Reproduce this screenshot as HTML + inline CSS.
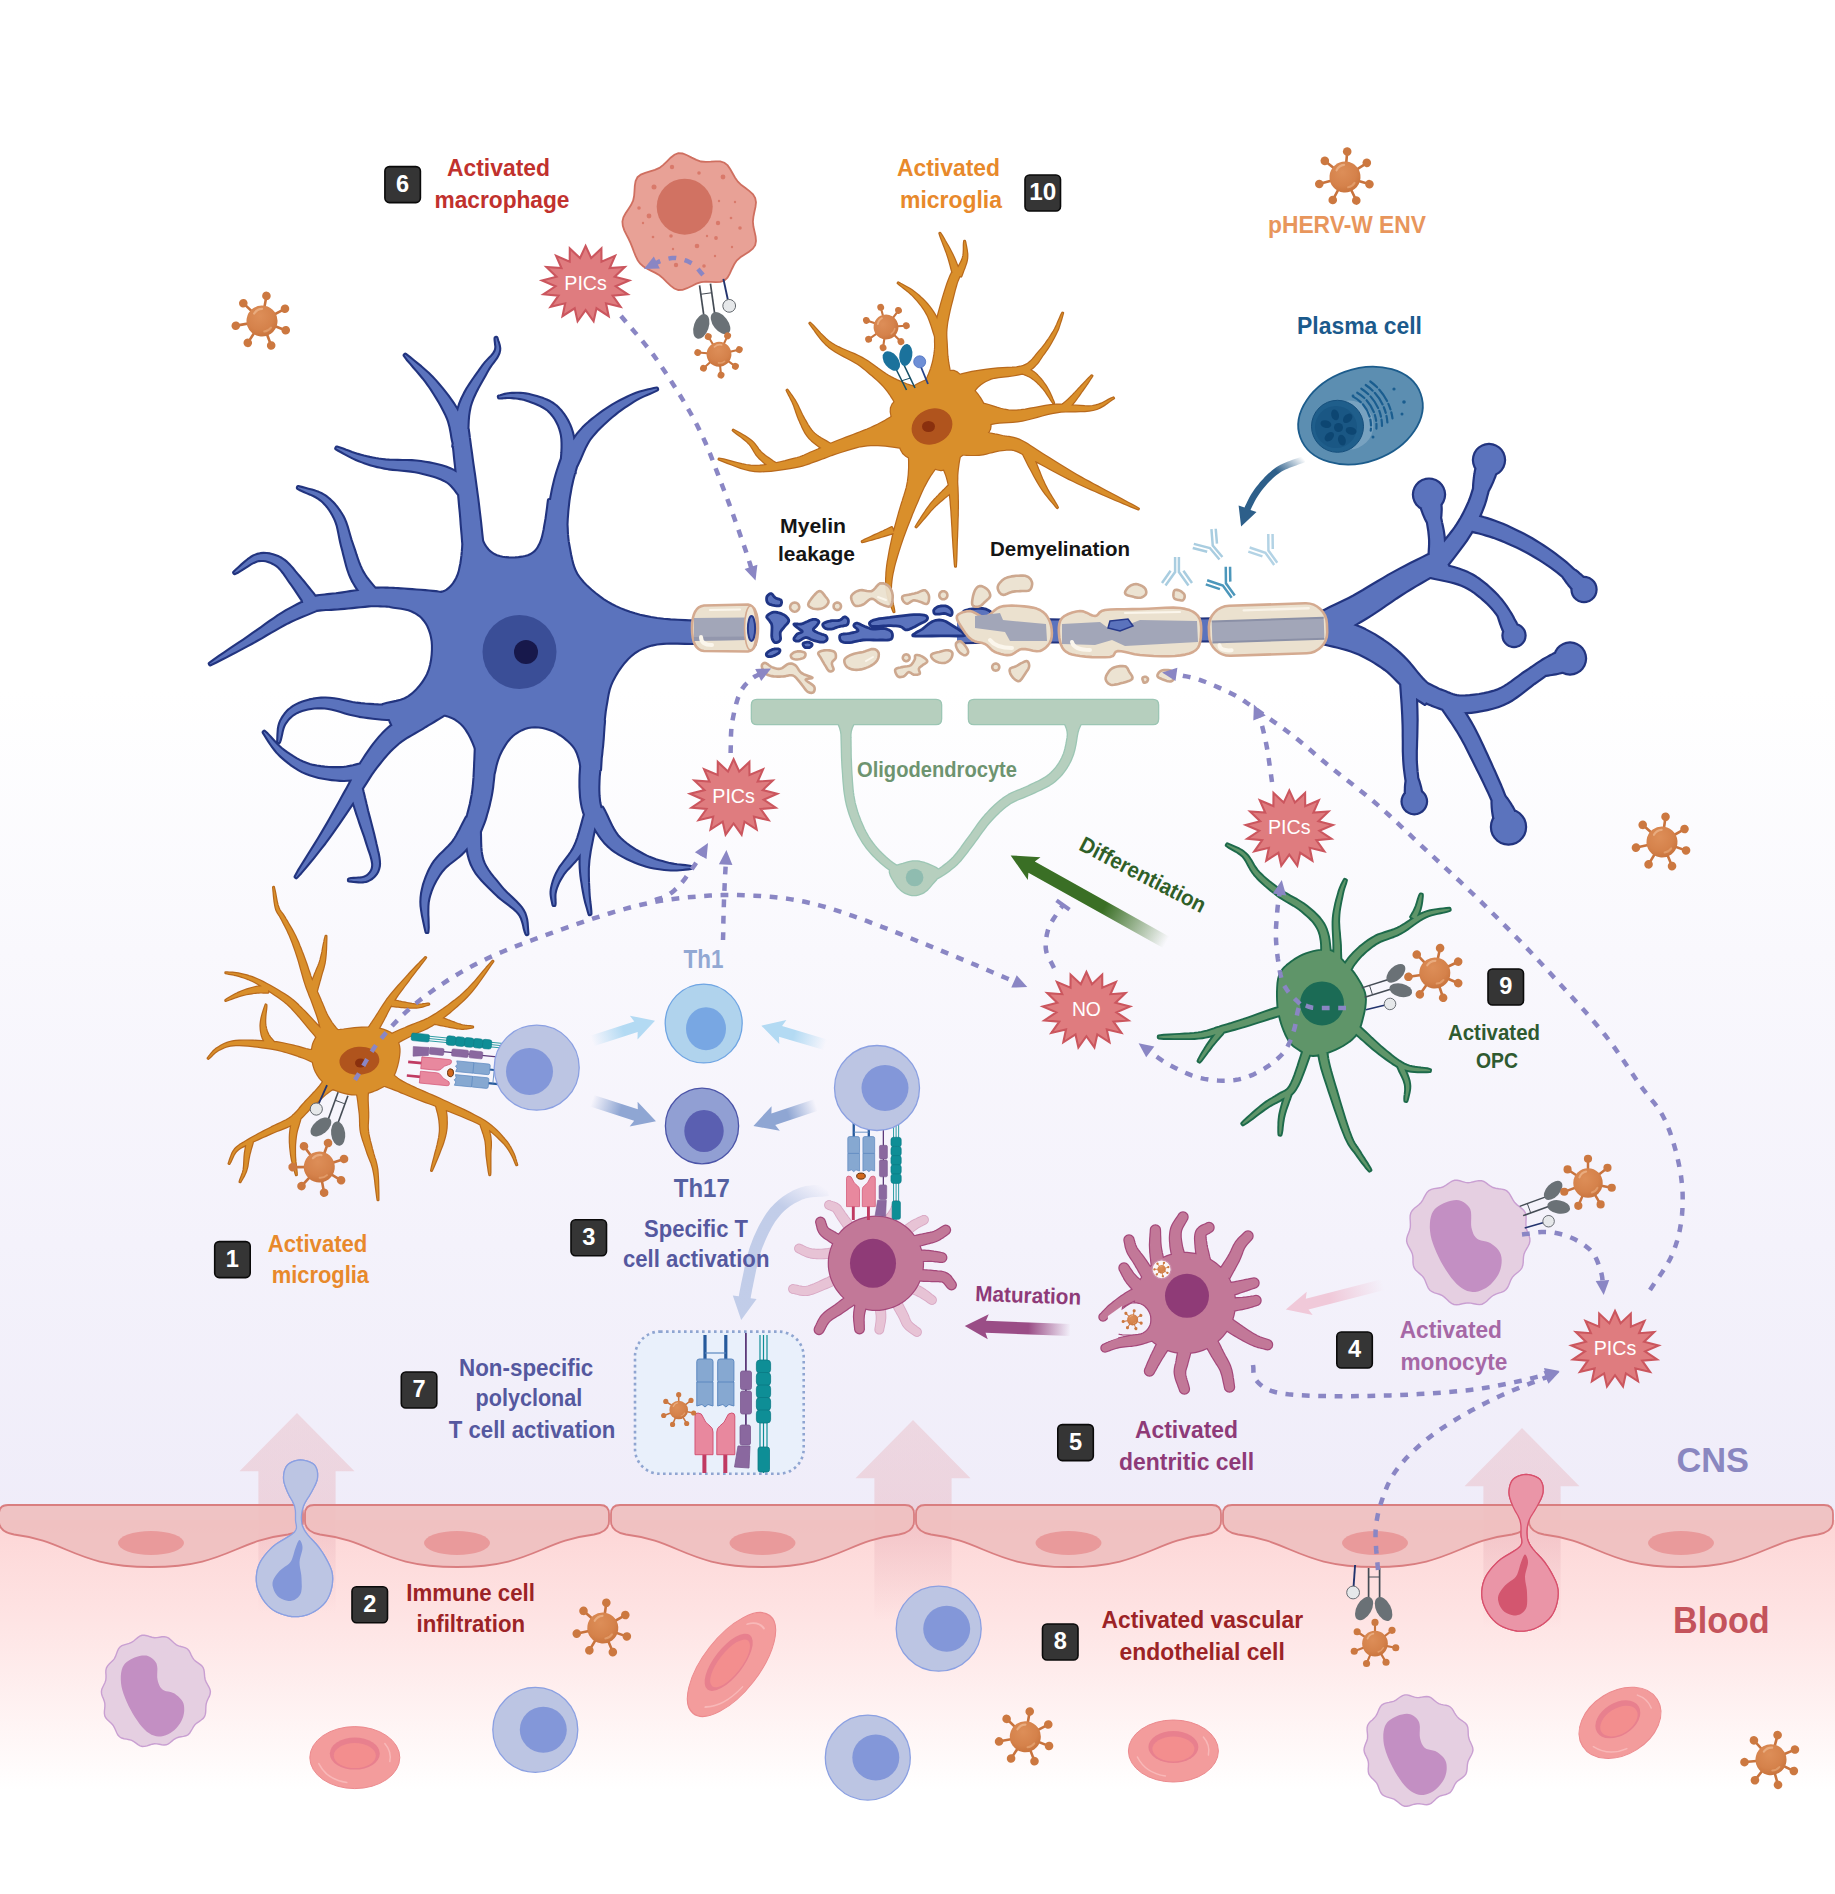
<!DOCTYPE html><html><head><meta charset="utf-8"><title>pHERV-W ENV in MS</title><style>html,body{margin:0;padding:0;background:#fff}svg{display:block}</style></head><body><svg width="1835" height="1894" viewBox="0 0 1835 1894" font-family="'Liberation Sans', sans-serif"><defs>
<linearGradient id="gCNS" x1="0" y1="0" x2="0" y2="1"><stop offset="0" stop-color="#ffffff"/><stop offset="0.45" stop-color="#ffffff"/><stop offset="0.62" stop-color="#f9f8fd"/><stop offset="1" stop-color="#efecf9"/></linearGradient>
<linearGradient id="gBlood" x1="0" y1="0" x2="0" y2="1"><stop offset="0" stop-color="#fdd6d6"/><stop offset="0.35" stop-color="#fee3e3"/><stop offset="1" stop-color="#ffffff"/></linearGradient>
<linearGradient id="gUp" x1="0" y1="0" x2="0" y2="1"><stop offset="0" stop-color="#e8b8c0" stop-opacity="0.42"/><stop offset="0.55" stop-color="#e8b0b8" stop-opacity="0.42"/><stop offset="1" stop-color="#e8b0b8" stop-opacity="0"/></linearGradient>
<radialGradient id="gVir" cx="0.4" cy="0.35" r="0.75"><stop offset="0" stop-color="#dd8e58"/><stop offset="0.6" stop-color="#d5824b"/><stop offset="1" stop-color="#c56f38"/></radialGradient>
<g id="virus">
<g stroke="#c8733d" stroke-width="2.6" stroke-linecap="round">
<line x1="0" y1="0" x2="0" y2="-25"/><line x1="0" y1="0" x2="20" y2="-15.5"/><line x1="0" y1="0" x2="24.5" y2="5"/><line x1="0" y1="0" x2="13" y2="22"/><line x1="0" y1="0" x2="-10" y2="23.5"/><line x1="0" y1="0" x2="-24.5" y2="9"/><line x1="0" y1="0" x2="-21" y2="-14"/>
</g>
<g fill="#cc7840">
<circle cx="0" cy="-25.5" r="4.3"/><circle cx="20.5" cy="-16" r="4.3"/><circle cx="25" cy="5" r="4.3"/><circle cx="13.3" cy="22.5" r="4.3"/><circle cx="-10.2" cy="24" r="4.3"/><circle cx="-25" cy="9.2" r="4.3"/><circle cx="-21.5" cy="-14.3" r="4.3"/>
</g>
<circle cx="0" cy="0" r="15.5" fill="url(#gVir)"/>
<path d="M-9,-6 Q-7,-11 -2,-12" stroke="#ecb48a" stroke-width="2.2" fill="none" stroke-linecap="round" opacity="0.8"/>
<path d="M4,10 Q8,9 10,5" stroke="#e8a878" stroke-width="2" fill="none" stroke-linecap="round" opacity="0.7"/>
</g>
<g id="lymph"><circle r="42.5" fill="#bcc5e3" stroke="#8ba0e2" stroke-width="1.3"/><ellipse cx="8" cy="0" rx="23.5" ry="23" fill="#8397d9"/></g>
<g id="rbc"><ellipse rx="45" ry="31" fill="#f39c9c" stroke="#ec8a8e" stroke-width="1"/><ellipse cx="0" cy="-4" rx="25" ry="16" fill="#e8808e"/><ellipse cx="0" cy="-2" rx="21" ry="12.5" fill="#f38e8e"/><path d="M-36,6 Q-28,22 -8,25" stroke="#f8b8b8" stroke-width="1.5" fill="none" stroke-linecap="round"/><path d="M30,-14 Q37,-6 35,4" stroke="#f8b8b8" stroke-width="1.5" fill="none" stroke-linecap="round"/></g>
<g id="rec">
<line x1="-5.5" y1="0" x2="-5.5" y2="30" stroke="#454c55" stroke-width="1.7"/><line x1="5.5" y1="0" x2="5.5" y2="30" stroke="#454c55" stroke-width="1.7"/><line x1="-5.5" y1="9" x2="5.5" y2="9" stroke="#454c55" stroke-width="1"/>
<ellipse cx="-9.5" cy="41" rx="7.4" ry="12.8" transform="rotate(27 -9.5 41)" fill="#6a7176"/><ellipse cx="10" cy="40.5" rx="7.4" ry="12.8" transform="rotate(-30 10 40.5)" fill="#6a7176"/>
<line x1="19" y1="-3" x2="20.5" y2="18" stroke="#23346e" stroke-width="1.9"/><circle cx="21" cy="24.5" r="6.4" fill="#e6e8ea" stroke="#5a5f66" stroke-width="0.9"/>
</g>
</defs><rect x="0" y="0" width="1835" height="1894" fill="#ffffff"/><rect x="0" y="0" width="1835" height="1535" fill="url(#gCNS)"/><rect x="0" y="1520" width="1835" height="270" fill="url(#gBlood)"/><path d="M297,1413 L354.5,1471.3 L335.6,1471.3 L335.6,1613 L258.4,1613 L258.4,1471.3 L239.5,1471.3Z" fill="url(#gUp)"/><path d="M913,1420 L970.5,1478.3 L951.6,1478.3 L951.6,1620 L874.4,1620 L874.4,1478.3 L855.5,1478.3Z" fill="url(#gUp)"/><path d="M1522,1428 L1579.5,1486.3 L1560.6,1486.3 L1560.6,1628 L1483.4,1628 L1483.4,1486.3 L1464.5,1486.3Z" fill="url(#gUp)"/><path d="M210.4,1691.6L210.1,1694 209.3,1696.4 208.1,1698.8 207,1701.3 206.2,1703.8 205.9,1706.3 205.8,1709 205.7,1711.7 205.4,1714.2 204.6,1716.5 203.2,1718.4 201.2,1720 199,1721.6 196.8,1723.1 194.9,1724.8 193.4,1726.8 192.2,1729 190.9,1731.2 189.6,1733.2 187.9,1734.8 185.9,1735.8 183.5,1736.4 181,1736.8 178.5,1737.3 176.2,1738.1 174.1,1739.3 172.2,1740.9 170.3,1742.5 168.4,1743.9 166.3,1744.8 164,1745 161.7,1744.8 159.3,1744.3 156.9,1743.9 154.5,1743.8 152.1,1744.2 149.6,1745 147.1,1745.9 144.7,1746.4 142.3,1746.5 140.1,1745.8 138,1744.6 136,1743.1 133.9,1741.6 131.7,1740.4 129.2,1739.7 126.6,1739.1 124,1738.7 121.6,1738 119.5,1736.8 117.9,1735 116.7,1732.7 115.6,1730.3 114.5,1727.8 113.2,1725.5 111.5,1723.6 109.6,1721.8 107.7,1720.1 106.1,1718.3 104.9,1716.2 104.4,1713.8 104.4,1711.2 104.7,1708.5 104.9,1705.9 104.8,1703.3 104.2,1700.9 103.3,1698.5 102.3,1696.2 101.6,1693.9 101.4,1691.6 101.8,1689.3 102.8,1687 103.9,1684.8 105,1682.5 105.8,1680.1 106,1677.7 106,1675.1 105.8,1672.5 105.9,1670.1 106.5,1667.8 107.6,1665.8 109.2,1664 111,1662.3 112.8,1660.6 114.4,1658.6 115.5,1656.4 116.5,1653.8 117.4,1651.3 118.5,1648.9 120,1647 121.9,1645.7 124.2,1644.8 126.7,1644.1 129.2,1643.4 131.5,1642.4 133.7,1641 135.7,1639.3 137.7,1637.6 139.8,1636.2 142,1635.3 144.4,1635.2 146.9,1635.7 149.4,1636.5 152,1637.2 154.5,1637.7 157,1637.6 159.5,1637.2 161.9,1636.8 164.3,1636.7 166.6,1637.1 168.7,1638.1 170.6,1639.7 172.5,1641.6 174.4,1643.3 176.4,1644.8 178.6,1645.8 181,1646.5 183.3,1647.1 185.5,1647.9 187.5,1649 189,1650.7 190.2,1652.8 191.2,1655.1 192.4,1657.3 193.7,1659.4 195.5,1661.1 197.6,1662.6 199.7,1664.1 201.6,1665.6 203.1,1667.5 203.9,1669.7 204.3,1672.1 204.5,1674.6 204.7,1677.2 205.2,1679.7 206.2,1682.1 207.5,1684.5 208.8,1686.8 209.9,1689.2Z" fill="#e5cfe1" stroke="#c99fd2" stroke-width="1.4"/><path d="M132.5,1658.6L134.6,1657.6 137,1656.7 139.5,1656 142,1655.6 144.4,1655.4 146.5,1655.6 148.5,1656.2 150.5,1657.2 152.3,1658.4 154,1659.9 155.4,1661.7 156.5,1663.6 157.1,1665.9 157.4,1668.6 157.3,1671.5 157.2,1674.4 157.2,1677.2 157.5,1679.6 158,1681.7 158.6,1683.6 159.3,1685.3 160.2,1686.9 161.2,1688.3 162.5,1689.6 164.1,1690.5 166.1,1691.2 168.2,1691.6 170.5,1692 172.6,1692.7 174.5,1693.6 176.3,1694.9 178.1,1696.3 179.8,1697.9 181.4,1699.7 182.6,1701.6 183.5,1703.6 184,1705.8 184.2,1708.3 184.2,1710.9 183.9,1713.6 183.3,1716.2 182.5,1718.6 181.4,1721 180,1723.4 178.3,1725.7 176.5,1727.9 174.5,1729.9 172.5,1731.6 170.4,1733 168.1,1734.3 165.8,1735.3 163.3,1736.1 160.9,1736.6 158.5,1736.6 156.2,1736.3 153.8,1735.6 151.5,1734.7 149.2,1733.3 146.8,1731.7 144.5,1729.6 142.1,1727.1 139.6,1724 137.2,1720.6 134.8,1717 132.5,1713.3 130.5,1709.6 128.6,1705.9 126.8,1702 125.1,1698 123.6,1694.1 122.4,1690.2 121.5,1686.6 121,1683.1 120.8,1679.6 120.8,1676.2 121.1,1673 121.7,1670.1 122.5,1667.6 123.6,1665.5 125,1663.6 126.7,1662.1 128.5,1660.8 130.5,1659.6Z" fill="#c38fc3"/><path d="M1473,1750L1472.5,1752.4 1471.5,1754.8 1470.2,1757.2 1468.9,1759.6 1467.9,1762 1467.4,1764.5 1467.2,1767 1467,1769.6 1466.6,1772 1465.8,1774.2 1464.3,1776.1 1462.4,1777.6 1460.3,1779.1 1458.2,1780.6 1456.3,1782.3 1454.9,1784.3 1453.8,1786.6 1452.7,1788.8 1451.5,1790.9 1450,1792.6 1448,1793.7 1445.8,1794.5 1443.4,1795.1 1441,1795.7 1438.8,1796.7 1436.8,1798.1 1434.9,1799.9 1433,1801.7 1431.1,1803.3 1429,1804.3 1426.8,1804.7 1424.4,1804.5 1422,1804.1 1419.5,1803.8 1417,1803.7 1414.5,1804.2 1412,1804.9 1409.4,1805.7 1406.9,1806.2 1404.6,1806.2 1402.3,1805.3 1400.2,1803.9 1398.2,1802.3 1396.1,1800.6 1394,1799.2 1391.6,1798.3 1389.1,1797.6 1386.6,1796.9 1384.3,1796 1382.4,1794.7 1380.9,1792.8 1379.8,1790.5 1378.8,1787.9 1377.9,1785.4 1376.7,1783.1 1375.1,1781.2 1373.4,1779.4 1371.5,1777.7 1370,1775.9 1368.8,1773.9 1368.3,1771.6 1368.2,1769.1 1368.4,1766.5 1368.5,1763.9 1368.2,1761.5 1367.5,1759.1 1366.4,1756.8 1365.3,1754.6 1364.4,1752.3 1364,1750 1364.3,1747.7 1365,1745.4 1365.9,1743.1 1366.9,1740.8 1367.5,1738.4 1367.6,1735.8 1367.4,1733.1 1367.1,1730.4 1367.1,1727.9 1367.6,1725.5 1368.8,1723.4 1370.4,1721.6 1372.3,1719.9 1374.2,1718.1 1375.8,1716.2 1377.1,1713.9 1378.1,1711.4 1379.2,1708.9 1380.4,1706.6 1382,1704.8 1384.1,1703.6 1386.5,1702.9 1389.1,1702.4 1391.7,1701.8 1394.1,1701.1 1396.3,1699.8 1398.4,1698.3 1400.5,1696.8 1402.6,1695.6 1404.8,1694.9 1407.1,1694.9 1409.6,1695.5 1412.1,1696.3 1414.6,1697.1 1417,1697.6 1419.4,1697.5 1421.8,1697.1 1424.2,1696.7 1426.6,1696.5 1428.8,1696.8 1430.9,1697.7 1432.8,1699.1 1434.7,1700.7 1436.6,1702.3 1438.7,1703.6 1441,1704.4 1443.4,1704.9 1445.9,1705.3 1448.3,1705.9 1450.3,1707 1452,1708.6 1453.3,1710.6 1454.5,1712.8 1455.8,1714.9 1457.3,1716.9 1459.1,1718.6 1461.3,1720.2 1463.5,1721.7 1465.5,1723.3 1467,1725.2 1467.8,1727.5 1468.1,1730 1468.2,1732.6 1468.3,1735.3 1468.7,1737.8 1469.5,1740.3 1470.7,1742.8 1471.8,1745.2 1472.7,1747.6Z" fill="#e5cfe1" stroke="#c99fd2" stroke-width="1.4"/><path d="M1395,1717L1397.1,1716 1399.5,1715.1 1402,1714.4 1404.5,1714 1406.9,1713.8 1409,1714 1411,1714.6 1413,1715.6 1414.8,1716.8 1416.5,1718.3 1417.9,1720.1 1419,1722 1419.6,1724.3 1419.9,1727 1419.8,1729.9 1419.7,1732.8 1419.7,1735.6 1420,1738 1420.5,1740.1 1421.1,1742 1421.8,1743.8 1422.7,1745.3 1423.7,1746.8 1425,1748 1426.6,1748.9 1428.6,1749.6 1430.8,1750 1433,1750.4 1435.1,1751.1 1437,1752 1438.8,1753.3 1440.6,1754.7 1442.3,1756.3 1443.9,1758.1 1445.1,1760 1446,1762 1446.5,1764.2 1446.7,1766.7 1446.7,1769.3 1446.4,1772 1445.8,1774.6 1445,1777 1443.9,1779.4 1442.5,1781.8 1440.8,1784.1 1439,1786.3 1437,1788.3 1435,1790 1432.9,1791.4 1430.6,1792.7 1428.2,1793.8 1425.8,1794.5 1423.4,1795 1421,1795 1418.7,1794.7 1416.3,1794 1414,1793.1 1411.7,1791.7 1409.3,1790.1 1407,1788 1404.6,1785.5 1402.1,1782.4 1399.7,1779 1397.3,1775.4 1395,1771.7 1393,1768 1391.1,1764.3 1389.3,1760.4 1387.6,1756.4 1386.1,1752.5 1384.9,1748.6 1384,1745 1383.5,1741.5 1383.3,1738 1383.3,1734.6 1383.6,1731.4 1384.2,1728.5 1385,1726 1386.1,1723.9 1387.5,1722 1389.2,1720.5 1391,1719.2 1393,1718Z" fill="#c38fc3"/><use href="#rbc" transform="translate(354.8 1757.6)"/><use href="#rbc" transform="translate(1173.4 1751)"/><use href="#rbc" transform="translate(731.5 1664.5) rotate(-52) scale(1.38 0.9)"/><use href="#rbc" transform="translate(1620 1722.8) rotate(-32) scale(0.98 1.02)"/><use href="#lymph" transform="translate(535.3 1729.8)"/><use href="#lymph" transform="translate(938.7 1628.7)"/><use href="#lymph" transform="translate(867.8 1757.6)"/><path d="M300.5,1460L302.9,1460.2 305.5,1460.6 308.1,1461.4 310.6,1462.4 312.8,1463.6 314.5,1465 315.7,1466.7 316.6,1468.7 317.2,1470.9 317.6,1473.3 317.6,1475.7 317.5,1478 317,1480.3 316.2,1482.6 315.2,1484.9 314,1487.3 312.7,1489.7 311.5,1492 310.2,1494.3 308.8,1496.7 307.2,1499 305.8,1501.3 304.5,1503.7 303.5,1506 302.8,1508.4 302.2,1510.7 301.8,1513.1 301.5,1515.5 301.4,1517.8 301.5,1520 301.7,1522 301.9,1523.9 302.4,1525.7 303.1,1527.6 304.1,1529.6 305.5,1532 307.5,1534.7 310.1,1537.6 313.1,1540.8 316.1,1544 319,1547.5 321.5,1551 323.8,1554.7 326.1,1558.6 328.3,1562.7 330.2,1566.8 331.7,1570.9 332.5,1575 332.7,1579.1 332.4,1583.4 331.7,1587.6 330.6,1591.7 329.2,1595.6 327.5,1599 325.5,1602 323.1,1604.8 320.4,1607.3 317.5,1609.5 314.5,1611.4 311.5,1613 308.4,1614.3 305.2,1615.4 301.8,1616.2 298.4,1616.6 294.9,1616.7 291.5,1616.5 288,1615.9 284.3,1615 280.6,1613.7 276.9,1612.1 273.5,1610.2 270.5,1608 267.7,1605.4 265.1,1602.3 262.6,1598.8 260.5,1595.2 258.8,1591.6 257.5,1588 256.7,1584.4 256.3,1580.7 256.3,1576.9 256.7,1573.2 257.4,1569.5 258.5,1566 260,1562.6 261.9,1559.3 264.2,1556.1 266.8,1552.9 269.6,1549.9 272.5,1547 275.9,1544.2 280,1541.6 284.3,1539.1 288.4,1536.6 292,1534.3 294.5,1532 295.9,1529.8 296.5,1527.9 296.4,1525.9 296.1,1524 295.7,1522.1 295.5,1520 295.5,1517.8 295.5,1515.5 295.5,1513.1 295.4,1510.7 295,1508.4 294.5,1506 293.6,1503.7 292.5,1501.3 291.2,1499 289.8,1496.7 288.6,1494.3 287.5,1492 286.6,1489.7 285.6,1487.3 284.8,1484.9 284.1,1482.6 283.7,1480.3 283.5,1478 283.6,1475.7 283.9,1473.3 284.4,1470.9 285.2,1468.7 286.2,1466.7 287.5,1465 289.1,1463.6 291.1,1462.4 293.4,1461.4 295.8,1460.6 298.2,1460.2Z" fill="#bcc5e3" stroke="#8ba0e2" stroke-width="1.3"/><path d="M299.5,1540L300.1,1540.3 300.8,1541.3 301.4,1542.6 302,1544.3 302.4,1546.1 302.5,1548 302.3,1550 301.8,1552.1 301.1,1554.5 300.4,1557 299.8,1559.5 299.5,1562 299.6,1564.6 299.9,1567.2 300.4,1569.9 300.9,1572.6 301.3,1575.3 301.5,1578 301.6,1580.8 301.7,1583.7 301.8,1586.6 301.6,1589.3 301.2,1591.9 300.5,1594 299.4,1595.8 297.9,1597.4 296.2,1598.8 294.4,1599.9 292.4,1600.6 290.5,1601 288.4,1601 286.1,1600.5 283.7,1599.8 281.4,1598.7 279.2,1597.4 277.5,1596 276.1,1594.3 274.8,1592.2 273.8,1589.9 273,1587.6 272.5,1585.2 272.5,1583 272.9,1580.9 273.8,1578.8 275,1576.8 276.4,1574.7 278,1572.8 279.5,1571 281.2,1569.4 283.1,1568 285.1,1566.6 287.1,1565.3 289,1563.8 290.5,1562 291.7,1559.9 292.6,1557.5 293.4,1554.9 294.1,1552.4 294.8,1550 295.5,1548 296.2,1546.1 296.9,1544.3 297.6,1542.6 298.3,1541.3 298.9,1540.3Z" fill="#8397d9"/><path d="M1526,1474.5L1528.4,1474.7 1531,1475.1 1533.6,1475.9 1536.1,1476.9 1538.3,1478.1 1540,1479.5 1541.2,1481.2 1542.1,1483.2 1542.8,1485.4 1543.1,1487.8 1543.1,1490.2 1543,1492.5 1542.5,1494.8 1541.7,1497.1 1540.7,1499.4 1539.5,1501.8 1538.2,1504.2 1537,1506.5 1535.7,1508.8 1534.3,1511.2 1532.8,1513.5 1531.3,1515.8 1530,1518.2 1529,1520.5 1528.2,1522.9 1527.7,1525.2 1527.2,1527.6 1527,1530 1526.9,1532.3 1527,1534.5 1527.2,1536.5 1527.4,1538.4 1527.9,1540.2 1528.6,1542.1 1529.6,1544.1 1531,1546.5 1533,1549.2 1535.6,1552.1 1538.6,1555.2 1541.6,1558.5 1544.5,1562 1547,1565.5 1549.3,1569.2 1551.6,1573.1 1553.8,1577.2 1555.7,1581.3 1557.2,1585.4 1558,1589.5 1558.2,1593.6 1557.9,1597.9 1557.2,1602.1 1556.1,1606.2 1554.7,1610.1 1553,1613.5 1551,1616.5 1548.6,1619.3 1545.9,1621.8 1543,1624 1540,1625.9 1537,1627.5 1533.9,1628.8 1530.7,1629.9 1527.3,1630.7 1523.9,1631.1 1520.4,1631.2 1517,1631 1513.5,1630.4 1509.8,1629.5 1506.1,1628.2 1502.4,1626.6 1499,1624.7 1496,1622.5 1493.2,1619.9 1490.6,1616.8 1488.1,1613.3 1486,1609.7 1484.3,1606.1 1483,1602.5 1482.2,1598.9 1481.8,1595.2 1481.8,1591.4 1482.2,1587.7 1482.9,1584 1484,1580.5 1485.5,1577.1 1487.4,1573.8 1489.7,1570.6 1492.3,1567.4 1495.1,1564.4 1498,1561.5 1501.4,1558.7 1505.5,1556.1 1509.8,1553.6 1513.9,1551.1 1517.5,1548.8 1520,1546.5 1521.4,1544.3 1522,1542.4 1521.9,1540.4 1521.6,1538.5 1521.2,1536.6 1521,1534.5 1521,1532.3 1521,1530 1521,1527.6 1520.9,1525.2 1520.5,1522.9 1520,1520.5 1519.1,1518.2 1518,1515.8 1516.7,1513.5 1515.3,1511.2 1514.1,1508.8 1513,1506.5 1512.1,1504.2 1511.1,1501.8 1510.3,1499.4 1509.6,1497.1 1509.2,1494.8 1509,1492.5 1509.1,1490.2 1509.4,1487.8 1509.9,1485.4 1510.7,1483.2 1511.7,1481.2 1513,1479.5 1514.6,1478.1 1516.6,1476.9 1518.9,1475.9 1521.3,1475.1 1523.7,1474.7Z" fill="#ea95a7" stroke="#d8506c" stroke-width="1.3"/><path d="M1525,1554.5L1525.6,1554.8 1526.3,1555.8 1526.9,1557.1 1527.5,1558.8 1527.9,1560.6 1528,1562.5 1527.8,1564.5 1527.3,1566.6 1526.6,1569 1525.9,1571.5 1525.3,1574 1525,1576.5 1525.1,1579.1 1525.4,1581.7 1525.9,1584.4 1526.4,1587.1 1526.8,1589.8 1527,1592.5 1527.1,1595.3 1527.2,1598.2 1527.2,1601.1 1527.1,1603.8 1526.7,1606.4 1526,1608.5 1524.9,1610.3 1523.4,1611.9 1521.8,1613.3 1519.9,1614.4 1517.9,1615.1 1516,1615.5 1513.9,1615.5 1511.6,1615 1509.2,1614.2 1506.9,1613.2 1504.7,1611.9 1503,1610.5 1501.6,1608.8 1500.3,1606.7 1499.2,1604.4 1498.5,1602.1 1498,1599.7 1498,1597.5 1498.4,1595.4 1499.3,1593.3 1500.5,1591.2 1501.9,1589.2 1503.5,1587.3 1505,1585.5 1506.7,1583.9 1508.6,1582.5 1510.6,1581.1 1512.6,1579.8 1514.5,1578.3 1516,1576.5 1517.2,1574.4 1518.1,1572 1518.9,1569.4 1519.6,1566.9 1520.3,1564.5 1521,1562.5 1521.7,1560.6 1522.4,1558.8 1523.1,1557.1 1523.8,1555.8 1524.4,1554.8Z" fill="#d3566f"/><path d="M8,1505 L294,1505 Q303,1505 303,1514 L303,1521 Q303,1532 288,1534.5 C234,1541 226,1567 151,1567 C76,1567 68,1541 14,1534.5 Q-1,1532 -1,1521 L-1,1514 Q-1,1505 8,1505Z" fill="#efbfbf" stroke="#d97e80" stroke-width="1.8" fill-opacity="0.93"/><ellipse cx="151" cy="1543" rx="33" ry="12" fill="#e99a9b"/><path d="M314,1505 L600,1505 Q609,1505 609,1514 L609,1521 Q609,1532 594,1534.5 C540,1541 532,1567 457,1567 C382,1567 374,1541 320,1534.5 Q305,1532 305,1521 L305,1514 Q305,1505 314,1505Z" fill="#efbfbf" stroke="#d97e80" stroke-width="1.8" fill-opacity="0.93"/><ellipse cx="457" cy="1543" rx="33" ry="12" fill="#e99a9b"/><path d="M620,1505 L905,1505 Q914,1505 914,1514 L914,1521 Q914,1532 899,1534.5 C845,1541 837.5,1567 762.5,1567 C687.5,1567 680,1541 626,1534.5 Q611,1532 611,1521 L611,1514 Q611,1505 620,1505Z" fill="#efbfbf" stroke="#d97e80" stroke-width="1.8" fill-opacity="0.93"/><ellipse cx="762.5" cy="1543" rx="33" ry="12" fill="#e99a9b"/><path d="M925,1505 L1212,1505 Q1221,1505 1221,1514 L1221,1521 Q1221,1532 1206,1534.5 C1152,1541 1143.5,1567 1068.5,1567 C993.5,1567 985,1541 931,1534.5 Q916,1532 916,1521 L916,1514 Q916,1505 925,1505Z" fill="#efbfbf" stroke="#d97e80" stroke-width="1.8" fill-opacity="0.93"/><ellipse cx="1068.5" cy="1543" rx="33" ry="12" fill="#e99a9b"/><path d="M1232,1505 L1518,1505 Q1527,1505 1527,1514 L1527,1521 Q1527,1532 1512,1534.5 C1458,1541 1450,1567 1375,1567 C1300,1567 1292,1541 1238,1534.5 Q1223,1532 1223,1521 L1223,1514 Q1223,1505 1232,1505Z" fill="#efbfbf" stroke="#d97e80" stroke-width="1.8" fill-opacity="0.93"/><ellipse cx="1375" cy="1543" rx="33" ry="12" fill="#e99a9b"/><path d="M1538,1505 L1824,1505 Q1833,1505 1833,1514 L1833,1521 Q1833,1532 1818,1534.5 C1764,1541 1756,1567 1681,1567 C1606,1567 1598,1541 1544,1534.5 Q1529,1532 1529,1521 L1529,1514 Q1529,1505 1538,1505Z" fill="#efbfbf" stroke="#d97e80" stroke-width="1.8" fill-opacity="0.93"/><ellipse cx="1681" cy="1543" rx="33" ry="12" fill="#e99a9b"/><path d="M300.5,1460L302.9,1460.2 305.5,1460.6 308.1,1461.4 310.6,1462.4 312.8,1463.6 314.5,1465 315.7,1466.7 316.6,1468.7 317.2,1470.9 317.6,1473.3 317.6,1475.7 317.5,1478 317,1480.3 316.2,1482.6 315.2,1484.9 314,1487.3 312.7,1489.7 311.5,1492 310.2,1494.3 308.8,1496.7 307.2,1499 305.8,1501.3 304.5,1503.7 303.5,1506 302.8,1508.4 302.2,1510.7 301.8,1513.1 301.5,1515.5 301.4,1517.8 301.5,1520 301.7,1522 301.9,1523.9 302.4,1525.7 303.1,1527.6 304.1,1529.6 305.5,1532 307.5,1534.7 310.1,1537.6 313.1,1540.8 316.1,1544 319,1547.5 321.5,1551 323.8,1554.7 326.1,1558.6 328.3,1562.7 330.2,1566.8 331.7,1570.9 332.5,1575 332.7,1579.1 332.4,1583.4 331.7,1587.6 330.6,1591.7 329.2,1595.6 327.5,1599 325.5,1602 323.1,1604.8 320.4,1607.3 317.5,1609.5 314.5,1611.4 311.5,1613 308.4,1614.3 305.2,1615.4 301.8,1616.2 298.4,1616.6 294.9,1616.7 291.5,1616.5 288,1615.9 284.3,1615 280.6,1613.7 276.9,1612.1 273.5,1610.2 270.5,1608 267.7,1605.4 265.1,1602.3 262.6,1598.8 260.5,1595.2 258.8,1591.6 257.5,1588 256.7,1584.4 256.3,1580.7 256.3,1576.9 256.7,1573.2 257.4,1569.5 258.5,1566 260,1562.6 261.9,1559.3 264.2,1556.1 266.8,1552.9 269.6,1549.9 272.5,1547 275.9,1544.2 280,1541.6 284.3,1539.1 288.4,1536.6 292,1534.3 294.5,1532 295.9,1529.8 296.5,1527.9 296.4,1525.9 296.1,1524 295.7,1522.1 295.5,1520 295.5,1517.8 295.5,1515.5 295.5,1513.1 295.4,1510.7 295,1508.4 294.5,1506 293.6,1503.7 292.5,1501.3 291.2,1499 289.8,1496.7 288.6,1494.3 287.5,1492 286.6,1489.7 285.6,1487.3 284.8,1484.9 284.1,1482.6 283.7,1480.3 283.5,1478 283.6,1475.7 283.9,1473.3 284.4,1470.9 285.2,1468.7 286.2,1466.7 287.5,1465 289.1,1463.6 291.1,1462.4 293.4,1461.4 295.8,1460.6 298.2,1460.2Z" fill="#bcc5e3" stroke="#8ba0e2" stroke-width="1.3"/><path d="M299.5,1540L300.1,1540.3 300.8,1541.3 301.4,1542.6 302,1544.3 302.4,1546.1 302.5,1548 302.3,1550 301.8,1552.1 301.1,1554.5 300.4,1557 299.8,1559.5 299.5,1562 299.6,1564.6 299.9,1567.2 300.4,1569.9 300.9,1572.6 301.3,1575.3 301.5,1578 301.6,1580.8 301.7,1583.7 301.8,1586.6 301.6,1589.3 301.2,1591.9 300.5,1594 299.4,1595.8 297.9,1597.4 296.2,1598.8 294.4,1599.9 292.4,1600.6 290.5,1601 288.4,1601 286.1,1600.5 283.7,1599.8 281.4,1598.7 279.2,1597.4 277.5,1596 276.1,1594.3 274.8,1592.2 273.8,1589.9 273,1587.6 272.5,1585.2 272.5,1583 272.9,1580.9 273.8,1578.8 275,1576.8 276.4,1574.7 278,1572.8 279.5,1571 281.2,1569.4 283.1,1568 285.1,1566.6 287.1,1565.3 289,1563.8 290.5,1562 291.7,1559.9 292.6,1557.5 293.4,1554.9 294.1,1552.4 294.8,1550 295.5,1548 296.2,1546.1 296.9,1544.3 297.6,1542.6 298.3,1541.3 298.9,1540.3Z" fill="#8397d9"/><path d="M1526,1474.5L1528.4,1474.7 1531,1475.1 1533.6,1475.9 1536.1,1476.9 1538.3,1478.1 1540,1479.5 1541.2,1481.2 1542.1,1483.2 1542.8,1485.4 1543.1,1487.8 1543.1,1490.2 1543,1492.5 1542.5,1494.8 1541.7,1497.1 1540.7,1499.4 1539.5,1501.8 1538.2,1504.2 1537,1506.5 1535.7,1508.8 1534.3,1511.2 1532.8,1513.5 1531.3,1515.8 1530,1518.2 1529,1520.5 1528.2,1522.9 1527.7,1525.2 1527.2,1527.6 1527,1530 1526.9,1532.3 1527,1534.5 1527.2,1536.5 1527.4,1538.4 1527.9,1540.2 1528.6,1542.1 1529.6,1544.1 1531,1546.5 1533,1549.2 1535.6,1552.1 1538.6,1555.2 1541.6,1558.5 1544.5,1562 1547,1565.5 1549.3,1569.2 1551.6,1573.1 1553.8,1577.2 1555.7,1581.3 1557.2,1585.4 1558,1589.5 1558.2,1593.6 1557.9,1597.9 1557.2,1602.1 1556.1,1606.2 1554.7,1610.1 1553,1613.5 1551,1616.5 1548.6,1619.3 1545.9,1621.8 1543,1624 1540,1625.9 1537,1627.5 1533.9,1628.8 1530.7,1629.9 1527.3,1630.7 1523.9,1631.1 1520.4,1631.2 1517,1631 1513.5,1630.4 1509.8,1629.5 1506.1,1628.2 1502.4,1626.6 1499,1624.7 1496,1622.5 1493.2,1619.9 1490.6,1616.8 1488.1,1613.3 1486,1609.7 1484.3,1606.1 1483,1602.5 1482.2,1598.9 1481.8,1595.2 1481.8,1591.4 1482.2,1587.7 1482.9,1584 1484,1580.5 1485.5,1577.1 1487.4,1573.8 1489.7,1570.6 1492.3,1567.4 1495.1,1564.4 1498,1561.5 1501.4,1558.7 1505.5,1556.1 1509.8,1553.6 1513.9,1551.1 1517.5,1548.8 1520,1546.5 1521.4,1544.3 1522,1542.4 1521.9,1540.4 1521.6,1538.5 1521.2,1536.6 1521,1534.5 1521,1532.3 1521,1530 1521,1527.6 1520.9,1525.2 1520.5,1522.9 1520,1520.5 1519.1,1518.2 1518,1515.8 1516.7,1513.5 1515.3,1511.2 1514.1,1508.8 1513,1506.5 1512.1,1504.2 1511.1,1501.8 1510.3,1499.4 1509.6,1497.1 1509.2,1494.8 1509,1492.5 1509.1,1490.2 1509.4,1487.8 1509.9,1485.4 1510.7,1483.2 1511.7,1481.2 1513,1479.5 1514.6,1478.1 1516.6,1476.9 1518.9,1475.9 1521.3,1475.1 1523.7,1474.7Z" fill="#ea95a7" stroke="#d8506c" stroke-width="1.3"/><path d="M1525,1554.5L1525.6,1554.8 1526.3,1555.8 1526.9,1557.1 1527.5,1558.8 1527.9,1560.6 1528,1562.5 1527.8,1564.5 1527.3,1566.6 1526.6,1569 1525.9,1571.5 1525.3,1574 1525,1576.5 1525.1,1579.1 1525.4,1581.7 1525.9,1584.4 1526.4,1587.1 1526.8,1589.8 1527,1592.5 1527.1,1595.3 1527.2,1598.2 1527.2,1601.1 1527.1,1603.8 1526.7,1606.4 1526,1608.5 1524.9,1610.3 1523.4,1611.9 1521.8,1613.3 1519.9,1614.4 1517.9,1615.1 1516,1615.5 1513.9,1615.5 1511.6,1615 1509.2,1614.2 1506.9,1613.2 1504.7,1611.9 1503,1610.5 1501.6,1608.8 1500.3,1606.7 1499.2,1604.4 1498.5,1602.1 1498,1599.7 1498,1597.5 1498.4,1595.4 1499.3,1593.3 1500.5,1591.2 1501.9,1589.2 1503.5,1587.3 1505,1585.5 1506.7,1583.9 1508.6,1582.5 1510.6,1581.1 1512.6,1579.8 1514.5,1578.3 1516,1576.5 1517.2,1574.4 1518.1,1572 1518.9,1569.4 1519.6,1566.9 1520.3,1564.5 1521,1562.5 1521.7,1560.6 1522.4,1558.8 1523.1,1557.1 1523.8,1555.8 1524.4,1554.8Z" fill="#d3566f"/><use href="#rec" transform="translate(1374.1 1568) scale(-1 1)"/><path d="M476,500L476.5,504.2 477,508.6 477.4,512.9 477.9,517.2 478.4,521.2 479,525 479.5,528.5 480,531.7 480.5,534.8 481.1,537.7 481.9,540.4 483,543 484.3,545.4 485.9,547.8 487.6,549.9 489.6,551.9 491.7,553.6 494,555 496.6,556.2 499.4,557.1 502.5,557.7 505.7,558.2 508.9,558.4 512,558.5 515.2,558.4 518.6,558.2 522,557.7 525.3,557.1 528.3,556.2 531,555 533.2,553.6 535.2,552 536.9,550.1 538.4,548 539.7,545.6 541,543 542.1,540 543.1,536.7 543.9,533.1 544.7,529.4 545.3,525.7 546,522 546.6,518.4 547.1,514.7 547.6,511.1 548.1,507.4 548.5,503.7 549,500 566,500 566.1,504.2 566.1,508.5 566.2,512.8 566.2,517 566.3,521.1 566.5,525 566.7,528.6 566.8,531.8 567,535 567.3,538.1 567.7,541.6 568.4,545.4 569.2,549.8 570.1,554.7 571.2,559.8 572.5,564.9 574.2,569.8 576.5,574.4 579.4,578.6 582.8,582.7 586.6,586.6 590.7,590.3 594.9,593.8 599,597 603,599.9 607.1,602.5 611.3,604.9 615.6,607.1 620.1,609.1 624.8,611 629.7,612.7 634.7,614.3 639.8,615.7 645.2,616.9 650.9,618 657,619 663.5,619.8 670.5,620.4 677.8,620.8 685.3,621.2 692.7,621.6 700,622 700,643 692.6,643 685,642.8 677.4,642.6 670.1,642.5 663.2,642.8 657,643.5 651.6,644.6 646.8,646 642.5,647.7 638.5,649.7 634.7,652.1 631,655 627.3,658.5 623.7,662.5 620.3,667 617.1,671.6 614.4,676.2 612,680.7 610.2,684.9 608.8,689.1 607.8,693.2 607,697.4 606.3,701.8 605.5,706.5 604.7,711.5 604.1,716.8 603.5,722.3 602.9,727.8 602.5,733.3 602,738.7 601.6,744 601.2,749.2 600.9,754.4 600.6,759.6 600.3,764.8 600,770 582,775 581.7,772.5 581.5,770 581.3,767.5 581,765 580.6,762.5 580,760 579.3,757.5 578.5,755 577.6,752.5 576.4,750 574.9,747.5 573,745 570.6,742.4 567.7,739.8 564.5,737.1 561,734.6 557.5,732.4 554,730.6 550.4,729.2 546.6,728 542.7,727 538.8,726.4 535,726.2 531.4,726.4 527.9,727 524.5,728.1 521.1,729.5 517.9,731.2 514.8,733.2 512,735.5 509.4,738.1 506.9,741.1 504.7,744.3 502.6,747.8 500.7,751.3 499,754.8 497.6,758.4 496.4,762.1 495.4,765.8 494.6,769.7 493.7,773.5 492.7,777.3 477,777.3 477.1,773 477.3,768.7 477.6,764.5 477.7,760.2 477.4,755.9 476.6,751.6 475.3,747.1 473.5,742.5 471.4,737.8 469,733.3 466.5,729.3 463.8,725.8 461,722.9 457.9,720.4 454.7,718.3 451.3,716.7 447.9,715.4 444.4,714.5 440.9,714.1 437.3,714 433.6,714.4 429.8,715.2 425.9,716.3 421.9,717.7 417.8,719.5 413.5,721.9 409.2,724.6 404.8,727.5 400.4,730.3 396,733 383,705 387.4,703.8 391.9,702.9 396.4,701.9 400.9,700.7 405.1,699.2 409,697 412.7,694.2 416.4,690.8 419.8,687 423,682.9 425.7,678.7 428,674.4 429.8,669.9 431.1,665 432.1,659.9 432.7,654.8 433,649.9 433,645.4 432.7,641.2 432,637.1 431.1,633.2 429.8,629.5 428.4,626.1 426.7,623 424.8,620.3 422.7,617.8 420.4,615.6 417.8,613.7 415,612 412,610.5 408.7,609.3 405.1,608.4 401.3,607.8 397.4,607.2 393.5,606.7 389.7,606 396,590 400.4,590.6 404.8,591.4 409.2,592.1 413.6,592.7 417.9,593.2 422,593.5 426.1,593.7 430.1,593.8 434,593.9 437.8,593.6 441.3,593 444.4,592 447.2,590.5 449.7,588.5 451.9,586.3 453.9,583.7 455.7,580.9 457.3,577.9 458.7,574.7 459.8,571.1 460.6,567.3 461.4,563.4 462,559.3 462.5,555.3 462.9,551.2 463.2,547.1 463.4,542.9 463.5,538.6 463.5,534.1 463.5,529.6 463.4,524.9 463.2,520 462.9,515 462.6,510 462.3,505 462,500ZM466,576L465.7,572.3 465.4,568.8 465.2,565.4 464.9,561.9 464.6,558.3 464.2,554.5 463.9,550.4 463.5,545.9 463.1,541 462.7,535.7 462.2,530.1 461.7,524.3 461.3,518.4 460.8,512.5 460.2,506.7 459.7,501 459.2,495.2 458.5,489.3 457.9,483.3 457.3,477.3 456.6,471.5 456,465.9 455.4,460.7 454.9,456 454.5,451.9 454.1,448.3 453.8,445.1 453.5,442.2 453.2,439.4 452.9,436.7 452.6,433.9 452.3,430.9 467.7,429.1 468.1,432.1 468.5,434.9 468.8,437.6 469.2,440.3 469.6,443.2 470,446.4 470.5,449.9 471.1,454 471.7,458.7 472.4,463.8 473.2,469.4 474.1,475.2 474.9,481.2 475.7,487.2 476.5,493.2 477.3,499 478,504.8 478.7,510.7 479.4,516.6 480.1,522.5 480.7,528.3 481.3,533.9 481.9,539.2 482.5,544.1 483,548.5 483.5,552.6 483.9,556.4 484.3,560 484.7,563.4 485.1,566.9 485.5,570.4 486,574ZM453.8,444L453,440.5 452.3,437 451.8,433.6 451.2,430.4 450.6,427.3 449.8,424.2 448.9,421 447.6,417.6 446,414 444,410.1 441.9,406 439.5,401.8 437,397.6 434.4,393.4 431.8,389.3 429.1,385.4 426.3,381.6 423.4,377.8 420.3,374.1 417.2,370.5 414,366.8 410.8,363 407.6,359.3 404.7,355.3 405.3,354.7 409.2,357.7 413,360.8 416.8,363.9 420.6,367 424.3,370.3 428,373.6 431.5,377 434.9,380.6 438.2,384.4 441.5,388.3 444.7,392.3 447.8,396.3 450.8,400.4 453.6,404.5 456.1,408.5 458.4,412.4 460.4,416.2 462,420 463.3,423.7 464.4,427.2 465.4,430.5 466.3,433.8 467.2,436.8 468.2,440ZM453.3,446.3L454,441.1 454.6,435.9 455.2,430.5 455.8,425.1 456.5,419.6 457.4,414.2 458.6,408.8 460.3,403.5 462.4,398.4 464.9,393.4 467.6,388.6 470.6,384 473.5,379.6 476.4,375.5 479.1,371.8 481.4,368.4 483.7,365.3 485.9,362.6 488,360.3 490,358.2 491.8,356.4 493.3,354.7 494.5,353 495.4,351.4 496,349.8 496.3,348.2 496.4,346.6 496.2,345 496,343.3 495.8,341.6 495.6,339.8 495.6,338.1 496.4,337.9 496.9,339.6 497.4,341.2 498,342.8 498.5,344.5 498.9,346.3 499.2,348.3 499.1,350.4 498.6,352.6 497.7,354.8 496.5,357 495.1,359.1 493.5,361.2 491.8,363.4 490.1,365.8 488.3,368.5 486.6,371.6 484.6,375.2 482.3,379.3 479.9,383.5 477.4,388 475.1,392.6 472.9,397.3 471.1,402 469.7,406.5 468.8,411 468.1,415.8 467.7,420.8 467.5,426 467.3,431.3 467.2,436.8 467,442.3 466.7,447.7ZM461.9,497.8L459.8,495.4 457.8,492.9 456,490.5 454.3,488.3 452.6,486.3 450.9,484.5 449.1,482.9 447,481.4 444.4,480 441.4,478.6 438.1,477.3 434.6,476.1 430.9,474.9 427,473.9 423,472.9 419.1,472 415.2,471.2 411,470.6 406.5,470.1 402,469.7 397.4,469.2 392.9,468.8 388.5,468.3 384.5,467.6 380.8,466.8 377.4,466.1 374.1,465.2 371.1,464.4 368.1,463.4 365.1,462.5 362.2,461.4 359.2,460.3 356.2,459 353.3,457.7 350.4,456.2 347.5,454.7 344.7,453.2 341.9,451.6 339.1,450.1 336.3,448.4 336.7,447.6 339.8,448.5 342.8,449.5 345.8,450.7 348.8,451.8 351.8,452.9 354.8,453.9 357.8,454.9 360.8,455.7 363.7,456.5 366.7,457.2 369.6,457.9 372.5,458.5 375.5,459.1 378.6,459.6 382,460 385.5,460.4 389.3,460.7 393.4,460.8 397.8,460.9 402.4,461 407.1,461 411.8,461.2 416.4,461.5 420.9,462 425.1,462.7 429.3,463.4 433.5,464.2 437.7,465.2 441.7,466.3 445.7,467.5 449.4,468.9 453,470.6 456.4,472.6 459.4,474.9 462,477.3 464.3,479.7 466.4,482 468.3,484.2 470.1,486.2 472.1,488.2ZM543.1,574L543.5,570.3 543.9,566.6 544.4,562.9 544.8,559.3 545.3,555.6 545.7,551.9 546.2,548.1 546.6,544.2 547,540.2 547.3,535.9 547.6,531.4 548,526.9 548.3,522.3 548.7,517.8 549.2,513.3 549.7,509 550.3,505 550.8,501.2 551.4,497.5 552.1,493.8 552.8,490.2 553.6,486.5 554.5,482.8 555.4,479 556.5,475.1 557.7,471.1 559,467.1 560.3,463.2 561.7,459.2 563,455.4 564.3,451.5 565.6,447.7 580.4,452.3 579.2,456.3 578,460.2 576.8,464.2 575.6,468.1 574.5,471.9 573.4,475.7 572.4,479.4 571.6,483 570.8,486.5 570.2,490 569.6,493.3 569,496.7 568.5,500.1 568.1,503.6 567.7,507.2 567.3,511 567,515 566.7,519.1 566.5,523.5 566.3,528 566.1,532.5 565.9,537 565.7,541.5 565.4,545.8 565.1,549.9 564.8,553.8 564.5,557.6 564.2,561.3 563.9,565 563.6,568.6 563.3,572.3 562.9,576ZM563.4,458.5L565.3,455.2 567.1,452 569,448.6 570.9,445.1 572.9,441.6 575.1,438.1 577.5,434.6 580.3,431.3 583.2,428.1 586.3,425.1 589.5,422.2 592.8,419.4 596.2,416.8 599.6,414.2 603,411.8 606.4,409.5 609.8,407.3 613.3,405.1 616.8,403.1 620.3,401.2 623.8,399.4 627.3,397.7 630.6,396.1 633.9,394.7 637,393.5 640,392.5 642.9,391.7 645.7,391 648.5,390.3 651.2,389.7 654,389.1 656.9,388.6 657.1,389.4 654.5,390.7 651.9,391.9 649.3,393 646.8,394 644.2,395.2 641.5,396.4 638.9,397.7 636.1,399.3 633.2,401 630.2,402.9 627.1,404.9 623.9,407.1 620.8,409.3 617.6,411.6 614.6,414 611.6,416.5 608.7,419 605.7,421.7 602.7,424.4 599.8,427.2 597,430.1 594.4,433 591.9,435.9 589.7,438.7 587.8,441.7 586.1,444.7 584.5,447.9 583,451.2 581.5,454.7 580,458.3 578.3,461.9 576.6,465.5ZM561.3,473L561.4,468 561.7,462.8 562,457.6 562.4,452.5 562.6,447.7 562.6,443.1 562.4,438.9 561.9,435.1 561.1,431.6 560.1,428.2 558.9,425 557.4,422 555.9,419.2 554.1,416.5 552.2,414.1 550.3,411.9 548.3,409.9 545.9,408.2 543.3,406.6 540.5,405.1 537.6,403.8 534.7,402.6 531.8,401.5 529.2,400.5 526.8,399.7 524.6,399 522.3,398.5 520.1,398.1 518,397.7 515.9,397.5 513.9,397.3 512,397.1 510.2,396.9 508.5,396.9 506.9,397 505.4,397.1 503.8,397.2 502.3,397.3 500.7,397.4 499.1,397.4 498.9,396.6 500.5,396.2 502,395.7 503.5,395.3 505,394.9 506.6,394.6 508.3,394.3 510.1,394.1 512,393.9 514,393.9 516.1,393.8 518.3,393.8 520.6,393.9 523,394.1 525.5,394.4 528.1,394.8 530.8,395.5 533.6,396.2 536.6,397 539.7,398 543,399.1 546.3,400.4 549.6,402 552.8,403.9 555.7,406.1 558.3,408.6 560.8,411.3 563.1,414.3 565.3,417.5 567.3,420.9 569.1,424.6 570.7,428.6 572.1,432.9 573.1,437.5 573.7,442.4 574.1,447.5 574.3,452.7 574.4,457.9 574.4,463.1 574.5,468.1 574.7,473ZM448.4,613.4L446.2,612.9 444,612.5 442,612.1 439.9,611.7 437.9,611.3 435.7,610.9 433.2,610.5 430.4,610.1 427.1,609.7 423.3,609.2 419.1,608.7 414.8,608.2 410.5,607.8 406.4,607.3 402.6,606.9 399.3,606.6 396.5,606.3 394.2,606.1 392.2,605.9 390.3,605.8 388.6,605.7 386.9,605.6 385,605.5 382.8,605.4 380.4,605.3 378,605.2 375.4,605.2 372.8,605.1 370.1,605.1 367.4,605.1 364.7,605 362,605 362,589 364.6,588.9 367.3,588.9 370,588.8 372.7,588.8 375.4,588.7 378.1,588.7 380.7,588.6 383.2,588.6 385.5,588.7 387.5,588.7 389.4,588.8 391.3,588.8 393.3,588.9 395.5,589.1 397.9,589.2 400.7,589.4 404.1,589.6 407.9,589.9 412.1,590.2 416.5,590.5 420.9,590.8 425.1,591.2 429.1,591.5 432.6,591.9 435.7,592.2 438.4,592.6 440.9,592.9 443.2,593.3 445.3,593.6 447.4,594 449.4,594.3 451.6,594.6ZM373,604.9L368.9,605.3 364.8,605.8 360.5,606.2 356.3,606.6 352.2,607.1 348.2,607.5 344.4,607.8 340.8,608.1 337.4,608.4 334.2,608.6 331.2,608.8 328.4,608.9 325.8,609 323.3,609.2 321,609.3 318.9,609.6 316.9,609.8 315.2,610.1 313.6,610.4 312,610.7 310.4,611 308.8,611.4 307.1,611.7 305.4,612.1 302.6,599.9 304.3,599.5 305.8,599.1 307.4,598.6 309,598.2 310.8,597.7 312.7,597.3 314.8,596.9 317.1,596.4 319.6,596.1 322.1,595.8 324.7,595.5 327.4,595.2 330.1,594.9 333,594.6 336,594.3 339.2,593.9 342.7,593.4 346.4,592.8 350.3,592.2 354.4,591.6 358.6,591 362.8,590.3 366.9,589.7 371,589.1ZM368.2,603.3L366.1,600.3 364.1,597.4 361.9,594.5 359.7,591.5 357.5,588.3 355.4,585 353.3,581.5 351.5,577.8 349.8,573.9 348.4,569.9 347.2,565.9 346.1,561.8 345.1,557.8 344.1,553.9 343.2,550.1 342.2,546.4 341.3,542.7 340.5,539 339.8,535.4 339.1,531.9 338.4,528.6 337.7,525.5 336.7,522.5 335.6,519.7 334.3,516.9 332.8,514.1 331.3,511.5 329.6,508.9 327.8,506.5 325.8,504.2 323.7,502 321.5,500 319.1,498.2 316.5,496.6 313.6,495.1 310.5,493.7 307.3,492.4 304.1,491 300.9,489.6 297.9,487.9 298.1,487.1 301.5,487.9 304.8,488.8 308.2,489.7 311.6,490.6 315,491.6 318.3,492.8 321.5,494.2 324.5,496 327.2,498 329.8,500.2 332.2,502.5 334.5,505 336.7,507.7 338.7,510.4 340.6,513.3 342.4,516.3 344,519.5 345.4,522.9 346.6,526.4 347.6,529.8 348.6,533.3 349.6,536.8 350.6,540.2 351.8,543.6 353,547.2 354.3,551 355.5,554.8 356.8,558.6 358.1,562.3 359.5,565.8 361,569.1 362.5,572.2 364.3,575.1 366.2,577.9 368.2,580.6 370.4,583.3 372.7,586 375.1,588.8 377.5,591.8 379.8,594.7ZM307,606.7L304.9,603.7 302.9,600.6 300.9,597.5 298.9,594.5 296.9,591.5 294.9,588.6 293,585.8 291,583.1 289.1,580.4 287.3,577.7 285.5,575.1 283.8,572.6 282.1,570.4 280.4,568.4 278.7,566.7 276.9,565.3 274.9,564 272.7,562.8 270.5,561.7 268.2,560.9 265.8,560.3 263.5,559.9 261.1,559.9 258.7,560.1 256.2,560.8 253.4,562 250.5,563.5 247.5,565.4 244.3,567.4 241.1,569.5 237.9,571.5 234.6,573.1 234.2,572.5 236.8,570 239.6,567.5 242.4,564.9 245.3,562.4 248.2,560 251.1,557.9 254.2,556.1 257.3,554.9 260.5,554.2 263.6,553.9 266.7,554 269.8,554.4 272.7,555.2 275.6,556.2 278.4,557.3 281.1,558.7 283.7,560.4 286.2,562.4 288.5,564.7 290.7,567.1 292.8,569.5 294.8,572 296.9,574.5 299,576.9 301.2,579.5 303.4,582.2 305.7,585 308,587.9 310.3,590.8 312.6,593.6 314.8,596.5 317,599.3ZM316.8,609.9L313.1,611.4 309.5,612.9 305.9,614.4 302.3,615.8 298.8,617.3 295.1,618.9 291.4,620.6 287.5,622.5 283.5,624.6 279.3,626.9 275,629.4 270.5,632 265.9,634.6 261.3,637.4 256.5,640.1 251.7,642.8 246.8,645.5 241.7,648.2 236.6,650.9 231.4,653.6 226.1,656.4 220.8,659.1 215.5,661.8 210.2,664.3 209.8,663.7 214.5,660.2 219.4,656.8 224.3,653.4 229.3,650.1 234.1,646.8 239,643.6 243.7,640.4 248.3,637.2 252.8,634.1 257.2,631 261.6,627.9 265.9,624.8 270.1,621.8 274.3,618.9 278.4,616.1 282.5,613.5 286.4,611.1 290.2,609 293.9,607 297.4,605.2 300.9,603.4 304.3,601.7 307.7,599.9 311.2,598.1ZM442.8,708L440.6,708.7 438.5,709.4 436.5,710 434.3,710.8 432,711.5 429.6,712.2 426.9,712.9 424.1,713.6 421.3,714.3 418.2,715.1 414.9,715.9 411.4,716.8 407.7,717.5 403.8,718.2 399.7,718.7 395.5,719 391.2,719.1 386.7,718.9 382.2,718.7 377.6,718.2 372.9,717.7 368.3,717.1 363.7,716.5 359.2,715.8 354.5,714.8 349.8,713.7 345.2,712.4 340.8,711 336.4,709.8 332.3,708.7 328.4,707.9 324.8,707.4 321.3,707.3 317.7,707.3 314.3,707.5 311,707.9 307.8,708.5 304.8,709.2 301.9,710 299.3,710.9 297,712 294.8,713.2 292.8,714.5 291,716 289.2,717.6 287.6,719.3 286.2,721.2 284.9,723 283.8,725 282.9,727.1 282.2,729.4 281.6,731.8 281.1,734.4 280.5,737 279.9,739.6 279,742.1 278.2,741.9 278.3,739.3 278.4,736.7 278.5,734.1 278.7,731.4 278.9,728.7 279.4,726.1 280.1,723.5 281.1,721 282.4,718.7 283.8,716.4 285.4,714.2 287.2,712.1 289.2,710.1 291.5,708.3 294,706.6 296.7,705.1 299.6,703.7 302.7,702.5 306,701.4 309.5,700.4 313.2,699.7 317.1,699.1 321.1,698.7 325.2,698.6 329.6,698.8 334.1,699.3 338.7,700.1 343.2,701.1 347.8,702.1 352.3,703 356.6,703.7 360.8,704.2 365.1,704.6 369.6,704.9 374,705.2 378.4,705.4 382.7,705.5 386.9,705.4 390.9,705.3 394.5,705 397.9,704.5 401.2,703.9 404.5,703.1 407.7,702.2 410.8,701.3 413.9,700.3 417,699.3 419.9,698.4 422.4,697.6 424.7,696.8 426.8,696 428.8,695.2 430.8,694.5 432.9,693.6 435,692.8 437.2,692ZM445.7,713.8L443.2,715.3 440.8,716.8 438.4,718.2 436,719.6 433.6,721.1 431,722.7 428.3,724.3 425.3,726.1 422,728.2 418.4,730.2 414.7,732.3 411.1,734.4 407.4,736.6 404,738.8 400.7,741.1 397.7,743.4 394.9,745.9 392.1,748.5 389.3,751.3 386.7,754.2 384,757.3 381.4,760.5 378.7,763.8 376,767.2 373.4,770.7 370.9,774.3 368.5,778.1 366,782 363.4,786 360.7,790.3 358,794.6 355,799.1 352,803.6 348.8,808.3 345.6,813.1 342.2,818.1 338.8,823.1 335.3,828.1 331.8,833.1 328.2,838.1 324.5,843.1 320.6,848 316.7,852.9 312.8,857.9 308.7,862.8 304.7,867.7 300.6,872.5 296.3,877.2 295.7,876.8 298.7,871.2 302,865.8 305.4,860.4 308.7,855 312.1,849.7 315.4,844.4 318.7,839.1 321.8,833.9 324.9,828.7 328,823.4 330.9,818.2 333.9,812.9 336.8,807.7 339.6,802.7 342.3,797.7 345,792.9 347.5,788.4 349.9,783.9 352.2,779.6 354.4,775.3 356.7,771 359,766.9 361.4,762.8 364,758.8 366.5,754.9 369.1,751.2 371.7,747.6 374.3,744 377.1,740.5 380,737.1 383,733.8 386.3,730.6 389.8,727.4 393.6,724.4 397.4,721.6 401.2,718.9 404.9,716.4 408.4,714.1 411.7,711.9 414.7,709.9 417.5,707.9 420.1,706 422.6,704.3 425,702.6 427.3,701 429.6,699.4 431.9,697.8 434.3,696.2ZM369.1,776.9L365.7,777.3 362.4,777.8 358.9,778.3 355.4,778.9 351.7,779.4 347.9,779.7 344,779.9 340,779.8 335.9,779.5 331.7,779.1 327.5,778.5 323.1,777.8 318.8,776.9 314.6,775.8 310.5,774.6 306.5,773.1 302.7,771.4 299.1,769.4 295.6,767.3 292.2,765 289,762.6 285.9,760.1 283,757.6 280.2,755.1 277.6,752.4 275.3,749.6 273.1,746.8 271.1,743.9 269.2,741 267.3,738.1 265.5,735.2 263.7,732.3 264.3,731.7 266.9,734.1 269.3,736.6 271.6,739.2 273.9,741.7 276.2,744.2 278.6,746.6 281.1,748.8 283.8,750.9 286.6,753 289.7,755.1 292.8,757.1 296,759 299.3,760.8 302.7,762.4 306.1,763.8 309.5,764.9 313,765.9 316.7,766.6 320.6,767.2 324.6,767.7 328.6,768 332.6,768.2 336.4,768.2 340,768.2 343.4,768 346.6,767.5 349.8,766.9 353.1,766.2 356.4,765.4 359.8,764.6 363.3,763.8 366.9,763.1ZM361.8,788.4L362.5,791.5 363.3,794.7 364,797.8 364.8,800.9 365.5,804 366.3,807.2 367,810.4 367.8,813.6 368.7,816.9 369.6,820.3 370.5,823.7 371.4,827.2 372.3,830.8 373.2,834.2 374,837.7 374.8,841 375.5,844.2 376.3,847.5 377,850.8 377.8,854.1 378.4,857.3 378.8,860.5 379,863.5 378.8,866.3 378.2,868.8 377.3,871.2 376.2,873.2 374.8,875.1 373.2,876.7 371.5,878.1 369.7,879.2 367.8,880.2 365.7,880.9 363.4,881.3 361,881.4 358.6,881.3 356.1,881.1 353.7,880.9 351.3,880.6 349,880.4 349,879.6 351.3,879.1 353.7,878.9 356.2,878.8 358.5,878.6 360.8,878.4 362.9,878 364.7,877.5 366.2,876.8 367.6,875.9 368.9,874.8 370.1,873.6 371.1,872.2 371.9,870.8 372.6,869.2 373,867.5 373.2,865.7 373.2,863.7 372.8,861.3 372.2,858.6 371.4,855.7 370.4,852.6 369.3,849.5 368.2,846.2 367.2,843 366.2,839.8 365.2,836.6 364,833.3 362.8,829.9 361.6,826.5 360.4,823.1 359.3,819.7 358.2,816.4 357.1,813.2 356.1,810 355.1,806.9 354.1,803.9 353.1,800.8 352.2,797.7 351.2,794.7 350.2,791.6ZM496,740.5L495.8,742.9 495.7,745.2 495.6,747.5 495.4,749.8 495.3,752.2 495.1,754.8 494.9,757.6 494.6,760.6 494.3,763.9 494,767.5 493.7,771.4 493.4,775.4 493,779.4 492.5,783.5 492.1,787.5 491.5,791.3 490.9,794.9 490.2,798.4 489.4,801.8 488.7,805.1 487.8,808.4 487,811.5 486.1,814.5 485.3,817.4 484.4,820.3 483.4,823 482.4,825.5 481.4,828 480.5,830.3 479.5,832.5 478.6,834.7 477.7,836.9 462.3,831.1 463.1,828.7 464,826.3 464.9,824 465.7,821.8 466.5,819.6 467.3,817.4 468,815.1 468.7,812.6 469.4,809.9 470.1,807.1 470.8,804.2 471.4,801.2 472,798.2 472.6,795.1 473.1,791.9 473.5,788.7 473.9,785.3 474.2,781.7 474.5,777.9 474.7,774 474.9,770.1 475.1,766.3 475.2,762.7 475.4,759.4 475.5,756.4 475.6,753.8 475.7,751.3 475.8,748.9 475.8,746.7 475.9,744.3 475.9,742 476,739.5ZM481.3,826.4L479.3,829.3 477.5,832.1 475.6,835.1 473.7,838.1 471.6,841.1 469.5,844.3 467.1,847.4 464.5,850.5 461.5,853.6 458.3,856.4 455.1,858.9 451.9,861.4 448.9,863.7 446.1,866.1 443.7,868.5 441.5,871 439.4,874 437.4,877.2 435.4,880.5 433.6,883.9 432,887.5 430.6,891.1 429.4,894.8 428.4,898.5 427.7,902.2 427.4,906.2 427.3,910.3 427.3,914.5 427.5,918.8 427.6,923.2 427.7,927.6 427.4,932 426.6,932 425.6,927.8 424.7,923.6 423.8,919.3 422.9,915 422.2,910.6 421.6,906.3 421.4,901.9 421.6,897.5 422.1,893.2 423,888.9 424,884.7 425.4,880.6 426.9,876.5 428.6,872.5 430.4,868.7 432.5,865 435,861.3 437.8,857.9 440.7,854.8 443.7,851.9 446.6,849.1 449.2,846.5 451.5,844 453.5,841.5 455.3,838.8 457,836 458.6,833.1 460.2,830.2 461.7,827.1 463.3,824 465,820.8 466.7,817.6ZM479.5,821.2L479.8,826.5 479.9,831.8 480,837.1 480.1,842.3 480.3,847.2 480.7,851.8 481.4,856.1 482.4,860 483.8,863.6 485.6,867.1 487.8,870.6 490.2,874 492.8,877.3 495.6,880.6 498.4,884 501,887.2 503.6,890.3 506.5,893.2 509.5,896.1 512.5,898.9 515.5,901.8 518.3,904.7 520.9,907.6 522.9,910.7 524.5,913.8 525.5,916.9 526.2,919.8 526.6,922.7 526.8,925.6 527,928.3 527.2,931.1 527.4,933.9 526.6,934.1 525.6,931.4 524.8,928.7 524.2,925.9 523.6,923.3 522.8,920.7 521.9,918.1 520.7,915.7 519.1,913.3 517,910.9 514.5,908.6 511.6,906.3 508.4,903.8 505,901.3 501.6,898.7 498.2,895.8 495,892.8 492,889.8 488.9,886.8 485.7,883.6 482.6,880.3 479.5,876.7 476.5,872.9 473.9,868.7 471.6,864 469.8,859.1 468.5,853.9 467.6,848.6 466.9,843.2 466.3,837.9 465.8,832.7 465.3,827.7 464.5,822.8ZM604,720.6L603.8,723.6 603.5,726.6 603.3,729.5 603.1,732.4 602.9,735.5 602.7,738.7 602.4,742.1 602.1,745.7 601.6,749.8 601.2,754.2 600.6,758.8 600.1,763.4 599.5,768 599.1,772.4 598.7,776.5 598.5,780.3 598.4,783.7 598.3,787 598.3,790.1 598.4,793 598.5,795.8 598.8,798.4 599,800.9 599.4,803.3 599.9,805.5 600.4,807.5 601.1,809.6 601.9,811.6 602.8,813.8 603.8,816.1 604.8,818.5 605.7,821 590.3,827 589.4,824.8 588.5,822.7 587.5,820.5 586.4,818.1 585.3,815.6 584.3,812.8 583.4,809.8 582.6,806.7 582,803.6 581.5,800.4 581.1,797.3 580.9,794 580.7,790.6 580.5,787.2 580.5,783.6 580.5,779.7 580.6,775.5 580.9,771 581.2,766.3 581.6,761.6 582,756.9 582.3,752.3 582.7,748.1 582.9,744.3 583.1,740.7 583.3,737.4 583.4,734.3 583.6,731.3 583.7,728.4 583.8,725.5 583.9,722.5 584,719.4ZM602.3,807.7L604.4,811.6 606.4,815.7 608.2,819.7 610,823.5 611.8,827.1 613.7,830.5 615.7,833.6 617.8,836.4 620.3,839 623.1,841.6 626.2,844.1 629.4,846.5 632.8,848.7 636.2,850.9 639.7,852.9 642.9,854.7 646.1,856.3 649.3,857.8 652.5,859 655.7,860.2 659,861.2 662.2,862.1 665.4,863 668.4,863.8 671.4,864.4 674.2,864.9 677,865.3 679.8,865.6 682.5,865.9 685.3,866.2 688.2,866.5 691,867.1 691,867.9 688.1,868.3 685.3,868.6 682.6,868.9 679.7,869.2 676.8,869.4 673.9,869.5 670.8,869.4 667.6,869.2 664.3,868.9 660.9,868.5 657.4,868 653.9,867.4 650.2,866.7 646.5,865.8 642.8,864.6 639.1,863.3 635.3,861.8 631.4,860.1 627.5,858.3 623.5,856.2 619.5,853.9 615.6,851.5 611.8,848.7 608.2,845.6 604.9,842.2 601.9,838.5 599.2,834.7 596.7,830.9 594.4,827.1 592.2,823.3 590,819.8 587.7,816.3ZM597.7,814L595.9,818.4 594.2,823 592.5,827.7 590.7,832.4 588.9,837 587,841.6 585,845.9 582.9,850 580.4,853.8 577.8,857.3 575.1,860.5 572.4,863.4 569.8,866.2 567.4,868.7 565.2,871.2 563.4,873.5 561.9,875.9 560.5,878.2 559.3,880.3 558.2,882.4 557.3,884.4 556.5,886.4 555.8,888.4 555.2,890.3 554.8,892.2 554.5,894 554.4,895.8 554.4,897.6 554.5,899.4 554.5,901.2 554.6,903.1 554.4,905 553.6,905 553.2,903.2 552.8,901.4 552.4,899.6 552.1,897.8 551.8,895.9 551.6,893.9 551.6,891.8 551.8,889.7 552.2,887.5 552.7,885.3 553.3,883 554,880.7 554.9,878.3 555.9,875.8 557.1,873.2 558.6,870.5 560.3,867.6 562.4,864.7 564.6,861.8 566.9,858.8 569.2,855.8 571.4,852.6 573.4,849.4 575.1,846 576.7,842.2 578.2,838.1 579.6,833.7 580.9,829.1 582.2,824.4 583.5,819.6 584.9,814.7 586.3,810ZM595.7,820.8L594.7,825.9 593.7,831.1 592.6,836.2 591.6,841.4 590.6,846.4 589.7,851.2 589,855.9 588.4,860.2 588.1,864.3 587.8,868.3 587.8,872.1 587.8,875.8 587.9,879.4 588,882.9 588.2,886.3 588.3,889.7 588.5,893 588.7,896.1 589,899.1 589.3,902.1 589.7,905 590,907.9 590.3,910.9 590.4,913.9 589.6,914.1 588.7,911.2 587.9,908.3 587.1,905.5 586.3,902.7 585.6,899.7 584.9,896.7 584.3,893.6 583.7,890.3 583.1,886.9 582.6,883.4 582,879.9 581.5,876.2 581.1,872.4 580.8,868.4 580.6,864.2 580.6,859.8 580.7,855.1 581,850.2 581.5,845.1 582,839.9 582.6,834.6 583.2,829.4 583.8,824.2 584.3,819.2ZM650.2,620.5L656.1,620.6 661.6,620.8 666.8,620.9 672.1,621 677.8,621.1 684.2,621.3 691.5,621.4 700.1,621.5 710.2,621.6 721.6,621.8 734,621.9 747,622.1 760.4,622.2 773.9,622.3 787.2,622.4 800.1,622.5 812.5,622.6 825,622.6 837.5,622.7 850,622.7 862.5,622.7 875,622.7 887.4,622.6 899.9,622.5 912.3,622.3 924.8,622.1 937.3,621.8 949.7,621.5 962.3,621.2 974.8,620.9 987.3,620.7 999.9,620.5 1012.5,620.4 1025,620.4 1037.5,620.4 1050,620.4 1062.5,620.5 1075,620.5 1087.5,620.5 1100,620.5 1112.4,620.4 1124.9,620.3 1137.4,620.2 1149.9,620.1 1162.4,620 1174.9,619.8 1187.4,619.7 1199.8,619.5 1212.7,619.3 1226.1,619 1239.7,618.8 1253.2,618.5 1266.3,618.2 1278.6,618 1289.9,617.7 1299.8,617.5 1308,617.3 1314.9,617.2 1320.7,617.1 1325.7,616.9 1330.3,616.8 1334.8,616.7 1339.5,616.6 1344.8,616.5 1345.2,637.5 1340,637.6 1335.3,637.7 1330.8,637.8 1326.2,637.9 1321.1,638 1315.3,638.2 1308.5,638.3 1300.2,638.5 1290.4,638.7 1279.1,639 1266.8,639.2 1253.7,639.5 1240.1,639.8 1226.5,640 1213.1,640.3 1200.2,640.5 1187.6,640.7 1175.1,640.8 1162.6,641 1150.1,641.1 1137.6,641.2 1125.1,641.3 1112.6,641.4 1100,641.5 1087.5,641.5 1075,641.5 1062.5,641.5 1050,641.4 1037.5,641.4 1025,641.4 1012.5,641.4 1000.1,641.5 987.7,641.7 975.2,641.9 962.7,642.2 950.3,642.5 937.7,642.8 925.2,643.1 912.7,643.3 900.1,643.5 887.6,643.6 875,643.7 862.5,643.7 850,643.7 837.5,643.7 825,643.6 812.5,643.6 799.9,643.5 787.1,643.4 773.7,643.3 760.2,643.2 746.8,643.1 733.7,642.9 721.4,642.8 710,642.6 699.9,642.5 691.2,642.4 683.8,642.2 677.4,642.1 671.6,642 666.3,641.9 661.1,641.7 655.7,641.6 649.8,641.5Z" fill="#22347f" stroke="#22347f" stroke-width="4.2" stroke-linejoin="round" /><path d="M476,500L476.5,504.2 477,508.6 477.4,512.9 477.9,517.2 478.4,521.2 479,525 479.5,528.5 480,531.7 480.5,534.8 481.1,537.7 481.9,540.4 483,543 484.3,545.4 485.9,547.8 487.6,549.9 489.6,551.9 491.7,553.6 494,555 496.6,556.2 499.4,557.1 502.5,557.7 505.7,558.2 508.9,558.4 512,558.5 515.2,558.4 518.6,558.2 522,557.7 525.3,557.1 528.3,556.2 531,555 533.2,553.6 535.2,552 536.9,550.1 538.4,548 539.7,545.6 541,543 542.1,540 543.1,536.7 543.9,533.1 544.7,529.4 545.3,525.7 546,522 546.6,518.4 547.1,514.7 547.6,511.1 548.1,507.4 548.5,503.7 549,500 566,500 566.1,504.2 566.1,508.5 566.2,512.8 566.2,517 566.3,521.1 566.5,525 566.7,528.6 566.8,531.8 567,535 567.3,538.1 567.7,541.6 568.4,545.4 569.2,549.8 570.1,554.7 571.2,559.8 572.5,564.9 574.2,569.8 576.5,574.4 579.4,578.6 582.8,582.7 586.6,586.6 590.7,590.3 594.9,593.8 599,597 603,599.9 607.1,602.5 611.3,604.9 615.6,607.1 620.1,609.1 624.8,611 629.7,612.7 634.7,614.3 639.8,615.7 645.2,616.9 650.9,618 657,619 663.5,619.8 670.5,620.4 677.8,620.8 685.3,621.2 692.7,621.6 700,622 700,643 692.6,643 685,642.8 677.4,642.6 670.1,642.5 663.2,642.8 657,643.5 651.6,644.6 646.8,646 642.5,647.7 638.5,649.7 634.7,652.1 631,655 627.3,658.5 623.7,662.5 620.3,667 617.1,671.6 614.4,676.2 612,680.7 610.2,684.9 608.8,689.1 607.8,693.2 607,697.4 606.3,701.8 605.5,706.5 604.7,711.5 604.1,716.8 603.5,722.3 602.9,727.8 602.5,733.3 602,738.7 601.6,744 601.2,749.2 600.9,754.4 600.6,759.6 600.3,764.8 600,770 582,775 581.7,772.5 581.5,770 581.3,767.5 581,765 580.6,762.5 580,760 579.3,757.5 578.5,755 577.6,752.5 576.4,750 574.9,747.5 573,745 570.6,742.4 567.7,739.8 564.5,737.1 561,734.6 557.5,732.4 554,730.6 550.4,729.2 546.6,728 542.7,727 538.8,726.4 535,726.2 531.4,726.4 527.9,727 524.5,728.1 521.1,729.5 517.9,731.2 514.8,733.2 512,735.5 509.4,738.1 506.9,741.1 504.7,744.3 502.6,747.8 500.7,751.3 499,754.8 497.6,758.4 496.4,762.1 495.4,765.8 494.6,769.7 493.7,773.5 492.7,777.3 477,777.3 477.1,773 477.3,768.7 477.6,764.5 477.7,760.2 477.4,755.9 476.6,751.6 475.3,747.1 473.5,742.5 471.4,737.8 469,733.3 466.5,729.3 463.8,725.8 461,722.9 457.9,720.4 454.7,718.3 451.3,716.7 447.9,715.4 444.4,714.5 440.9,714.1 437.3,714 433.6,714.4 429.8,715.2 425.9,716.3 421.9,717.7 417.8,719.5 413.5,721.9 409.2,724.6 404.8,727.5 400.4,730.3 396,733 383,705 387.4,703.8 391.9,702.9 396.4,701.9 400.9,700.7 405.1,699.2 409,697 412.7,694.2 416.4,690.8 419.8,687 423,682.9 425.7,678.7 428,674.4 429.8,669.9 431.1,665 432.1,659.9 432.7,654.8 433,649.9 433,645.4 432.7,641.2 432,637.1 431.1,633.2 429.8,629.5 428.4,626.1 426.7,623 424.8,620.3 422.7,617.8 420.4,615.6 417.8,613.7 415,612 412,610.5 408.7,609.3 405.1,608.4 401.3,607.8 397.4,607.2 393.5,606.7 389.7,606 396,590 400.4,590.6 404.8,591.4 409.2,592.1 413.6,592.7 417.9,593.2 422,593.5 426.1,593.7 430.1,593.8 434,593.9 437.8,593.6 441.3,593 444.4,592 447.2,590.5 449.7,588.5 451.9,586.3 453.9,583.7 455.7,580.9 457.3,577.9 458.7,574.7 459.8,571.1 460.6,567.3 461.4,563.4 462,559.3 462.5,555.3 462.9,551.2 463.2,547.1 463.4,542.9 463.5,538.6 463.5,534.1 463.5,529.6 463.4,524.9 463.2,520 462.9,515 462.6,510 462.3,505 462,500ZM466,576L465.7,572.3 465.4,568.8 465.2,565.4 464.9,561.9 464.6,558.3 464.2,554.5 463.9,550.4 463.5,545.9 463.1,541 462.7,535.7 462.2,530.1 461.7,524.3 461.3,518.4 460.8,512.5 460.2,506.7 459.7,501 459.2,495.2 458.5,489.3 457.9,483.3 457.3,477.3 456.6,471.5 456,465.9 455.4,460.7 454.9,456 454.5,451.9 454.1,448.3 453.8,445.1 453.5,442.2 453.2,439.4 452.9,436.7 452.6,433.9 452.3,430.9 467.7,429.1 468.1,432.1 468.5,434.9 468.8,437.6 469.2,440.3 469.6,443.2 470,446.4 470.5,449.9 471.1,454 471.7,458.7 472.4,463.8 473.2,469.4 474.1,475.2 474.9,481.2 475.7,487.2 476.5,493.2 477.3,499 478,504.8 478.7,510.7 479.4,516.6 480.1,522.5 480.7,528.3 481.3,533.9 481.9,539.2 482.5,544.1 483,548.5 483.5,552.6 483.9,556.4 484.3,560 484.7,563.4 485.1,566.9 485.5,570.4 486,574ZM453.8,444L453,440.5 452.3,437 451.8,433.6 451.2,430.4 450.6,427.3 449.8,424.2 448.9,421 447.6,417.6 446,414 444,410.1 441.9,406 439.5,401.8 437,397.6 434.4,393.4 431.8,389.3 429.1,385.4 426.3,381.6 423.4,377.8 420.3,374.1 417.2,370.5 414,366.8 410.8,363 407.6,359.3 404.7,355.3 405.3,354.7 409.2,357.7 413,360.8 416.8,363.9 420.6,367 424.3,370.3 428,373.6 431.5,377 434.9,380.6 438.2,384.4 441.5,388.3 444.7,392.3 447.8,396.3 450.8,400.4 453.6,404.5 456.1,408.5 458.4,412.4 460.4,416.2 462,420 463.3,423.7 464.4,427.2 465.4,430.5 466.3,433.8 467.2,436.8 468.2,440ZM453.3,446.3L454,441.1 454.6,435.9 455.2,430.5 455.8,425.1 456.5,419.6 457.4,414.2 458.6,408.8 460.3,403.5 462.4,398.4 464.9,393.4 467.6,388.6 470.6,384 473.5,379.6 476.4,375.5 479.1,371.8 481.4,368.4 483.7,365.3 485.9,362.6 488,360.3 490,358.2 491.8,356.4 493.3,354.7 494.5,353 495.4,351.4 496,349.8 496.3,348.2 496.4,346.6 496.2,345 496,343.3 495.8,341.6 495.6,339.8 495.6,338.1 496.4,337.9 496.9,339.6 497.4,341.2 498,342.8 498.5,344.5 498.9,346.3 499.2,348.3 499.1,350.4 498.6,352.6 497.7,354.8 496.5,357 495.1,359.1 493.5,361.2 491.8,363.4 490.1,365.8 488.3,368.5 486.6,371.6 484.6,375.2 482.3,379.3 479.9,383.5 477.4,388 475.1,392.6 472.9,397.3 471.1,402 469.7,406.5 468.8,411 468.1,415.8 467.7,420.8 467.5,426 467.3,431.3 467.2,436.8 467,442.3 466.7,447.7ZM461.9,497.8L459.8,495.4 457.8,492.9 456,490.5 454.3,488.3 452.6,486.3 450.9,484.5 449.1,482.9 447,481.4 444.4,480 441.4,478.6 438.1,477.3 434.6,476.1 430.9,474.9 427,473.9 423,472.9 419.1,472 415.2,471.2 411,470.6 406.5,470.1 402,469.7 397.4,469.2 392.9,468.8 388.5,468.3 384.5,467.6 380.8,466.8 377.4,466.1 374.1,465.2 371.1,464.4 368.1,463.4 365.1,462.5 362.2,461.4 359.2,460.3 356.2,459 353.3,457.7 350.4,456.2 347.5,454.7 344.7,453.2 341.9,451.6 339.1,450.1 336.3,448.4 336.7,447.6 339.8,448.5 342.8,449.5 345.8,450.7 348.8,451.8 351.8,452.9 354.8,453.9 357.8,454.9 360.8,455.7 363.7,456.5 366.7,457.2 369.6,457.9 372.5,458.5 375.5,459.1 378.6,459.6 382,460 385.5,460.4 389.3,460.7 393.4,460.8 397.8,460.9 402.4,461 407.1,461 411.8,461.2 416.4,461.5 420.9,462 425.1,462.7 429.3,463.4 433.5,464.2 437.7,465.2 441.7,466.3 445.7,467.5 449.4,468.9 453,470.6 456.4,472.6 459.4,474.9 462,477.3 464.3,479.7 466.4,482 468.3,484.2 470.1,486.2 472.1,488.2ZM543.1,574L543.5,570.3 543.9,566.6 544.4,562.9 544.8,559.3 545.3,555.6 545.7,551.9 546.2,548.1 546.6,544.2 547,540.2 547.3,535.9 547.6,531.4 548,526.9 548.3,522.3 548.7,517.8 549.2,513.3 549.7,509 550.3,505 550.8,501.2 551.4,497.5 552.1,493.8 552.8,490.2 553.6,486.5 554.5,482.8 555.4,479 556.5,475.1 557.7,471.1 559,467.1 560.3,463.2 561.7,459.2 563,455.4 564.3,451.5 565.6,447.7 580.4,452.3 579.2,456.3 578,460.2 576.8,464.2 575.6,468.1 574.5,471.9 573.4,475.7 572.4,479.4 571.6,483 570.8,486.5 570.2,490 569.6,493.3 569,496.7 568.5,500.1 568.1,503.6 567.7,507.2 567.3,511 567,515 566.7,519.1 566.5,523.5 566.3,528 566.1,532.5 565.9,537 565.7,541.5 565.4,545.8 565.1,549.9 564.8,553.8 564.5,557.6 564.2,561.3 563.9,565 563.6,568.6 563.3,572.3 562.9,576ZM563.4,458.5L565.3,455.2 567.1,452 569,448.6 570.9,445.1 572.9,441.6 575.1,438.1 577.5,434.6 580.3,431.3 583.2,428.1 586.3,425.1 589.5,422.2 592.8,419.4 596.2,416.8 599.6,414.2 603,411.8 606.4,409.5 609.8,407.3 613.3,405.1 616.8,403.1 620.3,401.2 623.8,399.4 627.3,397.7 630.6,396.1 633.9,394.7 637,393.5 640,392.5 642.9,391.7 645.7,391 648.5,390.3 651.2,389.7 654,389.1 656.9,388.6 657.1,389.4 654.5,390.7 651.9,391.9 649.3,393 646.8,394 644.2,395.2 641.5,396.4 638.9,397.7 636.1,399.3 633.2,401 630.2,402.9 627.1,404.9 623.9,407.1 620.8,409.3 617.6,411.6 614.6,414 611.6,416.5 608.7,419 605.7,421.7 602.7,424.4 599.8,427.2 597,430.1 594.4,433 591.9,435.9 589.7,438.7 587.8,441.7 586.1,444.7 584.5,447.9 583,451.2 581.5,454.7 580,458.3 578.3,461.9 576.6,465.5ZM561.3,473L561.4,468 561.7,462.8 562,457.6 562.4,452.5 562.6,447.7 562.6,443.1 562.4,438.9 561.9,435.1 561.1,431.6 560.1,428.2 558.9,425 557.4,422 555.9,419.2 554.1,416.5 552.2,414.1 550.3,411.9 548.3,409.9 545.9,408.2 543.3,406.6 540.5,405.1 537.6,403.8 534.7,402.6 531.8,401.5 529.2,400.5 526.8,399.7 524.6,399 522.3,398.5 520.1,398.1 518,397.7 515.9,397.5 513.9,397.3 512,397.1 510.2,396.9 508.5,396.9 506.9,397 505.4,397.1 503.8,397.2 502.3,397.3 500.7,397.4 499.1,397.4 498.9,396.6 500.5,396.2 502,395.7 503.5,395.3 505,394.9 506.6,394.6 508.3,394.3 510.1,394.1 512,393.9 514,393.9 516.1,393.8 518.3,393.8 520.6,393.9 523,394.1 525.5,394.4 528.1,394.8 530.8,395.5 533.6,396.2 536.6,397 539.7,398 543,399.1 546.3,400.4 549.6,402 552.8,403.9 555.7,406.1 558.3,408.6 560.8,411.3 563.1,414.3 565.3,417.5 567.3,420.9 569.1,424.6 570.7,428.6 572.1,432.9 573.1,437.5 573.7,442.4 574.1,447.5 574.3,452.7 574.4,457.9 574.4,463.1 574.5,468.1 574.7,473ZM448.4,613.4L446.2,612.9 444,612.5 442,612.1 439.9,611.7 437.9,611.3 435.7,610.9 433.2,610.5 430.4,610.1 427.1,609.7 423.3,609.2 419.1,608.7 414.8,608.2 410.5,607.8 406.4,607.3 402.6,606.9 399.3,606.6 396.5,606.3 394.2,606.1 392.2,605.9 390.3,605.8 388.6,605.7 386.9,605.6 385,605.5 382.8,605.4 380.4,605.3 378,605.2 375.4,605.2 372.8,605.1 370.1,605.1 367.4,605.1 364.7,605 362,605 362,589 364.6,588.9 367.3,588.9 370,588.8 372.7,588.8 375.4,588.7 378.1,588.7 380.7,588.6 383.2,588.6 385.5,588.7 387.5,588.7 389.4,588.8 391.3,588.8 393.3,588.9 395.5,589.1 397.9,589.2 400.7,589.4 404.1,589.6 407.9,589.9 412.1,590.2 416.5,590.5 420.9,590.8 425.1,591.2 429.1,591.5 432.6,591.9 435.7,592.2 438.4,592.6 440.9,592.9 443.2,593.3 445.3,593.6 447.4,594 449.4,594.3 451.6,594.6ZM373,604.9L368.9,605.3 364.8,605.8 360.5,606.2 356.3,606.6 352.2,607.1 348.2,607.5 344.4,607.8 340.8,608.1 337.4,608.4 334.2,608.6 331.2,608.8 328.4,608.9 325.8,609 323.3,609.2 321,609.3 318.9,609.6 316.9,609.8 315.2,610.1 313.6,610.4 312,610.7 310.4,611 308.8,611.4 307.1,611.7 305.4,612.1 302.6,599.9 304.3,599.5 305.8,599.1 307.4,598.6 309,598.2 310.8,597.7 312.7,597.3 314.8,596.9 317.1,596.4 319.6,596.1 322.1,595.8 324.7,595.5 327.4,595.2 330.1,594.9 333,594.6 336,594.3 339.2,593.9 342.7,593.4 346.4,592.8 350.3,592.2 354.4,591.6 358.6,591 362.8,590.3 366.9,589.7 371,589.1ZM368.2,603.3L366.1,600.3 364.1,597.4 361.9,594.5 359.7,591.5 357.5,588.3 355.4,585 353.3,581.5 351.5,577.8 349.8,573.9 348.4,569.9 347.2,565.9 346.1,561.8 345.1,557.8 344.1,553.9 343.2,550.1 342.2,546.4 341.3,542.7 340.5,539 339.8,535.4 339.1,531.9 338.4,528.6 337.7,525.5 336.7,522.5 335.6,519.7 334.3,516.9 332.8,514.1 331.3,511.5 329.6,508.9 327.8,506.5 325.8,504.2 323.7,502 321.5,500 319.1,498.2 316.5,496.6 313.6,495.1 310.5,493.7 307.3,492.4 304.1,491 300.9,489.6 297.9,487.9 298.1,487.1 301.5,487.9 304.8,488.8 308.2,489.7 311.6,490.6 315,491.6 318.3,492.8 321.5,494.2 324.5,496 327.2,498 329.8,500.2 332.2,502.5 334.5,505 336.7,507.7 338.7,510.4 340.6,513.3 342.4,516.3 344,519.5 345.4,522.9 346.6,526.4 347.6,529.8 348.6,533.3 349.6,536.8 350.6,540.2 351.8,543.6 353,547.2 354.3,551 355.5,554.8 356.8,558.6 358.1,562.3 359.5,565.8 361,569.1 362.5,572.2 364.3,575.1 366.2,577.9 368.2,580.6 370.4,583.3 372.7,586 375.1,588.8 377.5,591.8 379.8,594.7ZM307,606.7L304.9,603.7 302.9,600.6 300.9,597.5 298.9,594.5 296.9,591.5 294.9,588.6 293,585.8 291,583.1 289.1,580.4 287.3,577.7 285.5,575.1 283.8,572.6 282.1,570.4 280.4,568.4 278.7,566.7 276.9,565.3 274.9,564 272.7,562.8 270.5,561.7 268.2,560.9 265.8,560.3 263.5,559.9 261.1,559.9 258.7,560.1 256.2,560.8 253.4,562 250.5,563.5 247.5,565.4 244.3,567.4 241.1,569.5 237.9,571.5 234.6,573.1 234.2,572.5 236.8,570 239.6,567.5 242.4,564.9 245.3,562.4 248.2,560 251.1,557.9 254.2,556.1 257.3,554.9 260.5,554.2 263.6,553.9 266.7,554 269.8,554.4 272.7,555.2 275.6,556.2 278.4,557.3 281.1,558.7 283.7,560.4 286.2,562.4 288.5,564.7 290.7,567.1 292.8,569.5 294.8,572 296.9,574.5 299,576.9 301.2,579.5 303.4,582.2 305.7,585 308,587.9 310.3,590.8 312.6,593.6 314.8,596.5 317,599.3ZM316.8,609.9L313.1,611.4 309.5,612.9 305.9,614.4 302.3,615.8 298.8,617.3 295.1,618.9 291.4,620.6 287.5,622.5 283.5,624.6 279.3,626.9 275,629.4 270.5,632 265.9,634.6 261.3,637.4 256.5,640.1 251.7,642.8 246.8,645.5 241.7,648.2 236.6,650.9 231.4,653.6 226.1,656.4 220.8,659.1 215.5,661.8 210.2,664.3 209.8,663.7 214.5,660.2 219.4,656.8 224.3,653.4 229.3,650.1 234.1,646.8 239,643.6 243.7,640.4 248.3,637.2 252.8,634.1 257.2,631 261.6,627.9 265.9,624.8 270.1,621.8 274.3,618.9 278.4,616.1 282.5,613.5 286.4,611.1 290.2,609 293.9,607 297.4,605.2 300.9,603.4 304.3,601.7 307.7,599.9 311.2,598.1ZM442.8,708L440.6,708.7 438.5,709.4 436.5,710 434.3,710.8 432,711.5 429.6,712.2 426.9,712.9 424.1,713.6 421.3,714.3 418.2,715.1 414.9,715.9 411.4,716.8 407.7,717.5 403.8,718.2 399.7,718.7 395.5,719 391.2,719.1 386.7,718.9 382.2,718.7 377.6,718.2 372.9,717.7 368.3,717.1 363.7,716.5 359.2,715.8 354.5,714.8 349.8,713.7 345.2,712.4 340.8,711 336.4,709.8 332.3,708.7 328.4,707.9 324.8,707.4 321.3,707.3 317.7,707.3 314.3,707.5 311,707.9 307.8,708.5 304.8,709.2 301.9,710 299.3,710.9 297,712 294.8,713.2 292.8,714.5 291,716 289.2,717.6 287.6,719.3 286.2,721.2 284.9,723 283.8,725 282.9,727.1 282.2,729.4 281.6,731.8 281.1,734.4 280.5,737 279.9,739.6 279,742.1 278.2,741.9 278.3,739.3 278.4,736.7 278.5,734.1 278.7,731.4 278.9,728.7 279.4,726.1 280.1,723.5 281.1,721 282.4,718.7 283.8,716.4 285.4,714.2 287.2,712.1 289.2,710.1 291.5,708.3 294,706.6 296.7,705.1 299.6,703.7 302.7,702.5 306,701.4 309.5,700.4 313.2,699.7 317.1,699.1 321.1,698.7 325.2,698.6 329.6,698.8 334.1,699.3 338.7,700.1 343.2,701.1 347.8,702.1 352.3,703 356.6,703.7 360.8,704.2 365.1,704.6 369.6,704.9 374,705.2 378.4,705.4 382.7,705.5 386.9,705.4 390.9,705.3 394.5,705 397.9,704.5 401.2,703.9 404.5,703.1 407.7,702.2 410.8,701.3 413.9,700.3 417,699.3 419.9,698.4 422.4,697.6 424.7,696.8 426.8,696 428.8,695.2 430.8,694.5 432.9,693.6 435,692.8 437.2,692ZM445.7,713.8L443.2,715.3 440.8,716.8 438.4,718.2 436,719.6 433.6,721.1 431,722.7 428.3,724.3 425.3,726.1 422,728.2 418.4,730.2 414.7,732.3 411.1,734.4 407.4,736.6 404,738.8 400.7,741.1 397.7,743.4 394.9,745.9 392.1,748.5 389.3,751.3 386.7,754.2 384,757.3 381.4,760.5 378.7,763.8 376,767.2 373.4,770.7 370.9,774.3 368.5,778.1 366,782 363.4,786 360.7,790.3 358,794.6 355,799.1 352,803.6 348.8,808.3 345.6,813.1 342.2,818.1 338.8,823.1 335.3,828.1 331.8,833.1 328.2,838.1 324.5,843.1 320.6,848 316.7,852.9 312.8,857.9 308.7,862.8 304.7,867.7 300.6,872.5 296.3,877.2 295.7,876.8 298.7,871.2 302,865.8 305.4,860.4 308.7,855 312.1,849.7 315.4,844.4 318.7,839.1 321.8,833.9 324.9,828.7 328,823.4 330.9,818.2 333.9,812.9 336.8,807.7 339.6,802.7 342.3,797.7 345,792.9 347.5,788.4 349.9,783.9 352.2,779.6 354.4,775.3 356.7,771 359,766.9 361.4,762.8 364,758.8 366.5,754.9 369.1,751.2 371.7,747.6 374.3,744 377.1,740.5 380,737.1 383,733.8 386.3,730.6 389.8,727.4 393.6,724.4 397.4,721.6 401.2,718.9 404.9,716.4 408.4,714.1 411.7,711.9 414.7,709.9 417.5,707.9 420.1,706 422.6,704.3 425,702.6 427.3,701 429.6,699.4 431.9,697.8 434.3,696.2ZM369.1,776.9L365.7,777.3 362.4,777.8 358.9,778.3 355.4,778.9 351.7,779.4 347.9,779.7 344,779.9 340,779.8 335.9,779.5 331.7,779.1 327.5,778.5 323.1,777.8 318.8,776.9 314.6,775.8 310.5,774.6 306.5,773.1 302.7,771.4 299.1,769.4 295.6,767.3 292.2,765 289,762.6 285.9,760.1 283,757.6 280.2,755.1 277.6,752.4 275.3,749.6 273.1,746.8 271.1,743.9 269.2,741 267.3,738.1 265.5,735.2 263.7,732.3 264.3,731.7 266.9,734.1 269.3,736.6 271.6,739.2 273.9,741.7 276.2,744.2 278.6,746.6 281.1,748.8 283.8,750.9 286.6,753 289.7,755.1 292.8,757.1 296,759 299.3,760.8 302.7,762.4 306.1,763.8 309.5,764.9 313,765.9 316.7,766.6 320.6,767.2 324.6,767.7 328.6,768 332.6,768.2 336.4,768.2 340,768.2 343.4,768 346.6,767.5 349.8,766.9 353.1,766.2 356.4,765.4 359.8,764.6 363.3,763.8 366.9,763.1ZM361.8,788.4L362.5,791.5 363.3,794.7 364,797.8 364.8,800.9 365.5,804 366.3,807.2 367,810.4 367.8,813.6 368.7,816.9 369.6,820.3 370.5,823.7 371.4,827.2 372.3,830.8 373.2,834.2 374,837.7 374.8,841 375.5,844.2 376.3,847.5 377,850.8 377.8,854.1 378.4,857.3 378.8,860.5 379,863.5 378.8,866.3 378.2,868.8 377.3,871.2 376.2,873.2 374.8,875.1 373.2,876.7 371.5,878.1 369.7,879.2 367.8,880.2 365.7,880.9 363.4,881.3 361,881.4 358.6,881.3 356.1,881.1 353.7,880.9 351.3,880.6 349,880.4 349,879.6 351.3,879.1 353.7,878.9 356.2,878.8 358.5,878.6 360.8,878.4 362.9,878 364.7,877.5 366.2,876.8 367.6,875.9 368.9,874.8 370.1,873.6 371.1,872.2 371.9,870.8 372.6,869.2 373,867.5 373.2,865.7 373.2,863.7 372.8,861.3 372.2,858.6 371.4,855.7 370.4,852.6 369.3,849.5 368.2,846.2 367.2,843 366.2,839.8 365.2,836.6 364,833.3 362.8,829.9 361.6,826.5 360.4,823.1 359.3,819.7 358.2,816.4 357.1,813.2 356.1,810 355.1,806.9 354.1,803.9 353.1,800.8 352.2,797.7 351.2,794.7 350.2,791.6ZM496,740.5L495.8,742.9 495.7,745.2 495.6,747.5 495.4,749.8 495.3,752.2 495.1,754.8 494.9,757.6 494.6,760.6 494.3,763.9 494,767.5 493.7,771.4 493.4,775.4 493,779.4 492.5,783.5 492.1,787.5 491.5,791.3 490.9,794.9 490.2,798.4 489.4,801.8 488.7,805.1 487.8,808.4 487,811.5 486.1,814.5 485.3,817.4 484.4,820.3 483.4,823 482.4,825.5 481.4,828 480.5,830.3 479.5,832.5 478.6,834.7 477.7,836.9 462.3,831.1 463.1,828.7 464,826.3 464.9,824 465.7,821.8 466.5,819.6 467.3,817.4 468,815.1 468.7,812.6 469.4,809.9 470.1,807.1 470.8,804.2 471.4,801.2 472,798.2 472.6,795.1 473.1,791.9 473.5,788.7 473.9,785.3 474.2,781.7 474.5,777.9 474.7,774 474.9,770.1 475.1,766.3 475.2,762.7 475.4,759.4 475.5,756.4 475.6,753.8 475.7,751.3 475.8,748.9 475.8,746.7 475.9,744.3 475.9,742 476,739.5ZM481.3,826.4L479.3,829.3 477.5,832.1 475.6,835.1 473.7,838.1 471.6,841.1 469.5,844.3 467.1,847.4 464.5,850.5 461.5,853.6 458.3,856.4 455.1,858.9 451.9,861.4 448.9,863.7 446.1,866.1 443.7,868.5 441.5,871 439.4,874 437.4,877.2 435.4,880.5 433.6,883.9 432,887.5 430.6,891.1 429.4,894.8 428.4,898.5 427.7,902.2 427.4,906.2 427.3,910.3 427.3,914.5 427.5,918.8 427.6,923.2 427.7,927.6 427.4,932 426.6,932 425.6,927.8 424.7,923.6 423.8,919.3 422.9,915 422.2,910.6 421.6,906.3 421.4,901.9 421.6,897.5 422.1,893.2 423,888.9 424,884.7 425.4,880.6 426.9,876.5 428.6,872.5 430.4,868.7 432.5,865 435,861.3 437.8,857.9 440.7,854.8 443.7,851.9 446.6,849.1 449.2,846.5 451.5,844 453.5,841.5 455.3,838.8 457,836 458.6,833.1 460.2,830.2 461.7,827.1 463.3,824 465,820.8 466.7,817.6ZM479.5,821.2L479.8,826.5 479.9,831.8 480,837.1 480.1,842.3 480.3,847.2 480.7,851.8 481.4,856.1 482.4,860 483.8,863.6 485.6,867.1 487.8,870.6 490.2,874 492.8,877.3 495.6,880.6 498.4,884 501,887.2 503.6,890.3 506.5,893.2 509.5,896.1 512.5,898.9 515.5,901.8 518.3,904.7 520.9,907.6 522.9,910.7 524.5,913.8 525.5,916.9 526.2,919.8 526.6,922.7 526.8,925.6 527,928.3 527.2,931.1 527.4,933.9 526.6,934.1 525.6,931.4 524.8,928.7 524.2,925.9 523.6,923.3 522.8,920.7 521.9,918.1 520.7,915.7 519.1,913.3 517,910.9 514.5,908.6 511.6,906.3 508.4,903.8 505,901.3 501.6,898.7 498.2,895.8 495,892.8 492,889.8 488.9,886.8 485.7,883.6 482.6,880.3 479.5,876.7 476.5,872.9 473.9,868.7 471.6,864 469.8,859.1 468.5,853.9 467.6,848.6 466.9,843.2 466.3,837.9 465.8,832.7 465.3,827.7 464.5,822.8ZM604,720.6L603.8,723.6 603.5,726.6 603.3,729.5 603.1,732.4 602.9,735.5 602.7,738.7 602.4,742.1 602.1,745.7 601.6,749.8 601.2,754.2 600.6,758.8 600.1,763.4 599.5,768 599.1,772.4 598.7,776.5 598.5,780.3 598.4,783.7 598.3,787 598.3,790.1 598.4,793 598.5,795.8 598.8,798.4 599,800.9 599.4,803.3 599.9,805.5 600.4,807.5 601.1,809.6 601.9,811.6 602.8,813.8 603.8,816.1 604.8,818.5 605.7,821 590.3,827 589.4,824.8 588.5,822.7 587.5,820.5 586.4,818.1 585.3,815.6 584.3,812.8 583.4,809.8 582.6,806.7 582,803.6 581.5,800.4 581.1,797.3 580.9,794 580.7,790.6 580.5,787.2 580.5,783.6 580.5,779.7 580.6,775.5 580.9,771 581.2,766.3 581.6,761.6 582,756.9 582.3,752.3 582.7,748.1 582.9,744.3 583.1,740.7 583.3,737.4 583.4,734.3 583.6,731.3 583.7,728.4 583.8,725.5 583.9,722.5 584,719.4ZM602.3,807.7L604.4,811.6 606.4,815.7 608.2,819.7 610,823.5 611.8,827.1 613.7,830.5 615.7,833.6 617.8,836.4 620.3,839 623.1,841.6 626.2,844.1 629.4,846.5 632.8,848.7 636.2,850.9 639.7,852.9 642.9,854.7 646.1,856.3 649.3,857.8 652.5,859 655.7,860.2 659,861.2 662.2,862.1 665.4,863 668.4,863.8 671.4,864.4 674.2,864.9 677,865.3 679.8,865.6 682.5,865.9 685.3,866.2 688.2,866.5 691,867.1 691,867.9 688.1,868.3 685.3,868.6 682.6,868.9 679.7,869.2 676.8,869.4 673.9,869.5 670.8,869.4 667.6,869.2 664.3,868.9 660.9,868.5 657.4,868 653.9,867.4 650.2,866.7 646.5,865.8 642.8,864.6 639.1,863.3 635.3,861.8 631.4,860.1 627.5,858.3 623.5,856.2 619.5,853.9 615.6,851.5 611.8,848.7 608.2,845.6 604.9,842.2 601.9,838.5 599.2,834.7 596.7,830.9 594.4,827.1 592.2,823.3 590,819.8 587.7,816.3ZM597.7,814L595.9,818.4 594.2,823 592.5,827.7 590.7,832.4 588.9,837 587,841.6 585,845.9 582.9,850 580.4,853.8 577.8,857.3 575.1,860.5 572.4,863.4 569.8,866.2 567.4,868.7 565.2,871.2 563.4,873.5 561.9,875.9 560.5,878.2 559.3,880.3 558.2,882.4 557.3,884.4 556.5,886.4 555.8,888.4 555.2,890.3 554.8,892.2 554.5,894 554.4,895.8 554.4,897.6 554.5,899.4 554.5,901.2 554.6,903.1 554.4,905 553.6,905 553.2,903.2 552.8,901.4 552.4,899.6 552.1,897.8 551.8,895.9 551.6,893.9 551.6,891.8 551.8,889.7 552.2,887.5 552.7,885.3 553.3,883 554,880.7 554.9,878.3 555.9,875.8 557.1,873.2 558.6,870.5 560.3,867.6 562.4,864.7 564.6,861.8 566.9,858.8 569.2,855.8 571.4,852.6 573.4,849.4 575.1,846 576.7,842.2 578.2,838.1 579.6,833.7 580.9,829.1 582.2,824.4 583.5,819.6 584.9,814.7 586.3,810ZM595.7,820.8L594.7,825.9 593.7,831.1 592.6,836.2 591.6,841.4 590.6,846.4 589.7,851.2 589,855.9 588.4,860.2 588.1,864.3 587.8,868.3 587.8,872.1 587.8,875.8 587.9,879.4 588,882.9 588.2,886.3 588.3,889.7 588.5,893 588.7,896.1 589,899.1 589.3,902.1 589.7,905 590,907.9 590.3,910.9 590.4,913.9 589.6,914.1 588.7,911.2 587.9,908.3 587.1,905.5 586.3,902.7 585.6,899.7 584.9,896.7 584.3,893.6 583.7,890.3 583.1,886.9 582.6,883.4 582,879.9 581.5,876.2 581.1,872.4 580.8,868.4 580.6,864.2 580.6,859.8 580.7,855.1 581,850.2 581.5,845.1 582,839.9 582.6,834.6 583.2,829.4 583.8,824.2 584.3,819.2ZM650.2,620.5L656.1,620.6 661.6,620.8 666.8,620.9 672.1,621 677.8,621.1 684.2,621.3 691.5,621.4 700.1,621.5 710.2,621.6 721.6,621.8 734,621.9 747,622.1 760.4,622.2 773.9,622.3 787.2,622.4 800.1,622.5 812.5,622.6 825,622.6 837.5,622.7 850,622.7 862.5,622.7 875,622.7 887.4,622.6 899.9,622.5 912.3,622.3 924.8,622.1 937.3,621.8 949.7,621.5 962.3,621.2 974.8,620.9 987.3,620.7 999.9,620.5 1012.5,620.4 1025,620.4 1037.5,620.4 1050,620.4 1062.5,620.5 1075,620.5 1087.5,620.5 1100,620.5 1112.4,620.4 1124.9,620.3 1137.4,620.2 1149.9,620.1 1162.4,620 1174.9,619.8 1187.4,619.7 1199.8,619.5 1212.7,619.3 1226.1,619 1239.7,618.8 1253.2,618.5 1266.3,618.2 1278.6,618 1289.9,617.7 1299.8,617.5 1308,617.3 1314.9,617.2 1320.7,617.1 1325.7,616.9 1330.3,616.8 1334.8,616.7 1339.5,616.6 1344.8,616.5 1345.2,637.5 1340,637.6 1335.3,637.7 1330.8,637.8 1326.2,637.9 1321.1,638 1315.3,638.2 1308.5,638.3 1300.2,638.5 1290.4,638.7 1279.1,639 1266.8,639.2 1253.7,639.5 1240.1,639.8 1226.5,640 1213.1,640.3 1200.2,640.5 1187.6,640.7 1175.1,640.8 1162.6,641 1150.1,641.1 1137.6,641.2 1125.1,641.3 1112.6,641.4 1100,641.5 1087.5,641.5 1075,641.5 1062.5,641.5 1050,641.4 1037.5,641.4 1025,641.4 1012.5,641.4 1000.1,641.5 987.7,641.7 975.2,641.9 962.7,642.2 950.3,642.5 937.7,642.8 925.2,643.1 912.7,643.3 900.1,643.5 887.6,643.6 875,643.7 862.5,643.7 850,643.7 837.5,643.7 825,643.6 812.5,643.6 799.9,643.5 787.1,643.4 773.7,643.3 760.2,643.2 746.8,643.1 733.7,642.9 721.4,642.8 710,642.6 699.9,642.5 691.2,642.4 683.8,642.2 677.4,642.1 671.6,642 666.3,641.9 661.1,641.7 655.7,641.6 649.8,641.5Z" fill="#5b73bd"/><circle cx="519.5" cy="652" r="37" fill="#3a4e97"/><circle cx="526" cy="652" r="12" fill="#17184b"/><path d="M1315.8,615L1320.6,612.7 1325.5,610.4 1330.2,608.1 1335,605.8 1339.7,603.6 1344.4,601.3 1349.1,598.9 1353.8,596.4 1358.6,593.7 1363.4,591 1368.3,588 1373.3,585 1378.4,581.9 1383.7,578.8 1389,575.6 1394.5,572.6 1400,569.6 1405.6,566.7 1411.2,563.8 1416.9,560.9 1422.6,558.1 1428.3,555.3 1433.9,552.5 1439.5,549.6 1448.5,566.4 1443.1,569.5 1437.6,572.7 1432.1,575.8 1426.6,578.9 1421.2,582.1 1415.8,585.2 1410.6,588.3 1405.5,591.4 1400.6,594.6 1395.7,597.8 1390.8,601.2 1385.9,604.5 1381,607.9 1376.1,611.2 1371.2,614.5 1366.2,617.6 1361.2,620.6 1356.3,623.4 1351.5,626.2 1346.8,628.8 1342.1,631.3 1337.5,633.9 1332.9,636.4 1328.2,639ZM1428.5,567.7L1428.8,564.1 1429.1,560.5 1429.4,556.9 1429.7,553.4 1429.9,550 1430.1,546.7 1430.2,543.5 1430.2,540.4 1430,537.3 1429.7,534.3 1429.4,531.2 1428.9,528.1 1428.4,525 1427.9,522 1427.4,519 1426.9,516.2 1426.5,513.5 1426,511 1425.6,508.7 1425.2,506.4 1424.7,504.1 1424.3,501.9 1423.8,499.6 1423.4,497.2 1434.6,494.8 1435.2,497.1 1435.7,499.3 1436.3,501.6 1436.8,503.8 1437.4,506.2 1438,508.6 1438.5,511.2 1439.1,513.8 1439.7,516.6 1440.4,519.5 1441,522.6 1441.7,525.8 1442.4,529.1 1443,532.5 1443.5,536 1443.8,539.6 1444,543.3 1444.1,546.9 1444.1,550.6 1444,554.2 1443.8,557.8 1443.7,561.4 1443.6,564.9 1443.5,568.3ZM1431.3,557.7L1434.5,553.9 1437.8,549.9 1441.1,546 1444.3,542.2 1447.4,538.4 1450.4,534.7 1453.1,531.2 1455.6,527.7 1457.8,524.4 1459.8,521.2 1461.7,518 1463.4,514.9 1465,511.8 1466.5,508.7 1468,505.5 1469.4,502.4 1470.7,499.2 1471.8,495.9 1472.9,492.5 1474,489 1474.9,485.6 1475.9,482.3 1476.8,479.1 1477.7,476.1 1478.5,473.6 1479.3,471.3 1480,469.3 1480.6,467.4 1481.2,465.6 1481.8,463.8 1482.4,462 1483,460.1 1495,463.9 1494.4,465.8 1493.9,467.7 1493.3,469.4 1492.8,471.2 1492.2,473.1 1491.7,475.1 1491,477.4 1490.3,479.9 1489.6,482.6 1488.8,485.7 1488,489 1487.2,492.6 1486.2,496.3 1485.2,500.1 1484,503.9 1482.6,507.6 1481.2,511.2 1479.8,514.6 1478.3,518.1 1476.6,521.6 1474.8,525.2 1472.9,528.8 1470.8,532.5 1468.4,536.3 1465.9,540.2 1463,544.2 1460,548.3 1457,552.3 1453.8,556.4 1450.7,560.4 1447.6,564.3 1444.7,568.3ZM1472.3,514.6L1475.9,515.8 1479.6,516.9 1483.2,518.1 1487,519.2 1490.8,520.4 1494.7,521.8 1498.6,523.2 1502.6,524.8 1506.7,526.6 1510.7,528.4 1514.8,530.4 1519,532.4 1523.1,534.5 1527.2,536.7 1531.3,539 1535.3,541.4 1539.2,543.8 1543.2,546.4 1547.2,549.1 1551.1,551.8 1554.9,554.6 1558.7,557.4 1562.3,560.2 1565.7,563 1568.9,565.8 1571.9,568.7 1574.8,571.5 1577.5,574.3 1580,577.1 1582.6,579.9 1585.1,582.6 1587.7,585.3 1580.3,592.7 1577.5,590 1574.8,587.3 1572.2,584.7 1569.5,582 1566.9,579.5 1564.2,576.9 1561.3,574.5 1558.3,572 1555,569.5 1551.6,567 1547.9,564.5 1544.2,562 1540.3,559.5 1536.4,557.1 1532.6,554.8 1528.7,552.6 1524.9,550.5 1521,548.5 1517,546.6 1513,544.7 1509,542.9 1505.1,541.2 1501.2,539.6 1497.4,538.2 1493.7,536.8 1490,535.6 1486.4,534.6 1482.8,533.5 1479.1,532.5 1475.3,531.5 1471.5,530.5 1467.7,529.4ZM1429.8,562L1434.4,563.2 1439.1,564.4 1443.9,565.6 1448.8,566.8 1453.7,568.1 1458.5,569.5 1463.2,571.2 1467.6,573.1 1471.8,575.2 1475.6,577.5 1479.2,579.9 1482.5,582.5 1485.7,585 1488.6,587.6 1491.4,590.2 1494,592.7 1496.6,595.3 1499.1,598.1 1501.4,600.8 1503.5,603.6 1505.5,606.3 1507.3,609 1509,611.6 1510.6,614.2 1512.1,616.8 1513.3,619.3 1514.4,621.8 1515.3,624.2 1516.2,626.5 1516.9,628.7 1517.7,630.9 1518.6,633.1 1509.4,636.9 1508.4,634.7 1507.4,632.4 1506.5,630.2 1505.7,628 1504.8,626 1503.8,623.9 1502.7,621.9 1501.4,619.8 1499.9,617.6 1498.2,615.2 1496.5,612.8 1494.6,610.4 1492.6,608.1 1490.5,605.8 1488.3,603.5 1486,601.3 1483.4,599 1480.7,596.7 1477.9,594.5 1475.1,592.3 1472.1,590.2 1469,588.3 1465.7,586.5 1462.4,584.9 1458.7,583.6 1454.7,582.3 1450.3,581.2 1445.7,580.2 1440.9,579.2 1436,578.2 1431,577.1 1426.2,576ZM1325.9,616.1L1330.5,617.7 1335.2,619.2 1340,620.7 1344.9,622.3 1349.9,623.9 1354.9,625.8 1360,627.8 1364.9,630.1 1369.6,632.6 1374.2,635.1 1378.6,637.9 1382.9,640.7 1387,643.6 1391,646.6 1394.9,649.7 1398.7,652.9 1402.4,656.4 1406,660.1 1409.4,663.8 1412.4,667.5 1415.3,671.1 1417.9,674.3 1420.3,677.1 1422.4,679.4 1424.3,681.3 1425.9,682.8 1427.4,684.1 1428.8,685.3 1430.2,686.4 1431.8,687.5 1433.4,688.8 1435.1,690.2 1424.9,703.8 1423.2,702.6 1421.7,701.6 1420.1,700.6 1418.4,699.5 1416.6,698.2 1414.5,696.6 1412.2,694.8 1409.6,692.6 1406.8,689.9 1403.8,686.9 1400.9,683.8 1397.8,680.6 1394.7,677.4 1391.6,674.4 1388.5,671.6 1385.3,669.1 1382,666.7 1378.4,664.3 1374.7,661.9 1370.9,659.7 1367,657.5 1363.1,655.5 1359.1,653.6 1355.1,651.9 1351.1,650.4 1346.9,649.1 1342.5,647.9 1337.9,646.7 1333.1,645.6 1328.1,644.4 1323.1,643.2 1318.1,641.9ZM1423.6,682.3L1426.1,683.5 1428.6,684.7 1431.1,686 1433.5,687.2 1435.8,688.3 1438.1,689.4 1440.4,690.4 1442.8,691.3 1445.5,692.3 1448,693.4 1450.2,694.3 1452.3,695.1 1454.4,695.7 1456.6,696.2 1459,696.5 1461.9,696.6 1465.5,696.5 1469.8,696.2 1474.4,695.7 1479.2,695.1 1484.1,694.2 1488.8,693.2 1493.3,692 1497.2,690.7 1500.9,689.1 1504.5,687.1 1508.1,684.8 1511.8,682.3 1515.4,679.6 1519,676.9 1522.6,674.2 1526.1,671.9 1529.3,669.7 1532.3,667.7 1535.1,665.7 1537.9,663.8 1540.7,662 1543.5,660.2 1546.3,658.6 1549.2,657.1 1552.1,655.9 1554.9,655 1557.6,654.3 1560.1,653.9 1562.4,653.5 1564.5,653.2 1566.5,652.8 1568.6,652.4 1571.4,664.6 1569,665.2 1566.7,665.6 1564.5,666 1562.4,666.4 1560.5,666.8 1558.6,667.3 1556.8,668 1554.8,668.9 1552.7,670 1550.4,671.4 1548.1,673 1545.6,674.7 1542.9,676.7 1540.1,678.8 1537,681 1533.9,683.1 1530.8,685.4 1527.5,688 1524,690.8 1520.2,693.7 1516.2,696.6 1512,699.5 1507.5,702.1 1502.8,704.3 1497.8,706.2 1492.6,707.7 1487.2,709 1481.8,710.1 1476.5,711 1471.3,711.7 1466.6,712.1 1462.1,712.4 1458,712.4 1454.1,712 1450.6,711.3 1447.4,710.4 1444.6,709.4 1442,708.5 1439.6,707.6 1437.2,706.7 1434.4,705.7 1431.6,704.6 1428.9,703.4 1426.3,702.3 1423.8,701.1 1421.3,699.9 1418.9,698.8 1416.4,697.7ZM1415.2,675.7L1415.4,681.2 1415.6,686.7 1415.8,692.3 1416,697.9 1416.1,703.5 1416.3,709 1416.4,714.5 1416.5,719.9 1416.4,725.2 1416.3,730.6 1416.2,735.9 1416,741.1 1415.9,746.1 1415.7,750.9 1415.7,755.5 1415.7,759.7 1415.9,763.8 1416.2,767.7 1416.5,771.4 1416.9,775 1417.2,778.4 1417.6,781.6 1417.9,784.7 1418.2,787.5 1418.4,789.9 1418.5,791.9 1418.6,793.6 1418.7,795.1 1418.8,796.5 1418.8,797.8 1418.9,799.1 1419,800.6 1409,801.4 1408.9,799.8 1408.8,798.4 1408.6,797.1 1408.5,795.8 1408.4,794.4 1408.3,792.7 1408,790.8 1407.8,788.5 1407.5,785.9 1407,783 1406.5,779.8 1406,776.4 1405.5,772.7 1405,768.7 1404.6,764.6 1404.3,760.3 1404.1,755.7 1403.9,750.9 1403.9,746 1403.9,740.9 1403.8,735.7 1403.8,730.5 1403.7,725.3 1403.5,720.1 1403.3,714.9 1403,709.6 1402.7,704.1 1402.3,698.6 1401.9,693 1401.5,687.5 1401.1,681.9 1400.8,676.3ZM1454.7,697.6L1456.9,701.1 1459.1,704.5 1461.3,708 1463.6,711.5 1465.8,715 1468.1,718.7 1470.3,722.4 1472.5,726.3 1474.6,730.3 1476.6,734.3 1478.6,738.3 1480.6,742.4 1482.5,746.5 1484.4,750.7 1486.3,754.8 1488.2,759 1490.2,763.3 1492.2,767.8 1494.3,772.3 1496.3,776.9 1498.3,781.5 1500.3,786 1502.1,790.4 1503.8,794.7 1505.3,798.7 1506.7,802.6 1507.9,806.4 1509.1,810 1510.2,813.6 1511.2,817.1 1512.3,820.6 1513.4,824.2 1502.6,827.8 1501.3,824.2 1500.1,820.7 1498.9,817.2 1497.7,813.7 1496.5,810.3 1495.2,806.7 1493.8,803.1 1492.2,799.3 1490.5,795.4 1488.6,791.2 1486.5,786.9 1484.4,782.4 1482.3,778 1480.1,773.6 1477.9,769.2 1475.8,765 1473.7,760.8 1471.7,756.7 1469.7,752.7 1467.7,748.7 1465.7,744.8 1463.6,741 1461.6,737.3 1459.5,733.7 1457.4,730.2 1455.2,726.8 1453,723.4 1450.7,720 1448.4,716.7 1446,713.3 1443.6,709.8 1441.3,706.4ZM1444,494.6L1443.6,497.9 1442.5,501.1 1440.7,504 1438.4,506.3 1435.5,508.1 1432.3,509.2 1429,509.6 1425.7,509.2 1422.5,508.1 1419.6,506.3 1417.3,504 1415.5,501.1 1414.4,497.9 1414,494.6 1414.4,491.3 1415.5,488.1 1417.3,485.2 1419.6,482.9 1422.5,481.1 1425.7,480 1429,479.6 1432.3,480 1435.5,481.1 1438.4,482.9 1440.7,485.2 1442.5,488.1 1443.6,491.3ZM1428.3,523L1427.5,521.4 1426.6,519.8 1425.8,518.2 1425.1,516.6 1424.4,514.9 1423.7,513.3 1423.1,511.6 1422.5,509.9 1421.9,508.3 1421.4,506.6 1420.9,504.9 1420.5,503.2 1420.1,501.5 1419.7,499.8 1419.4,498.1 1419,496.4 1439,492.8 1439.3,494.5 1439.5,496.2 1439.8,497.9 1440,499.7 1440.2,501.4 1440.3,503.1 1440.4,504.9 1440.5,506.7 1440.6,508.4 1440.6,510.2 1440.5,512 1440.4,513.7 1440.3,515.5 1440.1,517.3 1439.9,519.2 1439.7,521ZM1504,460L1503.6,463.3 1502.5,466.5 1500.7,469.4 1498.4,471.7 1495.5,473.5 1492.3,474.6 1489,475 1485.7,474.6 1482.5,473.5 1479.6,471.7 1477.3,469.4 1475.5,466.5 1474.4,463.3 1474,460 1474.4,456.7 1475.5,453.5 1477.3,450.6 1479.6,448.3 1482.5,446.5 1485.7,445.4 1489,445 1492.3,445.4 1495.5,446.5 1498.4,448.3 1500.7,450.6 1502.5,453.5 1503.6,456.7ZM1474,490.3L1474.1,488.2 1474.2,486 1474.3,483.9 1474.5,481.8 1474.7,479.7 1475,477.6 1475.2,475.6 1475.6,473.5 1475.9,471.4 1476.3,469.4 1476.7,467.3 1477.2,465.3 1477.7,463.3 1478.2,461.3 1478.7,459.3 1479.3,457.3 1498.7,462.7 1498.2,464.7 1497.6,466.7 1497,468.7 1496.3,470.7 1495.6,472.7 1494.9,474.6 1494.2,476.6 1493.4,478.5 1492.6,480.4 1491.8,482.4 1490.9,484.3 1490,486.2 1489.1,488.1 1488.1,490 1487.1,491.8 1486,493.7ZM1595.5,589.5L1595.2,592.1 1594.4,594.5 1593,596.7 1591.2,598.5 1589,599.9 1586.6,600.7 1584,601 1581.4,600.7 1579,599.9 1576.8,598.5 1575,596.7 1573.6,594.5 1572.8,592.1 1572.5,589.5 1572.8,586.9 1573.6,584.5 1575,582.3 1576.8,580.5 1579,579.1 1581.4,578.3 1584,578 1586.6,578.3 1589,579.1 1591.2,580.5 1593,582.3 1594.4,584.5 1595.2,586.9ZM1569.8,567.3L1571.1,568.3 1572.5,569.2 1573.8,570.2 1575.1,571.1 1576.4,572.1 1577.7,573.1 1578.9,574.2 1580.2,575.2 1581.4,576.3 1582.6,577.4 1583.8,578.4 1585,579.5 1586.1,580.7 1587.3,581.8 1588.4,582.9 1589.6,584.1 1578.4,594.9 1577.3,593.8 1576.2,592.6 1575.1,591.4 1574,590.2 1573,589 1571.9,587.8 1570.9,586.5 1569.8,585.3 1568.8,584 1567.8,582.7 1566.9,581.4 1565.9,580.1 1565,578.8 1564,577.4 1563.1,576 1562.2,574.7ZM1524.5,635.5L1524.2,637.8 1523.5,640.1 1522.2,642 1520.5,643.7 1518.6,645 1516.3,645.7 1514,646 1511.7,645.7 1509.4,645 1507.5,643.7 1505.8,642 1504.5,640.1 1503.8,637.8 1503.5,635.5 1503.8,633.2 1504.5,630.9 1505.8,629 1507.5,627.3 1509.4,626 1511.7,625.3 1514,625 1516.3,625.3 1518.6,626 1520.5,627.3 1522.2,629 1523.5,630.9 1524.2,633.2ZM1507.5,610.8L1508.4,612.1 1509.3,613.4 1510.2,614.7 1511.1,616 1512,617.3 1512.8,618.7 1513.7,620 1514.5,621.3 1515.3,622.7 1516,624.1 1516.8,625.4 1517.5,626.8 1518.3,628.2 1519,629.6 1519.7,631 1520.4,632.4 1507.6,638.6 1506.9,637.2 1506.3,635.8 1505.6,634.4 1505,632.9 1504.3,631.5 1503.7,630.1 1503.1,628.6 1502.5,627.2 1502,625.7 1501.4,624.2 1500.9,622.7 1500.4,621.3 1499.9,619.8 1499.4,618.2 1498.9,616.7 1498.5,615.2ZM1585,658.5L1584.6,661.8 1583.5,665 1581.7,667.9 1579.4,670.2 1576.5,672 1573.3,673.1 1570,673.5 1566.7,673.1 1563.5,672 1560.6,670.2 1558.3,667.9 1556.5,665 1555.4,661.8 1555,658.5 1555.4,655.2 1556.5,652 1558.3,649.1 1560.6,646.8 1563.5,645 1566.7,643.9 1570,643.5 1573.3,643.9 1576.5,645 1579.4,646.8 1581.7,649.1 1583.5,652 1584.6,655.2ZM1539.8,663.1L1541.4,662 1543,660.9 1544.6,659.8 1546.2,658.8 1547.8,657.8 1549.4,656.9 1551.1,655.9 1552.7,655.1 1554.4,654.2 1556.1,653.4 1557.8,652.6 1559.5,651.8 1561.2,651.1 1563,650.4 1564.7,649.7 1566.4,649 1573.6,668 1571.8,668.6 1570,669.3 1568.3,669.9 1566.5,670.4 1564.7,671 1562.9,671.5 1561.1,672 1559.3,672.4 1557.4,672.9 1555.6,673.3 1553.7,673.6 1551.8,673.9 1549.9,674.2 1548,674.5 1546.1,674.7 1544.2,674.9ZM1426,801.5L1425.7,804.1 1424.8,806.6 1423.4,808.8 1421.6,810.6 1419.4,812 1416.9,812.9 1414.3,813.2 1411.7,812.9 1409.2,812 1407,810.6 1405.2,808.8 1403.8,806.6 1402.9,804.1 1402.6,801.5 1402.9,798.9 1403.8,796.4 1405.2,794.2 1407,792.4 1409.2,791 1411.7,790.1 1414.3,789.8 1416.9,790.1 1419.4,791 1421.6,792.4 1423.4,794.2 1424.8,796.4 1425.7,798.9ZM1417,777.5L1417.5,778.9 1418,780.4 1418.5,781.8 1418.9,783.3 1419.3,784.7 1419.7,786.1 1420.1,787.6 1420.4,789 1420.7,790.5 1421,792 1421.2,793.4 1421.4,794.9 1421.7,796.3 1421.8,797.8 1422,799.3 1422.2,800.7 1406.4,802.3 1406.3,800.8 1406.2,799.3 1406.1,797.9 1406,796.4 1405.9,794.9 1405.9,793.4 1405.9,791.9 1405.9,790.5 1406,789 1406,787.5 1406.1,786 1406.2,784.5 1406.4,783 1406.6,781.5 1406.8,780 1407,778.5ZM1525,827L1524.6,830.7 1523.4,834.2 1521.4,837.3 1518.8,839.9 1515.7,841.9 1512.2,843.1 1508.5,843.5 1504.8,843.1 1501.3,841.9 1498.2,839.9 1495.6,837.3 1493.6,834.2 1492.4,830.7 1492,827 1492.4,823.3 1493.6,819.8 1495.6,816.7 1498.2,814.1 1501.3,812.1 1504.8,810.9 1508.5,810.5 1512.2,810.9 1515.7,812.1 1518.8,814.1 1521.4,816.7 1523.4,819.8 1524.6,823.3ZM1503.4,795.1L1504.8,796.7 1506,798.4 1507.3,800.1 1508.4,801.8 1509.6,803.5 1510.6,805.2 1511.7,806.9 1512.7,808.7 1513.6,810.5 1514.5,812.3 1515.3,814.1 1516.1,815.9 1516.9,817.7 1517.6,819.6 1518.3,821.4 1519,823.3 1498,830.7 1497.3,828.8 1496.7,826.9 1496.1,825 1495.6,823.1 1495.1,821.2 1494.6,819.2 1494.2,817.3 1493.8,815.3 1493.5,813.3 1493.2,811.3 1493,809.3 1492.8,807.2 1492.7,805.2 1492.6,803.1 1492.6,801 1492.6,798.9Z" fill="#22347f" stroke="#22347f" stroke-width="4.4" stroke-linejoin="round" /><path d="M1315.8,615L1320.6,612.7 1325.5,610.4 1330.2,608.1 1335,605.8 1339.7,603.6 1344.4,601.3 1349.1,598.9 1353.8,596.4 1358.6,593.7 1363.4,591 1368.3,588 1373.3,585 1378.4,581.9 1383.7,578.8 1389,575.6 1394.5,572.6 1400,569.6 1405.6,566.7 1411.2,563.8 1416.9,560.9 1422.6,558.1 1428.3,555.3 1433.9,552.5 1439.5,549.6 1448.5,566.4 1443.1,569.5 1437.6,572.7 1432.1,575.8 1426.6,578.9 1421.2,582.1 1415.8,585.2 1410.6,588.3 1405.5,591.4 1400.6,594.6 1395.7,597.8 1390.8,601.2 1385.9,604.5 1381,607.9 1376.1,611.2 1371.2,614.5 1366.2,617.6 1361.2,620.6 1356.3,623.4 1351.5,626.2 1346.8,628.8 1342.1,631.3 1337.5,633.9 1332.9,636.4 1328.2,639ZM1428.5,567.7L1428.8,564.1 1429.1,560.5 1429.4,556.9 1429.7,553.4 1429.9,550 1430.1,546.7 1430.2,543.5 1430.2,540.4 1430,537.3 1429.7,534.3 1429.4,531.2 1428.9,528.1 1428.4,525 1427.9,522 1427.4,519 1426.9,516.2 1426.5,513.5 1426,511 1425.6,508.7 1425.2,506.4 1424.7,504.1 1424.3,501.9 1423.8,499.6 1423.4,497.2 1434.6,494.8 1435.2,497.1 1435.7,499.3 1436.3,501.6 1436.8,503.8 1437.4,506.2 1438,508.6 1438.5,511.2 1439.1,513.8 1439.7,516.6 1440.4,519.5 1441,522.6 1441.7,525.8 1442.4,529.1 1443,532.5 1443.5,536 1443.8,539.6 1444,543.3 1444.1,546.9 1444.1,550.6 1444,554.2 1443.8,557.8 1443.7,561.4 1443.6,564.9 1443.5,568.3ZM1431.3,557.7L1434.5,553.9 1437.8,549.9 1441.1,546 1444.3,542.2 1447.4,538.4 1450.4,534.7 1453.1,531.2 1455.6,527.7 1457.8,524.4 1459.8,521.2 1461.7,518 1463.4,514.9 1465,511.8 1466.5,508.7 1468,505.5 1469.4,502.4 1470.7,499.2 1471.8,495.9 1472.9,492.5 1474,489 1474.9,485.6 1475.9,482.3 1476.8,479.1 1477.7,476.1 1478.5,473.6 1479.3,471.3 1480,469.3 1480.6,467.4 1481.2,465.6 1481.8,463.8 1482.4,462 1483,460.1 1495,463.9 1494.4,465.8 1493.9,467.7 1493.3,469.4 1492.8,471.2 1492.2,473.1 1491.7,475.1 1491,477.4 1490.3,479.9 1489.6,482.6 1488.8,485.7 1488,489 1487.2,492.6 1486.2,496.3 1485.2,500.1 1484,503.9 1482.6,507.6 1481.2,511.2 1479.8,514.6 1478.3,518.1 1476.6,521.6 1474.8,525.2 1472.9,528.8 1470.8,532.5 1468.4,536.3 1465.9,540.2 1463,544.2 1460,548.3 1457,552.3 1453.8,556.4 1450.7,560.4 1447.6,564.3 1444.7,568.3ZM1472.3,514.6L1475.9,515.8 1479.6,516.9 1483.2,518.1 1487,519.2 1490.8,520.4 1494.7,521.8 1498.6,523.2 1502.6,524.8 1506.7,526.6 1510.7,528.4 1514.8,530.4 1519,532.4 1523.1,534.5 1527.2,536.7 1531.3,539 1535.3,541.4 1539.2,543.8 1543.2,546.4 1547.2,549.1 1551.1,551.8 1554.9,554.6 1558.7,557.4 1562.3,560.2 1565.7,563 1568.9,565.8 1571.9,568.7 1574.8,571.5 1577.5,574.3 1580,577.1 1582.6,579.9 1585.1,582.6 1587.7,585.3 1580.3,592.7 1577.5,590 1574.8,587.3 1572.2,584.7 1569.5,582 1566.9,579.5 1564.2,576.9 1561.3,574.5 1558.3,572 1555,569.5 1551.6,567 1547.9,564.5 1544.2,562 1540.3,559.5 1536.4,557.1 1532.6,554.8 1528.7,552.6 1524.9,550.5 1521,548.5 1517,546.6 1513,544.7 1509,542.9 1505.1,541.2 1501.2,539.6 1497.4,538.2 1493.7,536.8 1490,535.6 1486.4,534.6 1482.8,533.5 1479.1,532.5 1475.3,531.5 1471.5,530.5 1467.7,529.4ZM1429.8,562L1434.4,563.2 1439.1,564.4 1443.9,565.6 1448.8,566.8 1453.7,568.1 1458.5,569.5 1463.2,571.2 1467.6,573.1 1471.8,575.2 1475.6,577.5 1479.2,579.9 1482.5,582.5 1485.7,585 1488.6,587.6 1491.4,590.2 1494,592.7 1496.6,595.3 1499.1,598.1 1501.4,600.8 1503.5,603.6 1505.5,606.3 1507.3,609 1509,611.6 1510.6,614.2 1512.1,616.8 1513.3,619.3 1514.4,621.8 1515.3,624.2 1516.2,626.5 1516.9,628.7 1517.7,630.9 1518.6,633.1 1509.4,636.9 1508.4,634.7 1507.4,632.4 1506.5,630.2 1505.7,628 1504.8,626 1503.8,623.9 1502.7,621.9 1501.4,619.8 1499.9,617.6 1498.2,615.2 1496.5,612.8 1494.6,610.4 1492.6,608.1 1490.5,605.8 1488.3,603.5 1486,601.3 1483.4,599 1480.7,596.7 1477.9,594.5 1475.1,592.3 1472.1,590.2 1469,588.3 1465.7,586.5 1462.4,584.9 1458.7,583.6 1454.7,582.3 1450.3,581.2 1445.7,580.2 1440.9,579.2 1436,578.2 1431,577.1 1426.2,576ZM1325.9,616.1L1330.5,617.7 1335.2,619.2 1340,620.7 1344.9,622.3 1349.9,623.9 1354.9,625.8 1360,627.8 1364.9,630.1 1369.6,632.6 1374.2,635.1 1378.6,637.9 1382.9,640.7 1387,643.6 1391,646.6 1394.9,649.7 1398.7,652.9 1402.4,656.4 1406,660.1 1409.4,663.8 1412.4,667.5 1415.3,671.1 1417.9,674.3 1420.3,677.1 1422.4,679.4 1424.3,681.3 1425.9,682.8 1427.4,684.1 1428.8,685.3 1430.2,686.4 1431.8,687.5 1433.4,688.8 1435.1,690.2 1424.9,703.8 1423.2,702.6 1421.7,701.6 1420.1,700.6 1418.4,699.5 1416.6,698.2 1414.5,696.6 1412.2,694.8 1409.6,692.6 1406.8,689.9 1403.8,686.9 1400.9,683.8 1397.8,680.6 1394.7,677.4 1391.6,674.4 1388.5,671.6 1385.3,669.1 1382,666.7 1378.4,664.3 1374.7,661.9 1370.9,659.7 1367,657.5 1363.1,655.5 1359.1,653.6 1355.1,651.9 1351.1,650.4 1346.9,649.1 1342.5,647.9 1337.9,646.7 1333.1,645.6 1328.1,644.4 1323.1,643.2 1318.1,641.9ZM1423.6,682.3L1426.1,683.5 1428.6,684.7 1431.1,686 1433.5,687.2 1435.8,688.3 1438.1,689.4 1440.4,690.4 1442.8,691.3 1445.5,692.3 1448,693.4 1450.2,694.3 1452.3,695.1 1454.4,695.7 1456.6,696.2 1459,696.5 1461.9,696.6 1465.5,696.5 1469.8,696.2 1474.4,695.7 1479.2,695.1 1484.1,694.2 1488.8,693.2 1493.3,692 1497.2,690.7 1500.9,689.1 1504.5,687.1 1508.1,684.8 1511.8,682.3 1515.4,679.6 1519,676.9 1522.6,674.2 1526.1,671.9 1529.3,669.7 1532.3,667.7 1535.1,665.7 1537.9,663.8 1540.7,662 1543.5,660.2 1546.3,658.6 1549.2,657.1 1552.1,655.9 1554.9,655 1557.6,654.3 1560.1,653.9 1562.4,653.5 1564.5,653.2 1566.5,652.8 1568.6,652.4 1571.4,664.6 1569,665.2 1566.7,665.6 1564.5,666 1562.4,666.4 1560.5,666.8 1558.6,667.3 1556.8,668 1554.8,668.9 1552.7,670 1550.4,671.4 1548.1,673 1545.6,674.7 1542.9,676.7 1540.1,678.8 1537,681 1533.9,683.1 1530.8,685.4 1527.5,688 1524,690.8 1520.2,693.7 1516.2,696.6 1512,699.5 1507.5,702.1 1502.8,704.3 1497.8,706.2 1492.6,707.7 1487.2,709 1481.8,710.1 1476.5,711 1471.3,711.7 1466.6,712.1 1462.1,712.4 1458,712.4 1454.1,712 1450.6,711.3 1447.4,710.4 1444.6,709.4 1442,708.5 1439.6,707.6 1437.2,706.7 1434.4,705.7 1431.6,704.6 1428.9,703.4 1426.3,702.3 1423.8,701.1 1421.3,699.9 1418.9,698.8 1416.4,697.7ZM1415.2,675.7L1415.4,681.2 1415.6,686.7 1415.8,692.3 1416,697.9 1416.1,703.5 1416.3,709 1416.4,714.5 1416.5,719.9 1416.4,725.2 1416.3,730.6 1416.2,735.9 1416,741.1 1415.9,746.1 1415.7,750.9 1415.7,755.5 1415.7,759.7 1415.9,763.8 1416.2,767.7 1416.5,771.4 1416.9,775 1417.2,778.4 1417.6,781.6 1417.9,784.7 1418.2,787.5 1418.4,789.9 1418.5,791.9 1418.6,793.6 1418.7,795.1 1418.8,796.5 1418.8,797.8 1418.9,799.1 1419,800.6 1409,801.4 1408.9,799.8 1408.8,798.4 1408.6,797.1 1408.5,795.8 1408.4,794.4 1408.3,792.7 1408,790.8 1407.8,788.5 1407.5,785.9 1407,783 1406.5,779.8 1406,776.4 1405.5,772.7 1405,768.7 1404.6,764.6 1404.3,760.3 1404.1,755.7 1403.9,750.9 1403.9,746 1403.9,740.9 1403.8,735.7 1403.8,730.5 1403.7,725.3 1403.5,720.1 1403.3,714.9 1403,709.6 1402.7,704.1 1402.3,698.6 1401.9,693 1401.5,687.5 1401.1,681.9 1400.8,676.3ZM1454.7,697.6L1456.9,701.1 1459.1,704.5 1461.3,708 1463.6,711.5 1465.8,715 1468.1,718.7 1470.3,722.4 1472.5,726.3 1474.6,730.3 1476.6,734.3 1478.6,738.3 1480.6,742.4 1482.5,746.5 1484.4,750.7 1486.3,754.8 1488.2,759 1490.2,763.3 1492.2,767.8 1494.3,772.3 1496.3,776.9 1498.3,781.5 1500.3,786 1502.1,790.4 1503.8,794.7 1505.3,798.7 1506.7,802.6 1507.9,806.4 1509.1,810 1510.2,813.6 1511.2,817.1 1512.3,820.6 1513.4,824.2 1502.6,827.8 1501.3,824.2 1500.1,820.7 1498.9,817.2 1497.7,813.7 1496.5,810.3 1495.2,806.7 1493.8,803.1 1492.2,799.3 1490.5,795.4 1488.6,791.2 1486.5,786.9 1484.4,782.4 1482.3,778 1480.1,773.6 1477.9,769.2 1475.8,765 1473.7,760.8 1471.7,756.7 1469.7,752.7 1467.7,748.7 1465.7,744.8 1463.6,741 1461.6,737.3 1459.5,733.7 1457.4,730.2 1455.2,726.8 1453,723.4 1450.7,720 1448.4,716.7 1446,713.3 1443.6,709.8 1441.3,706.4ZM1444,494.6L1443.6,497.9 1442.5,501.1 1440.7,504 1438.4,506.3 1435.5,508.1 1432.3,509.2 1429,509.6 1425.7,509.2 1422.5,508.1 1419.6,506.3 1417.3,504 1415.5,501.1 1414.4,497.9 1414,494.6 1414.4,491.3 1415.5,488.1 1417.3,485.2 1419.6,482.9 1422.5,481.1 1425.7,480 1429,479.6 1432.3,480 1435.5,481.1 1438.4,482.9 1440.7,485.2 1442.5,488.1 1443.6,491.3ZM1428.3,523L1427.5,521.4 1426.6,519.8 1425.8,518.2 1425.1,516.6 1424.4,514.9 1423.7,513.3 1423.1,511.6 1422.5,509.9 1421.9,508.3 1421.4,506.6 1420.9,504.9 1420.5,503.2 1420.1,501.5 1419.7,499.8 1419.4,498.1 1419,496.4 1439,492.8 1439.3,494.5 1439.5,496.2 1439.8,497.9 1440,499.7 1440.2,501.4 1440.3,503.1 1440.4,504.9 1440.5,506.7 1440.6,508.4 1440.6,510.2 1440.5,512 1440.4,513.7 1440.3,515.5 1440.1,517.3 1439.9,519.2 1439.7,521ZM1504,460L1503.6,463.3 1502.5,466.5 1500.7,469.4 1498.4,471.7 1495.5,473.5 1492.3,474.6 1489,475 1485.7,474.6 1482.5,473.5 1479.6,471.7 1477.3,469.4 1475.5,466.5 1474.4,463.3 1474,460 1474.4,456.7 1475.5,453.5 1477.3,450.6 1479.6,448.3 1482.5,446.5 1485.7,445.4 1489,445 1492.3,445.4 1495.5,446.5 1498.4,448.3 1500.7,450.6 1502.5,453.5 1503.6,456.7ZM1474,490.3L1474.1,488.2 1474.2,486 1474.3,483.9 1474.5,481.8 1474.7,479.7 1475,477.6 1475.2,475.6 1475.6,473.5 1475.9,471.4 1476.3,469.4 1476.7,467.3 1477.2,465.3 1477.7,463.3 1478.2,461.3 1478.7,459.3 1479.3,457.3 1498.7,462.7 1498.2,464.7 1497.6,466.7 1497,468.7 1496.3,470.7 1495.6,472.7 1494.9,474.6 1494.2,476.6 1493.4,478.5 1492.6,480.4 1491.8,482.4 1490.9,484.3 1490,486.2 1489.1,488.1 1488.1,490 1487.1,491.8 1486,493.7ZM1595.5,589.5L1595.2,592.1 1594.4,594.5 1593,596.7 1591.2,598.5 1589,599.9 1586.6,600.7 1584,601 1581.4,600.7 1579,599.9 1576.8,598.5 1575,596.7 1573.6,594.5 1572.8,592.1 1572.5,589.5 1572.8,586.9 1573.6,584.5 1575,582.3 1576.8,580.5 1579,579.1 1581.4,578.3 1584,578 1586.6,578.3 1589,579.1 1591.2,580.5 1593,582.3 1594.4,584.5 1595.2,586.9ZM1569.8,567.3L1571.1,568.3 1572.5,569.2 1573.8,570.2 1575.1,571.1 1576.4,572.1 1577.7,573.1 1578.9,574.2 1580.2,575.2 1581.4,576.3 1582.6,577.4 1583.8,578.4 1585,579.5 1586.1,580.7 1587.3,581.8 1588.4,582.9 1589.6,584.1 1578.4,594.9 1577.3,593.8 1576.2,592.6 1575.1,591.4 1574,590.2 1573,589 1571.9,587.8 1570.9,586.5 1569.8,585.3 1568.8,584 1567.8,582.7 1566.9,581.4 1565.9,580.1 1565,578.8 1564,577.4 1563.1,576 1562.2,574.7ZM1524.5,635.5L1524.2,637.8 1523.5,640.1 1522.2,642 1520.5,643.7 1518.6,645 1516.3,645.7 1514,646 1511.7,645.7 1509.4,645 1507.5,643.7 1505.8,642 1504.5,640.1 1503.8,637.8 1503.5,635.5 1503.8,633.2 1504.5,630.9 1505.8,629 1507.5,627.3 1509.4,626 1511.7,625.3 1514,625 1516.3,625.3 1518.6,626 1520.5,627.3 1522.2,629 1523.5,630.9 1524.2,633.2ZM1507.5,610.8L1508.4,612.1 1509.3,613.4 1510.2,614.7 1511.1,616 1512,617.3 1512.8,618.7 1513.7,620 1514.5,621.3 1515.3,622.7 1516,624.1 1516.8,625.4 1517.5,626.8 1518.3,628.2 1519,629.6 1519.7,631 1520.4,632.4 1507.6,638.6 1506.9,637.2 1506.3,635.8 1505.6,634.4 1505,632.9 1504.3,631.5 1503.7,630.1 1503.1,628.6 1502.5,627.2 1502,625.7 1501.4,624.2 1500.9,622.7 1500.4,621.3 1499.9,619.8 1499.4,618.2 1498.9,616.7 1498.5,615.2ZM1585,658.5L1584.6,661.8 1583.5,665 1581.7,667.9 1579.4,670.2 1576.5,672 1573.3,673.1 1570,673.5 1566.7,673.1 1563.5,672 1560.6,670.2 1558.3,667.9 1556.5,665 1555.4,661.8 1555,658.5 1555.4,655.2 1556.5,652 1558.3,649.1 1560.6,646.8 1563.5,645 1566.7,643.9 1570,643.5 1573.3,643.9 1576.5,645 1579.4,646.8 1581.7,649.1 1583.5,652 1584.6,655.2ZM1539.8,663.1L1541.4,662 1543,660.9 1544.6,659.8 1546.2,658.8 1547.8,657.8 1549.4,656.9 1551.1,655.9 1552.7,655.1 1554.4,654.2 1556.1,653.4 1557.8,652.6 1559.5,651.8 1561.2,651.1 1563,650.4 1564.7,649.7 1566.4,649 1573.6,668 1571.8,668.6 1570,669.3 1568.3,669.9 1566.5,670.4 1564.7,671 1562.9,671.5 1561.1,672 1559.3,672.4 1557.4,672.9 1555.6,673.3 1553.7,673.6 1551.8,673.9 1549.9,674.2 1548,674.5 1546.1,674.7 1544.2,674.9ZM1426,801.5L1425.7,804.1 1424.8,806.6 1423.4,808.8 1421.6,810.6 1419.4,812 1416.9,812.9 1414.3,813.2 1411.7,812.9 1409.2,812 1407,810.6 1405.2,808.8 1403.8,806.6 1402.9,804.1 1402.6,801.5 1402.9,798.9 1403.8,796.4 1405.2,794.2 1407,792.4 1409.2,791 1411.7,790.1 1414.3,789.8 1416.9,790.1 1419.4,791 1421.6,792.4 1423.4,794.2 1424.8,796.4 1425.7,798.9ZM1417,777.5L1417.5,778.9 1418,780.4 1418.5,781.8 1418.9,783.3 1419.3,784.7 1419.7,786.1 1420.1,787.6 1420.4,789 1420.7,790.5 1421,792 1421.2,793.4 1421.4,794.9 1421.7,796.3 1421.8,797.8 1422,799.3 1422.2,800.7 1406.4,802.3 1406.3,800.8 1406.2,799.3 1406.1,797.9 1406,796.4 1405.9,794.9 1405.9,793.4 1405.9,791.9 1405.9,790.5 1406,789 1406,787.5 1406.1,786 1406.2,784.5 1406.4,783 1406.6,781.5 1406.8,780 1407,778.5ZM1525,827L1524.6,830.7 1523.4,834.2 1521.4,837.3 1518.8,839.9 1515.7,841.9 1512.2,843.1 1508.5,843.5 1504.8,843.1 1501.3,841.9 1498.2,839.9 1495.6,837.3 1493.6,834.2 1492.4,830.7 1492,827 1492.4,823.3 1493.6,819.8 1495.6,816.7 1498.2,814.1 1501.3,812.1 1504.8,810.9 1508.5,810.5 1512.2,810.9 1515.7,812.1 1518.8,814.1 1521.4,816.7 1523.4,819.8 1524.6,823.3ZM1503.4,795.1L1504.8,796.7 1506,798.4 1507.3,800.1 1508.4,801.8 1509.6,803.5 1510.6,805.2 1511.7,806.9 1512.7,808.7 1513.6,810.5 1514.5,812.3 1515.3,814.1 1516.1,815.9 1516.9,817.7 1517.6,819.6 1518.3,821.4 1519,823.3 1498,830.7 1497.3,828.8 1496.7,826.9 1496.1,825 1495.6,823.1 1495.1,821.2 1494.6,819.2 1494.2,817.3 1493.8,815.3 1493.5,813.3 1493.2,811.3 1493,809.3 1492.8,807.2 1492.7,805.2 1492.6,803.1 1492.6,801 1492.6,798.9Z" fill="#5b73bd"/><rect x="1318" y="617" width="14" height="21" fill="#5b73bd"/><rect x="757" y="615" width="200" height="36" fill="#ffffff"/><path d="M757,700 H936 Q941,700 941,705 V719 Q941,724 936,724 H757 Q752,724 752,719 V705 Q752,700 757,700ZM974,700 H1153 Q1158,700 1158,705 V719 Q1158,724 1153,724 H974 Q969,724 969,719 V705 Q969,700 974,700ZM863.5,712L860.1,715.3 857.3,718.4 855,721.5 853.1,724.7 851.7,727.8 850.7,731.1 850.3,734.4 850.3,737.9 850.4,741.7 850.4,745.5 850.5,749.6 850.5,753.6 850.6,757.7 850.8,761.8 850.9,765.8 851.1,769.8 851.3,773.6 851.6,777.5 851.8,781.3 852.1,785.1 852.4,788.8 852.8,792.4 853.3,795.9 853.9,799.2 854.5,802.5 855.3,805.7 856.2,808.8 857.1,811.9 858.1,814.9 859.2,817.8 860.3,820.7 861.5,823.5 862.7,826.3 863.9,829 865.2,831.6 866.6,834.1 868,836.6 869.5,839.1 871.1,841.4 872.9,843.8 874.7,846.1 876.8,848.5 878.9,850.9 881.2,853.2 883.5,855.4 885.7,857.5 888,859.5 890.1,861.3 892.2,862.9 894.3,864.3 896.5,865.7 898.7,866.9 900.8,868.1 902.9,869.1 904.8,870.1 906.5,871.1 908,871.8 909.2,872.4 910.3,872.9 911.2,873.3 912.2,873.7 913.1,874.1 914.2,874.5 915.3,875 912.7,881 911.7,880.5 910.7,880.2 909.8,879.8 908.8,879.4 907.6,879 906.4,878.4 905,877.7 903.5,876.9 901.7,876 899.8,875.1 897.7,874 895.4,872.8 893.1,871.5 890.7,870.1 888.2,868.5 885.9,866.7 883.5,864.8 881.1,862.7 878.7,860.5 876.2,858.2 873.8,855.8 871.5,853.3 869.2,850.7 867.1,848.2 865.2,845.6 863.4,843.1 861.8,840.4 860.2,837.7 858.7,835 857.2,832.2 855.9,829.4 854.5,826.5 853.3,823.5 852.1,820.5 850.9,817.4 849.8,814.3 848.8,811 847.8,807.7 846.9,804.3 846.1,800.8 845.5,797.1 844.9,793.4 844.4,789.6 844.1,785.8 843.7,781.9 843.4,778 843.2,774.1 842.9,770.2 842.6,766.3 842.4,762.2 842.2,758 842.1,753.9 842,749.7 841.9,745.7 841.8,741.8 841.7,738.1 841.6,734.5 841.1,731.1 840.2,727.8 838.8,724.6 837,721.4 834.7,718.3 831.9,715.2 828.5,712ZM1090.5,712.5L1087.1,715.6 1084.3,718.7 1081.9,722 1080,725.4 1078.5,728.7 1077.5,732.1 1076.8,735.4 1076.3,738.6 1075.8,741.7 1075.3,744.7 1074.7,747.6 1074,750.6 1073.2,753.5 1072.2,756.3 1071.1,759.1 1069.8,761.9 1068.4,764.5 1066.8,767.2 1065.1,769.7 1063.3,772.2 1061.4,774.6 1059.3,776.9 1057,779.1 1054.6,781.2 1052,783.2 1049.2,785 1046.3,786.6 1043.3,788.1 1040.4,789.6 1037.4,790.9 1034.5,792.3 1031.7,793.6 1028.8,794.9 1025.9,796.1 1023.1,797.2 1020.3,798.3 1017.6,799.4 1015.1,800.5 1012.6,801.8 1010.1,803.2 1007.7,804.9 1005.2,806.8 1002.8,808.8 1000.3,810.9 997.9,813.2 995.5,815.5 993.1,818 990.8,820.5 988.5,823.1 986.2,825.9 984,828.9 981.7,832 979.5,835.1 977.3,838.2 975,841.3 972.9,844.2 970.8,846.9 968.8,849.5 966.9,852.2 964.9,854.7 962.9,857.3 960.9,859.8 958.7,862.2 956.4,864.5 953.9,866.7 951.3,868.8 948.7,870.9 945.9,872.8 943.2,874.7 940.5,876.3 937.9,877.8 935.4,879 932.9,880 930.5,880.7 928.3,881.2 926.1,881.5 924.1,881.6 922.2,881.8 920.4,881.9 918.5,882.2 917.5,875.8 919.6,875.5 921.6,875.3 923.6,875.1 925.4,874.9 927.2,874.7 928.9,874.3 930.7,873.8 932.6,873 934.8,871.9 937.1,870.5 939.6,869 942.1,867.3 944.6,865.4 947,863.5 949.4,861.5 951.6,859.5 953.7,857.4 955.6,855.2 957.5,852.9 959.3,850.5 961.2,848 963.1,845.3 965.1,842.6 967.1,839.8 969.2,837 971.4,834 973.5,830.9 975.8,827.7 978,824.6 980.4,821.4 982.8,818.4 985.2,815.5 987.7,812.8 990.1,810.2 992.6,807.7 995.2,805.3 997.8,803 1000.4,800.8 1003.1,798.7 1005.9,796.8 1008.7,795 1011.7,793.5 1014.6,792.1 1017.4,791 1020.2,789.9 1023,788.8 1025.6,787.6 1028.3,786.4 1031.1,785 1034,783.6 1036.9,782.3 1039.7,780.9 1042.4,779.4 1044.9,778 1047.3,776.4 1049.4,774.8 1051.4,773 1053.2,771.1 1055,769.2 1056.7,767.1 1058.2,764.9 1059.7,762.7 1061,760.4 1062.2,758.1 1063.2,755.8 1064.2,753.4 1064.9,751 1065.6,748.4 1066.2,745.8 1066.8,743.1 1067.2,740.3 1067.7,737.4 1068,734.5 1067.7,731.5 1067,728.4 1065.6,725.1 1063.8,721.9 1061.5,718.5 1058.7,715 1055.5,711.5ZM890,870L891.4,868.2 893.9,866.9 897,865.8 900.2,864.8 903,864 905.5,863.2 907.9,862.5 910.2,862 912.6,861.6 915,861.5 917.4,861.6 919.8,861.9 922.1,862.4 924.5,863.1 927,864 929.9,865.2 933.1,866.6 936.3,868.2 938.7,870.1 940,872 939.7,874.2 938.3,876.7 936.2,879.3 933.9,881.8 932,884 930.4,885.9 928.9,887.7 927.3,889.4 925.7,890.8 924,892 922.1,893 920.1,893.8 918.1,894.5 916,894.9 914,895 912,894.9 909.9,894.5 907.9,893.8 905.9,893 904,892 902.2,890.8 900.6,889.4 899,887.9 897.4,886.1 896,884 894.4,881.5 892.5,878.4 890.9,875.3 890,872.4Z" fill="#9cc6b4" stroke="#9cc6b4" stroke-width="2.6" stroke-linejoin="round" /><path d="M757,700 H936 Q941,700 941,705 V719 Q941,724 936,724 H757 Q752,724 752,719 V705 Q752,700 757,700ZM974,700 H1153 Q1158,700 1158,705 V719 Q1158,724 1153,724 H974 Q969,724 969,719 V705 Q969,700 974,700ZM863.5,712L860.1,715.3 857.3,718.4 855,721.5 853.1,724.7 851.7,727.8 850.7,731.1 850.3,734.4 850.3,737.9 850.4,741.7 850.4,745.5 850.5,749.6 850.5,753.6 850.6,757.7 850.8,761.8 850.9,765.8 851.1,769.8 851.3,773.6 851.6,777.5 851.8,781.3 852.1,785.1 852.4,788.8 852.8,792.4 853.3,795.9 853.9,799.2 854.5,802.5 855.3,805.7 856.2,808.8 857.1,811.9 858.1,814.9 859.2,817.8 860.3,820.7 861.5,823.5 862.7,826.3 863.9,829 865.2,831.6 866.6,834.1 868,836.6 869.5,839.1 871.1,841.4 872.9,843.8 874.7,846.1 876.8,848.5 878.9,850.9 881.2,853.2 883.5,855.4 885.7,857.5 888,859.5 890.1,861.3 892.2,862.9 894.3,864.3 896.5,865.7 898.7,866.9 900.8,868.1 902.9,869.1 904.8,870.1 906.5,871.1 908,871.8 909.2,872.4 910.3,872.9 911.2,873.3 912.2,873.7 913.1,874.1 914.2,874.5 915.3,875 912.7,881 911.7,880.5 910.7,880.2 909.8,879.8 908.8,879.4 907.6,879 906.4,878.4 905,877.7 903.5,876.9 901.7,876 899.8,875.1 897.7,874 895.4,872.8 893.1,871.5 890.7,870.1 888.2,868.5 885.9,866.7 883.5,864.8 881.1,862.7 878.7,860.5 876.2,858.2 873.8,855.8 871.5,853.3 869.2,850.7 867.1,848.2 865.2,845.6 863.4,843.1 861.8,840.4 860.2,837.7 858.7,835 857.2,832.2 855.9,829.4 854.5,826.5 853.3,823.5 852.1,820.5 850.9,817.4 849.8,814.3 848.8,811 847.8,807.7 846.9,804.3 846.1,800.8 845.5,797.1 844.9,793.4 844.4,789.6 844.1,785.8 843.7,781.9 843.4,778 843.2,774.1 842.9,770.2 842.6,766.3 842.4,762.2 842.2,758 842.1,753.9 842,749.7 841.9,745.7 841.8,741.8 841.7,738.1 841.6,734.5 841.1,731.1 840.2,727.8 838.8,724.6 837,721.4 834.7,718.3 831.9,715.2 828.5,712ZM1090.5,712.5L1087.1,715.6 1084.3,718.7 1081.9,722 1080,725.4 1078.5,728.7 1077.5,732.1 1076.8,735.4 1076.3,738.6 1075.8,741.7 1075.3,744.7 1074.7,747.6 1074,750.6 1073.2,753.5 1072.2,756.3 1071.1,759.1 1069.8,761.9 1068.4,764.5 1066.8,767.2 1065.1,769.7 1063.3,772.2 1061.4,774.6 1059.3,776.9 1057,779.1 1054.6,781.2 1052,783.2 1049.2,785 1046.3,786.6 1043.3,788.1 1040.4,789.6 1037.4,790.9 1034.5,792.3 1031.7,793.6 1028.8,794.9 1025.9,796.1 1023.1,797.2 1020.3,798.3 1017.6,799.4 1015.1,800.5 1012.6,801.8 1010.1,803.2 1007.7,804.9 1005.2,806.8 1002.8,808.8 1000.3,810.9 997.9,813.2 995.5,815.5 993.1,818 990.8,820.5 988.5,823.1 986.2,825.9 984,828.9 981.7,832 979.5,835.1 977.3,838.2 975,841.3 972.9,844.2 970.8,846.9 968.8,849.5 966.9,852.2 964.9,854.7 962.9,857.3 960.9,859.8 958.7,862.2 956.4,864.5 953.9,866.7 951.3,868.8 948.7,870.9 945.9,872.8 943.2,874.7 940.5,876.3 937.9,877.8 935.4,879 932.9,880 930.5,880.7 928.3,881.2 926.1,881.5 924.1,881.6 922.2,881.8 920.4,881.9 918.5,882.2 917.5,875.8 919.6,875.5 921.6,875.3 923.6,875.1 925.4,874.9 927.2,874.7 928.9,874.3 930.7,873.8 932.6,873 934.8,871.9 937.1,870.5 939.6,869 942.1,867.3 944.6,865.4 947,863.5 949.4,861.5 951.6,859.5 953.7,857.4 955.6,855.2 957.5,852.9 959.3,850.5 961.2,848 963.1,845.3 965.1,842.6 967.1,839.8 969.2,837 971.4,834 973.5,830.9 975.8,827.7 978,824.6 980.4,821.4 982.8,818.4 985.2,815.5 987.7,812.8 990.1,810.2 992.6,807.7 995.2,805.3 997.8,803 1000.4,800.8 1003.1,798.7 1005.9,796.8 1008.7,795 1011.7,793.5 1014.6,792.1 1017.4,791 1020.2,789.9 1023,788.8 1025.6,787.6 1028.3,786.4 1031.1,785 1034,783.6 1036.9,782.3 1039.7,780.9 1042.4,779.4 1044.9,778 1047.3,776.4 1049.4,774.8 1051.4,773 1053.2,771.1 1055,769.2 1056.7,767.1 1058.2,764.9 1059.7,762.7 1061,760.4 1062.2,758.1 1063.2,755.8 1064.2,753.4 1064.9,751 1065.6,748.4 1066.2,745.8 1066.8,743.1 1067.2,740.3 1067.7,737.4 1068,734.5 1067.7,731.5 1067,728.4 1065.6,725.1 1063.8,721.9 1061.5,718.5 1058.7,715 1055.5,711.5ZM890,870L891.4,868.2 893.9,866.9 897,865.8 900.2,864.8 903,864 905.5,863.2 907.9,862.5 910.2,862 912.6,861.6 915,861.5 917.4,861.6 919.8,861.9 922.1,862.4 924.5,863.1 927,864 929.9,865.2 933.1,866.6 936.3,868.2 938.7,870.1 940,872 939.7,874.2 938.3,876.7 936.2,879.3 933.9,881.8 932,884 930.4,885.9 928.9,887.7 927.3,889.4 925.7,890.8 924,892 922.1,893 920.1,893.8 918.1,894.5 916,894.9 914,895 912,894.9 909.9,894.5 907.9,893.8 905.9,893 904,892 902.2,890.8 900.6,889.4 899,887.9 897.4,886.1 896,884 894.4,881.5 892.5,878.4 890.9,875.3 890,872.4Z" fill="#b6cfbe"/><circle cx="914.6" cy="877.5" r="8.8" fill="#8fbcb0"/><path d="M954,371L957,372.4 959.9,374.8 962.7,377.8 965.4,381 968,384 970.6,386.7 973.2,389.5 975.7,392.3 978,395.1 980,398 981.8,400.9 983.4,403.9 984.7,406.9 985.9,409.9 987,413 988.1,416.2 989.3,419.4 990.1,422.7 990.5,425.9 990,429 988.5,432 986,434.8 983.1,437.6 980,440.4 977,443 974,445.6 970.9,448.1 967.7,450.6 964.7,452.9 962,455 959.7,456.9 957.7,458.5 955.8,460.1 954,461.5 952,463 950,464.7 948.1,466.6 946.1,468.3 943.8,469.6 941,470 937.5,469.4 933.6,467.9 929.3,466 925,463.9 921,462 917.1,460.5 913.1,459.1 909.3,457.7 905.9,455.7 903,453 900.9,449.3 899.3,444.8 898.1,439.8 897.1,434.8 896,430 894.6,425.4 893,420.7 891.6,416.2 890.8,411.9 891,408 892.4,404.6 894.8,401.7 897.7,399 900.9,396.5 904,394 907,391.5 910.1,389.1 913.4,386.9 916.7,384.8 920,383 923.3,381.5 926.7,380.2 930.2,379.2 933.6,378.1 937,377 940.4,375.5 943.9,373.7 947.4,372 950.8,371ZM915.1,398.1L917.2,395.1 919.2,392.1 921.2,389.1 923,386.1 924.7,383.2 926.2,380.2 927.7,377.3 929,374.3 930.2,371.3 931.2,368.3 932.1,365.3 933,362.2 933.6,359.2 934.2,356.1 934.7,353 935,349.9 935.2,347 935.2,344.2 935.1,341.4 935.1,338.4 935.1,335.2 935.2,331.7 935.6,327.9 936.2,323.8 937.2,319.1 938.4,314 939.9,308.6 941.4,303 943,297.6 944.6,292.4 946.1,287.7 947.4,283.7 948.6,280.4 949.7,277.6 950.7,275.2 951.7,273.2 952.7,271.5 953.6,269.9 954.4,268.2 955.4,266.3 962.6,269.7 961.7,271.7 960.9,273.6 960,275.3 959.2,276.9 958.4,278.7 957.6,280.7 956.7,283.2 955.8,286.3 954.7,290.2 953.5,294.9 952.2,300.1 950.8,305.5 949.5,311 948.4,316.3 947.4,321.2 946.8,325.4 946.4,329 946.2,332.2 946.2,335.2 946.3,338.1 946.5,340.9 946.7,343.8 946.8,346.9 947,350.1 947.1,353.3 947.4,356.5 947.8,359.6 948.2,362.8 948.8,366 949.4,369.2 950.2,372.4 951,375.7 951.9,379 952.9,382.3 954,385.6 955.2,388.9 956.4,392.1 957.8,395.4 959.3,398.6 960.9,401.9ZM953.5,276.2L952.7,273.7 952.1,271.1 951.4,268.6 950.8,266.1 950.1,263.6 949.4,261.1 948.6,258.5 947.8,255.9 946.9,253.2 945.9,250.5 944.8,247.6 943.7,244.8 942.6,241.9 941.5,239 940.4,236.1 939.5,233.1 940.1,232.9 941.8,235.4 943.4,238.1 944.9,240.8 946.5,243.5 948,246.1 949.5,248.8 950.9,251.5 952.2,254.1 953.5,256.7 954.6,259.2 955.6,261.7 956.6,264.1 957.6,266.6 958.6,269 959.5,271.4 960.5,273.8ZM954.8,273.6L955.9,271.5 957.1,269.4 958.3,267.3 959.4,265.3 960.5,263.3 961.5,261.4 962.3,259.5 962.9,257.6 963.4,255.7 963.7,253.7 963.8,251.7 963.9,249.6 963.9,247.5 963.9,245.3 964,243.2 964.3,241 964.9,241 965.4,243.1 965.8,245.2 966.2,247.3 966.6,249.4 966.9,251.6 967.2,253.8 967.2,256.1 967.1,258.4 966.7,260.8 966.1,263.1 965.3,265.4 964.5,267.7 963.6,269.9 962.8,272.1 962,274.2 961.2,276.4ZM935.8,338.7L934.7,335.5 933.7,332.3 932.7,329.1 931.7,326 930.7,323 929.6,320 928.5,317.3 927.2,314.6 925.8,312.1 924.3,309.7 922.7,307.3 921,304.9 919.2,302.7 917.4,300.5 915.5,298.4 913.7,296.4 911.8,294.5 909.9,292.8 908,291.2 905.9,289.6 903.9,288 901.8,286.4 899.8,284.8 897.8,283.1 898.2,282.5 900.5,283.8 902.8,285 905,286.2 907.3,287.5 909.6,288.8 911.9,290.3 914.1,291.9 916.3,293.6 918.5,295.4 920.6,297.4 922.8,299.4 924.9,301.6 927,303.9 929,306.2 930.9,308.7 932.8,311.4 934.5,314.2 936.1,317.1 937.5,320.2 938.9,323.2 940.2,326.3 941.5,329.4 942.8,332.4 944.2,335.3ZM903,424.8L902,421.3 901,417.9 899.9,414.7 898.8,411.5 897.6,408.4 896.3,405.5 895,402.6 893.5,399.7 891.8,397 890,394.2 888.1,391.6 886.1,389 884,386.5 881.8,384.1 879.5,381.8 877.1,379.7 874.7,377.6 872.5,375.6 870.2,373.7 868,371.8 865.8,369.9 863.4,368 860.9,366.1 858.1,364.1 855,362.2 851.5,360.2 847.7,358.2 843.7,356.1 839.7,353.9 835.8,351.7 832.1,349.3 828.7,346.7 825.7,344 823,341.2 820.5,338.2 818.2,335.3 816,332.3 813.9,329.2 811.7,326.2 809.5,323.2 810.1,322.8 812.8,325.3 815.3,328 817.8,330.8 820.3,333.5 822.9,336.1 825.5,338.7 828.3,341.1 831.3,343.3 834.6,345.3 838.3,347.2 842.2,349 846.3,350.8 850.4,352.5 854.4,354.2 858.3,356 861.9,357.9 865.1,359.7 868,361.6 870.7,363.4 873.2,365.2 875.6,367 878,368.8 880.4,370.5 882.9,372.3 885.5,374.1 888.3,375.8 891.2,377.4 894.1,378.9 897.2,380.4 900.2,381.7 903.4,383 906.5,384.3 909.7,385.4 913,386.5 916.2,387.6 919.5,388.5 922.8,389.3 926.1,390.1 929.5,390.7 933,391.2ZM920,453L916.5,451.9 913.1,450.9 909.7,450 906.4,449.1 903,448.3 899.7,447.6 896.3,447 892.8,446.5 889.1,446 885.4,445.6 881.7,445.3 878,445.1 874.4,445 870.8,445.1 867.3,445.3 863.8,445.7 860.4,446.2 856.9,447 853.4,448 849.9,449 846.5,450.1 843.2,451.2 839.9,452.2 836.9,453.2 834.1,454.1 831.5,455 829,456 826.6,456.9 824.2,457.8 821.7,458.7 819.3,459.6 816.7,460.5 814.4,461.3 812.2,462.1 810,463 807.6,463.8 805.1,464.7 802.3,465.5 799.1,466.3 795.5,467 791.4,467.7 786.7,468.5 781.7,469.3 776.3,470.1 770.9,470.7 765.4,471.1 760,471.3 754.9,471 750,470.3 745.3,469.2 740.7,467.8 736.2,466.2 731.8,464.5 727.4,462.8 723.1,461.1 718.7,459.3 718.9,458.7 723.5,459.5 728.1,460.7 732.7,461.9 737.2,463.1 741.7,464.2 746.2,465.1 750.6,465.8 755.1,466 759.8,465.8 764.9,465.3 770,464.5 775.2,463.5 780.3,462.3 785.2,461.2 789.7,460 793.7,459 797.1,458.1 799.8,457.3 802.2,456.4 804.4,455.5 806.5,454.5 808.6,453.6 810.8,452.5 813.3,451.5 815.7,450.5 818,449.5 820.3,448.4 822.6,447.4 825,446.3 827.5,445.1 830.2,444 833.1,442.8 836.1,441.6 839.3,440.3 842.6,439 846.1,437.7 849.6,436.4 853.1,435.1 856.7,433.7 860.2,432.3 863.7,430.9 867.2,429.5 870.7,428 874.2,426.4 877.7,424.8 881,423.1 884.2,421.4 887.2,419.5 890.3,417.7 893.2,415.7 896.1,413.8 899,411.8 901.8,409.7 904.5,407.5 907.3,405.3 910,403ZM829.5,453.7L827,451.9 824.5,450.1 821.9,448.3 819.2,446.4 816.6,444.5 814.1,442.6 811.7,440.5 809.6,438.4 807.8,436.2 806.2,434 804.8,431.8 803.7,429.6 802.6,427.5 801.7,425.3 800.7,423.2 799.8,421.1 798.8,418.9 797.9,416.6 797.1,414.3 796.3,412.1 795.6,409.8 794.8,407.7 794.1,405.6 793.3,403.7 792.5,401.8 791.6,400.1 790.8,398.4 790,396.8 789.1,395.1 788.3,393.5 787.5,391.9 786.7,390.2 787.3,389.8 788.4,391.3 789.5,392.8 790.6,394.3 791.7,395.7 792.7,397.3 793.8,398.9 794.9,400.5 795.9,402.3 797,404.3 798,406.3 799,408.4 800,410.6 801,412.7 802,414.8 803.1,416.9 804.2,418.9 805.4,420.9 806.5,422.9 807.6,424.8 808.8,426.7 810,428.6 811.3,430.3 812.8,432 814.4,433.6 816.3,435.1 818.5,436.7 820.9,438.3 823.5,439.8 826.3,441.4 829,443 831.8,444.6 834.5,446.3ZM772.8,469.8L771,468.2 769.2,466.6 767.3,465.1 765.3,463.5 763.4,461.9 761.6,460.2 759.8,458.6 758.1,456.8 756.6,455 755.4,453.2 754.3,451.4 753.3,449.7 752.3,448 751.3,446.4 750.1,444.8 748.8,443.3 747.2,441.7 745.3,440.1 743.4,438.5 741.3,436.9 739.1,435.3 737,433.7 734.8,432 732.8,430.3 733.2,429.7 735.5,431 737.9,432.3 740.2,433.6 742.6,435 744.9,436.3 747.1,437.7 749.2,439.2 751.2,440.7 753,442.3 754.5,444 755.8,445.7 757,447.3 758.1,448.9 759.3,450.4 760.5,451.8 761.9,453.2 763.5,454.5 765.2,455.9 767.1,457.3 769,458.6 771.1,460 773.1,461.4 775.2,462.8 777.2,464.2ZM936.6,382.3L939.6,381.8 942.4,381.3 945.4,380.4 948.5,379.3 951.8,378 955.2,376.6 958.7,375.3 962.3,374.2 965.6,373.4 968.8,372.7 972,372 975.2,371.4 978.4,370.9 981.7,370.4 985.2,369.9 989,369.4 993.2,368.9 997.8,368.5 1002.6,368.2 1007.4,368 1012.1,367.8 1016.5,367.4 1020.3,366.8 1023.5,365.9 1026.2,364.7 1028.5,363.2 1030.6,361.5 1032.5,359.5 1034.4,357.4 1036.2,355.1 1038.1,352.8 1040,350.5 1042,348.2 1043.8,345.9 1045.7,343.5 1047.4,341 1049.1,338.6 1050.7,336.1 1052.2,333.7 1053.7,331.3 1055,329 1056.1,326.7 1057.2,324.4 1058.2,322 1059.2,319.7 1060.2,317.4 1061.2,315.1 1062.4,312.8 1063,313 1062.3,315.5 1061.6,317.9 1060.9,320.3 1060.1,322.7 1059.3,325.2 1058.5,327.7 1057.5,330.2 1056.3,332.7 1055.1,335.3 1053.7,337.9 1052.3,340.5 1050.8,343.2 1049.2,345.9 1047.5,348.5 1045.7,351.1 1044,353.5 1042.2,355.9 1040.6,358.4 1038.9,360.9 1037,363.4 1034.8,365.8 1032.4,368.1 1029.5,370.3 1026.1,372.1 1022.1,373.6 1017.6,374.6 1012.9,375.4 1008,376 1003.2,376.5 998.6,377 994.5,377.7 991,378.6 988,379.9 985.2,381.2 982.7,382.7 980.5,384.3 978.5,386 976.7,387.8 975.1,389.8 973.7,391.8 972.7,393.9 972,396 971.4,398.4 970.8,401 970.1,403.8 969.3,406.9 968.3,410.3 967.4,413.7ZM1023.6,366.4L1025,367.2 1026.4,368 1027.9,368.8 1029.4,369.6 1031,370.5 1032.6,371.5 1034.2,372.6 1035.7,373.8 1037.2,375.2 1038.6,376.7 1040,378.3 1041.4,379.9 1042.7,381.6 1044,383.4 1045.3,385.2 1046.4,387 1047.5,388.8 1048.6,390.8 1049.6,392.8 1050.5,394.8 1051.4,396.8 1052.2,398.8 1053.1,400.8 1053.9,402.8 1053.3,403.2 1052,401.4 1050.8,399.6 1049.6,397.7 1048.4,395.9 1047.2,394.1 1046.1,392.3 1044.8,390.6 1043.6,389 1042.2,387.5 1040.9,385.9 1039.5,384.4 1038,383 1036.6,381.6 1035.1,380.4 1033.7,379.2 1032.3,378.2 1030.9,377.3 1029.6,376.5 1028.2,375.9 1026.7,375.2 1025.2,374.6 1023.6,374 1022,373.3 1020.4,372.6ZM956.6,397.1L959.6,398.4 962.3,399.5 965.4,400.3 968.8,401 972.3,401.7 976.1,402.3 980.1,403.1 984.3,404 988.6,405.1 992.7,406.4 996.7,407.7 1000.6,408.8 1004.5,409.8 1008.5,410.4 1012.5,410.7 1016.5,410.7 1020.8,410.3 1025.3,409.7 1030.2,408.8 1035.2,407.9 1040.3,406.9 1045.4,406 1050.6,405.3 1055.6,404.8 1060.7,404.7 1065.7,404.9 1070.8,405.2 1075.6,405.6 1080.3,406 1084.7,406.3 1088.8,406.4 1092.5,406.1 1095.7,405.5 1098.6,404.7 1101.2,403.7 1103.6,402.5 1106,401.2 1108.4,399.9 1110.9,398.7 1113.5,397.6 1113.9,398.2 1111.5,399.8 1109.3,401.4 1107.1,403 1104.9,404.6 1102.4,406.1 1099.7,407.6 1096.7,408.9 1093.1,409.9 1089.1,410.6 1084.8,411 1080.2,411.1 1075.4,411.2 1070.6,411.2 1065.7,411.4 1061,411.6 1056.4,412.2 1051.8,413 1047.1,414.1 1042.2,415.4 1037.2,416.8 1032.3,418.2 1027.3,419.4 1022.3,420.5 1017.5,421.3 1012.7,421.8 1008.1,422 1003.7,422.2 999.4,422.5 995.4,423 991.7,423.7 988.5,424.7 985.7,426 983.3,427.6 981.1,429.3 979.1,431.2 977.1,433.2 975.1,435.4 972.7,437.7 970.1,440.3 967.4,442.9ZM1061.5,405.5L1062.6,404.6 1063.6,403.7 1064.7,402.8 1065.7,402 1066.7,401.1 1067.7,400.2 1068.8,399.2 1069.9,398.1 1071.1,396.9 1072.4,395.6 1073.7,394.2 1075.1,392.8 1076.5,391.3 1077.9,389.8 1079.2,388.3 1080.6,386.9 1082,385.4 1083.3,384 1084.7,382.5 1086.1,381.1 1087.5,379.6 1088.9,378.2 1090.3,376.8 1091.7,375.4 1092.3,375.8 1091.2,377.5 1090.1,379.2 1089,380.9 1087.9,382.6 1086.8,384.2 1085.7,385.9 1084.5,387.5 1083.4,389.1 1082.2,390.8 1081,392.4 1079.9,394.1 1078.7,395.8 1077.5,397.4 1076.3,399 1075.2,400.5 1074.1,401.9 1073,403.2 1072,404.4 1071,405.5 1070.1,406.5 1069.2,407.5 1068.3,408.5 1067.4,409.5 1066.5,410.5ZM965.4,409.2L967.8,412.3 970.2,415.4 972.5,418.3 974.5,421 976.4,423.4 978.1,425.6 979.7,427.5 981.1,429.1 982.7,430.4 984.6,431.5 986.8,432.5 989.3,433.3 992,433.9 994.8,434.5 997.7,435 1000.4,435.6 1002.6,436.1 1004.6,436.5 1006.6,436.8 1008.8,437 1011.1,437.4 1013.6,438 1016.2,438.7 1019,439.7 1021.8,441 1024.6,442.5 1027.3,444.1 1030.1,445.9 1032.9,447.7 1035.9,449.7 1039,451.7 1042.4,453.9 1046.1,456.2 1050.2,458.7 1054.5,461.4 1058.9,464.2 1063.4,467 1067.9,469.8 1072.4,472.5 1076.6,475 1080.8,477.4 1085,479.7 1089.1,481.9 1093.3,484.2 1097.4,486.4 1101.4,488.5 1105.5,490.7 1109.4,492.8 1113.2,494.8 1117,496.8 1120.7,498.8 1124.3,500.8 1127.9,502.7 1131.5,504.6 1135.1,506.6 1138.8,508.7 1138.4,509.3 1134.6,507.8 1130.8,506.3 1127,504.7 1123.2,503.1 1119.4,501.5 1115.5,499.9 1111.6,498.2 1107.6,496.4 1103.5,494.7 1099.4,492.8 1095.1,491 1090.8,489.1 1086.5,487.2 1082.2,485.2 1077.8,483.2 1073.4,481 1068.9,478.8 1064.2,476.4 1059.5,473.9 1054.8,471.4 1050.1,468.9 1045.7,466.5 1041.5,464.2 1037.6,462.1 1034,460.2 1030.6,458.3 1027.5,456.5 1024.7,454.9 1022,453.4 1019.5,452.1 1017.2,451.1 1015,450.3 1013.1,449.7 1011.3,449.5 1009.7,449.4 1008.1,449.5 1006.4,449.6 1004.4,449.9 1002.1,450.1 999.6,450.4 997.3,450.8 995,451.3 992.3,452 989.4,452.7 986.3,453.5 982.8,454.2 979,454.7 974.9,454.9 970.7,454.9 966.6,454.7 962.5,454.4 958.6,454.1 954.9,454 951.3,454.1 948,454.3 944.6,454.8ZM1030.1,448.2L1031,450.5 1031.9,452.8 1032.7,455 1033.5,457.3 1034.4,459.5 1035.3,461.8 1036.2,464.1 1037.1,466.5 1038.1,469 1039.2,471.5 1040.2,474.1 1041.2,476.6 1042.3,479.2 1043.5,481.8 1044.6,484.4 1045.9,486.9 1047.2,489.4 1048.6,491.9 1050.1,494.5 1051.7,497.1 1053.3,499.6 1054.8,502.2 1056.4,504.8 1057.8,507.5 1057.2,507.9 1055.2,505.6 1053.3,503.3 1051.3,501 1049.4,498.7 1047.5,496.3 1045.6,494 1043.8,491.6 1042.1,489.1 1040.5,486.7 1039,484.2 1037.5,481.6 1036.1,479.1 1034.7,476.7 1033.4,474.2 1032.1,471.8 1030.9,469.5 1029.6,467.2 1028.4,464.9 1027.3,462.7 1026.2,460.5 1025.1,458.3 1024.1,456.2 1023,454 1021.9,451.8ZM954.8,447.9L951.9,450.5 949.2,453 946.5,455.6 944,458.3 941.6,460.9 939.2,463.6 937,466.3 934.8,469.1 932.8,471.9 930.8,474.7 929,477.6 927.2,480.6 925.6,483.6 924,486.6 922.6,489.5 921.2,492.5 920,495.3 918.8,498.1 917.7,500.7 916.6,503.3 915.5,505.8 914.4,508.4 913.2,511.2 912,514.1 910.8,517.2 909.5,520.5 908.2,523.8 906.8,527.3 905.5,530.8 904.2,534.3 902.9,537.8 901.7,541.3 900.5,544.9 899.3,548.7 898.1,552.5 896.9,556.3 895.8,560.1 894.8,563.7 893.9,567.2 893.2,570.5 892.5,573.5 892,576.4 891.6,579.1 891.3,581.7 891,584.3 890.9,586.8 890.8,589.3 890.9,591.8 891,594.3 891.3,596.8 891.8,599.3 892.3,601.8 892.8,604.3 893.4,606.8 893.9,609.3 894.3,611.9 893.7,612.1 892.7,609.7 891.8,607.3 890.9,604.9 890,602.5 889.1,600 888.3,597.5 887.6,594.9 887.1,592.2 886.7,589.5 886.5,586.9 886.3,584.2 886.2,581.5 886.2,578.7 886.4,575.8 886.5,572.7 886.8,569.5 887.2,566 887.7,562.3 888.4,558.4 889.1,554.4 889.8,550.4 890.6,546.4 891.5,542.5 892.3,538.7 893.2,534.9 894.1,531.2 895.1,527.4 896.1,523.7 897.1,520.1 898.1,516.6 899,513.2 900,509.9 900.9,506.8 901.8,503.9 902.7,501.1 903.5,498.4 904.4,495.7 905.2,493.1 906,490.4 906.8,487.5 907.4,484.5 908,481.4 908.4,478.1 908.8,474.8 909,471.4 909.2,467.9 909.2,464.4 909.2,460.9 909,457.4 908.8,453.9 908.4,450.3 908,446.7 907.5,443.1 906.8,439.5 906.1,435.8 905.2,432.1ZM894.1,532.8L892.5,533.3 890.9,533.8 889.3,534.3 887.7,534.8 886.1,535.3 884.4,535.8 882.6,536.4 880.7,536.9 878.7,537.5 876.5,538.2 874.2,538.8 871.8,539.5 869.4,540.2 866.9,540.9 864.5,541.5 862.1,542 861.9,541.4 864,540.2 866.3,539.1 868.6,538 870.8,537 873.1,535.9 875.2,534.9 877.3,534 879.3,533.1 881.1,532.2 882.8,531.5 884.4,530.7 885.9,530 887.4,529.3 888.9,528.6 890.4,527.9 891.9,527.2ZM966.2,436.3L964.9,439.3 963.8,442.3 962.8,445.3 961.9,448.3 961,451.4 960.3,454.5 959.6,457.5 959,460.6 958.5,463.6 958.1,466.6 957.7,469.7 957.4,472.7 957.2,475.7 957.2,478.7 957.1,481.7 957.2,484.6 957.4,487.4 957.5,490.1 957.6,492.8 957.7,495.5 957.7,498.3 957.8,501.2 957.8,504.3 957.8,507.6 957.7,511.2 957.7,515.2 957.5,519.3 957.4,523.6 957.3,527.9 957.1,532.1 957,536.1 956.8,540 956.7,543.6 956.6,547 956.5,550.4 956.4,553.6 956.3,556.9 956.2,560.1 956,563.3 955.8,566.6 955.2,566.6 954.8,563.3 954.6,560.1 954.3,556.9 954.1,553.7 953.9,550.4 953.6,547.1 953.4,543.6 953.2,540 952.9,536.2 952.7,532.1 952.5,527.9 952.2,523.6 952,519.4 951.7,515.3 951.5,511.4 951.2,507.8 950.9,504.6 950.7,501.5 950.4,498.7 950.1,496 949.8,493.4 949.5,490.8 949.2,488.2 948.8,485.4 948.3,482.6 947.6,479.8 946.8,477 945.9,474.2 944.8,471.5 943.7,468.7 942.4,466 941,463.4 939.5,460.9 937.9,458.4 936.1,456 934.3,453.5 932.3,451.1 930.3,448.7 928.1,446.2 925.8,443.7ZM953.3,490.6L951.9,491.8 950.4,493 949,494.2 947.5,495.4 946,496.5 944.6,497.7 943.3,498.8 941.9,500 940.6,501.1 939.4,502.1 938.3,503.1 937.2,504 936.1,505 935,506.1 933.6,507.4 932.2,509 930.5,510.8 928.7,512.9 926.8,515.2 924.7,517.6 922.6,520 920.5,522.5 918.4,524.9 916.3,527.2 915.7,526.8 917.3,524.1 919,521.4 920.8,518.7 922.5,515.9 924.3,513.3 925.9,510.8 927.5,508.5 929,506.4 930.4,504.6 931.6,503.1 932.7,501.7 933.8,500.5 934.8,499.4 935.9,498.3 936.9,497.2 938.1,496 939.3,494.7 940.6,493.4 942,492 943.3,490.7 944.7,489.4 946,488 947.3,486.7 948.7,485.4Z" fill="#b8691c" stroke="#b8691c" stroke-width="2.4" stroke-linejoin="round" /><path d="M954,371L957,372.4 959.9,374.8 962.7,377.8 965.4,381 968,384 970.6,386.7 973.2,389.5 975.7,392.3 978,395.1 980,398 981.8,400.9 983.4,403.9 984.7,406.9 985.9,409.9 987,413 988.1,416.2 989.3,419.4 990.1,422.7 990.5,425.9 990,429 988.5,432 986,434.8 983.1,437.6 980,440.4 977,443 974,445.6 970.9,448.1 967.7,450.6 964.7,452.9 962,455 959.7,456.9 957.7,458.5 955.8,460.1 954,461.5 952,463 950,464.7 948.1,466.6 946.1,468.3 943.8,469.6 941,470 937.5,469.4 933.6,467.9 929.3,466 925,463.9 921,462 917.1,460.5 913.1,459.1 909.3,457.7 905.9,455.7 903,453 900.9,449.3 899.3,444.8 898.1,439.8 897.1,434.8 896,430 894.6,425.4 893,420.7 891.6,416.2 890.8,411.9 891,408 892.4,404.6 894.8,401.7 897.7,399 900.9,396.5 904,394 907,391.5 910.1,389.1 913.4,386.9 916.7,384.8 920,383 923.3,381.5 926.7,380.2 930.2,379.2 933.6,378.1 937,377 940.4,375.5 943.9,373.7 947.4,372 950.8,371ZM915.1,398.1L917.2,395.1 919.2,392.1 921.2,389.1 923,386.1 924.7,383.2 926.2,380.2 927.7,377.3 929,374.3 930.2,371.3 931.2,368.3 932.1,365.3 933,362.2 933.6,359.2 934.2,356.1 934.7,353 935,349.9 935.2,347 935.2,344.2 935.1,341.4 935.1,338.4 935.1,335.2 935.2,331.7 935.6,327.9 936.2,323.8 937.2,319.1 938.4,314 939.9,308.6 941.4,303 943,297.6 944.6,292.4 946.1,287.7 947.4,283.7 948.6,280.4 949.7,277.6 950.7,275.2 951.7,273.2 952.7,271.5 953.6,269.9 954.4,268.2 955.4,266.3 962.6,269.7 961.7,271.7 960.9,273.6 960,275.3 959.2,276.9 958.4,278.7 957.6,280.7 956.7,283.2 955.8,286.3 954.7,290.2 953.5,294.9 952.2,300.1 950.8,305.5 949.5,311 948.4,316.3 947.4,321.2 946.8,325.4 946.4,329 946.2,332.2 946.2,335.2 946.3,338.1 946.5,340.9 946.7,343.8 946.8,346.9 947,350.1 947.1,353.3 947.4,356.5 947.8,359.6 948.2,362.8 948.8,366 949.4,369.2 950.2,372.4 951,375.7 951.9,379 952.9,382.3 954,385.6 955.2,388.9 956.4,392.1 957.8,395.4 959.3,398.6 960.9,401.9ZM953.5,276.2L952.7,273.7 952.1,271.1 951.4,268.6 950.8,266.1 950.1,263.6 949.4,261.1 948.6,258.5 947.8,255.9 946.9,253.2 945.9,250.5 944.8,247.6 943.7,244.8 942.6,241.9 941.5,239 940.4,236.1 939.5,233.1 940.1,232.9 941.8,235.4 943.4,238.1 944.9,240.8 946.5,243.5 948,246.1 949.5,248.8 950.9,251.5 952.2,254.1 953.5,256.7 954.6,259.2 955.6,261.7 956.6,264.1 957.6,266.6 958.6,269 959.5,271.4 960.5,273.8ZM954.8,273.6L955.9,271.5 957.1,269.4 958.3,267.3 959.4,265.3 960.5,263.3 961.5,261.4 962.3,259.5 962.9,257.6 963.4,255.7 963.7,253.7 963.8,251.7 963.9,249.6 963.9,247.5 963.9,245.3 964,243.2 964.3,241 964.9,241 965.4,243.1 965.8,245.2 966.2,247.3 966.6,249.4 966.9,251.6 967.2,253.8 967.2,256.1 967.1,258.4 966.7,260.8 966.1,263.1 965.3,265.4 964.5,267.7 963.6,269.9 962.8,272.1 962,274.2 961.2,276.4ZM935.8,338.7L934.7,335.5 933.7,332.3 932.7,329.1 931.7,326 930.7,323 929.6,320 928.5,317.3 927.2,314.6 925.8,312.1 924.3,309.7 922.7,307.3 921,304.9 919.2,302.7 917.4,300.5 915.5,298.4 913.7,296.4 911.8,294.5 909.9,292.8 908,291.2 905.9,289.6 903.9,288 901.8,286.4 899.8,284.8 897.8,283.1 898.2,282.5 900.5,283.8 902.8,285 905,286.2 907.3,287.5 909.6,288.8 911.9,290.3 914.1,291.9 916.3,293.6 918.5,295.4 920.6,297.4 922.8,299.4 924.9,301.6 927,303.9 929,306.2 930.9,308.7 932.8,311.4 934.5,314.2 936.1,317.1 937.5,320.2 938.9,323.2 940.2,326.3 941.5,329.4 942.8,332.4 944.2,335.3ZM903,424.8L902,421.3 901,417.9 899.9,414.7 898.8,411.5 897.6,408.4 896.3,405.5 895,402.6 893.5,399.7 891.8,397 890,394.2 888.1,391.6 886.1,389 884,386.5 881.8,384.1 879.5,381.8 877.1,379.7 874.7,377.6 872.5,375.6 870.2,373.7 868,371.8 865.8,369.9 863.4,368 860.9,366.1 858.1,364.1 855,362.2 851.5,360.2 847.7,358.2 843.7,356.1 839.7,353.9 835.8,351.7 832.1,349.3 828.7,346.7 825.7,344 823,341.2 820.5,338.2 818.2,335.3 816,332.3 813.9,329.2 811.7,326.2 809.5,323.2 810.1,322.8 812.8,325.3 815.3,328 817.8,330.8 820.3,333.5 822.9,336.1 825.5,338.7 828.3,341.1 831.3,343.3 834.6,345.3 838.3,347.2 842.2,349 846.3,350.8 850.4,352.5 854.4,354.2 858.3,356 861.9,357.9 865.1,359.7 868,361.6 870.7,363.4 873.2,365.2 875.6,367 878,368.8 880.4,370.5 882.9,372.3 885.5,374.1 888.3,375.8 891.2,377.4 894.1,378.9 897.2,380.4 900.2,381.7 903.4,383 906.5,384.3 909.7,385.4 913,386.5 916.2,387.6 919.5,388.5 922.8,389.3 926.1,390.1 929.5,390.7 933,391.2ZM920,453L916.5,451.9 913.1,450.9 909.7,450 906.4,449.1 903,448.3 899.7,447.6 896.3,447 892.8,446.5 889.1,446 885.4,445.6 881.7,445.3 878,445.1 874.4,445 870.8,445.1 867.3,445.3 863.8,445.7 860.4,446.2 856.9,447 853.4,448 849.9,449 846.5,450.1 843.2,451.2 839.9,452.2 836.9,453.2 834.1,454.1 831.5,455 829,456 826.6,456.9 824.2,457.8 821.7,458.7 819.3,459.6 816.7,460.5 814.4,461.3 812.2,462.1 810,463 807.6,463.8 805.1,464.7 802.3,465.5 799.1,466.3 795.5,467 791.4,467.7 786.7,468.5 781.7,469.3 776.3,470.1 770.9,470.7 765.4,471.1 760,471.3 754.9,471 750,470.3 745.3,469.2 740.7,467.8 736.2,466.2 731.8,464.5 727.4,462.8 723.1,461.1 718.7,459.3 718.9,458.7 723.5,459.5 728.1,460.7 732.7,461.9 737.2,463.1 741.7,464.2 746.2,465.1 750.6,465.8 755.1,466 759.8,465.8 764.9,465.3 770,464.5 775.2,463.5 780.3,462.3 785.2,461.2 789.7,460 793.7,459 797.1,458.1 799.8,457.3 802.2,456.4 804.4,455.5 806.5,454.5 808.6,453.6 810.8,452.5 813.3,451.5 815.7,450.5 818,449.5 820.3,448.4 822.6,447.4 825,446.3 827.5,445.1 830.2,444 833.1,442.8 836.1,441.6 839.3,440.3 842.6,439 846.1,437.7 849.6,436.4 853.1,435.1 856.7,433.7 860.2,432.3 863.7,430.9 867.2,429.5 870.7,428 874.2,426.4 877.7,424.8 881,423.1 884.2,421.4 887.2,419.5 890.3,417.7 893.2,415.7 896.1,413.8 899,411.8 901.8,409.7 904.5,407.5 907.3,405.3 910,403ZM829.5,453.7L827,451.9 824.5,450.1 821.9,448.3 819.2,446.4 816.6,444.5 814.1,442.6 811.7,440.5 809.6,438.4 807.8,436.2 806.2,434 804.8,431.8 803.7,429.6 802.6,427.5 801.7,425.3 800.7,423.2 799.8,421.1 798.8,418.9 797.9,416.6 797.1,414.3 796.3,412.1 795.6,409.8 794.8,407.7 794.1,405.6 793.3,403.7 792.5,401.8 791.6,400.1 790.8,398.4 790,396.8 789.1,395.1 788.3,393.5 787.5,391.9 786.7,390.2 787.3,389.8 788.4,391.3 789.5,392.8 790.6,394.3 791.7,395.7 792.7,397.3 793.8,398.9 794.9,400.5 795.9,402.3 797,404.3 798,406.3 799,408.4 800,410.6 801,412.7 802,414.8 803.1,416.9 804.2,418.9 805.4,420.9 806.5,422.9 807.6,424.8 808.8,426.7 810,428.6 811.3,430.3 812.8,432 814.4,433.6 816.3,435.1 818.5,436.7 820.9,438.3 823.5,439.8 826.3,441.4 829,443 831.8,444.6 834.5,446.3ZM772.8,469.8L771,468.2 769.2,466.6 767.3,465.1 765.3,463.5 763.4,461.9 761.6,460.2 759.8,458.6 758.1,456.8 756.6,455 755.4,453.2 754.3,451.4 753.3,449.7 752.3,448 751.3,446.4 750.1,444.8 748.8,443.3 747.2,441.7 745.3,440.1 743.4,438.5 741.3,436.9 739.1,435.3 737,433.7 734.8,432 732.8,430.3 733.2,429.7 735.5,431 737.9,432.3 740.2,433.6 742.6,435 744.9,436.3 747.1,437.7 749.2,439.2 751.2,440.7 753,442.3 754.5,444 755.8,445.7 757,447.3 758.1,448.9 759.3,450.4 760.5,451.8 761.9,453.2 763.5,454.5 765.2,455.9 767.1,457.3 769,458.6 771.1,460 773.1,461.4 775.2,462.8 777.2,464.2ZM936.6,382.3L939.6,381.8 942.4,381.3 945.4,380.4 948.5,379.3 951.8,378 955.2,376.6 958.7,375.3 962.3,374.2 965.6,373.4 968.8,372.7 972,372 975.2,371.4 978.4,370.9 981.7,370.4 985.2,369.9 989,369.4 993.2,368.9 997.8,368.5 1002.6,368.2 1007.4,368 1012.1,367.8 1016.5,367.4 1020.3,366.8 1023.5,365.9 1026.2,364.7 1028.5,363.2 1030.6,361.5 1032.5,359.5 1034.4,357.4 1036.2,355.1 1038.1,352.8 1040,350.5 1042,348.2 1043.8,345.9 1045.7,343.5 1047.4,341 1049.1,338.6 1050.7,336.1 1052.2,333.7 1053.7,331.3 1055,329 1056.1,326.7 1057.2,324.4 1058.2,322 1059.2,319.7 1060.2,317.4 1061.2,315.1 1062.4,312.8 1063,313 1062.3,315.5 1061.6,317.9 1060.9,320.3 1060.1,322.7 1059.3,325.2 1058.5,327.7 1057.5,330.2 1056.3,332.7 1055.1,335.3 1053.7,337.9 1052.3,340.5 1050.8,343.2 1049.2,345.9 1047.5,348.5 1045.7,351.1 1044,353.5 1042.2,355.9 1040.6,358.4 1038.9,360.9 1037,363.4 1034.8,365.8 1032.4,368.1 1029.5,370.3 1026.1,372.1 1022.1,373.6 1017.6,374.6 1012.9,375.4 1008,376 1003.2,376.5 998.6,377 994.5,377.7 991,378.6 988,379.9 985.2,381.2 982.7,382.7 980.5,384.3 978.5,386 976.7,387.8 975.1,389.8 973.7,391.8 972.7,393.9 972,396 971.4,398.4 970.8,401 970.1,403.8 969.3,406.9 968.3,410.3 967.4,413.7ZM1023.6,366.4L1025,367.2 1026.4,368 1027.9,368.8 1029.4,369.6 1031,370.5 1032.6,371.5 1034.2,372.6 1035.7,373.8 1037.2,375.2 1038.6,376.7 1040,378.3 1041.4,379.9 1042.7,381.6 1044,383.4 1045.3,385.2 1046.4,387 1047.5,388.8 1048.6,390.8 1049.6,392.8 1050.5,394.8 1051.4,396.8 1052.2,398.8 1053.1,400.8 1053.9,402.8 1053.3,403.2 1052,401.4 1050.8,399.6 1049.6,397.7 1048.4,395.9 1047.2,394.1 1046.1,392.3 1044.8,390.6 1043.6,389 1042.2,387.5 1040.9,385.9 1039.5,384.4 1038,383 1036.6,381.6 1035.1,380.4 1033.7,379.2 1032.3,378.2 1030.9,377.3 1029.6,376.5 1028.2,375.9 1026.7,375.2 1025.2,374.6 1023.6,374 1022,373.3 1020.4,372.6ZM956.6,397.1L959.6,398.4 962.3,399.5 965.4,400.3 968.8,401 972.3,401.7 976.1,402.3 980.1,403.1 984.3,404 988.6,405.1 992.7,406.4 996.7,407.7 1000.6,408.8 1004.5,409.8 1008.5,410.4 1012.5,410.7 1016.5,410.7 1020.8,410.3 1025.3,409.7 1030.2,408.8 1035.2,407.9 1040.3,406.9 1045.4,406 1050.6,405.3 1055.6,404.8 1060.7,404.7 1065.7,404.9 1070.8,405.2 1075.6,405.6 1080.3,406 1084.7,406.3 1088.8,406.4 1092.5,406.1 1095.7,405.5 1098.6,404.7 1101.2,403.7 1103.6,402.5 1106,401.2 1108.4,399.9 1110.9,398.7 1113.5,397.6 1113.9,398.2 1111.5,399.8 1109.3,401.4 1107.1,403 1104.9,404.6 1102.4,406.1 1099.7,407.6 1096.7,408.9 1093.1,409.9 1089.1,410.6 1084.8,411 1080.2,411.1 1075.4,411.2 1070.6,411.2 1065.7,411.4 1061,411.6 1056.4,412.2 1051.8,413 1047.1,414.1 1042.2,415.4 1037.2,416.8 1032.3,418.2 1027.3,419.4 1022.3,420.5 1017.5,421.3 1012.7,421.8 1008.1,422 1003.7,422.2 999.4,422.5 995.4,423 991.7,423.7 988.5,424.7 985.7,426 983.3,427.6 981.1,429.3 979.1,431.2 977.1,433.2 975.1,435.4 972.7,437.7 970.1,440.3 967.4,442.9ZM1061.5,405.5L1062.6,404.6 1063.6,403.7 1064.7,402.8 1065.7,402 1066.7,401.1 1067.7,400.2 1068.8,399.2 1069.9,398.1 1071.1,396.9 1072.4,395.6 1073.7,394.2 1075.1,392.8 1076.5,391.3 1077.9,389.8 1079.2,388.3 1080.6,386.9 1082,385.4 1083.3,384 1084.7,382.5 1086.1,381.1 1087.5,379.6 1088.9,378.2 1090.3,376.8 1091.7,375.4 1092.3,375.8 1091.2,377.5 1090.1,379.2 1089,380.9 1087.9,382.6 1086.8,384.2 1085.7,385.9 1084.5,387.5 1083.4,389.1 1082.2,390.8 1081,392.4 1079.9,394.1 1078.7,395.8 1077.5,397.4 1076.3,399 1075.2,400.5 1074.1,401.9 1073,403.2 1072,404.4 1071,405.5 1070.1,406.5 1069.2,407.5 1068.3,408.5 1067.4,409.5 1066.5,410.5ZM965.4,409.2L967.8,412.3 970.2,415.4 972.5,418.3 974.5,421 976.4,423.4 978.1,425.6 979.7,427.5 981.1,429.1 982.7,430.4 984.6,431.5 986.8,432.5 989.3,433.3 992,433.9 994.8,434.5 997.7,435 1000.4,435.6 1002.6,436.1 1004.6,436.5 1006.6,436.8 1008.8,437 1011.1,437.4 1013.6,438 1016.2,438.7 1019,439.7 1021.8,441 1024.6,442.5 1027.3,444.1 1030.1,445.9 1032.9,447.7 1035.9,449.7 1039,451.7 1042.4,453.9 1046.1,456.2 1050.2,458.7 1054.5,461.4 1058.9,464.2 1063.4,467 1067.9,469.8 1072.4,472.5 1076.6,475 1080.8,477.4 1085,479.7 1089.1,481.9 1093.3,484.2 1097.4,486.4 1101.4,488.5 1105.5,490.7 1109.4,492.8 1113.2,494.8 1117,496.8 1120.7,498.8 1124.3,500.8 1127.9,502.7 1131.5,504.6 1135.1,506.6 1138.8,508.7 1138.4,509.3 1134.6,507.8 1130.8,506.3 1127,504.7 1123.2,503.1 1119.4,501.5 1115.5,499.9 1111.6,498.2 1107.6,496.4 1103.5,494.7 1099.4,492.8 1095.1,491 1090.8,489.1 1086.5,487.2 1082.2,485.2 1077.8,483.2 1073.4,481 1068.9,478.8 1064.2,476.4 1059.5,473.9 1054.8,471.4 1050.1,468.9 1045.7,466.5 1041.5,464.2 1037.6,462.1 1034,460.2 1030.6,458.3 1027.5,456.5 1024.7,454.9 1022,453.4 1019.5,452.1 1017.2,451.1 1015,450.3 1013.1,449.7 1011.3,449.5 1009.7,449.4 1008.1,449.5 1006.4,449.6 1004.4,449.9 1002.1,450.1 999.6,450.4 997.3,450.8 995,451.3 992.3,452 989.4,452.7 986.3,453.5 982.8,454.2 979,454.7 974.9,454.9 970.7,454.9 966.6,454.7 962.5,454.4 958.6,454.1 954.9,454 951.3,454.1 948,454.3 944.6,454.8ZM1030.1,448.2L1031,450.5 1031.9,452.8 1032.7,455 1033.5,457.3 1034.4,459.5 1035.3,461.8 1036.2,464.1 1037.1,466.5 1038.1,469 1039.2,471.5 1040.2,474.1 1041.2,476.6 1042.3,479.2 1043.5,481.8 1044.6,484.4 1045.9,486.9 1047.2,489.4 1048.6,491.9 1050.1,494.5 1051.7,497.1 1053.3,499.6 1054.8,502.2 1056.4,504.8 1057.8,507.5 1057.2,507.9 1055.2,505.6 1053.3,503.3 1051.3,501 1049.4,498.7 1047.5,496.3 1045.6,494 1043.8,491.6 1042.1,489.1 1040.5,486.7 1039,484.2 1037.5,481.6 1036.1,479.1 1034.7,476.7 1033.4,474.2 1032.1,471.8 1030.9,469.5 1029.6,467.2 1028.4,464.9 1027.3,462.7 1026.2,460.5 1025.1,458.3 1024.1,456.2 1023,454 1021.9,451.8ZM954.8,447.9L951.9,450.5 949.2,453 946.5,455.6 944,458.3 941.6,460.9 939.2,463.6 937,466.3 934.8,469.1 932.8,471.9 930.8,474.7 929,477.6 927.2,480.6 925.6,483.6 924,486.6 922.6,489.5 921.2,492.5 920,495.3 918.8,498.1 917.7,500.7 916.6,503.3 915.5,505.8 914.4,508.4 913.2,511.2 912,514.1 910.8,517.2 909.5,520.5 908.2,523.8 906.8,527.3 905.5,530.8 904.2,534.3 902.9,537.8 901.7,541.3 900.5,544.9 899.3,548.7 898.1,552.5 896.9,556.3 895.8,560.1 894.8,563.7 893.9,567.2 893.2,570.5 892.5,573.5 892,576.4 891.6,579.1 891.3,581.7 891,584.3 890.9,586.8 890.8,589.3 890.9,591.8 891,594.3 891.3,596.8 891.8,599.3 892.3,601.8 892.8,604.3 893.4,606.8 893.9,609.3 894.3,611.9 893.7,612.1 892.7,609.7 891.8,607.3 890.9,604.9 890,602.5 889.1,600 888.3,597.5 887.6,594.9 887.1,592.2 886.7,589.5 886.5,586.9 886.3,584.2 886.2,581.5 886.2,578.7 886.4,575.8 886.5,572.7 886.8,569.5 887.2,566 887.7,562.3 888.4,558.4 889.1,554.4 889.8,550.4 890.6,546.4 891.5,542.5 892.3,538.7 893.2,534.9 894.1,531.2 895.1,527.4 896.1,523.7 897.1,520.1 898.1,516.6 899,513.2 900,509.9 900.9,506.8 901.8,503.9 902.7,501.1 903.5,498.4 904.4,495.7 905.2,493.1 906,490.4 906.8,487.5 907.4,484.5 908,481.4 908.4,478.1 908.8,474.8 909,471.4 909.2,467.9 909.2,464.4 909.2,460.9 909,457.4 908.8,453.9 908.4,450.3 908,446.7 907.5,443.1 906.8,439.5 906.1,435.8 905.2,432.1ZM894.1,532.8L892.5,533.3 890.9,533.8 889.3,534.3 887.7,534.8 886.1,535.3 884.4,535.8 882.6,536.4 880.7,536.9 878.7,537.5 876.5,538.2 874.2,538.8 871.8,539.5 869.4,540.2 866.9,540.9 864.5,541.5 862.1,542 861.9,541.4 864,540.2 866.3,539.1 868.6,538 870.8,537 873.1,535.9 875.2,534.9 877.3,534 879.3,533.1 881.1,532.2 882.8,531.5 884.4,530.7 885.9,530 887.4,529.3 888.9,528.6 890.4,527.9 891.9,527.2ZM966.2,436.3L964.9,439.3 963.8,442.3 962.8,445.3 961.9,448.3 961,451.4 960.3,454.5 959.6,457.5 959,460.6 958.5,463.6 958.1,466.6 957.7,469.7 957.4,472.7 957.2,475.7 957.2,478.7 957.1,481.7 957.2,484.6 957.4,487.4 957.5,490.1 957.6,492.8 957.7,495.5 957.7,498.3 957.8,501.2 957.8,504.3 957.8,507.6 957.7,511.2 957.7,515.2 957.5,519.3 957.4,523.6 957.3,527.9 957.1,532.1 957,536.1 956.8,540 956.7,543.6 956.6,547 956.5,550.4 956.4,553.6 956.3,556.9 956.2,560.1 956,563.3 955.8,566.6 955.2,566.6 954.8,563.3 954.6,560.1 954.3,556.9 954.1,553.7 953.9,550.4 953.6,547.1 953.4,543.6 953.2,540 952.9,536.2 952.7,532.1 952.5,527.9 952.2,523.6 952,519.4 951.7,515.3 951.5,511.4 951.2,507.8 950.9,504.6 950.7,501.5 950.4,498.7 950.1,496 949.8,493.4 949.5,490.8 949.2,488.2 948.8,485.4 948.3,482.6 947.6,479.8 946.8,477 945.9,474.2 944.8,471.5 943.7,468.7 942.4,466 941,463.4 939.5,460.9 937.9,458.4 936.1,456 934.3,453.5 932.3,451.1 930.3,448.7 928.1,446.2 925.8,443.7ZM953.3,490.6L951.9,491.8 950.4,493 949,494.2 947.5,495.4 946,496.5 944.6,497.7 943.3,498.8 941.9,500 940.6,501.1 939.4,502.1 938.3,503.1 937.2,504 936.1,505 935,506.1 933.6,507.4 932.2,509 930.5,510.8 928.7,512.9 926.8,515.2 924.7,517.6 922.6,520 920.5,522.5 918.4,524.9 916.3,527.2 915.7,526.8 917.3,524.1 919,521.4 920.8,518.7 922.5,515.9 924.3,513.3 925.9,510.8 927.5,508.5 929,506.4 930.4,504.6 931.6,503.1 932.7,501.7 933.8,500.5 934.8,499.4 935.9,498.3 936.9,497.2 938.1,496 939.3,494.7 940.6,493.4 942,492 943.3,490.7 944.7,489.4 946,488 947.3,486.7 948.7,485.4Z" fill="#d98f2b"/><ellipse cx="932" cy="426.5" rx="21" ry="17.5" transform="rotate(-25 932 426.5)" fill="#b0541d"/><ellipse cx="928.5" cy="426.5" rx="6.5" ry="5.5" fill="#8a300e"/><g><line x1="895.5" y1="368" x2="906.5" y2="390" stroke="#164f66" stroke-width="1.6"/><line x1="904" y1="365" x2="915" y2="388" stroke="#164f66" stroke-width="1.6"/><line x1="901" y1="381" x2="910.5" y2="378" stroke="#164f66" stroke-width="1"/><ellipse cx="891.4" cy="361" rx="7" ry="11" transform="rotate(-38 891.4 361)" fill="#1b729c"/><ellipse cx="905.8" cy="355" rx="6.5" ry="11" transform="rotate(8 905.8 355)" fill="#1b729c"/><line x1="921" y1="367" x2="928" y2="384" stroke="#23408a" stroke-width="1.8"/><circle cx="919.7" cy="361.8" r="6" fill="#6e8fd6" stroke="#4a6fc0" stroke-width="0.8"/></g><path d="M766.8,597L767.3,596 768.2,595.1 769.1,594.3 770.1,593.7 771.1,593.6 771.9,594 772.7,594.8 773.5,595.9 774.3,596.9 775.3,597.8 776.5,598.4 777.8,598.8 779.2,599.2 780.4,599.7 781.2,600.3 781.5,601.3 781.6,602.4 781.4,603.6 781,604.7 780.3,605.4 779.4,605.8 778,605.9 776.5,605.8 775,605.7 773.6,605.4 772.3,605.1 770.9,604.7 769.6,604.3 768.5,603.6 767.7,602.9 767.1,601.9 766.7,600.6 766.6,599.3 766.6,598ZM766.8,616.4L767.5,615.4 768.7,614.4 770.2,613.4 771.9,612.6 773.6,612.2 775.5,612.2 777.6,612.5 779.9,613.1 782,613.9 783.7,614.7 785.2,615.7 786.6,616.8 787.7,618.1 788.5,619.4 788.8,620.6 788.5,621.8 787.8,623 786.7,624.2 785.6,625.3 784.6,626.5 783.7,627.7 782.7,628.8 781.7,630 780.9,631.2 780.3,632.4 780.2,633.9 780.3,635.6 780.5,637.3 780.6,638.8 780.3,640 779.6,641 778.6,641.8 777.4,642.4 776.3,642.6 775.3,642.6 774.4,642.2 773.6,641.4 772.9,640.4 772.3,639.1 771.9,637.5 771.7,635.5 771.8,632.9 771.9,630.3 772,627.7 771.9,625.7 771.6,624.2 771.1,623.1 770.5,622.3 769.9,621.5 769.4,620.6 768.7,619.7 767.9,618.9 767.2,618 766.7,617.2ZM766.8,653.1L767.6,652.3 768.7,651.4 770,650.6 771.4,649.9 772.7,649.3 774.2,649 775.7,648.9 777.3,648.9 778.6,649 779.5,649.3 779.9,649.8 780,650.6 779.8,651.4 779.3,652.3 778.7,653.1 777.6,653.8 776.3,654.6 774.7,655.4 773.2,656 771.9,656.4 770.7,656.6 769.6,656.7 768.6,656.6 767.8,656.4 767.2,656.1 766.7,655.7 766.4,655.1 766.3,654.4 766.4,653.7ZM793.9,624L794.6,623.8 796.1,623.8 798,624 799.9,624.1 801.5,624 802.7,623.6 803.9,623.1 805,622.6 806.2,622 807.4,621.5 808.7,620.9 810.1,620.3 811.5,619.8 812.9,619.4 814.1,619.3 815.3,619.4 816.5,619.7 817.6,620.2 818.4,620.8 818.9,621.5 818.9,622.2 818.5,623 818,623.9 817.3,624.8 816.7,625.7 815.9,626.5 815,627.4 814,628.3 813.4,629.1 813.3,629.9 813.9,630.7 814.9,631.4 816.3,632 817.8,632.7 819.2,633.3 820.6,633.8 822.1,634.3 823.6,634.7 825,635.2 826,635.8 826.6,636.6 827,637.5 827.2,638.4 827.1,639.3 826.8,640 826.2,640.7 825.4,641.3 824.3,641.8 823.1,642.1 821.7,642.2 820.1,642.1 818.2,641.7 816.2,641.2 814.2,640.6 812.4,640 810.9,639.5 809.6,638.8 808.3,638.1 807,637.6 805.7,637.5 804.2,637.9 802.5,638.8 800.9,639.9 799.4,640.8 798.1,641.2 796.9,641.2 795.8,641 794.8,640.5 794.2,639.9 793.9,639.2 794,638.3 794.6,637.3 795.4,636.1 796.3,635 797.2,634.1 798.3,633.5 799.6,633 800.9,632.6 801.9,632.1 802.3,631.6 802.1,631 801.3,630.3 800.2,629.7 799.1,629 798.1,628.2 797,627.4 795.8,626.4 794.7,625.4 793.9,624.6ZM803.2,643.4L803.8,643 804.7,642.6 806,642.4 807.2,642.2 808.2,642.2 809.2,642.4 810.1,642.8 811,643.2 811.7,643.7 812.1,644.3 812.1,644.9 811.8,645.6 811.3,646.3 810.6,646.9 809.9,647.3 809,647.6 807.9,647.7 806.8,647.7 805.7,647.6 804.8,647.3 804.2,646.7 803.6,645.9 803.2,645 803,644.1ZM822.9,624L823.7,623.3 825,622.6 826.7,621.9 828.4,621.4 830.2,621 832,620.7 834,620.6 836,620.6 837.9,620.5 839.5,620.3 840.8,619.7 841.9,618.8 842.8,617.9 843.7,617.2 844.5,616.9 845.5,617 846.4,617.5 847.2,618.2 847.9,619 848.3,619.8 848.4,620.7 848.4,621.8 848.2,622.9 847.8,624 847.1,624.8 846,625.4 844.5,625.7 842.9,626 841.2,626.2 839.5,626.5 837.8,627 836,627.6 834.3,628.3 832.6,628.8 831,629.1 829.6,629.2 828.3,629.1 827.1,629 826,628.7 825.1,628.2 824.3,627.6 823.5,626.7 822.9,625.8 822.7,624.8ZM840.3,635L841.5,634.4 843.3,634 845.5,633.8 847.6,633.6 849.6,633.3 851.6,632.9 853.7,632.5 855.6,632 857.2,631.4 858.1,630.8 857.9,629.9 856.9,628.8 855.6,627.7 854.4,626.6 853.8,625.7 854,624.9 854.4,624.2 855.2,623.6 856.1,623.2 857.2,623.2 858.4,623.5 859.9,624.1 861.5,625 863.2,625.8 864.8,626.5 866.4,627.1 868,627.7 869.6,628.3 871.3,628.8 873.3,629.1 875.5,629.1 878,628.9 880.6,628.7 883,628.6 885.1,628.7 886.9,629.2 888.5,629.8 889.9,630.5 891.1,631.4 891.8,632.4 892.3,633.7 892.5,635.2 892.4,636.8 891.9,638.2 891,639.2 889.5,639.8 887.6,640 885.3,640.1 882.8,640 880,640 877,640.1 873.5,640 869.9,639.9 866.4,639.9 863.1,640 860.1,640.5 857.2,641.1 854.5,641.7 851.9,642.3 849.6,642.6 847.5,642.6 845.5,642.6 843.8,642.3 842.3,641.9 841.2,641.2 840.3,640.2 839.8,638.9 839.6,637.4 839.7,636ZM869.9,622.3L870.6,621.7 871.6,621 872.8,620.4 874.5,619.8 876.6,619.3 879.3,618.7 882.5,618.3 886,617.8 889.8,617.4 893.5,616.9 897.5,616.4 901.8,615.9 906.1,615.4 910.2,614.9 913.8,614.7 916.9,614.6 919.7,614.7 922.1,614.8 924.1,615.1 925.6,615.5 926.7,616.2 927.3,617 927.6,617.9 927.4,618.9 927,619.8 926.2,620.6 925,621.4 923.4,622.2 921.7,623 919.7,624 917.4,625.2 914.8,626.7 912,628.1 909.3,629.3 907.1,629.9 905.4,629.8 904.2,629.1 903.1,628.1 901.9,627.2 900.3,626.5 898.3,626.2 895.9,625.9 893.4,625.8 890.9,625.7 888.5,625.7 886,625.8 883.5,626 880.9,626.2 878.6,626.4 876.6,626.5 875,626.5 873.6,626.4 872.4,626.3 871.5,626 870.7,625.7 870.1,625.2 869.7,624.5 869.4,623.8 869.5,623ZM913.8,634.1L915.8,632.8 918.9,631.1 922.3,629.1 925.5,626.5 929,623.6 932.4,621.5 935.8,620.3 939.2,619.9 942.5,620.3 945.9,621.5 949.2,623.5 952.7,625.7 956.7,628.2 960.8,631 963.7,633.3 965,634.6 965.1,635.4 962.8,635.8 957.2,636 949.2,635.9 940.8,635.8 931.8,636 922.3,636.2 915.5,636.2 912.8,635.8 912.7,635.1ZM934.1,609.6L934.7,608.9 935.6,608.1 936.7,607.3 937.9,606.7 939.2,606.3 940.6,606 942.1,605.8 943.8,605.8 945.4,605.9 946.8,606.3 948,606.8 949.2,607.6 950.3,608.5 951.2,609.5 951.8,610.5 952.1,611.6 952.2,612.8 952,614 951.6,615 951,615.5 950.1,615.6 949,615.1 947.7,614.5 946.4,613.9 945.1,613.5 943.7,613.5 942.3,613.7 940.8,613.9 939.5,614.1 938.3,614.2 937.3,614.2 936.4,614.2 935.6,614.1 934.9,613.9 934.4,613.5 934,612.9 933.8,612.2 933.7,611.3 933.7,610.4ZM963.7,611.3L964.8,610.6 966.5,610 968.6,609.5 970.8,609.1 972.9,608.8 975.2,608.6 977.7,608.4 980.3,608.4 982.7,608.5 984.8,608.8 986.6,609.4 988.3,610.2 989.8,611.1 990.9,612.1 991.5,613 991.7,613.9 991.4,614.9 990.7,615.9 989.6,616.7 988.1,617.2 986,617.5 983.3,617.4 980.3,617.3 977.3,617.1 974.6,616.9 972.2,616.9 969.9,616.9 967.7,616.9 965.9,616.8 964.5,616.4 963.6,615.6 963,614.6 962.8,613.4 963,612.2Z" fill="#5b73bd" stroke="#1f3585" stroke-width="2.8" stroke-linejoin="round"/><path d="M704,605.5 L748,604.5 Q758,606 758,628 Q758,650 748,651.5 L704,651 Q692,650 692,628 Q692,607 704,605.5Z" fill="#ebe1cf" stroke="#d4aa90" stroke-width="2.6"/><path d="M694,618 L746,617.5 L746,640 L694,641Z" fill="#a2a6b8"/><path d="M694,637 L746,636.5 L746,640 L694,641Z" fill="#8d92a8" opacity="0.7"/><ellipse cx="750.5" cy="628" rx="6" ry="22" fill="#efe6d6" stroke="#d4aa90" stroke-width="1.6"/><ellipse cx="751.5" cy="628.5" rx="3.6" ry="12.5" fill="#5b73bd" stroke="#27398a" stroke-width="2"/><path d="M710,610 L740,609.5" stroke="#fbf6ec" stroke-width="2.2" stroke-linecap="round"/><path d="M701,637 Q701,645 712,645" stroke="#fbf6ec" stroke-width="4" fill="none" stroke-linecap="round"/><path d="M957,616L958.4,614.4 960.8,613 963.8,611.9 967,611.2 970,611 972.9,611.8 975.9,613.4 978.9,615.2 982,616.6 985,617 987.9,615.9 990.8,613.7 993.6,611.1 996.7,608.7 1000,607 1003.7,606.1 1007.6,605.7 1011.8,605.6 1015.9,605.7 1020,606 1024.2,606.4 1028.5,606.9 1032.7,607.6 1036.6,608.6 1040,610 1042.8,611.8 1045.2,613.9 1047.1,616.4 1048.7,619.1 1050,622 1051,625.3 1051.6,629.1 1051.9,633 1051.7,636.8 1051,640 1049.7,642.9 1047.8,645.5 1045.5,647.9 1042.8,649.7 1040,651 1036.8,651.3 1033,650.8 1029.1,649.8 1025.3,649.1 1022,649 1019.3,649.8 1016.9,651.3 1014.7,652.9 1012.5,654.2 1010,655 1007.1,655.1 1004,654.7 1000.8,654 997.7,653.1 995,652 992.7,650.7 990.8,649 989,647.2 987.1,645.4 985,644 982.5,643.1 979.9,642.5 977.1,642 974.5,641.2 972,640 969.7,638.1 967.5,635.8 965.5,633.2 963.6,630.5 962,628 960.4,625.5 958.8,622.9 957.5,620.3 956.8,618Z" fill="#ebe1cf" stroke="#d4aa90" stroke-width="2.6" stroke-linejoin="round"/><path d="M975,616 L1000,613 L1003,620 L1046,624 L1047,641 L1010,641 L1005,632 L975,628Z" fill="#a2a6b8"/><path d="M990,640 Q996,648 1012,648" stroke="#fbf6ec" stroke-width="4" fill="none" stroke-linecap="round"/><path d="M1062,618L1064.7,615.8 1068.3,614 1072.3,612.5 1076.4,611.5 1080,611 1083.3,611.4 1086.5,612.7 1089.5,614.2 1092.4,615.5 1095,616 1096.9,615.4 1098.2,614.2 1099.4,612.6 1101.5,611.1 1105,610 1110.3,609.5 1117,609.2 1124.4,609.2 1132.3,609.1 1140,609 1148,608.7 1156.7,608.2 1165.3,607.8 1173.3,607.6 1180,608 1185.2,608.9 1189.5,610.1 1192.9,611.6 1195.7,613.6 1198,616 1199.7,619 1200.7,622.6 1201.1,626.5 1201.2,630.4 1201,634 1200.8,637.5 1200.3,641 1199.5,644.4 1198.2,647.5 1196,650 1193,652 1189.4,653.5 1185.2,654.6 1180.4,655.4 1175,656 1168.7,656.3 1161.4,656.2 1153.7,656 1146.4,655.5 1140,655 1134.5,654.2 1129.6,653.1 1125.2,652 1121.3,651.2 1118,651 1115.9,651.7 1114.8,653 1114.1,654.6 1112.8,656.1 1110,657 1105.2,657.3 1098.9,657.3 1092,657.1 1085.5,656.6 1080,656 1075.7,655.3 1072.1,654.4 1068.9,653.4 1066.3,651.9 1064,650 1062.2,647.4 1060.8,644.3 1059.9,640.9 1059.3,637.4 1059,634 1058.8,630.7 1058.9,627.2 1059.3,623.8 1060.3,620.6Z" fill="#ebe1cf" stroke="#d4aa90" stroke-width="2.6" stroke-linejoin="round"/><path d="M1062,624 L1100,622 L1108,628 L1125,626 L1140,620 L1197,621 L1198,642 L1125,646 L1112,640 L1095,645 L1062,644Z" fill="#a2a6b8"/><path d="M1110,621 L1128,619 L1133,626 L1120,631 L1108,628Z" fill="#5b73bd" stroke="#27398a" stroke-width="1.5"/><path d="M1072,642 Q1074,650 1090,650" stroke="#fbf6ec" stroke-width="4" fill="none" stroke-linecap="round"/><path d="M1125,613 L1180,612" stroke="#fbf6ec" stroke-width="2.2" stroke-linecap="round"/><g transform="translate(1209 631.5) rotate(-1.9)"><rect x="0" y="-25" width="118.1" height="50" rx="21" fill="#ebe1cf" stroke="#d4aa90" stroke-width="2.6"/><rect x="3" y="-10" width="112.1" height="21" rx="2" fill="#a2a6b8"/><path d="M3,-10 H115.1 M3,11 H115.1" stroke="#8b90a6" stroke-width="2" fill="none"/><path d="M35.4,-20 L100.4,-20" stroke="#fbf6ec" stroke-width="2.4" stroke-linecap="round" opacity="0.9"/><path d="M10,14 Q10,20 22,19.5" stroke="#fbf6ec" stroke-width="4" fill="none" stroke-linecap="round"/></g><path d="M799.3,607.1L799.1,608.1 798.8,609.1 798.3,609.9 797.5,610.7 796.7,611.2 795.7,611.5 794.7,611.7 793.7,611.5 792.7,611.2 791.9,610.7 791.1,609.9 790.6,609.1 790.3,608.1 790.1,607.1 790.3,606.1 790.6,605.1 791.1,604.3 791.9,603.5 792.7,603 793.7,602.7 794.7,602.5 795.7,602.7 796.7,603 797.5,603.5 798.3,604.3 798.8,605.1 799.1,606.1ZM841,606.3L840.9,607.1 840.6,607.9 840.2,608.6 839.6,609.2 838.9,609.6 838.1,609.9 837.3,610 836.5,609.9 835.7,609.6 835,609.2 834.4,608.6 833.9,607.9 833.7,607.1 833.6,606.3 833.7,605.4 833.9,604.6 834.4,603.9 835,603.3 835.7,602.9 836.5,602.6 837.3,602.5 838.1,602.6 838.9,602.9 839.6,603.3 840.2,603.9 840.6,604.6 840.9,605.4ZM947.4,595.3L947.3,596.2 947,597 946.5,597.8 945.9,598.4 945.1,598.9 944.3,599.2 943.4,599.3 942.5,599.2 941.6,598.9 940.8,598.4 940.2,597.8 939.7,597 939.4,596.2 939.3,595.3 939.4,594.4 939.7,593.5 940.2,592.7 940.8,592.1 941.6,591.6 942.5,591.3 943.4,591.2 944.3,591.3 945.1,591.6 945.9,592.1 946.5,592.7 947,593.5 947.3,594.4ZM999.3,667.1L999.2,667.9 998.9,668.6 998.5,669.3 998,669.9 997.3,670.3 996.5,670.5 995.8,670.6 995,670.5 994.2,670.3 993.5,669.9 993,669.3 992.6,668.6 992.3,667.9 992.2,667.1 992.3,666.3 992.6,665.5 993,664.9 993.5,664.3 994.2,663.9 995,663.6 995.8,663.5 996.5,663.6 997.3,663.9 998,664.3 998.5,664.9 998.9,665.5 999.2,666.3ZM909.6,657.8L909.5,658.5 909.3,659.3 908.8,659.9 908.3,660.4 907.7,660.8 907,661.1 906.2,661.2 905.5,661.1 904.7,660.8 904.1,660.4 903.6,659.9 903.2,659.3 902.9,658.5 902.8,657.8 902.9,657 903.2,656.3 903.6,655.7 904.1,655.1 904.7,654.7 905.5,654.5 906.2,654.4 907,654.5 907.7,654.7 908.3,655.1 908.8,655.7 909.3,656.3 909.5,657ZM808.2,604.6L808.6,603 809.7,601 811.2,598.9 812.8,596.9 814.1,595.3 815.3,594 816.5,592.8 817.7,591.8 818.9,591.2 820,591.1 821.1,591.5 822.2,592.4 823.2,593.6 824.2,594.9 825.1,596.1 826,597.2 827,598.4 827.8,599.6 828.4,600.8 828.5,602 828.1,603.3 827.3,604.6 826.2,605.9 824.8,607.1 823.4,607.9 821.8,608.5 819.8,608.9 817.8,609.1 815.8,609 814.1,608.8 812.5,608.4 811,607.7 809.6,606.9 808.6,605.8ZM851.3,596.1L852.2,594.6 853.7,593.2 855.6,591.9 857.7,590.9 859.7,590.2 862,590.1 864.4,590.5 866.9,591 869.4,591.3 871.6,591.1 873.5,589.9 875.2,588.1 876.8,586.2 878.4,584.5 880,583.4 881.8,583.2 883.6,583.4 885.4,584 887,584.9 888.5,586 889.7,587.4 890.8,589.1 891.7,591.1 892.3,593.2 892.7,595.3 892.7,597.6 892.5,600.2 892,602.8 891.3,604.9 890.2,606.3 888.6,606.7 886.6,606.3 884.3,605.6 882.1,604.6 880,603.7 878.2,602.7 876.5,601.3 874.9,600 873.2,599 871.6,598.7 869.9,599.2 868.2,600.5 866.5,602 864.8,603.5 863.1,604.6 861.4,605.2 859.5,605.8 857.7,606 856,606 854.7,605.4 853.5,604.1 852.4,602.3 851.6,600.1 851.1,597.9ZM902.8,596.1L903.9,595.6 905.4,595.3 907.1,595 908.8,594.7 910.4,594.4 911.8,594.1 913.2,593.8 914.5,593.5 915.8,593.1 917.2,592.7 918.7,592.2 920.3,591.4 922,590.7 923.5,590.2 924.8,590.2 925.9,590.8 927,591.9 927.9,593.2 928.6,594.7 929,596.1 929.1,597.7 929,599.5 928.7,601.3 928.1,602.8 927.3,603.7 926.3,604 925,603.7 923.5,603.2 922,602.5 920.6,602 919.2,601.6 917.9,601.1 916.5,600.7 915.2,600.4 913.8,600.3 912.4,600.8 911,601.7 909.6,602.6 908.2,603.4 907.1,603.7 906,603.5 905,602.9 904.1,602.1 903.4,601.2 902.8,600.3 902.4,599.5 902.2,598.6 902.1,597.7 902.3,596.8ZM972.1,602L972.3,600.2 972.7,597.8 973.2,595.3 973.9,593 974.6,591.1 975.4,589.5 976.4,588.2 977.4,587.1 978.5,586.4 979.7,586 981.1,586.1 982.8,586.6 984.5,587.4 986,588.3 987.3,589.4 988.3,590.5 989.2,591.9 989.8,593.3 990.2,594.8 990.2,596.1 989.6,597.4 988.6,598.6 987.3,599.8 986,601 984.8,602 983.7,603.1 982.8,604 981.8,605 980.8,605.7 979.7,606.3 978.5,606.6 977.2,606.8 975.9,606.8 974.7,606.6 973.8,606.3 973.1,605.8 972.6,605.2 972.3,604.4 972.1,603.4ZM998.3,585.1L999.1,583.8 1000.3,582.3 1001.7,580.8 1003.3,579.5 1005,578.4 1007,577.6 1009.1,576.9 1011.4,576.4 1013.8,576.1 1016,575.8 1018.3,575.7 1020.7,575.6 1023,575.6 1025.2,575.8 1027,576.4 1028.5,577.2 1029.8,578.4 1030.9,579.7 1031.6,581.2 1032.1,582.6 1032.2,584.1 1031.9,585.9 1031.4,587.6 1030.6,589.1 1029.5,590.2 1028.1,590.8 1026.3,591 1024.2,591 1022.2,591 1020.2,591.1 1018.5,591.2 1016.8,591.3 1015.1,591.4 1013.5,591.6 1011.8,591.9 1010.1,592.5 1008.2,593.3 1006.5,594.1 1004.8,594.7 1003.4,594.9 1002.1,594.6 1001,594 1000,593.1 999.2,592.1 998.6,591.1 998.2,590 997.8,588.9 997.7,587.7 997.8,586.4ZM791.3,654.4L792.1,653.7 793.1,652.9 794.4,652.2 795.8,651.7 797.2,651.4 798.8,651.3 800.5,651.4 802.3,651.7 803.8,652.2 804.8,652.7 805.4,653.5 805.5,654.5 805.4,655.6 805,656.6 804.3,657.4 803.3,658.1 801.9,658.6 800.3,659 798.7,659.3 797.2,659.5 796,659.5 794.7,659.3 793.6,659 792.6,658.6 791.8,658.1 791.3,657.5 791,656.8 790.8,656 790.9,655.1ZM818.4,652.7L819.2,651.9 820.6,651.3 822.4,650.7 824.2,650.4 826,650.2 827.7,650.2 829.6,650.4 831.5,650.7 833.2,651.2 834.4,651.9 835.2,652.8 835.7,654 835.9,655.3 835.9,656.6 835.8,657.8 835.2,658.8 834.3,659.8 833.3,660.7 832.4,661.7 831.9,662.9 831.9,664.2 832.4,665.7 833,667.2 833.5,668.6 833.6,669.6 833.1,670.4 832.3,671 831.3,671.4 830.3,671.5 829.3,671.3 828.5,670.6 827.6,669.5 826.8,668.2 825.9,666.7 825.1,665.4 824.3,664.1 823.5,662.7 822.7,661.3 821.9,659.9 821.2,658.6 820.4,657.3 819.5,656 818.7,654.8 818.2,653.7ZM844.5,659.5L845.4,658.3 846.7,657.1 848.4,656.1 850.2,655.2 852.1,654.4 854.1,653.7 856.3,653.2 858.6,652.8 860.9,652.4 863.1,651.9 865.3,651.2 867.5,650.4 869.6,649.7 871.6,649.1 873.3,649 874.8,649.3 876.1,649.9 877.3,650.8 878.1,651.9 878.7,653.1 878.8,654.5 878.7,656.1 878.3,657.9 877.6,659.6 876.6,661.2 875.4,662.5 873.9,663.8 872.1,665 870.2,666.1 868.2,667.1 866,667.9 863.6,668.7 861.1,669.4 858.6,669.8 856.4,669.9 854.2,669.8 852.1,669.4 850.2,668.8 848.5,668 847.1,667.1 846,665.8 845.1,664.3 844.5,662.6 844.3,660.9ZM895.2,669.6L896,668.8 897.2,668.3 898.7,667.8 900.4,667.5 902,667.1 903.6,666.8 905.4,666.5 907.3,666.3 909,666 910.4,665.4 911.6,664.4 912.6,663.2 913.4,661.9 914.1,660.6 914.7,659.5 915,658.4 915,657.4 915,656.5 915.1,655.7 915.5,655.3 916.4,655 917.5,655 918.8,655.2 920.1,655.6 921.4,656.1 922.8,656.9 924.3,657.9 925.8,659 926.8,660.1 927.3,661.2 927,662.1 926,663 924.7,663.8 923.3,664.6 922.3,665.4 921.4,666.1 920.6,666.7 919.8,667.3 919.3,668 918.9,668.8 918.9,669.7 919.2,670.9 919.7,672 919.9,673.1 919.7,673.8 919,674.3 917.8,674.6 916.4,674.8 915,674.8 913.8,674.7 912.7,674.3 911.7,673.6 910.7,672.8 909.7,672.3 908.7,672.1 907.7,672.6 906.8,673.6 905.8,674.7 904.7,675.7 903.7,676.4 902.5,676.7 901.2,677 899.9,677.1 898.7,676.9 897.8,676.4 896.9,675.4 896.1,673.9 895.4,672.3 895.1,670.8ZM931.6,654.4L932.5,653.8 933.9,653.2 935.6,652.7 937.4,652.3 939.2,651.9 940.8,651.4 942.6,650.9 944.4,650.5 946.1,650.2 947.6,650.2 948.9,650.4 950.1,650.7 951.1,651.3 951.8,651.9 952.3,652.7 952.5,653.7 952.4,654.9 952.1,656.2 951.6,657.5 951,658.6 950.1,659.7 949,660.7 947.8,661.6 946.4,662.4 945.1,662.9 943.6,663 942,663 940.4,662.8 938.8,662.4 937.5,662 936.2,661.5 935.1,660.9 934,660.2 933.1,659.4 932.4,658.6 931.8,657.8 931.3,656.9 931.1,656 931.1,655.2ZM956,643.4L956.6,642.7 957.3,642 958.3,641.5 959.3,641.2 960.3,641.2 961.3,641.7 962.3,642.6 963.4,643.6 964.5,644.8 965.3,646 966.1,647.1 966.9,648.4 967.6,649.6 968,650.8 968.2,651.9 968,652.8 967.6,653.7 966.9,654.4 966.1,655 965.3,655.3 964.4,655.2 963.4,654.9 962.3,654.4 961.2,653.7 960.3,653.1 959.4,652.3 958.7,651.4 958,650.5 957.4,649.5 956.9,648.5 956.5,647.5 956.1,646.4 955.9,645.3 955.9,644.3ZM1010.1,668.8L1010.9,668.1 1012,667.6 1013.4,667.2 1014.7,666.8 1016,666.2 1017.2,665.6 1018.4,664.9 1019.6,664.1 1020.8,663.4 1021.9,662.9 1023.1,662.3 1024.3,661.7 1025.5,661.2 1026.5,661 1027.3,661.2 1028,661.8 1028.6,662.9 1029,664.2 1029.2,665.7 1029,667.1 1028.5,668.5 1027.7,670.1 1026.6,671.6 1025.5,673.2 1024.5,674.7 1023.5,676.2 1022.5,677.7 1021.5,679.2 1020.4,680.4 1019.4,681.1 1018.4,681.3 1017.3,681 1016.3,680.4 1015.3,679.7 1014.3,678.9 1013.4,678.1 1012.5,677.1 1011.7,676 1011,674.9 1010.4,673.8 1010.1,672.8 1009.8,671.7 1009.6,670.6 1009.7,669.6ZM761.8,666.2L761.9,665.2 762.4,664.2 763.2,663.5 764.1,663 765.1,662.9 766.2,663.3 767.5,664.1 768.9,665.2 770.4,666.3 771.9,667.1 773.5,667.7 775.2,668.3 776.9,668.7 778.6,668.9 780.3,668.8 782.1,668.1 783.8,666.9 785.5,665.6 787.2,664.4 788.8,663.7 790.3,663.5 791.7,663.6 793,664 794.3,664.6 795.5,665.4 796.7,666.6 797.7,668.1 798.8,669.9 800,671.6 801.5,673 803.6,674.2 806.3,675.2 809.1,676.2 811.3,677 812.4,677.7 812,678.2 810.3,678.5 808.1,678.7 806.3,679.1 805.7,679.7 806.5,680.8 808.4,682.2 810.7,683.6 812.8,685.1 814.1,686.5 814.6,687.9 814.7,689.3 814.4,690.6 813.9,691.7 813.3,692.4 812.4,692.8 811.3,692.9 810,692.8 808.7,692.3 807.4,691.6 806.1,690.4 804.8,688.7 803.4,686.8 802,684.9 800.6,683.1 799.2,681.4 797.7,679.6 796.2,677.9 794.7,676.5 793,675.5 791.3,675.2 789.5,675.3 787.6,675.7 785.7,676.1 783.7,676.4 781.7,676.5 779.6,676.6 777.5,676.6 775.5,676.5 773.6,676.4 771.8,676.1 770.2,675.8 768.7,675.3 767.2,674.7 766,673.8 764.8,672.6 763.7,671 762.7,669.2 762.1,667.6ZM1146.1,593.6L1145.6,594.6 1144.8,595.5 1143.7,596.3 1142.6,597 1141.4,597.4 1140.1,597.7 1138.8,597.7 1137.4,597.6 1135.9,597.4 1134.3,597.1 1132.4,596.6 1130.3,596.1 1128.1,595.5 1126.3,594.7 1125.3,593.8 1125,592.6 1125.4,591.2 1126.2,589.8 1127.2,588.4 1128.3,587.2 1129.5,586.3 1130.9,585.4 1132.6,584.7 1134.2,584.2 1135.9,584.1 1137.6,584.3 1139.5,584.9 1141.4,585.7 1143,586.6 1144.3,587.6 1145.2,588.6 1145.8,589.9 1146.2,591.2 1146.3,592.5ZM1183,600.2L1182.2,600.5 1181.3,600.5 1180.2,600.3 1179.2,600.1 1178.3,599.9 1177.4,599.7 1176.5,599.5 1175.7,599.3 1175,598.9 1174.4,598.5 1174,597.9 1173.7,597.1 1173.5,596.2 1173.4,595.4 1173.4,594.5 1173.5,593.6 1173.6,592.5 1173.9,591.5 1174.3,590.7 1174.9,590.1 1175.7,589.9 1176.8,589.9 1178,590.1 1179.3,590.5 1180.3,590.9 1181.4,591.6 1182.4,592.4 1183.4,593.3 1184.2,594.3 1184.6,595.3 1184.7,596.3 1184.6,597.4 1184.2,598.6 1183.6,599.5ZM1129.2,671.7L1130.1,673.1 1131.2,674.7 1132.1,676.2 1132.5,677.7 1132.2,679 1130.8,680.1 1128.6,681.1 1125.9,681.9 1123.1,682.7 1120.7,683.3 1118.5,683.9 1116.2,684.4 1114.1,684.8 1112.1,685 1110.4,684.7 1108.9,683.9 1107.5,682.7 1106.4,681.3 1105.7,679.6 1105.6,678 1106.1,676.1 1107.2,673.9 1108.7,671.7 1110.4,669.7 1112.3,668.2 1114.6,667.2 1117.3,666.5 1120.1,666.1 1122.7,666 1124.8,666.2 1126.2,666.8 1127.2,667.8 1127.9,669 1128.5,670.4ZM1148,679L1148,679.5 1147.9,680 1147.7,680.6 1147.4,681.1 1147,681.6 1146.6,682 1145.9,682.3 1145.3,682.6 1144.7,682.8 1144.1,682.8 1143.7,682.5 1143.4,682 1143.1,681.3 1142.9,680.7 1142.7,680.1 1142.5,679.6 1142.4,679.1 1142.4,678.6 1142.5,678.2 1142.6,677.8 1142.8,677.5 1143.2,677.3 1143.6,677 1144.1,676.9 1144.5,676.8 1144.9,676.7 1145.3,676.7 1145.8,676.8 1146.2,676.9 1146.5,677.1 1146.9,677.3 1147.3,677.7 1147.6,678.1 1147.9,678.5ZM1174.5,676.5L1174.3,677.6 1173.8,678.8 1173.1,679.9 1172.2,680.9 1171.2,681.4 1169.9,681.5 1168.3,681.3 1166.6,680.9 1165,680.3 1163.5,679.7 1162,679.2 1160.6,678.5 1159.2,677.8 1158.1,677.1 1157.5,676.3 1157.4,675.4 1157.7,674.4 1158.3,673.3 1159,672.4 1159.8,671.6 1160.7,671 1161.7,670.6 1162.8,670.3 1164.1,670.1 1165.3,670 1166.6,670 1168.2,670.1 1169.7,670.3 1171.1,670.7 1172.2,671.3 1173,672.1 1173.7,673.1 1174.2,674.2 1174.5,675.4Z" fill="#ebe1cf" fill-opacity="0.93" stroke="#cda88f" stroke-width="2.6" stroke-linejoin="round"/><path d="M878,597 l8,3 M866,661 l7,-4" stroke="#fbf6ec" stroke-width="2" stroke-linecap="round"/><path d="M752.9,221.6L753.4,226.5 754.5,231.4 755.6,236.4 756,241 755.2,245.2 752.8,248.7 749,251.7 744.7,254.4 740.4,257.3 736.7,260.5 734.1,264.5 731.9,269 729.8,273.6 727.5,277.6 724.4,280.5 720.4,281.9 715.8,282.2 710.9,281.9 705.9,281.7 701.1,282.2 696.4,283.7 691.8,286 687.1,288.2 682.6,289.8 678.3,290 674.3,288.5 670.5,285.6 666.8,282.1 663.1,278.4 659.4,275.3 655.4,272.9 651.3,270.9 647.2,268.8 643.4,266.5 640.2,263.7 637.7,260.2 635.7,256.2 634,252 632.4,247.6 630.7,243.3 628.7,239 626.4,234.7 624.3,230.3 622.8,225.9 622.4,221.6 623.4,217.4 625.6,213.3 628.3,209.2 631,205.1 633.1,200.7 634.1,196 634.5,190.9 634.8,185.8 635.6,181.1 637.5,177.2 640.8,174.6 645.2,172.8 650,171.4 654.9,169.9 659.4,167.9 663.3,164.9 667,161.3 670.6,157.7 674.4,154.7 678.3,153.2 682.6,153.5 687.1,155.2 691.7,157.6 696.4,159.9 701,161.5 705.8,161.9 710.8,161.7 715.7,161.3 720.3,161.4 724.4,162.7 727.7,165.4 730.3,169.2 732.7,173.5 735.1,177.8 737.9,181.7 741.4,185.1 745.5,188.1 749.5,191.1 753,194.3 755.2,198 756,202.3 755.5,206.9 754.4,211.8 753.4,216.8Z" fill="#e8a196" stroke="#cf6f60" stroke-width="1.8"/><circle cx="684.7" cy="206.7" r="28" fill="#d17262"/><circle cx="672" cy="167" r="2.2" fill="#d9796a"/><circle cx="699" cy="173" r="1.8" fill="#d9796a"/><circle cx="723" cy="177" r="2.4" fill="#d9796a"/><circle cx="654" cy="187" r="2.5" fill="#d9796a"/><circle cx="639" cy="208" r="1.8" fill="#d9796a"/><circle cx="649" cy="216" r="2.4" fill="#d9796a"/><circle cx="643" cy="223" r="1.2" fill="#d9796a"/><circle cx="653" cy="237" r="1.3" fill="#d9796a"/><circle cx="671" cy="236" r="1.8" fill="#d9796a"/><circle cx="719" cy="201" r="1.2" fill="#d9796a"/><circle cx="735" cy="202" r="1.2" fill="#d9796a"/><circle cx="731" cy="218" r="1.3" fill="#d9796a"/><circle cx="718" cy="223" r="2.2" fill="#d9796a"/><circle cx="740" cy="228" r="1.8" fill="#d9796a"/><circle cx="707" cy="236" r="1.2" fill="#d9796a"/><circle cx="716" cy="238" r="1.9" fill="#d9796a"/><circle cx="697" cy="246" r="2.3" fill="#d9796a"/><circle cx="673" cy="249" r="1.2" fill="#d9796a"/><circle cx="715" cy="256" r="1.2" fill="#d9796a"/><circle cx="732" cy="247" r="1.2" fill="#d9796a"/><circle cx="676" cy="265" r="2.2" fill="#d9796a"/><circle cx="704" cy="266" r="1.8" fill="#d9796a"/><use href="#rec" transform="translate(705 284.5) rotate(-8)"/><g transform="translate(1360.5 415.6) rotate(-20)"><ellipse rx="64" ry="46.5" fill="#5c8eb1" stroke="#1c5c8c" stroke-width="1.8"/></g><circle cx="1349" cy="425" r="24.5" fill="#8fb3cc" opacity="0.55"/><circle cx="1337.5" cy="426.3" r="26" fill="#1f5e8b" stroke="#164f7c" stroke-width="1"/><circle cx="1336" cy="427" r="21" fill="#1a5784"/><ellipse cx="1351.1" cy="430.9" rx="5.5" ry="3.8" transform="rotate(15 1351.1 430.9)" fill="#0d4672"/><ellipse cx="1341.9" cy="440.1" rx="5.5" ry="3.8" transform="rotate(75 1341.9 440.1)" fill="#0d4672"/><ellipse cx="1329.3" cy="436.7" rx="5.5" ry="3.8" transform="rotate(135 1329.3 436.7)" fill="#0d4672"/><ellipse cx="1325.9" cy="424.1" rx="5.5" ry="3.8" transform="rotate(195 1325.9 424.1)" fill="#0d4672"/><ellipse cx="1335.1" cy="414.9" rx="5.5" ry="3.8" transform="rotate(255 1335.1 414.9)" fill="#0d4672"/><ellipse cx="1347.7" cy="418.3" rx="5.5" ry="3.8" transform="rotate(315 1347.7 418.3)" fill="#0d4672"/><circle cx="1338.5" cy="427.5" r="4.5" fill="#0d4672"/><g fill="none" stroke="#1a5d8f" stroke-width="2.2" stroke-linecap="round" stroke-dasharray="9 3 14 3 6 3"><path d="M1353.5,396.9 A33,33 0 0,1 1370.7,430.6"/><path d="M1357.2,392.7 A38.5,38.5 0 0,1 1376.4,428.7"/><path d="M1361.3,388.7 A44,44 0 0,1 1382,426"/><path d="M1365.7,385 A49.5,49.5 0 0,1 1387.4,422.5"/><path d="M1370.3,381.5 A55,55 0 0,1 1392.5,418.3"/></g><circle cx="1394" cy="389" r="1.6" fill="#1a5d8f"/><circle cx="1404" cy="402" r="1.8" fill="#1a5d8f"/><circle cx="1402" cy="414" r="1.5" fill="#1a5d8f"/><circle cx="1353" cy="396" r="1.4" fill="#1a5d8f"/><circle cx="1373" cy="437" r="1.5" fill="#1a5d8f"/><g transform="translate(1211.3 546.8) rotate(-40)" stroke="#a9cde0" stroke-width="2.5" fill="none" stroke-linecap="butt"><path d="M-1.9,15 L-1.9,0 L-11.5,-13.5 M1.9,15 L1.9,0 L11.5,-13.5 M-6.4,1.2 L-15,-11 M6.4,1.2 L15,-11"/></g><g transform="translate(1266.9 551.7) rotate(-36)" stroke="#b3d3e5" stroke-width="2.5" fill="none" stroke-linecap="butt"><path d="M-1.9,15 L-1.9,0 L-11.5,-13.5 M1.9,15 L1.9,0 L11.5,-13.5 M-6.4,1.2 L-15,-11 M6.4,1.2 L15,-11"/></g><g transform="translate(1177 572) rotate(180)" stroke="#a9cde0" stroke-width="2.5" fill="none" stroke-linecap="butt"><path d="M-1.9,15 L-1.9,0 L-11.5,-13.5 M1.9,15 L1.9,0 L11.5,-13.5 M-6.4,1.2 L-15,-11 M6.4,1.2 L15,-11"/></g><g transform="translate(1224.4 584.4) rotate(-36)" stroke="#4c97bb" stroke-width="2.5" fill="none" stroke-linecap="butt"><path d="M-1.9,15 L-1.9,0 L-11.5,-13.5 M1.9,15 L1.9,0 L11.5,-13.5 M-6.4,1.2 L-15,-11 M6.4,1.2 L15,-11"/></g><path d="M322,1032L325,1031.1 328.5,1030.6 332.3,1030.4 336.2,1030.3 340,1030 343.6,1029.6 347.2,1029.1 350.8,1028.7 354.4,1028.3 358,1028 361.6,1027.8 365.3,1027.6 368.9,1027.5 372.5,1027.6 376,1028 379.5,1028.7 383,1029.7 386.3,1030.9 389.4,1032.3 392,1034 394.1,1036 395.8,1038.2 397.2,1040.6 398.3,1043.2 399,1046 399.4,1048.9 399.4,1052.1 399.1,1055.4 398.6,1058.7 398,1062 397.2,1065.3 396.2,1068.7 395.1,1072 393.7,1075.2 392,1078 390.1,1080.4 387.9,1082.6 385.5,1084.6 382.9,1086.4 380,1088 376.8,1089.6 373.2,1091 369.4,1092.3 365.6,1093.3 362,1094 358.5,1094.3 355.1,1094.4 351.8,1094.2 348.4,1093.7 345,1093 341.5,1092.1 338,1091 334.4,1089.6 331.1,1087.9 328,1086 325.2,1083.7 322.5,1081 320,1078.2 317.8,1075.1 316,1072 314.6,1068.7 313.5,1065.2 312.8,1061.7 312.3,1058.2 312,1055 311.9,1052.1 312.1,1049.4 312.5,1046.8 313.1,1044.3 314,1042 315.1,1039.7 316.3,1037.4 317.8,1035.3 319.7,1033.4ZM324.1,1056.8L324,1052.9 323.9,1049.2 323.6,1045.5 323.2,1041.8 322.6,1038.1 322,1034.5 321.3,1030.9 320.5,1027.4 319.6,1023.9 318.7,1020.4 317.6,1017 316.5,1013.6 315.3,1010.4 314.2,1007.3 313.1,1004.3 312.1,1001.6 311.2,999.1 310.3,997 309.5,995 308.8,993.1 308,991.1 307.2,989.1 306.4,986.8 305.5,984.2 304.6,981.4 303.7,978.3 302.8,975.1 301.8,971.7 300.9,968.4 300,965.1 299.1,962 298.2,959 297.3,956.1 296.4,953.4 295.5,950.7 294.6,948.1 293.7,945.5 292.8,943 291.8,940.5 290.8,938 289.8,935.5 288.6,932.9 287.4,930.3 286.1,927.8 284.9,925.3 283.6,923 282.5,920.8 281.5,918.8 280.6,917.2 279.9,915.9 279.1,914.8 278.4,913.7 277.7,912.6 277,911.3 276.3,909.7 275.8,907.9 275.3,905.7 274.9,903.3 274.5,900.7 274.2,898 273.9,895.2 273.7,892.5 273.4,889.7 273.2,887.1 273.8,886.9 274.4,889.6 275,892.3 275.5,895 276,897.7 276.5,900.4 277,902.9 277.6,905.1 278.2,907.1 278.9,908.7 279.5,910 280.1,911 280.8,912 281.6,913 282.5,914.1 283.4,915.5 284.5,917.2 285.6,919.1 286.9,921.2 288.2,923.5 289.6,925.9 291.1,928.4 292.5,930.9 293.9,933.5 295.2,936 296.3,938.5 297.5,941.1 298.6,943.6 299.6,946.2 300.7,948.8 301.7,951.5 302.8,954.2 303.8,957 304.9,960 306.1,963.2 307.2,966.5 308.3,969.8 309.4,973 310.4,976.1 311.5,979.1 312.5,981.8 313.4,984.1 314.3,986.2 315.2,988.1 316,989.9 316.9,991.8 317.8,993.8 318.8,996 319.9,998.4 321,1001.2 322.3,1004.1 323.6,1007.2 324.9,1010.4 326.3,1013.6 327.9,1016.7 329.7,1019.7 331.5,1022.6 333.5,1025.3 335.7,1028 338.1,1030.7 340.6,1033.2 343.2,1035.8 346,1038.3 348.9,1040.8 351.9,1043.2ZM309.2,988.7L309.9,986.9 310.7,985 311.4,983.2 312.1,981.4 312.8,979.5 313.6,977.7 314.3,975.9 315,974 315.8,972.2 316.5,970.4 317.2,968.8 317.9,967.1 318.6,965.5 319.3,963.7 320,961.7 320.6,959.6 321.2,957.1 321.9,954.4 322.5,951.4 323,948.4 323.6,945.3 324.3,942.1 324.9,939 325.7,936 326.3,936 326.3,939.1 326.2,942.3 326.1,945.5 326,948.7 325.8,951.9 325.6,954.9 325.3,957.8 325,960.4 324.6,962.9 324.1,965.1 323.6,967.1 323.1,969 322.5,970.8 322,972.5 321.5,974.2 321,976 320.5,977.9 320,979.8 319.4,981.7 318.9,983.6 318.4,985.5 317.8,987.5 317.3,989.4 316.8,991.3ZM329.7,1064.9L328.4,1060.5 327,1056.4 325.3,1052.3 323.4,1048.4 321.4,1044.7 319.3,1041.3 317.1,1038 314.8,1035 312.4,1032.2 310,1029.4 307.7,1026.7 305.5,1024 303.4,1021.4 301.3,1019 299.3,1016.6 297.4,1014.5 295.6,1012.5 294,1010.7 292.6,1009.1 291.3,1007.7 289.9,1006.3 288.3,1004.8 286.5,1003.2 284.2,1001.4 281.5,999.4 278.4,997.1 274.9,994.7 271.3,992.2 267.7,989.8 264.1,987.5 260.8,985.5 257.8,983.7 255.1,982.2 252.7,981 250.3,979.9 248.1,979 245.9,978.2 243.8,977.4 241.7,976.8 239.7,976.1 237.8,975.5 235.9,975 234.1,974.7 232.4,974.3 230.7,974 229,973.8 227.2,973.4 225.5,973 225.5,972.4 227.3,972.5 229.1,972.6 230.8,972.7 232.6,972.8 234.4,972.9 236.3,973.2 238.2,973.5 240.3,973.9 242.4,974.4 244.6,974.9 246.8,975.5 249,976.2 251.5,976.9 254,977.9 256.7,979 259.6,980.3 262.8,981.9 266.3,983.8 270.1,985.8 274,988 277.8,990.3 281.4,992.5 284.8,994.6 287.8,996.6 290.2,998.3 292.4,999.9 294.2,1001.5 295.9,1003 297.5,1004.4 299,1006 300.7,1007.7 302.6,1009.5 304.7,1011.6 306.9,1013.9 309.2,1016.3 311.5,1018.8 313.8,1021.3 316.2,1023.9 318.7,1026.4 321.2,1029 324.1,1031.4 327.1,1033.8 330.5,1036.1 334.1,1038.2 337.9,1040.2 341.8,1042 346,1043.7 350.3,1045.1ZM268.2,992.5L266.6,992.5 264.9,992.5 263.3,992.5 261.8,992.4 260.2,992.4 258.7,992.5 257.1,992.5 255.5,992.7 253.7,992.9 251.9,993.2 250.1,993.5 248.2,993.8 246.3,994.2 244.4,994.7 242.5,995.1 240.6,995.6 238.8,996.2 236.9,996.8 235.1,997.4 233.2,998.1 231.3,998.8 229.5,999.5 227.6,1000.2 225.6,1000.8 225.4,1000.2 227.1,999.1 228.8,998.1 230.5,997.1 232.2,996.1 234,995.1 235.8,994.1 237.6,993.2 239.4,992.4 241.3,991.6 243.2,990.8 245.1,990.1 247,989.5 248.9,988.9 250.8,988.3 252.7,987.8 254.5,987.3 256.3,986.9 258.1,986.6 259.8,986.4 261.5,986.2 263.1,986 264.7,985.9 266.2,985.7 267.8,985.5ZM330.8,1076.9L328.2,1074.1 325.5,1071.4 322.7,1068.9 319.9,1066.7 317,1064.6 314.2,1062.8 311.3,1061.2 308.6,1059.9 305.9,1058.7 303.3,1057.7 300.8,1056.8 298.4,1056 296,1055.1 293.7,1054.3 291.4,1053.6 289,1052.9 286.6,1052.2 284.4,1051.5 282.2,1050.9 280.1,1050.4 277.9,1049.8 275.4,1049.3 272.7,1048.8 269.6,1048.3 266,1047.8 261.8,1047.2 257.3,1046.6 252.6,1046 247.9,1045.6 243.5,1045.2 239.4,1045 235.9,1045 233,1045.2 230.4,1045.6 228.1,1046.1 226,1046.7 224,1047.5 222.1,1048.3 220.4,1049.2 218.6,1050 217,1050.9 215.6,1051.9 214.3,1053 213.1,1054.1 212,1055.3 210.8,1056.5 209.6,1057.6 208.2,1058.7 207.8,1058.3 208.8,1056.9 209.9,1055.6 210.9,1054.3 211.9,1053 213,1051.7 214.3,1050.4 215.8,1049.1 217.4,1048 219.1,1046.9 220.9,1045.8 222.8,1044.8 224.8,1043.8 227.1,1042.9 229.6,1042.1 232.5,1041.5 235.7,1041 239.4,1040.7 243.6,1040.6 248.2,1040.6 253,1040.7 257.7,1040.9 262.4,1041.2 266.6,1041.4 270.4,1041.7 273.6,1042 276.6,1042.3 279.2,1042.7 281.7,1043.1 284,1043.6 286.3,1044.1 288.6,1044.6 291,1045.1 293.5,1045.7 296.1,1046.3 298.5,1047 301,1047.7 303.5,1048.4 306,1049.1 308.6,1049.7 311.4,1050.1 314.4,1050.4 317.6,1050.6 321,1050.5 324.5,1050.2 328.1,1049.7 331.7,1049 335.5,1048.1 339.2,1047.1ZM268.7,1048.2L267.9,1046.8 267.1,1045.5 266.2,1044.1 265.3,1042.7 264.4,1041.2 263.5,1039.6 262.7,1037.9 262.1,1036.1 261.6,1034.4 261.3,1032.7 261,1031 260.8,1029.3 260.7,1027.5 260.6,1025.7 260.7,1023.9 260.9,1021.9 261.2,1019.9 261.6,1017.7 262.2,1015.5 262.8,1013.3 263.5,1011.1 264.2,1008.9 264.9,1006.8 265.7,1004.6 266.3,1004.8 266.3,1007 266.1,1009.3 265.8,1011.6 265.5,1013.9 265.3,1016.1 265.2,1018.2 265.1,1020.2 265.1,1022.1 265.2,1023.8 265.4,1025.5 265.7,1027 266,1028.5 266.4,1029.9 266.8,1031.2 267.3,1032.6 267.9,1033.9 268.5,1035.1 269.3,1036.2 270.1,1037.4 271.1,1038.6 272.1,1039.8 273.2,1041.1 274.3,1042.4 275.3,1043.8ZM356,1079L352.1,1080.1 348.3,1081.4 344.6,1082.9 341.1,1084.4 337.7,1086.1 334.5,1087.9 331.5,1089.8 328.7,1091.7 326.1,1093.7 323.7,1095.8 321.5,1097.8 319.3,1099.9 317.1,1101.9 315,1103.9 312.9,1105.9 310.9,1107.8 309,1109.7 307.2,1111.6 305.4,1113.5 303.6,1115.4 301.7,1117.3 299.7,1119.2 297.4,1121.1 294.9,1122.8 292.2,1124.4 289.2,1125.9 286.1,1127.3 283,1128.6 279.9,1129.8 276.8,1131 273.9,1132.2 271.1,1133.3 268.4,1134.6 265.7,1135.8 263,1136.9 260.4,1138.1 257.9,1139.3 255.4,1140.4 253.1,1141.5 250.9,1142.6 248.7,1143.7 246.6,1144.7 244.7,1145.6 242.8,1146.6 241.1,1147.5 239.5,1148.5 238,1149.6 236.7,1150.8 235.5,1152.1 234.5,1153.6 233.5,1155.2 232.7,1156.9 231.9,1158.7 231.1,1160.5 230.3,1162.2 229.3,1163.9 228.7,1163.7 229.3,1161.8 229.9,1160 230.5,1158.2 231.2,1156.3 231.9,1154.4 232.7,1152.6 233.7,1150.9 234.9,1149.2 236.4,1147.7 237.9,1146.4 239.6,1145.1 241.3,1144 243.2,1142.9 245.1,1141.7 247.1,1140.6 249.1,1139.4 251.3,1138.1 253.6,1136.8 256,1135.5 258.5,1134.1 261,1132.8 263.6,1131.4 266.2,1130.1 268.9,1128.7 271.7,1127.2 274.6,1125.8 277.6,1124.4 280.6,1123 283.5,1121.6 286.3,1120.2 288.8,1118.7 291.1,1117.2 293.1,1115.6 294.8,1113.9 296.5,1112.2 298.1,1110.4 299.7,1108.4 301.4,1106.4 303.2,1104.3 305.1,1102.2 307.1,1100.1 309.1,1098 311.1,1095.9 313.1,1093.7 315.2,1091.5 317.2,1089.3 319.3,1086.9 321.3,1084.3 323.2,1081.5 325.1,1078.5 326.9,1075.3 328.6,1071.9 330.1,1068.4 331.6,1064.7 332.9,1060.9 334,1057ZM252.9,1141.6L252.5,1143.4 252,1145.1 251.5,1146.8 251,1148.5 250.5,1150.2 250.1,1151.9 249.6,1153.6 249.2,1155.4 248.9,1157.1 248.5,1159 248.2,1160.9 247.9,1162.8 247.6,1164.7 247.3,1166.7 246.8,1168.5 246.3,1170.3 245.7,1172 245,1173.6 244.3,1175.1 243.5,1176.6 242.7,1178 241.9,1179.4 241.1,1180.7 240.3,1182.1 239.7,1181.9 240.1,1180.3 240.7,1178.8 241.3,1177.3 241.8,1175.8 242.4,1174.3 242.9,1172.8 243.3,1171.3 243.7,1169.7 243.9,1168 244.1,1166.2 244.2,1164.4 244.3,1162.4 244.4,1160.5 244.5,1158.5 244.6,1156.6 244.8,1154.6 245,1152.8 245.3,1150.9 245.6,1149.1 245.9,1147.4 246.2,1145.6 246.5,1143.9 246.8,1142.1 247.1,1140.4ZM300.9,1116.9L300.3,1119.2 299.6,1121.6 298.9,1124 298.2,1126.3 297.5,1128.6 296.9,1130.8 296.4,1133.1 296,1135.3 295.7,1137.6 295.4,1140 295.2,1142.3 295,1144.7 294.9,1147.1 294.9,1149.5 294.9,1152 294.9,1154.4 295,1156.9 295.2,1159.4 295.4,1161.9 295.7,1164.5 296,1167.1 296.3,1169.7 296.6,1172.3 296.7,1174.9 296.1,1175.1 295.3,1172.6 294.6,1170 293.9,1167.5 293.3,1165 292.6,1162.4 292,1159.9 291.5,1157.3 291.1,1154.8 290.8,1152.2 290.5,1149.7 290.2,1147.2 290.1,1144.7 289.9,1142.2 289.9,1139.7 289.9,1137.2 290,1134.7 290.2,1132.1 290.5,1129.6 290.9,1127.1 291.3,1124.7 291.8,1122.2 292.3,1119.8 292.7,1117.5 293.1,1115.1ZM375.7,1069.1L374.1,1072.4 372.6,1075.7 371.3,1079 370.2,1082.3 369.3,1085.6 368.6,1088.7 368.1,1091.7 367.7,1094.6 367.6,1097.4 367.6,1100.1 367.7,1102.6 367.8,1105.1 367.9,1107.6 368,1110 368.1,1112.4 368.1,1114.8 368.1,1117.2 368,1119.4 367.9,1121.5 367.8,1123.4 367.7,1125.3 367.7,1127.2 367.8,1129.2 368,1131.2 368.3,1133.5 368.7,1135.9 369.3,1138.4 369.9,1141 370.6,1143.6 371.3,1146.2 371.9,1148.8 372.6,1151.2 373.2,1153.5 373.8,1155.5 374.4,1157.6 375.1,1159.6 375.7,1161.8 376.3,1164.2 376.8,1166.8 377.3,1169.7 377.6,1173 377.8,1176.5 378,1180.3 378.1,1184.2 378.2,1188.2 378.3,1192.2 378.3,1196.1 378.3,1200 377.7,1200 377.1,1196.2 376.6,1192.3 376.1,1188.3 375.6,1184.3 375.2,1180.5 374.7,1176.8 374.1,1173.4 373.5,1170.3 372.9,1167.6 372.2,1165.3 371.5,1163.1 370.7,1161.2 369.9,1159.2 369.1,1157.2 368.2,1155.1 367.4,1152.8 366.6,1150.4 365.8,1147.9 364.9,1145.3 364,1142.7 363.1,1140.1 362.3,1137.5 361.6,1134.9 361,1132.4 360.6,1129.9 360.4,1127.6 360.2,1125.4 360.2,1123.3 360.1,1121.3 360.1,1119.3 360,1117.3 359.9,1115.2 359.7,1113 359.4,1110.7 359.1,1108.3 358.8,1105.9 358.5,1103.4 358.2,1100.8 357.8,1098.1 357.3,1095.4 356.5,1092.5 355.7,1089.5 354.6,1086.4 353.3,1083.3 351.8,1080.2 350.1,1077 348.3,1073.9 346.3,1070.9ZM377.5,1051.9L379.5,1055.6 381.6,1059.3 383.6,1062.7 385.8,1066 388,1069 390.3,1071.8 392.7,1074.4 395.1,1076.6 397.6,1078.6 400.1,1080.4 402.7,1081.9 405.4,1083.3 408.1,1084.7 410.9,1086 413.8,1087.4 416.8,1088.8 419.8,1090.1 422.8,1091.4 425.7,1092.7 428.8,1094 432.1,1095.4 435.5,1096.9 439.3,1098.6 443.3,1100.5 447.9,1102.6 453,1105 458.5,1107.5 464.1,1110.2 469.7,1112.9 475.1,1115.7 480,1118.3 484.3,1120.8 487.9,1123.3 491.1,1125.7 493.9,1128.1 496.4,1130.4 498.6,1132.6 500.6,1134.8 502.4,1136.9 504.2,1138.9 505.8,1140.8 507.3,1142.6 508.5,1144.4 509.5,1146.1 510.5,1147.7 511.3,1149.3 512.1,1150.9 512.9,1152.5 513.7,1154.1 514.3,1155.7 514.9,1157.3 515.3,1158.8 515.8,1160.3 516.2,1161.8 516.7,1163.3 517.1,1164.9 516.5,1165.1 515.8,1163.7 515.2,1162.2 514.6,1160.8 514,1159.3 513.4,1157.9 512.7,1156.4 511.9,1155 511.1,1153.5 510.2,1152 509.3,1150.5 508.4,1149 507.4,1147.5 506.2,1146 505,1144.5 503.5,1142.8 501.8,1141.1 499.9,1139.3 498,1137.3 495.9,1135.4 493.6,1133.4 491.2,1131.3 488.4,1129.3 485.3,1127.2 481.7,1125.2 477.5,1123 472.6,1120.7 467.2,1118.4 461.5,1116 455.8,1113.7 450.2,1111.5 444.9,1109.4 440.3,1107.5 436.2,1105.9 432.5,1104.5 429,1103.2 425.7,1102 422.5,1100.8 419.4,1099.7 416.3,1098.5 413.2,1097.2 410.1,1096 407.1,1094.7 404.1,1093.5 401.2,1092.3 398.3,1091 395.3,1089.8 392.2,1088.6 388.9,1087.4 385.4,1086.1 381.8,1084.9 378.1,1083.7 374.3,1082.6 370.4,1081.7 366.5,1081 362.5,1080.4 358.5,1080.1ZM444.4,1102.2L444.7,1104.3 445,1106.3 445.4,1108.4 445.8,1110.6 446.1,1112.8 446.4,1115.1 446.6,1117.4 446.6,1119.8 446.7,1121.9 446.7,1124 446.6,1126 446.5,1128.1 446.2,1130.4 445.8,1132.9 445.2,1135.6 444.4,1138.6 443.4,1142 442.1,1145.8 440.5,1149.8 438.9,1154 437.2,1158.3 435.4,1162.5 433.6,1166.8 431.8,1170.8 431.2,1170.6 432.1,1166.3 433.2,1161.8 434.4,1157.3 435.5,1152.9 436.7,1148.6 437.7,1144.5 438.5,1140.7 439.2,1137.4 439.6,1134.5 439.9,1132 440,1129.9 440,1127.9 439.9,1126.1 439.8,1124.2 439.6,1122.3 439.4,1120.2 439.1,1118.2 438.7,1116.3 438.3,1114.3 437.8,1112.3 437.2,1110.2 436.7,1108.1 436.1,1106 435.6,1103.8ZM487.4,1123.1L487.8,1125.1 488.3,1127.1 488.7,1129.1 489.2,1131.2 489.6,1133.3 490.1,1135.4 490.4,1137.5 490.6,1139.6 490.8,1141.8 490.8,1143.8 490.8,1145.8 490.7,1147.8 490.5,1149.8 490.4,1151.8 490.3,1153.8 490.3,1155.9 490.3,1158.1 490.3,1160.4 490.3,1162.8 490.3,1165.2 490.3,1167.7 490.3,1170.1 490.3,1172.6 490.1,1175 489.5,1175 489,1172.6 488.6,1170.2 488.3,1167.8 487.9,1165.4 487.6,1163 487.3,1160.6 487,1158.3 486.7,1156.1 486.5,1153.9 486.4,1151.8 486.3,1149.8 486.2,1147.8 486.1,1145.9 485.9,1144 485.7,1142.2 485.4,1140.4 484.9,1138.5 484.4,1136.6 483.9,1134.7 483.2,1132.8 482.6,1130.9 481.9,1128.9 481.2,1126.9 480.6,1124.9ZM360.5,1043.1L364.4,1042.7 368.2,1042.1 371.9,1041.3 375.6,1040.3 379.2,1039.1 382.6,1037.9 385.9,1036.5 389,1035.2 392,1033.9 394.8,1032.6 397.5,1031.3 400.2,1030.1 402.7,1029 405.2,1028 407.7,1026.9 410.1,1025.9 412.6,1024.9 414.9,1024 417.2,1023.1 419.4,1022.3 421.6,1021.5 423.7,1020.7 425.8,1019.7 428.1,1018.6 430.4,1017.3 432.8,1015.9 435.3,1014.4 437.8,1012.7 440.4,1011 443,1009.3 445.5,1007.5 448.1,1005.6 450.6,1003.7 453.1,1001.8 455.6,999.9 458.1,997.9 460.6,995.9 463.1,993.6 465.7,991.2 468.4,988.6 471.2,985.6 474.2,982.4 477.1,978.9 480.2,975.3 483.3,971.6 486.4,967.9 489.6,964.3 492.7,960.8 493.3,961.2 490.6,965.1 487.9,969.1 485.2,973.1 482.4,977 479.7,980.9 476.9,984.7 474.2,988.2 471.6,991.4 469,994.4 466.5,997.1 464,999.6 461.6,1001.9 459.1,1004.1 456.7,1006.3 454.3,1008.3 451.9,1010.4 449.5,1012.5 446.9,1014.6 444.4,1016.6 441.9,1018.5 439.4,1020.4 436.9,1022.1 434.4,1023.8 431.9,1025.4 429.5,1026.8 427.1,1028.1 424.8,1029.2 422.6,1030.2 420.4,1031.1 418.2,1032 416.1,1033 413.9,1034.1 411.5,1035.3 409.1,1036.5 406.7,1037.7 404.3,1038.9 401.9,1040.1 399.6,1041.5 397.2,1043 395,1044.8 392.8,1046.9 390.7,1049.3 388.6,1052 386.6,1055 384.7,1058.2 382.9,1061.6 381.1,1065.2 379.5,1068.9ZM437.1,1016.2L438.8,1016.8 440.6,1017.5 442.3,1018.1 444.1,1018.8 445.8,1019.4 447.5,1020.1 449.1,1020.7 450.7,1021.3 452.3,1021.9 453.9,1022.4 455.3,1023 456.8,1023.6 458.2,1024.1 459.5,1024.5 460.9,1025 462.2,1025.3 463.5,1025.6 464.9,1025.8 466.2,1025.9 467.5,1026.1 468.9,1026.2 470.2,1026.3 471.6,1026.4 473,1026.7 473,1027.3 471.6,1027.6 470.3,1027.9 469,1028.1 467.6,1028.3 466.2,1028.5 464.8,1028.6 463.3,1028.7 461.8,1028.7 460.2,1028.6 458.7,1028.4 457.1,1028.2 455.6,1027.9 454,1027.6 452.5,1027.3 450.9,1027 449.3,1026.7 447.6,1026.4 445.8,1026.1 444,1025.7 442.2,1025.3 440.3,1025 438.5,1024.6 436.7,1024.2 434.9,1023.8ZM351.4,1047.1L353.8,1045.1 356.1,1043.1 358.3,1040.9 360.4,1038.7 362.3,1036.4 364.1,1034.1 365.7,1031.9 367.2,1029.8 368.6,1027.8 369.9,1026 371,1024.3 372.1,1022.7 373.1,1021.1 374.2,1019.5 375.3,1017.8 376.5,1016 377.8,1014 379.1,1011.8 380.5,1009.6 381.9,1007.3 383.5,1004.9 385.2,1002.4 386.9,999.8 388.9,997.2 391,994.5 393.3,991.7 395.8,988.9 398.4,985.9 401,983 403.5,980.2 406,977.5 408.4,974.9 410.6,972.4 412.8,970.1 414.9,967.9 417,965.7 419.1,963.6 421.2,961.4 423.3,959.3 425.4,957.2 426,957.6 424.2,960.1 422.3,962.5 420.5,964.8 418.7,967.2 416.8,969.5 414.9,972 413,974.5 411,977.1 409,979.9 406.7,982.9 404.5,985.9 402.2,989 399.9,992.1 397.7,995.1 395.7,998 393.9,1000.8 392.3,1003.4 390.8,1005.9 389.4,1008.4 388.2,1010.8 386.9,1013.2 385.8,1015.6 384.6,1017.8 383.5,1020 382.3,1022.1 381.3,1023.9 380.4,1025.6 379.5,1027.2 378.7,1028.7 378,1030.4 377.3,1032.2 376.8,1034.2 376.3,1036.5 375.9,1039 375.7,1041.7 375.6,1044.6 375.7,1047.6 375.9,1050.6 376.2,1053.8 376.6,1056.9ZM392.5,1000L394.1,1000.4 395.7,1000.7 397.3,1001.1 398.9,1001.5 400.5,1001.8 402.1,1002.2 403.7,1002.5 405.3,1002.8 406.9,1003.1 408.5,1003.4 410.2,1003.7 411.8,1004 413.4,1004.2 415,1004.4 416.5,1004.6 417.9,1004.6 419.3,1004.6 420.7,1004.6 422.1,1004.5 423.4,1004.3 424.8,1004.1 426.1,1003.9 427.5,1003.7 428.9,1003.7 429.1,1004.3 427.8,1004.8 426.4,1005.2 425.1,1005.7 423.8,1006.1 422.5,1006.5 421.1,1006.8 419.6,1007.1 418.1,1007.4 416.5,1007.5 414.8,1007.6 413.2,1007.6 411.5,1007.5 409.8,1007.5 408.1,1007.4 406.4,1007.3 404.7,1007.2 403.1,1007.1 401.4,1007 399.7,1006.8 398.1,1006.6 396.4,1006.5 394.8,1006.3 393.2,1006.1 391.5,1006Z" fill="#b8691c" stroke="#b8691c" stroke-width="2.4" stroke-linejoin="round" /><path d="M322,1032L325,1031.1 328.5,1030.6 332.3,1030.4 336.2,1030.3 340,1030 343.6,1029.6 347.2,1029.1 350.8,1028.7 354.4,1028.3 358,1028 361.6,1027.8 365.3,1027.6 368.9,1027.5 372.5,1027.6 376,1028 379.5,1028.7 383,1029.7 386.3,1030.9 389.4,1032.3 392,1034 394.1,1036 395.8,1038.2 397.2,1040.6 398.3,1043.2 399,1046 399.4,1048.9 399.4,1052.1 399.1,1055.4 398.6,1058.7 398,1062 397.2,1065.3 396.2,1068.7 395.1,1072 393.7,1075.2 392,1078 390.1,1080.4 387.9,1082.6 385.5,1084.6 382.9,1086.4 380,1088 376.8,1089.6 373.2,1091 369.4,1092.3 365.6,1093.3 362,1094 358.5,1094.3 355.1,1094.4 351.8,1094.2 348.4,1093.7 345,1093 341.5,1092.1 338,1091 334.4,1089.6 331.1,1087.9 328,1086 325.2,1083.7 322.5,1081 320,1078.2 317.8,1075.1 316,1072 314.6,1068.7 313.5,1065.2 312.8,1061.7 312.3,1058.2 312,1055 311.9,1052.1 312.1,1049.4 312.5,1046.8 313.1,1044.3 314,1042 315.1,1039.7 316.3,1037.4 317.8,1035.3 319.7,1033.4ZM324.1,1056.8L324,1052.9 323.9,1049.2 323.6,1045.5 323.2,1041.8 322.6,1038.1 322,1034.5 321.3,1030.9 320.5,1027.4 319.6,1023.9 318.7,1020.4 317.6,1017 316.5,1013.6 315.3,1010.4 314.2,1007.3 313.1,1004.3 312.1,1001.6 311.2,999.1 310.3,997 309.5,995 308.8,993.1 308,991.1 307.2,989.1 306.4,986.8 305.5,984.2 304.6,981.4 303.7,978.3 302.8,975.1 301.8,971.7 300.9,968.4 300,965.1 299.1,962 298.2,959 297.3,956.1 296.4,953.4 295.5,950.7 294.6,948.1 293.7,945.5 292.8,943 291.8,940.5 290.8,938 289.8,935.5 288.6,932.9 287.4,930.3 286.1,927.8 284.9,925.3 283.6,923 282.5,920.8 281.5,918.8 280.6,917.2 279.9,915.9 279.1,914.8 278.4,913.7 277.7,912.6 277,911.3 276.3,909.7 275.8,907.9 275.3,905.7 274.9,903.3 274.5,900.7 274.2,898 273.9,895.2 273.7,892.5 273.4,889.7 273.2,887.1 273.8,886.9 274.4,889.6 275,892.3 275.5,895 276,897.7 276.5,900.4 277,902.9 277.6,905.1 278.2,907.1 278.9,908.7 279.5,910 280.1,911 280.8,912 281.6,913 282.5,914.1 283.4,915.5 284.5,917.2 285.6,919.1 286.9,921.2 288.2,923.5 289.6,925.9 291.1,928.4 292.5,930.9 293.9,933.5 295.2,936 296.3,938.5 297.5,941.1 298.6,943.6 299.6,946.2 300.7,948.8 301.7,951.5 302.8,954.2 303.8,957 304.9,960 306.1,963.2 307.2,966.5 308.3,969.8 309.4,973 310.4,976.1 311.5,979.1 312.5,981.8 313.4,984.1 314.3,986.2 315.2,988.1 316,989.9 316.9,991.8 317.8,993.8 318.8,996 319.9,998.4 321,1001.2 322.3,1004.1 323.6,1007.2 324.9,1010.4 326.3,1013.6 327.9,1016.7 329.7,1019.7 331.5,1022.6 333.5,1025.3 335.7,1028 338.1,1030.7 340.6,1033.2 343.2,1035.8 346,1038.3 348.9,1040.8 351.9,1043.2ZM309.2,988.7L309.9,986.9 310.7,985 311.4,983.2 312.1,981.4 312.8,979.5 313.6,977.7 314.3,975.9 315,974 315.8,972.2 316.5,970.4 317.2,968.8 317.9,967.1 318.6,965.5 319.3,963.7 320,961.7 320.6,959.6 321.2,957.1 321.9,954.4 322.5,951.4 323,948.4 323.6,945.3 324.3,942.1 324.9,939 325.7,936 326.3,936 326.3,939.1 326.2,942.3 326.1,945.5 326,948.7 325.8,951.9 325.6,954.9 325.3,957.8 325,960.4 324.6,962.9 324.1,965.1 323.6,967.1 323.1,969 322.5,970.8 322,972.5 321.5,974.2 321,976 320.5,977.9 320,979.8 319.4,981.7 318.9,983.6 318.4,985.5 317.8,987.5 317.3,989.4 316.8,991.3ZM329.7,1064.9L328.4,1060.5 327,1056.4 325.3,1052.3 323.4,1048.4 321.4,1044.7 319.3,1041.3 317.1,1038 314.8,1035 312.4,1032.2 310,1029.4 307.7,1026.7 305.5,1024 303.4,1021.4 301.3,1019 299.3,1016.6 297.4,1014.5 295.6,1012.5 294,1010.7 292.6,1009.1 291.3,1007.7 289.9,1006.3 288.3,1004.8 286.5,1003.2 284.2,1001.4 281.5,999.4 278.4,997.1 274.9,994.7 271.3,992.2 267.7,989.8 264.1,987.5 260.8,985.5 257.8,983.7 255.1,982.2 252.7,981 250.3,979.9 248.1,979 245.9,978.2 243.8,977.4 241.7,976.8 239.7,976.1 237.8,975.5 235.9,975 234.1,974.7 232.4,974.3 230.7,974 229,973.8 227.2,973.4 225.5,973 225.5,972.4 227.3,972.5 229.1,972.6 230.8,972.7 232.6,972.8 234.4,972.9 236.3,973.2 238.2,973.5 240.3,973.9 242.4,974.4 244.6,974.9 246.8,975.5 249,976.2 251.5,976.9 254,977.9 256.7,979 259.6,980.3 262.8,981.9 266.3,983.8 270.1,985.8 274,988 277.8,990.3 281.4,992.5 284.8,994.6 287.8,996.6 290.2,998.3 292.4,999.9 294.2,1001.5 295.9,1003 297.5,1004.4 299,1006 300.7,1007.7 302.6,1009.5 304.7,1011.6 306.9,1013.9 309.2,1016.3 311.5,1018.8 313.8,1021.3 316.2,1023.9 318.7,1026.4 321.2,1029 324.1,1031.4 327.1,1033.8 330.5,1036.1 334.1,1038.2 337.9,1040.2 341.8,1042 346,1043.7 350.3,1045.1ZM268.2,992.5L266.6,992.5 264.9,992.5 263.3,992.5 261.8,992.4 260.2,992.4 258.7,992.5 257.1,992.5 255.5,992.7 253.7,992.9 251.9,993.2 250.1,993.5 248.2,993.8 246.3,994.2 244.4,994.7 242.5,995.1 240.6,995.6 238.8,996.2 236.9,996.8 235.1,997.4 233.2,998.1 231.3,998.8 229.5,999.5 227.6,1000.2 225.6,1000.8 225.4,1000.2 227.1,999.1 228.8,998.1 230.5,997.1 232.2,996.1 234,995.1 235.8,994.1 237.6,993.2 239.4,992.4 241.3,991.6 243.2,990.8 245.1,990.1 247,989.5 248.9,988.9 250.8,988.3 252.7,987.8 254.5,987.3 256.3,986.9 258.1,986.6 259.8,986.4 261.5,986.2 263.1,986 264.7,985.9 266.2,985.7 267.8,985.5ZM330.8,1076.9L328.2,1074.1 325.5,1071.4 322.7,1068.9 319.9,1066.7 317,1064.6 314.2,1062.8 311.3,1061.2 308.6,1059.9 305.9,1058.7 303.3,1057.7 300.8,1056.8 298.4,1056 296,1055.1 293.7,1054.3 291.4,1053.6 289,1052.9 286.6,1052.2 284.4,1051.5 282.2,1050.9 280.1,1050.4 277.9,1049.8 275.4,1049.3 272.7,1048.8 269.6,1048.3 266,1047.8 261.8,1047.2 257.3,1046.6 252.6,1046 247.9,1045.6 243.5,1045.2 239.4,1045 235.9,1045 233,1045.2 230.4,1045.6 228.1,1046.1 226,1046.7 224,1047.5 222.1,1048.3 220.4,1049.2 218.6,1050 217,1050.9 215.6,1051.9 214.3,1053 213.1,1054.1 212,1055.3 210.8,1056.5 209.6,1057.6 208.2,1058.7 207.8,1058.3 208.8,1056.9 209.9,1055.6 210.9,1054.3 211.9,1053 213,1051.7 214.3,1050.4 215.8,1049.1 217.4,1048 219.1,1046.9 220.9,1045.8 222.8,1044.8 224.8,1043.8 227.1,1042.9 229.6,1042.1 232.5,1041.5 235.7,1041 239.4,1040.7 243.6,1040.6 248.2,1040.6 253,1040.7 257.7,1040.9 262.4,1041.2 266.6,1041.4 270.4,1041.7 273.6,1042 276.6,1042.3 279.2,1042.7 281.7,1043.1 284,1043.6 286.3,1044.1 288.6,1044.6 291,1045.1 293.5,1045.7 296.1,1046.3 298.5,1047 301,1047.7 303.5,1048.4 306,1049.1 308.6,1049.7 311.4,1050.1 314.4,1050.4 317.6,1050.6 321,1050.5 324.5,1050.2 328.1,1049.7 331.7,1049 335.5,1048.1 339.2,1047.1ZM268.7,1048.2L267.9,1046.8 267.1,1045.5 266.2,1044.1 265.3,1042.7 264.4,1041.2 263.5,1039.6 262.7,1037.9 262.1,1036.1 261.6,1034.4 261.3,1032.7 261,1031 260.8,1029.3 260.7,1027.5 260.6,1025.7 260.7,1023.9 260.9,1021.9 261.2,1019.9 261.6,1017.7 262.2,1015.5 262.8,1013.3 263.5,1011.1 264.2,1008.9 264.9,1006.8 265.7,1004.6 266.3,1004.8 266.3,1007 266.1,1009.3 265.8,1011.6 265.5,1013.9 265.3,1016.1 265.2,1018.2 265.1,1020.2 265.1,1022.1 265.2,1023.8 265.4,1025.5 265.7,1027 266,1028.5 266.4,1029.9 266.8,1031.2 267.3,1032.6 267.9,1033.9 268.5,1035.1 269.3,1036.2 270.1,1037.4 271.1,1038.6 272.1,1039.8 273.2,1041.1 274.3,1042.4 275.3,1043.8ZM356,1079L352.1,1080.1 348.3,1081.4 344.6,1082.9 341.1,1084.4 337.7,1086.1 334.5,1087.9 331.5,1089.8 328.7,1091.7 326.1,1093.7 323.7,1095.8 321.5,1097.8 319.3,1099.9 317.1,1101.9 315,1103.9 312.9,1105.9 310.9,1107.8 309,1109.7 307.2,1111.6 305.4,1113.5 303.6,1115.4 301.7,1117.3 299.7,1119.2 297.4,1121.1 294.9,1122.8 292.2,1124.4 289.2,1125.9 286.1,1127.3 283,1128.6 279.9,1129.8 276.8,1131 273.9,1132.2 271.1,1133.3 268.4,1134.6 265.7,1135.8 263,1136.9 260.4,1138.1 257.9,1139.3 255.4,1140.4 253.1,1141.5 250.9,1142.6 248.7,1143.7 246.6,1144.7 244.7,1145.6 242.8,1146.6 241.1,1147.5 239.5,1148.5 238,1149.6 236.7,1150.8 235.5,1152.1 234.5,1153.6 233.5,1155.2 232.7,1156.9 231.9,1158.7 231.1,1160.5 230.3,1162.2 229.3,1163.9 228.7,1163.7 229.3,1161.8 229.9,1160 230.5,1158.2 231.2,1156.3 231.9,1154.4 232.7,1152.6 233.7,1150.9 234.9,1149.2 236.4,1147.7 237.9,1146.4 239.6,1145.1 241.3,1144 243.2,1142.9 245.1,1141.7 247.1,1140.6 249.1,1139.4 251.3,1138.1 253.6,1136.8 256,1135.5 258.5,1134.1 261,1132.8 263.6,1131.4 266.2,1130.1 268.9,1128.7 271.7,1127.2 274.6,1125.8 277.6,1124.4 280.6,1123 283.5,1121.6 286.3,1120.2 288.8,1118.7 291.1,1117.2 293.1,1115.6 294.8,1113.9 296.5,1112.2 298.1,1110.4 299.7,1108.4 301.4,1106.4 303.2,1104.3 305.1,1102.2 307.1,1100.1 309.1,1098 311.1,1095.9 313.1,1093.7 315.2,1091.5 317.2,1089.3 319.3,1086.9 321.3,1084.3 323.2,1081.5 325.1,1078.5 326.9,1075.3 328.6,1071.9 330.1,1068.4 331.6,1064.7 332.9,1060.9 334,1057ZM252.9,1141.6L252.5,1143.4 252,1145.1 251.5,1146.8 251,1148.5 250.5,1150.2 250.1,1151.9 249.6,1153.6 249.2,1155.4 248.9,1157.1 248.5,1159 248.2,1160.9 247.9,1162.8 247.6,1164.7 247.3,1166.7 246.8,1168.5 246.3,1170.3 245.7,1172 245,1173.6 244.3,1175.1 243.5,1176.6 242.7,1178 241.9,1179.4 241.1,1180.7 240.3,1182.1 239.7,1181.9 240.1,1180.3 240.7,1178.8 241.3,1177.3 241.8,1175.8 242.4,1174.3 242.9,1172.8 243.3,1171.3 243.7,1169.7 243.9,1168 244.1,1166.2 244.2,1164.4 244.3,1162.4 244.4,1160.5 244.5,1158.5 244.6,1156.6 244.8,1154.6 245,1152.8 245.3,1150.9 245.6,1149.1 245.9,1147.4 246.2,1145.6 246.5,1143.9 246.8,1142.1 247.1,1140.4ZM300.9,1116.9L300.3,1119.2 299.6,1121.6 298.9,1124 298.2,1126.3 297.5,1128.6 296.9,1130.8 296.4,1133.1 296,1135.3 295.7,1137.6 295.4,1140 295.2,1142.3 295,1144.7 294.9,1147.1 294.9,1149.5 294.9,1152 294.9,1154.4 295,1156.9 295.2,1159.4 295.4,1161.9 295.7,1164.5 296,1167.1 296.3,1169.7 296.6,1172.3 296.7,1174.9 296.1,1175.1 295.3,1172.6 294.6,1170 293.9,1167.5 293.3,1165 292.6,1162.4 292,1159.9 291.5,1157.3 291.1,1154.8 290.8,1152.2 290.5,1149.7 290.2,1147.2 290.1,1144.7 289.9,1142.2 289.9,1139.7 289.9,1137.2 290,1134.7 290.2,1132.1 290.5,1129.6 290.9,1127.1 291.3,1124.7 291.8,1122.2 292.3,1119.8 292.7,1117.5 293.1,1115.1ZM375.7,1069.1L374.1,1072.4 372.6,1075.7 371.3,1079 370.2,1082.3 369.3,1085.6 368.6,1088.7 368.1,1091.7 367.7,1094.6 367.6,1097.4 367.6,1100.1 367.7,1102.6 367.8,1105.1 367.9,1107.6 368,1110 368.1,1112.4 368.1,1114.8 368.1,1117.2 368,1119.4 367.9,1121.5 367.8,1123.4 367.7,1125.3 367.7,1127.2 367.8,1129.2 368,1131.2 368.3,1133.5 368.7,1135.9 369.3,1138.4 369.9,1141 370.6,1143.6 371.3,1146.2 371.9,1148.8 372.6,1151.2 373.2,1153.5 373.8,1155.5 374.4,1157.6 375.1,1159.6 375.7,1161.8 376.3,1164.2 376.8,1166.8 377.3,1169.7 377.6,1173 377.8,1176.5 378,1180.3 378.1,1184.2 378.2,1188.2 378.3,1192.2 378.3,1196.1 378.3,1200 377.7,1200 377.1,1196.2 376.6,1192.3 376.1,1188.3 375.6,1184.3 375.2,1180.5 374.7,1176.8 374.1,1173.4 373.5,1170.3 372.9,1167.6 372.2,1165.3 371.5,1163.1 370.7,1161.2 369.9,1159.2 369.1,1157.2 368.2,1155.1 367.4,1152.8 366.6,1150.4 365.8,1147.9 364.9,1145.3 364,1142.7 363.1,1140.1 362.3,1137.5 361.6,1134.9 361,1132.4 360.6,1129.9 360.4,1127.6 360.2,1125.4 360.2,1123.3 360.1,1121.3 360.1,1119.3 360,1117.3 359.9,1115.2 359.7,1113 359.4,1110.7 359.1,1108.3 358.8,1105.9 358.5,1103.4 358.2,1100.8 357.8,1098.1 357.3,1095.4 356.5,1092.5 355.7,1089.5 354.6,1086.4 353.3,1083.3 351.8,1080.2 350.1,1077 348.3,1073.9 346.3,1070.9ZM377.5,1051.9L379.5,1055.6 381.6,1059.3 383.6,1062.7 385.8,1066 388,1069 390.3,1071.8 392.7,1074.4 395.1,1076.6 397.6,1078.6 400.1,1080.4 402.7,1081.9 405.4,1083.3 408.1,1084.7 410.9,1086 413.8,1087.4 416.8,1088.8 419.8,1090.1 422.8,1091.4 425.7,1092.7 428.8,1094 432.1,1095.4 435.5,1096.9 439.3,1098.6 443.3,1100.5 447.9,1102.6 453,1105 458.5,1107.5 464.1,1110.2 469.7,1112.9 475.1,1115.7 480,1118.3 484.3,1120.8 487.9,1123.3 491.1,1125.7 493.9,1128.1 496.4,1130.4 498.6,1132.6 500.6,1134.8 502.4,1136.9 504.2,1138.9 505.8,1140.8 507.3,1142.6 508.5,1144.4 509.5,1146.1 510.5,1147.7 511.3,1149.3 512.1,1150.9 512.9,1152.5 513.7,1154.1 514.3,1155.7 514.9,1157.3 515.3,1158.8 515.8,1160.3 516.2,1161.8 516.7,1163.3 517.1,1164.9 516.5,1165.1 515.8,1163.7 515.2,1162.2 514.6,1160.8 514,1159.3 513.4,1157.9 512.7,1156.4 511.9,1155 511.1,1153.5 510.2,1152 509.3,1150.5 508.4,1149 507.4,1147.5 506.2,1146 505,1144.5 503.5,1142.8 501.8,1141.1 499.9,1139.3 498,1137.3 495.9,1135.4 493.6,1133.4 491.2,1131.3 488.4,1129.3 485.3,1127.2 481.7,1125.2 477.5,1123 472.6,1120.7 467.2,1118.4 461.5,1116 455.8,1113.7 450.2,1111.5 444.9,1109.4 440.3,1107.5 436.2,1105.9 432.5,1104.5 429,1103.2 425.7,1102 422.5,1100.8 419.4,1099.7 416.3,1098.5 413.2,1097.2 410.1,1096 407.1,1094.7 404.1,1093.5 401.2,1092.3 398.3,1091 395.3,1089.8 392.2,1088.6 388.9,1087.4 385.4,1086.1 381.8,1084.9 378.1,1083.7 374.3,1082.6 370.4,1081.7 366.5,1081 362.5,1080.4 358.5,1080.1ZM444.4,1102.2L444.7,1104.3 445,1106.3 445.4,1108.4 445.8,1110.6 446.1,1112.8 446.4,1115.1 446.6,1117.4 446.6,1119.8 446.7,1121.9 446.7,1124 446.6,1126 446.5,1128.1 446.2,1130.4 445.8,1132.9 445.2,1135.6 444.4,1138.6 443.4,1142 442.1,1145.8 440.5,1149.8 438.9,1154 437.2,1158.3 435.4,1162.5 433.6,1166.8 431.8,1170.8 431.2,1170.6 432.1,1166.3 433.2,1161.8 434.4,1157.3 435.5,1152.9 436.7,1148.6 437.7,1144.5 438.5,1140.7 439.2,1137.4 439.6,1134.5 439.9,1132 440,1129.9 440,1127.9 439.9,1126.1 439.8,1124.2 439.6,1122.3 439.4,1120.2 439.1,1118.2 438.7,1116.3 438.3,1114.3 437.8,1112.3 437.2,1110.2 436.7,1108.1 436.1,1106 435.6,1103.8ZM487.4,1123.1L487.8,1125.1 488.3,1127.1 488.7,1129.1 489.2,1131.2 489.6,1133.3 490.1,1135.4 490.4,1137.5 490.6,1139.6 490.8,1141.8 490.8,1143.8 490.8,1145.8 490.7,1147.8 490.5,1149.8 490.4,1151.8 490.3,1153.8 490.3,1155.9 490.3,1158.1 490.3,1160.4 490.3,1162.8 490.3,1165.2 490.3,1167.7 490.3,1170.1 490.3,1172.6 490.1,1175 489.5,1175 489,1172.6 488.6,1170.2 488.3,1167.8 487.9,1165.4 487.6,1163 487.3,1160.6 487,1158.3 486.7,1156.1 486.5,1153.9 486.4,1151.8 486.3,1149.8 486.2,1147.8 486.1,1145.9 485.9,1144 485.7,1142.2 485.4,1140.4 484.9,1138.5 484.4,1136.6 483.9,1134.7 483.2,1132.8 482.6,1130.9 481.9,1128.9 481.2,1126.9 480.6,1124.9ZM360.5,1043.1L364.4,1042.7 368.2,1042.1 371.9,1041.3 375.6,1040.3 379.2,1039.1 382.6,1037.9 385.9,1036.5 389,1035.2 392,1033.9 394.8,1032.6 397.5,1031.3 400.2,1030.1 402.7,1029 405.2,1028 407.7,1026.9 410.1,1025.9 412.6,1024.9 414.9,1024 417.2,1023.1 419.4,1022.3 421.6,1021.5 423.7,1020.7 425.8,1019.7 428.1,1018.6 430.4,1017.3 432.8,1015.9 435.3,1014.4 437.8,1012.7 440.4,1011 443,1009.3 445.5,1007.5 448.1,1005.6 450.6,1003.7 453.1,1001.8 455.6,999.9 458.1,997.9 460.6,995.9 463.1,993.6 465.7,991.2 468.4,988.6 471.2,985.6 474.2,982.4 477.1,978.9 480.2,975.3 483.3,971.6 486.4,967.9 489.6,964.3 492.7,960.8 493.3,961.2 490.6,965.1 487.9,969.1 485.2,973.1 482.4,977 479.7,980.9 476.9,984.7 474.2,988.2 471.6,991.4 469,994.4 466.5,997.1 464,999.6 461.6,1001.9 459.1,1004.1 456.7,1006.3 454.3,1008.3 451.9,1010.4 449.5,1012.5 446.9,1014.6 444.4,1016.6 441.9,1018.5 439.4,1020.4 436.9,1022.1 434.4,1023.8 431.9,1025.4 429.5,1026.8 427.1,1028.1 424.8,1029.2 422.6,1030.2 420.4,1031.1 418.2,1032 416.1,1033 413.9,1034.1 411.5,1035.3 409.1,1036.5 406.7,1037.7 404.3,1038.9 401.9,1040.1 399.6,1041.5 397.2,1043 395,1044.8 392.8,1046.9 390.7,1049.3 388.6,1052 386.6,1055 384.7,1058.2 382.9,1061.6 381.1,1065.2 379.5,1068.9ZM437.1,1016.2L438.8,1016.8 440.6,1017.5 442.3,1018.1 444.1,1018.8 445.8,1019.4 447.5,1020.1 449.1,1020.7 450.7,1021.3 452.3,1021.9 453.9,1022.4 455.3,1023 456.8,1023.6 458.2,1024.1 459.5,1024.5 460.9,1025 462.2,1025.3 463.5,1025.6 464.9,1025.8 466.2,1025.9 467.5,1026.1 468.9,1026.2 470.2,1026.3 471.6,1026.4 473,1026.7 473,1027.3 471.6,1027.6 470.3,1027.9 469,1028.1 467.6,1028.3 466.2,1028.5 464.8,1028.6 463.3,1028.7 461.8,1028.7 460.2,1028.6 458.7,1028.4 457.1,1028.2 455.6,1027.9 454,1027.6 452.5,1027.3 450.9,1027 449.3,1026.7 447.6,1026.4 445.8,1026.1 444,1025.7 442.2,1025.3 440.3,1025 438.5,1024.6 436.7,1024.2 434.9,1023.8ZM351.4,1047.1L353.8,1045.1 356.1,1043.1 358.3,1040.9 360.4,1038.7 362.3,1036.4 364.1,1034.1 365.7,1031.9 367.2,1029.8 368.6,1027.8 369.9,1026 371,1024.3 372.1,1022.7 373.1,1021.1 374.2,1019.5 375.3,1017.8 376.5,1016 377.8,1014 379.1,1011.8 380.5,1009.6 381.9,1007.3 383.5,1004.9 385.2,1002.4 386.9,999.8 388.9,997.2 391,994.5 393.3,991.7 395.8,988.9 398.4,985.9 401,983 403.5,980.2 406,977.5 408.4,974.9 410.6,972.4 412.8,970.1 414.9,967.9 417,965.7 419.1,963.6 421.2,961.4 423.3,959.3 425.4,957.2 426,957.6 424.2,960.1 422.3,962.5 420.5,964.8 418.7,967.2 416.8,969.5 414.9,972 413,974.5 411,977.1 409,979.9 406.7,982.9 404.5,985.9 402.2,989 399.9,992.1 397.7,995.1 395.7,998 393.9,1000.8 392.3,1003.4 390.8,1005.9 389.4,1008.4 388.2,1010.8 386.9,1013.2 385.8,1015.6 384.6,1017.8 383.5,1020 382.3,1022.1 381.3,1023.9 380.4,1025.6 379.5,1027.2 378.7,1028.7 378,1030.4 377.3,1032.2 376.8,1034.2 376.3,1036.5 375.9,1039 375.7,1041.7 375.6,1044.6 375.7,1047.6 375.9,1050.6 376.2,1053.8 376.6,1056.9ZM392.5,1000L394.1,1000.4 395.7,1000.7 397.3,1001.1 398.9,1001.5 400.5,1001.8 402.1,1002.2 403.7,1002.5 405.3,1002.8 406.9,1003.1 408.5,1003.4 410.2,1003.7 411.8,1004 413.4,1004.2 415,1004.4 416.5,1004.6 417.9,1004.6 419.3,1004.6 420.7,1004.6 422.1,1004.5 423.4,1004.3 424.8,1004.1 426.1,1003.9 427.5,1003.7 428.9,1003.7 429.1,1004.3 427.8,1004.8 426.4,1005.2 425.1,1005.7 423.8,1006.1 422.5,1006.5 421.1,1006.8 419.6,1007.1 418.1,1007.4 416.5,1007.5 414.8,1007.6 413.2,1007.6 411.5,1007.5 409.8,1007.5 408.1,1007.4 406.4,1007.3 404.7,1007.2 403.1,1007.1 401.4,1007 399.7,1006.8 398.1,1006.6 396.4,1006.5 394.8,1006.3 393.2,1006.1 391.5,1006Z" fill="#d98f2b"/><ellipse cx="359.4" cy="1060.8" rx="20" ry="14" transform="rotate(-5 359.4 1060.8)" fill="#b0541d"/><ellipse cx="360.5" cy="1063" rx="5.5" ry="4.5" fill="#8a300e"/><use href="#rec" transform="translate(343 1094) rotate(20) scale(-0.95 0.95)"/><g transform="translate(510 1041.5) rotate(95.6) scale(0.660 0.720) translate(-695 -1335)"><g transform="translate(1466 0) scale(-1 1)"><g stroke="#265a9c" stroke-width="3.2"><line x1="705" y1="1335" x2="705" y2="1360"/><line x1="725.8" y1="1335" x2="725.8" y2="1360"/></g><line x1="705" y1="1353" x2="725.8" y2="1353" stroke="#5a86c0" stroke-width="1.2"/><rect x="696.8" y="1359" width="16.2" height="24" rx="2.5" fill="#86a8d1" stroke="#5c88c0" stroke-width="1"/><path d="M696.8,1382 h16.2 v24 l-5,-1.5 l-3,2.5 l-3,-2.5 l-5.2,1.5Z" fill="#86a8d1" stroke="#5c88c0" stroke-width="1" stroke-linejoin="round"/><rect x="717.7" y="1359" width="16.2" height="24" rx="2.5" fill="#86a8d1" stroke="#5c88c0" stroke-width="1"/><path d="M717.7,1382 h16.2 v24 l-5,-1.5 l-3,2.5 l-3,-2.5 l-5.2,1.5Z" fill="#86a8d1" stroke="#5c88c0" stroke-width="1" stroke-linejoin="round"/><g stroke="#c03a62" stroke-width="4"><line x1="704.4" y1="1454" x2="704.4" y2="1473"/><line x1="725.3" y1="1454" x2="725.3" y2="1473"/></g><path d="M695,1416 Q695,1413 698,1413 Q702,1413 703,1417 Q705,1423 710,1426 Q713,1428 713,1432 V1454.7 H695Z" fill="#e8889e" stroke="#d25474" stroke-width="1"/><path d="M734.8,1416 Q734.8,1413 731.8,1413 Q727.8,1413 726.8,1417 Q724.8,1423 719.8,1426 Q716.8,1428 716.8,1432 V1454.7 H734.8Z" fill="#e8889e" stroke="#d25474" stroke-width="1"/><line x1="745.9" y1="1333" x2="745.9" y2="1430" stroke="#5c3a7a" stroke-width="1.8"/><rect x="740.5" y="1371" width="11" height="18.5" rx="2" fill="#8a689f" stroke="#7a588f" stroke-width="0.8"/><rect x="740.5" y="1391" width="11" height="23" rx="2" fill="#8a689f" stroke="#7a588f" stroke-width="0.8"/><rect x="740" y="1425" width="10.5" height="20" rx="2" fill="#8a689f" stroke="#7a588f" stroke-width="0.8"/><path d="M738,1446 h12 l-1,22 l-14.5,-1Z" fill="#8a689f" stroke="#7a588f" stroke-width="0.8" stroke-linejoin="round"/><g stroke="#0e8e96" stroke-width="1.2"><line x1="760" y1="1335" x2="760" y2="1470"/><line x1="763.5" y1="1335" x2="763.5" y2="1473"/><line x1="767" y1="1335" x2="767" y2="1470"/></g><rect x="756.4" y="1360" width="14.2" height="13" rx="3.5" fill="#0e8e96" stroke="#0a7a84" stroke-width="0.8"/><rect x="756.4" y="1372.5" width="14.2" height="13" rx="3.5" fill="#0e8e96" stroke="#0a7a84" stroke-width="0.8"/><rect x="756.4" y="1385" width="14.2" height="13" rx="3.5" fill="#0e8e96" stroke="#0a7a84" stroke-width="0.8"/><rect x="756.4" y="1397.5" width="14.2" height="13" rx="3.5" fill="#0e8e96" stroke="#0a7a84" stroke-width="0.8"/><rect x="756.4" y="1410" width="14.2" height="13" rx="3.5" fill="#0e8e96" stroke="#0a7a84" stroke-width="0.8"/><rect x="758" y="1447" width="11.5" height="25" rx="2.5" fill="#0e8e96" stroke="#0a7a84" stroke-width="0.8"/><ellipse cx="715" cy="1413" rx="7.5" ry="5.5" fill="#fff"/><ellipse cx="715" cy="1413" rx="6" ry="4.2" fill="#d2691e" stroke="#5a2a0a" stroke-width="1.3"/></g></g><path d="M1330.4,951L1332.9,952 1335.2,953.5 1337.2,955.3 1339.1,957.4 1341,959.6 1343,961.8 1345.2,964 1347.5,966.4 1349.7,968.9 1352,971.5 1354.1,974.2 1356,977 1357.8,979.9 1359.6,982.9 1361.3,986.1 1362.8,989.3 1364,992.6 1364.7,996 1365,999.5 1364.8,1003.3 1364.4,1007.1 1363.7,1010.9 1362.9,1014.5 1362,1018 1361.2,1021.3 1360.3,1024.5 1359.2,1027.6 1358,1030.5 1356.4,1033.3 1354.4,1036 1351.9,1038.5 1348.9,1041 1345.6,1043.2 1342.1,1045.4 1338.5,1047.3 1335,1049 1331.4,1050.5 1327.6,1052 1323.7,1053.2 1319.8,1054.1 1316.2,1054.8 1313,1055 1310.2,1054.7 1307.6,1054 1305.2,1053 1303.1,1051.7 1301,1050.3 1299,1049 1297.1,1047.7 1295.3,1046.5 1293.6,1045.2 1292,1043.6 1290.5,1041.8 1289,1039.6 1287.5,1036.9 1286,1033.8 1284.6,1030.5 1283.2,1026.9 1282,1023.4 1281,1020 1280.2,1016.7 1279.4,1013.5 1278.9,1010.3 1278.4,1007 1278.2,1003.6 1278,1000 1277.9,996 1277.9,991.8 1278.1,987.3 1278.4,983 1279,979 1280,975.5 1281.4,972.6 1283,970 1285,967.8 1287.2,965.8 1289.5,963.9 1292,962 1294.6,960.2 1297.5,958.4 1300.5,956.8 1303.6,955.3 1306.8,954 1310,953 1313.4,952.1 1316.9,951.3 1320.5,950.8 1324.1,950.5 1327.4,950.5ZM1308.2,983L1310.5,979.3 1312.8,975.6 1315,972.1 1316.9,968.6 1318.6,965.1 1319.9,961.7 1321,958.3 1321.6,955 1322,951.5 1322.1,948.1 1322,944.6 1321.7,941.3 1321.2,938.1 1320.6,935 1319.7,932.1 1318.6,929.4 1317.3,926.9 1315.8,924.5 1314,922.1 1312,919.8 1309.8,917.6 1307.4,915.4 1304.9,913.2 1302.4,911 1299.8,908.9 1296.9,907 1293.8,905 1290.5,903.1 1287.2,901.2 1283.9,899.2 1280.6,897.1 1277.5,894.9 1274.5,892.6 1271.5,890.3 1268.6,887.8 1265.7,885.4 1262.9,882.8 1260.2,880.3 1257.7,877.8 1255.4,875.3 1253.4,872.7 1251.6,870 1250.1,867.4 1248.7,864.8 1247.4,862.4 1246.1,860.1 1244.7,858 1243.2,856.1 1241.4,854.5 1239.5,853.1 1237.5,851.7 1235.4,850.5 1233.2,849.3 1231,848.1 1228.8,846.8 1226.7,845.3 1227.3,844.3 1229.6,845.2 1231.9,846.2 1234.2,847.2 1236.5,848.2 1238.8,849.3 1241.1,850.6 1243.3,852.1 1245.4,853.9 1247.4,855.9 1249,858.2 1250.6,860.5 1252,863 1253.4,865.5 1255,867.9 1256.6,870.2 1258.6,872.5 1260.8,874.7 1263.3,877.1 1266,879.4 1268.7,881.7 1271.6,884 1274.6,886.3 1277.6,888.5 1280.5,890.7 1283.5,892.7 1286.7,894.5 1290,896.4 1293.3,898.2 1296.7,900 1300,902 1303.2,904 1306.2,906.2 1308.9,908.4 1311.6,910.7 1314.2,913 1316.6,915.4 1319,917.9 1321.1,920.6 1323.1,923.5 1324.8,926.6 1326.1,929.8 1327.2,933.3 1328.1,936.8 1328.7,940.4 1329.1,944 1329.5,947.7 1329.9,951.3 1330.4,955 1330.8,958.9 1331.2,962.9 1331.7,967 1332.2,971.1 1332.8,975.2 1333.6,979.2 1334.6,983.1 1335.8,987ZM1324.5,984.6L1326.8,980.2 1328.8,975.8 1330.6,971.3 1332,966.9 1333.1,962.5 1333.8,958.2 1334.2,953.9 1334.3,949.7 1334.3,945.6 1334.2,941.5 1334,937.4 1333.8,933.4 1333.6,929.4 1333.5,925.5 1333.5,921.6 1333.7,917.9 1334.1,914.2 1334.7,910.6 1335.4,907.2 1336.1,903.8 1336.9,900.6 1337.7,897.7 1338.5,894.9 1339.2,892.4 1339.9,890.2 1340.6,888.3 1341.3,886.6 1341.9,885.2 1342.6,883.8 1343.3,882.5 1344,881.2 1344.8,879.8 1346,880.2 1345.6,881.8 1345.2,883.3 1344.7,884.7 1344.2,886.1 1343.7,887.5 1343.2,889.2 1342.7,891 1342.2,893.2 1341.7,895.7 1341.1,898.5 1340.5,901.5 1339.9,904.6 1339.3,907.9 1338.8,911.3 1338.5,914.7 1338.3,918.1 1338.2,921.6 1338.4,925.3 1338.6,929.1 1339,933 1339.3,937.1 1339.7,941.2 1340,945.4 1340.1,949.7 1340.2,954 1340.4,958.4 1340.8,962.8 1341.5,967.3 1342.5,971.9 1343.9,976.4 1345.5,980.9 1347.5,985.4ZM1323.6,983.5L1327.8,981.2 1331.7,978.6 1335.2,975.7 1338.4,972.5 1341.3,969.1 1344,965.7 1346.4,962.2 1348.9,958.8 1351.5,955.7 1354.2,952.8 1357.1,950 1360,947.3 1363,944.9 1366.1,942.5 1369.1,940.4 1372.3,938.4 1375.5,936.6 1378.8,935.1 1382.1,934 1385.3,932.9 1388.5,931.9 1391.7,930.9 1394.8,929.8 1397.8,928.5 1400.9,926.8 1404,925 1407.2,922.9 1410.4,920.7 1413.7,918.6 1417,916.6 1420.4,914.8 1423.7,913.2 1427.1,912.1 1430.4,911.2 1433.6,910.6 1436.9,910.1 1440,909.7 1443.2,909.3 1446.4,908.9 1449.6,908.7 1449.8,909.9 1446.7,910.9 1443.6,911.7 1440.5,912.3 1437.4,913 1434.3,913.7 1431.3,914.5 1428.2,915.5 1425.3,916.8 1422.3,918.3 1419.2,920.2 1416.2,922.3 1413,924.5 1409.9,926.8 1406.7,929.1 1403.5,931.2 1400.2,933.1 1396.9,934.7 1393.6,936.1 1390.3,937.3 1387.1,938.4 1384.1,939.5 1381.1,940.6 1378.3,942 1375.5,943.6 1372.7,945.6 1369.9,947.7 1367.1,949.9 1364.4,952.3 1361.8,954.8 1359.2,957.5 1356.8,960.3 1354.5,963.2 1352.4,966.2 1350.7,969.6 1349.3,973.3 1348.4,977.4 1348,981.8 1347.9,986.5 1348,991.4 1348.4,996.5ZM1411.1,916.9L1411.8,915.7 1412.5,914.5 1413.1,913.4 1413.8,912.2 1414.4,911.1 1415,909.9 1415.6,908.7 1416.1,907.4 1416.7,905.9 1417.2,904.4 1417.7,902.8 1418.2,901.1 1418.7,899.4 1419.3,897.6 1419.9,895.9 1420.7,894.3 1421.9,894.5 1421.9,896.4 1421.7,898.2 1421.5,900 1421.3,901.8 1421,903.6 1420.7,905.3 1420.3,907 1419.9,908.6 1419.4,910.2 1418.9,911.6 1418.4,912.9 1417.8,914.2 1417.3,915.5 1416.7,916.7 1416.2,917.8 1415.7,919.1ZM1345.6,999.8L1346.3,1005 1347.5,1009.8 1349.1,1014.1 1351.1,1017.9 1353.5,1021.3 1356.4,1024.2 1359.3,1027.1 1362.3,1029.9 1365.3,1032.7 1368.4,1035.6 1371.4,1038.5 1374.5,1041.3 1377.5,1044.1 1380.5,1046.8 1383.4,1049.3 1386.2,1051.6 1388.9,1053.8 1391.6,1056 1394.1,1057.9 1396.6,1059.8 1399,1061.5 1401.5,1063 1404,1064.4 1406.6,1065.6 1409.3,1066.5 1412.1,1067.2 1414.9,1067.7 1417.9,1068.1 1420.9,1068.5 1424,1068.8 1427.1,1069.2 1430.1,1070 1429.9,1071.2 1426.9,1071.3 1423.8,1071.3 1420.8,1071.3 1417.7,1071.3 1414.5,1071.1 1411.4,1070.8 1408.3,1070.3 1405.2,1069.4 1402.2,1068.3 1399.4,1067 1396.6,1065.5 1393.9,1063.8 1391.2,1062 1388.5,1060.1 1385.7,1058.1 1382.8,1056 1379.8,1053.7 1376.7,1051.2 1373.5,1048.7 1370.4,1046 1367.2,1043.2 1364,1040.4 1360.8,1037.7 1357.7,1034.9 1354.6,1032.2 1351.5,1029.5 1348.4,1026.8 1344.9,1024.6 1340.9,1022.8 1336.5,1021.5 1331.7,1020.6 1326.4,1020.2ZM1402.3,1064L1403.2,1066.4 1404.2,1068.8 1405.2,1071.3 1406.3,1073.7 1407.2,1076.2 1408.1,1078.7 1408.8,1081.2 1409.2,1083.7 1409.4,1086.1 1409.3,1088.4 1409,1090.7 1408.6,1092.8 1408.1,1094.9 1407.6,1097 1407.1,1099 1406.5,1101.1 1405.3,1100.9 1405.2,1098.8 1405.3,1096.6 1405.6,1094.5 1405.8,1092.4 1406,1090.4 1406,1088.3 1405.9,1086.3 1405.6,1084.3 1405,1082.2 1404.3,1080 1403.3,1077.8 1402.3,1075.5 1401.1,1073.2 1399.9,1070.8 1398.8,1068.3 1397.7,1066ZM1336.2,1019.8L1333.5,1024.3 1331.1,1028.8 1329.1,1033.2 1327.6,1037.5 1326.6,1041.8 1326.1,1046 1326.3,1050.2 1326.7,1054.4 1327.4,1058.6 1328.2,1062.8 1329.2,1066.9 1330.3,1071.1 1331.5,1075.3 1332.8,1079.8 1334.2,1084.5 1335.7,1089.4 1337.3,1094.9 1339,1100.8 1340.9,1107.1 1342.9,1113.5 1344.8,1119.7 1346.7,1125.5 1348.5,1130.8 1350.1,1135.1 1351.4,1138.6 1352.7,1141.3 1353.8,1143.4 1354.8,1145.1 1355.9,1146.7 1357,1148.2 1358.2,1150 1359.5,1152 1360.8,1154.2 1362.2,1156.4 1363.6,1158.6 1365,1160.9 1366.5,1163.1 1367.9,1165.4 1369.3,1167.7 1370.5,1170.1 1369.5,1170.7 1367.7,1168.8 1366,1166.7 1364.4,1164.6 1362.7,1162.5 1361.1,1160.4 1359.5,1158.2 1358,1156.1 1356.5,1154 1355.2,1152.1 1353.9,1150.5 1352.7,1149 1351.5,1147.4 1350.2,1145.5 1348.8,1143.2 1347.4,1140.4 1345.7,1136.9 1343.9,1132.4 1341.9,1127.2 1339.8,1121.4 1337.6,1115.2 1335.4,1108.9 1333.3,1102.7 1331.3,1096.7 1329.5,1091.4 1327.9,1086.5 1326.4,1081.8 1324.9,1077.4 1323.5,1073 1322.2,1068.7 1321.1,1064.4 1320.1,1060 1319.3,1055.6 1318.6,1051 1318.2,1046.4 1317.4,1041.9 1316.4,1037.5 1314.9,1033 1313,1028.7 1310.7,1024.4 1307.8,1020.2ZM1329.4,1023.9L1325.3,1027.2 1321.6,1030.7 1318.5,1034.4 1315.9,1038.3 1313.8,1042.3 1312.2,1046.4 1310.8,1050.7 1309.3,1054.9 1307.7,1059.3 1306.1,1063.8 1304.4,1068.5 1302.6,1073.2 1300.9,1077.7 1299.1,1081.9 1297.3,1085.6 1295.4,1088.9 1293.6,1091.5 1291.7,1093.5 1289.7,1095 1287.8,1096.1 1286.1,1096.9 1284.4,1097.6 1282.9,1098.3 1281.3,1099.1 1279.6,1100.2 1277.9,1101.1 1276.2,1102 1274.5,1102.8 1272.7,1103.7 1270.9,1104.8 1268.9,1105.9 1266.7,1107.4 1264.2,1109.1 1261.5,1111.1 1258.6,1113.2 1255.6,1115.5 1252.5,1117.9 1249.3,1120.2 1246.2,1122.5 1243,1124.5 1242.2,1123.5 1244.8,1120.8 1247.7,1118.2 1250.6,1115.6 1253.5,1113 1256.4,1110.5 1259.2,1108.1 1261.8,1105.9 1264.3,1104 1266.5,1102.4 1268.6,1101 1270.5,1099.8 1272.3,1098.8 1273.9,1097.8 1275.5,1096.9 1277,1096 1278.7,1094.9 1280.5,1093.8 1282.3,1092.9 1283.9,1092.1 1285.3,1091.4 1286.6,1090.6 1287.9,1089.5 1289.2,1088 1290.6,1085.9 1292,1083.1 1293.6,1079.5 1295.2,1075.4 1296.7,1071 1298.3,1066.4 1299.8,1061.7 1301.3,1057.1 1302.7,1052.7 1304,1048.5 1305.3,1044.3 1306.1,1040 1306.4,1035.6 1306.2,1031 1305.5,1026.2 1304.3,1021.2 1302.6,1016.1ZM1291.4,1092.8L1290.4,1095.6 1289.4,1098.5 1288.3,1101.4 1287.3,1104.3 1286.3,1107.1 1285.3,1109.9 1284.5,1112.6 1283.8,1115.2 1283.2,1117.7 1282.8,1120.2 1282.4,1122.6 1282.1,1125 1281.8,1127.4 1281.6,1129.9 1281.2,1132.3 1280.6,1134.8 1279.4,1134.6 1279.2,1132.2 1279.2,1129.7 1279.2,1127.3 1279.3,1124.8 1279.3,1122.3 1279.5,1119.8 1279.8,1117.1 1280.2,1114.4 1280.8,1111.6 1281.5,1108.7 1282.3,1105.8 1283.1,1102.9 1284,1100 1284.9,1097 1285.8,1094.1 1286.6,1091.2ZM1313.4,1018.6L1309,1016.3 1304.8,1014.5 1300.8,1013.2 1297,1012.4 1293.2,1012.2 1289.5,1012.6 1285.7,1013.4 1281.7,1014.5 1277.4,1015.7 1272.8,1017.1 1268,1018.6 1263.1,1020.2 1258.2,1021.8 1253.5,1023.3 1249,1024.7 1244.9,1025.9 1241.3,1027 1237.9,1028 1234.8,1028.8 1231.8,1029.6 1229,1030.4 1226.3,1031.1 1223.5,1031.8 1220.7,1032.5 1218.1,1033.3 1215.6,1034 1213.3,1034.7 1210.9,1035.4 1208.3,1036.1 1205.5,1036.7 1202.3,1037.3 1198.6,1037.7 1194.5,1038 1189.8,1038.2 1184.9,1038.2 1179.7,1038.2 1174.4,1038.2 1169.1,1038.1 1163.8,1038 1158.7,1037.6 1158.7,1036.4 1163.8,1035.7 1169,1035.4 1174.4,1035.1 1179.6,1034.8 1184.8,1034.5 1189.6,1034.2 1194.1,1033.8 1198.2,1033.3 1201.6,1032.8 1204.5,1032.1 1207.1,1031.5 1209.5,1030.7 1211.7,1030 1214.1,1029.2 1216.5,1028.3 1219.3,1027.5 1222.1,1026.6 1224.8,1025.8 1227.5,1025 1230.3,1024.2 1233.1,1023.3 1236.2,1022.3 1239.5,1021.2 1243.1,1020.1 1247.1,1018.7 1251.4,1017.2 1256.1,1015.5 1260.9,1013.8 1265.8,1012.1 1270.7,1010.4 1275.3,1008.9 1279.7,1007.5 1283.8,1006.3 1287.6,1005.2 1291.2,1003.8 1294.6,1001.9 1297.8,999.6 1300.9,996.8 1303.8,993.4 1306.6,989.4ZM1223.9,1031.6L1222.4,1033.4 1220.8,1035.2 1219.2,1037 1217.7,1038.8 1216.1,1040.6 1214.6,1042.4 1213,1044.3 1211.5,1046.1 1210.1,1048 1208.6,1050 1207.1,1051.9 1205.7,1053.9 1204.2,1055.9 1202.7,1057.9 1201.2,1059.9 1199.5,1061.7 1198.5,1061.1 1199.5,1058.8 1200.7,1056.6 1201.9,1054.4 1203.2,1052.3 1204.5,1050.2 1205.8,1048 1207.1,1045.9 1208.5,1043.9 1209.9,1041.9 1211.3,1039.9 1212.7,1037.9 1214.2,1036 1215.7,1034.1 1217.1,1032.2 1218.6,1030.3 1220.1,1028.4Z" fill="#1d6a4b" stroke="#1d6a4b" stroke-width="3.8" stroke-linejoin="round"/><path d="M1330.4,951L1332.9,952 1335.2,953.5 1337.2,955.3 1339.1,957.4 1341,959.6 1343,961.8 1345.2,964 1347.5,966.4 1349.7,968.9 1352,971.5 1354.1,974.2 1356,977 1357.8,979.9 1359.6,982.9 1361.3,986.1 1362.8,989.3 1364,992.6 1364.7,996 1365,999.5 1364.8,1003.3 1364.4,1007.1 1363.7,1010.9 1362.9,1014.5 1362,1018 1361.2,1021.3 1360.3,1024.5 1359.2,1027.6 1358,1030.5 1356.4,1033.3 1354.4,1036 1351.9,1038.5 1348.9,1041 1345.6,1043.2 1342.1,1045.4 1338.5,1047.3 1335,1049 1331.4,1050.5 1327.6,1052 1323.7,1053.2 1319.8,1054.1 1316.2,1054.8 1313,1055 1310.2,1054.7 1307.6,1054 1305.2,1053 1303.1,1051.7 1301,1050.3 1299,1049 1297.1,1047.7 1295.3,1046.5 1293.6,1045.2 1292,1043.6 1290.5,1041.8 1289,1039.6 1287.5,1036.9 1286,1033.8 1284.6,1030.5 1283.2,1026.9 1282,1023.4 1281,1020 1280.2,1016.7 1279.4,1013.5 1278.9,1010.3 1278.4,1007 1278.2,1003.6 1278,1000 1277.9,996 1277.9,991.8 1278.1,987.3 1278.4,983 1279,979 1280,975.5 1281.4,972.6 1283,970 1285,967.8 1287.2,965.8 1289.5,963.9 1292,962 1294.6,960.2 1297.5,958.4 1300.5,956.8 1303.6,955.3 1306.8,954 1310,953 1313.4,952.1 1316.9,951.3 1320.5,950.8 1324.1,950.5 1327.4,950.5ZM1308.2,983L1310.5,979.3 1312.8,975.6 1315,972.1 1316.9,968.6 1318.6,965.1 1319.9,961.7 1321,958.3 1321.6,955 1322,951.5 1322.1,948.1 1322,944.6 1321.7,941.3 1321.2,938.1 1320.6,935 1319.7,932.1 1318.6,929.4 1317.3,926.9 1315.8,924.5 1314,922.1 1312,919.8 1309.8,917.6 1307.4,915.4 1304.9,913.2 1302.4,911 1299.8,908.9 1296.9,907 1293.8,905 1290.5,903.1 1287.2,901.2 1283.9,899.2 1280.6,897.1 1277.5,894.9 1274.5,892.6 1271.5,890.3 1268.6,887.8 1265.7,885.4 1262.9,882.8 1260.2,880.3 1257.7,877.8 1255.4,875.3 1253.4,872.7 1251.6,870 1250.1,867.4 1248.7,864.8 1247.4,862.4 1246.1,860.1 1244.7,858 1243.2,856.1 1241.4,854.5 1239.5,853.1 1237.5,851.7 1235.4,850.5 1233.2,849.3 1231,848.1 1228.8,846.8 1226.7,845.3 1227.3,844.3 1229.6,845.2 1231.9,846.2 1234.2,847.2 1236.5,848.2 1238.8,849.3 1241.1,850.6 1243.3,852.1 1245.4,853.9 1247.4,855.9 1249,858.2 1250.6,860.5 1252,863 1253.4,865.5 1255,867.9 1256.6,870.2 1258.6,872.5 1260.8,874.7 1263.3,877.1 1266,879.4 1268.7,881.7 1271.6,884 1274.6,886.3 1277.6,888.5 1280.5,890.7 1283.5,892.7 1286.7,894.5 1290,896.4 1293.3,898.2 1296.7,900 1300,902 1303.2,904 1306.2,906.2 1308.9,908.4 1311.6,910.7 1314.2,913 1316.6,915.4 1319,917.9 1321.1,920.6 1323.1,923.5 1324.8,926.6 1326.1,929.8 1327.2,933.3 1328.1,936.8 1328.7,940.4 1329.1,944 1329.5,947.7 1329.9,951.3 1330.4,955 1330.8,958.9 1331.2,962.9 1331.7,967 1332.2,971.1 1332.8,975.2 1333.6,979.2 1334.6,983.1 1335.8,987ZM1324.5,984.6L1326.8,980.2 1328.8,975.8 1330.6,971.3 1332,966.9 1333.1,962.5 1333.8,958.2 1334.2,953.9 1334.3,949.7 1334.3,945.6 1334.2,941.5 1334,937.4 1333.8,933.4 1333.6,929.4 1333.5,925.5 1333.5,921.6 1333.7,917.9 1334.1,914.2 1334.7,910.6 1335.4,907.2 1336.1,903.8 1336.9,900.6 1337.7,897.7 1338.5,894.9 1339.2,892.4 1339.9,890.2 1340.6,888.3 1341.3,886.6 1341.9,885.2 1342.6,883.8 1343.3,882.5 1344,881.2 1344.8,879.8 1346,880.2 1345.6,881.8 1345.2,883.3 1344.7,884.7 1344.2,886.1 1343.7,887.5 1343.2,889.2 1342.7,891 1342.2,893.2 1341.7,895.7 1341.1,898.5 1340.5,901.5 1339.9,904.6 1339.3,907.9 1338.8,911.3 1338.5,914.7 1338.3,918.1 1338.2,921.6 1338.4,925.3 1338.6,929.1 1339,933 1339.3,937.1 1339.7,941.2 1340,945.4 1340.1,949.7 1340.2,954 1340.4,958.4 1340.8,962.8 1341.5,967.3 1342.5,971.9 1343.9,976.4 1345.5,980.9 1347.5,985.4ZM1323.6,983.5L1327.8,981.2 1331.7,978.6 1335.2,975.7 1338.4,972.5 1341.3,969.1 1344,965.7 1346.4,962.2 1348.9,958.8 1351.5,955.7 1354.2,952.8 1357.1,950 1360,947.3 1363,944.9 1366.1,942.5 1369.1,940.4 1372.3,938.4 1375.5,936.6 1378.8,935.1 1382.1,934 1385.3,932.9 1388.5,931.9 1391.7,930.9 1394.8,929.8 1397.8,928.5 1400.9,926.8 1404,925 1407.2,922.9 1410.4,920.7 1413.7,918.6 1417,916.6 1420.4,914.8 1423.7,913.2 1427.1,912.1 1430.4,911.2 1433.6,910.6 1436.9,910.1 1440,909.7 1443.2,909.3 1446.4,908.9 1449.6,908.7 1449.8,909.9 1446.7,910.9 1443.6,911.7 1440.5,912.3 1437.4,913 1434.3,913.7 1431.3,914.5 1428.2,915.5 1425.3,916.8 1422.3,918.3 1419.2,920.2 1416.2,922.3 1413,924.5 1409.9,926.8 1406.7,929.1 1403.5,931.2 1400.2,933.1 1396.9,934.7 1393.6,936.1 1390.3,937.3 1387.1,938.4 1384.1,939.5 1381.1,940.6 1378.3,942 1375.5,943.6 1372.7,945.6 1369.9,947.7 1367.1,949.9 1364.4,952.3 1361.8,954.8 1359.2,957.5 1356.8,960.3 1354.5,963.2 1352.4,966.2 1350.7,969.6 1349.3,973.3 1348.4,977.4 1348,981.8 1347.9,986.5 1348,991.4 1348.4,996.5ZM1411.1,916.9L1411.8,915.7 1412.5,914.5 1413.1,913.4 1413.8,912.2 1414.4,911.1 1415,909.9 1415.6,908.7 1416.1,907.4 1416.7,905.9 1417.2,904.4 1417.7,902.8 1418.2,901.1 1418.7,899.4 1419.3,897.6 1419.9,895.9 1420.7,894.3 1421.9,894.5 1421.9,896.4 1421.7,898.2 1421.5,900 1421.3,901.8 1421,903.6 1420.7,905.3 1420.3,907 1419.9,908.6 1419.4,910.2 1418.9,911.6 1418.4,912.9 1417.8,914.2 1417.3,915.5 1416.7,916.7 1416.2,917.8 1415.7,919.1ZM1345.6,999.8L1346.3,1005 1347.5,1009.8 1349.1,1014.1 1351.1,1017.9 1353.5,1021.3 1356.4,1024.2 1359.3,1027.1 1362.3,1029.9 1365.3,1032.7 1368.4,1035.6 1371.4,1038.5 1374.5,1041.3 1377.5,1044.1 1380.5,1046.8 1383.4,1049.3 1386.2,1051.6 1388.9,1053.8 1391.6,1056 1394.1,1057.9 1396.6,1059.8 1399,1061.5 1401.5,1063 1404,1064.4 1406.6,1065.6 1409.3,1066.5 1412.1,1067.2 1414.9,1067.7 1417.9,1068.1 1420.9,1068.5 1424,1068.8 1427.1,1069.2 1430.1,1070 1429.9,1071.2 1426.9,1071.3 1423.8,1071.3 1420.8,1071.3 1417.7,1071.3 1414.5,1071.1 1411.4,1070.8 1408.3,1070.3 1405.2,1069.4 1402.2,1068.3 1399.4,1067 1396.6,1065.5 1393.9,1063.8 1391.2,1062 1388.5,1060.1 1385.7,1058.1 1382.8,1056 1379.8,1053.7 1376.7,1051.2 1373.5,1048.7 1370.4,1046 1367.2,1043.2 1364,1040.4 1360.8,1037.7 1357.7,1034.9 1354.6,1032.2 1351.5,1029.5 1348.4,1026.8 1344.9,1024.6 1340.9,1022.8 1336.5,1021.5 1331.7,1020.6 1326.4,1020.2ZM1402.3,1064L1403.2,1066.4 1404.2,1068.8 1405.2,1071.3 1406.3,1073.7 1407.2,1076.2 1408.1,1078.7 1408.8,1081.2 1409.2,1083.7 1409.4,1086.1 1409.3,1088.4 1409,1090.7 1408.6,1092.8 1408.1,1094.9 1407.6,1097 1407.1,1099 1406.5,1101.1 1405.3,1100.9 1405.2,1098.8 1405.3,1096.6 1405.6,1094.5 1405.8,1092.4 1406,1090.4 1406,1088.3 1405.9,1086.3 1405.6,1084.3 1405,1082.2 1404.3,1080 1403.3,1077.8 1402.3,1075.5 1401.1,1073.2 1399.9,1070.8 1398.8,1068.3 1397.7,1066ZM1336.2,1019.8L1333.5,1024.3 1331.1,1028.8 1329.1,1033.2 1327.6,1037.5 1326.6,1041.8 1326.1,1046 1326.3,1050.2 1326.7,1054.4 1327.4,1058.6 1328.2,1062.8 1329.2,1066.9 1330.3,1071.1 1331.5,1075.3 1332.8,1079.8 1334.2,1084.5 1335.7,1089.4 1337.3,1094.9 1339,1100.8 1340.9,1107.1 1342.9,1113.5 1344.8,1119.7 1346.7,1125.5 1348.5,1130.8 1350.1,1135.1 1351.4,1138.6 1352.7,1141.3 1353.8,1143.4 1354.8,1145.1 1355.9,1146.7 1357,1148.2 1358.2,1150 1359.5,1152 1360.8,1154.2 1362.2,1156.4 1363.6,1158.6 1365,1160.9 1366.5,1163.1 1367.9,1165.4 1369.3,1167.7 1370.5,1170.1 1369.5,1170.7 1367.7,1168.8 1366,1166.7 1364.4,1164.6 1362.7,1162.5 1361.1,1160.4 1359.5,1158.2 1358,1156.1 1356.5,1154 1355.2,1152.1 1353.9,1150.5 1352.7,1149 1351.5,1147.4 1350.2,1145.5 1348.8,1143.2 1347.4,1140.4 1345.7,1136.9 1343.9,1132.4 1341.9,1127.2 1339.8,1121.4 1337.6,1115.2 1335.4,1108.9 1333.3,1102.7 1331.3,1096.7 1329.5,1091.4 1327.9,1086.5 1326.4,1081.8 1324.9,1077.4 1323.5,1073 1322.2,1068.7 1321.1,1064.4 1320.1,1060 1319.3,1055.6 1318.6,1051 1318.2,1046.4 1317.4,1041.9 1316.4,1037.5 1314.9,1033 1313,1028.7 1310.7,1024.4 1307.8,1020.2ZM1329.4,1023.9L1325.3,1027.2 1321.6,1030.7 1318.5,1034.4 1315.9,1038.3 1313.8,1042.3 1312.2,1046.4 1310.8,1050.7 1309.3,1054.9 1307.7,1059.3 1306.1,1063.8 1304.4,1068.5 1302.6,1073.2 1300.9,1077.7 1299.1,1081.9 1297.3,1085.6 1295.4,1088.9 1293.6,1091.5 1291.7,1093.5 1289.7,1095 1287.8,1096.1 1286.1,1096.9 1284.4,1097.6 1282.9,1098.3 1281.3,1099.1 1279.6,1100.2 1277.9,1101.1 1276.2,1102 1274.5,1102.8 1272.7,1103.7 1270.9,1104.8 1268.9,1105.9 1266.7,1107.4 1264.2,1109.1 1261.5,1111.1 1258.6,1113.2 1255.6,1115.5 1252.5,1117.9 1249.3,1120.2 1246.2,1122.5 1243,1124.5 1242.2,1123.5 1244.8,1120.8 1247.7,1118.2 1250.6,1115.6 1253.5,1113 1256.4,1110.5 1259.2,1108.1 1261.8,1105.9 1264.3,1104 1266.5,1102.4 1268.6,1101 1270.5,1099.8 1272.3,1098.8 1273.9,1097.8 1275.5,1096.9 1277,1096 1278.7,1094.9 1280.5,1093.8 1282.3,1092.9 1283.9,1092.1 1285.3,1091.4 1286.6,1090.6 1287.9,1089.5 1289.2,1088 1290.6,1085.9 1292,1083.1 1293.6,1079.5 1295.2,1075.4 1296.7,1071 1298.3,1066.4 1299.8,1061.7 1301.3,1057.1 1302.7,1052.7 1304,1048.5 1305.3,1044.3 1306.1,1040 1306.4,1035.6 1306.2,1031 1305.5,1026.2 1304.3,1021.2 1302.6,1016.1ZM1291.4,1092.8L1290.4,1095.6 1289.4,1098.5 1288.3,1101.4 1287.3,1104.3 1286.3,1107.1 1285.3,1109.9 1284.5,1112.6 1283.8,1115.2 1283.2,1117.7 1282.8,1120.2 1282.4,1122.6 1282.1,1125 1281.8,1127.4 1281.6,1129.9 1281.2,1132.3 1280.6,1134.8 1279.4,1134.6 1279.2,1132.2 1279.2,1129.7 1279.2,1127.3 1279.3,1124.8 1279.3,1122.3 1279.5,1119.8 1279.8,1117.1 1280.2,1114.4 1280.8,1111.6 1281.5,1108.7 1282.3,1105.8 1283.1,1102.9 1284,1100 1284.9,1097 1285.8,1094.1 1286.6,1091.2ZM1313.4,1018.6L1309,1016.3 1304.8,1014.5 1300.8,1013.2 1297,1012.4 1293.2,1012.2 1289.5,1012.6 1285.7,1013.4 1281.7,1014.5 1277.4,1015.7 1272.8,1017.1 1268,1018.6 1263.1,1020.2 1258.2,1021.8 1253.5,1023.3 1249,1024.7 1244.9,1025.9 1241.3,1027 1237.9,1028 1234.8,1028.8 1231.8,1029.6 1229,1030.4 1226.3,1031.1 1223.5,1031.8 1220.7,1032.5 1218.1,1033.3 1215.6,1034 1213.3,1034.7 1210.9,1035.4 1208.3,1036.1 1205.5,1036.7 1202.3,1037.3 1198.6,1037.7 1194.5,1038 1189.8,1038.2 1184.9,1038.2 1179.7,1038.2 1174.4,1038.2 1169.1,1038.1 1163.8,1038 1158.7,1037.6 1158.7,1036.4 1163.8,1035.7 1169,1035.4 1174.4,1035.1 1179.6,1034.8 1184.8,1034.5 1189.6,1034.2 1194.1,1033.8 1198.2,1033.3 1201.6,1032.8 1204.5,1032.1 1207.1,1031.5 1209.5,1030.7 1211.7,1030 1214.1,1029.2 1216.5,1028.3 1219.3,1027.5 1222.1,1026.6 1224.8,1025.8 1227.5,1025 1230.3,1024.2 1233.1,1023.3 1236.2,1022.3 1239.5,1021.2 1243.1,1020.1 1247.1,1018.7 1251.4,1017.2 1256.1,1015.5 1260.9,1013.8 1265.8,1012.1 1270.7,1010.4 1275.3,1008.9 1279.7,1007.5 1283.8,1006.3 1287.6,1005.2 1291.2,1003.8 1294.6,1001.9 1297.8,999.6 1300.9,996.8 1303.8,993.4 1306.6,989.4ZM1223.9,1031.6L1222.4,1033.4 1220.8,1035.2 1219.2,1037 1217.7,1038.8 1216.1,1040.6 1214.6,1042.4 1213,1044.3 1211.5,1046.1 1210.1,1048 1208.6,1050 1207.1,1051.9 1205.7,1053.9 1204.2,1055.9 1202.7,1057.9 1201.2,1059.9 1199.5,1061.7 1198.5,1061.1 1199.5,1058.8 1200.7,1056.6 1201.9,1054.4 1203.2,1052.3 1204.5,1050.2 1205.8,1048 1207.1,1045.9 1208.5,1043.9 1209.9,1041.9 1211.3,1039.9 1212.7,1037.9 1214.2,1036 1215.7,1034.1 1217.1,1032.2 1218.6,1030.3 1220.1,1028.4Z" fill="#5f9569"/><circle cx="1322" cy="1003.4" r="22" fill="#1b6b55"/><use href="#rec" transform="translate(1363.3 992.6) rotate(-107.6) scale(-0.9 0.9)"/><path d="M844.1,1227.7L843.3,1226.4 842.4,1225.1 841.5,1223.8 840.6,1222.4 839.8,1221.1 838.9,1219.9 838.1,1218.7 837.4,1217.5 836.6,1216.4 835.9,1215.2 835.4,1214.2 834.9,1213.4 834.4,1212.6 834,1212.1 833.7,1211.6 833.3,1211.2 833,1210.9 832.5,1210.7 832,1210.4 831.3,1210.1 830.5,1209.8 829.5,1209.5 828.5,1209.1 827.5,1208.7 830.5,1201.3 831.3,1201.6 832.1,1201.8 833,1202.1 834,1202.4 835.1,1202.8 836.3,1203.3 837.5,1203.9 838.7,1204.8 839.8,1205.7 840.7,1206.7 841.4,1207.8 842.1,1208.7 842.8,1209.7 843.4,1210.6 844,1211.5 844.6,1212.5 845.4,1213.5 846.3,1214.7 847.2,1215.9 848.1,1217.2 849.1,1218.5 850,1219.8 851,1221 851.9,1222.3ZM833,1205L832.9,1205.9 832.6,1206.7 832.1,1207.5 831.5,1208.1 830.7,1208.6 829.9,1208.9 829,1209 828.1,1208.9 827.3,1208.6 826.5,1208.1 825.9,1207.5 825.4,1206.7 825.1,1205.9 825,1205 825.1,1204.1 825.4,1203.3 825.9,1202.5 826.5,1201.9 827.3,1201.4 828.1,1201.1 829,1201 829.9,1201.1 830.7,1201.4 831.5,1201.9 832.1,1202.5 832.6,1203.3 832.9,1204.1ZM840.6,1256.7L838.3,1256.9 836,1257.2 833.6,1257.5 831.2,1257.7 828.9,1258 826.5,1258.2 824.3,1258.3 822.2,1258.4 820.2,1258.4 818.4,1258.4 816.6,1258.3 814.9,1258.2 813.3,1258 811.7,1257.8 810.1,1257.5 808.5,1257.1 806.8,1256.6 805.2,1256 803.7,1255.3 802.4,1254.7 801,1254 799.8,1253.3 798.6,1252.7 797.4,1252.1 800.6,1244.9 802,1245.4 803.4,1246.1 804.7,1246.7 805.9,1247.3 807.1,1247.8 808.2,1248.2 809.4,1248.6 810.5,1248.9 811.8,1249.2 813,1249.4 814.3,1249.5 815.6,1249.6 817,1249.7 818.5,1249.7 820.1,1249.6 821.8,1249.6 823.7,1249.4 825.7,1249.2 827.8,1249 830.1,1248.6 832.4,1248.3 834.8,1247.9 837.1,1247.6 839.4,1247.3ZM803,1248.5L802.9,1249.4 802.6,1250.2 802.1,1251 801.5,1251.6 800.7,1252.1 799.9,1252.4 799,1252.5 798.1,1252.4 797.3,1252.1 796.5,1251.6 795.9,1251 795.4,1250.2 795.1,1249.4 795,1248.5 795.1,1247.6 795.4,1246.8 795.9,1246 796.5,1245.4 797.3,1244.9 798.1,1244.6 799,1244.5 799.9,1244.6 800.7,1244.9 801.5,1245.4 802.1,1246 802.6,1246.8 802.9,1247.6ZM844,1280.3L841.9,1281.3 839.8,1282.2 837.7,1283.2 835.6,1284.2 833.4,1285.2 831.2,1286.2 829,1287.2 826.8,1288.1 824.6,1289 822.3,1290 819.9,1291 817.5,1292 815,1293 812.6,1293.8 810.1,1294.5 807.6,1295 805.2,1295.2 803,1295.1 800.8,1294.8 798.9,1294.5 797.1,1294 795.5,1293.6 794,1293.2 792.3,1292.9 793.7,1285.1 795.5,1285.3 797.3,1285.7 799,1286.1 800.6,1286.4 802.1,1286.7 803.5,1286.8 804.9,1286.8 806.4,1286.6 808,1286.3 809.9,1285.7 812,1284.9 814.2,1284 816.4,1283 818.7,1282 821,1280.9 823.2,1279.9 825.3,1278.9 827.4,1278 829.5,1276.9 831.6,1275.9 833.6,1274.9 835.7,1273.8 837.8,1272.8 840,1271.7ZM797,1289L796.9,1289.9 796.6,1290.7 796.1,1291.5 795.5,1292.1 794.7,1292.6 793.9,1292.9 793,1293 792.1,1292.9 791.3,1292.6 790.5,1292.1 789.9,1291.5 789.4,1290.7 789.1,1289.9 789,1289 789.1,1288.1 789.4,1287.3 789.9,1286.5 790.5,1285.9 791.3,1285.4 792.1,1285.1 793,1285 793.9,1285.1 794.7,1285.4 795.5,1285.9 796.1,1286.5 796.6,1287.3 796.9,1288.1ZM902,1228.3L903.2,1227.4 904.3,1226.6 905.4,1225.7 906.6,1224.8 907.8,1223.9 909,1223 910.3,1222.2 911.6,1221.3 913,1220.5 914.4,1219.8 915.7,1219.2 917.1,1218.5 918.4,1217.9 919.7,1217.4 920.9,1216.8 922.2,1216.2 925.8,1223.4 924.5,1224.1 923.3,1224.7 922,1225.4 920.8,1226 919.6,1226.7 918.5,1227.3 917.4,1228 916.4,1228.7 915.4,1229.4 914.4,1230.2 913.3,1231 912.3,1231.9 911.3,1232.9 910.2,1233.8 909.1,1234.8 908,1235.7ZM928,1219.8L927.9,1220.7 927.6,1221.5 927.1,1222.3 926.5,1222.9 925.7,1223.4 924.9,1223.7 924,1223.8 923.1,1223.7 922.3,1223.4 921.5,1222.9 920.9,1222.3 920.4,1221.5 920.1,1220.7 920,1219.8 920.1,1218.9 920.4,1218.1 920.9,1217.3 921.5,1216.7 922.3,1216.2 923.1,1215.9 924,1215.8 924.9,1215.9 925.7,1216.2 926.5,1216.7 927.1,1217.3 927.6,1218.1 927.9,1218.9ZM899.2,1297.8L900.2,1299.7 901.2,1301.7 902.2,1303.7 903.2,1305.6 904.2,1307.6 905.2,1309.5 906.1,1311.3 906.9,1313 907.7,1314.6 908.4,1316.2 908.9,1317.6 909.4,1318.8 909.8,1319.9 910.3,1320.8 910.7,1321.6 911.2,1322.3 911.9,1323 912.7,1323.8 913.6,1324.5 914.6,1325.3 915.7,1326.1 916.9,1327 918.2,1327.9 919.4,1328.8 914.6,1335.2 913.5,1334.4 912.4,1333.7 911.2,1332.9 909.9,1332.1 908.6,1331.1 907.3,1330.1 906,1329 904.8,1327.7 903.7,1326.3 902.8,1324.9 902.1,1323.5 901.5,1322.2 900.9,1320.9 900.4,1319.6 899.8,1318.4 899.1,1317 898.2,1315.4 897.2,1313.7 896.2,1311.9 895.1,1310 894.1,1308 893,1306.1 891.9,1304.1 890.8,1302.2ZM921,1332L920.9,1332.9 920.6,1333.7 920.1,1334.5 919.5,1335.1 918.7,1335.6 917.9,1335.9 917,1336 916.1,1335.9 915.3,1335.6 914.5,1335.1 913.9,1334.5 913.4,1333.7 913.1,1332.9 913,1332 913.1,1331.1 913.4,1330.3 913.9,1329.5 914.5,1328.9 915.3,1328.4 916.1,1328.1 917,1328 917.9,1328.1 918.7,1328.4 919.5,1328.9 920.1,1329.5 920.6,1330.3 920.9,1331.1ZM914.1,1283.7L915.3,1284.4 916.5,1285 917.7,1285.6 919,1286.2 920.3,1286.9 921.6,1287.6 922.9,1288.4 924.3,1289.2 925.6,1290.1 926.9,1291.1 928.2,1292 929.5,1293 930.7,1293.9 931.9,1294.9 933.1,1295.8 934.3,1296.7 929.7,1303.3 928.4,1302.4 927.1,1301.5 925.8,1300.6 924.5,1299.8 923.3,1298.9 922.1,1298.2 920.9,1297.4 919.7,1296.8 918.6,1296.2 917.4,1295.6 916.2,1295 915,1294.5 913.8,1294 912.5,1293.4 911.2,1292.9 909.9,1292.3ZM936,1300L935.9,1300.9 935.6,1301.7 935.1,1302.5 934.5,1303.1 933.7,1303.6 932.9,1303.9 932,1304 931.1,1303.9 930.3,1303.6 929.5,1303.1 928.9,1302.5 928.4,1301.7 928.1,1300.9 928,1300 928.1,1299.1 928.4,1298.3 928.9,1297.5 929.5,1296.9 930.3,1296.4 931.1,1296.1 932,1296 932.9,1296.1 933.7,1296.4 934.5,1296.9 935.1,1297.5 935.6,1298.3 935.9,1299.1ZM884.7,1304.6L884.8,1306.2 884.9,1307.8 885.1,1309.4 885.2,1311.1 885.3,1312.8 885.4,1314.6 885.4,1316.4 885.4,1318.1 885.2,1319.9 885,1321.5 884.7,1323.1 884.4,1324.6 884.1,1326.1 883.8,1327.5 883.5,1328.9 883.3,1330.3 875.3,1329.1 875.5,1327.6 875.8,1326.1 876,1324.6 876.2,1323.2 876.4,1321.8 876.5,1320.5 876.6,1319.2 876.6,1317.9 876.6,1316.5 876.5,1315.1 876.3,1313.6 876.1,1312 875.9,1310.4 875.7,1308.8 875.5,1307.1 875.3,1305.4ZM883.3,1329.7L883.2,1330.6 882.9,1331.4 882.4,1332.2 881.8,1332.8 881,1333.3 880.2,1333.6 879.3,1333.7 878.4,1333.6 877.6,1333.3 876.8,1332.8 876.2,1332.2 875.7,1331.4 875.4,1330.6 875.3,1329.7 875.4,1328.8 875.7,1328 876.2,1327.2 876.8,1326.6 877.6,1326.1 878.4,1325.8 879.3,1325.7 880.2,1325.8 881,1326.1 881.8,1326.6 882.4,1327.2 882.9,1328 883.2,1328.8ZM883.2,1220L884.1,1218.7 885.1,1217.4 886.1,1216.1 887,1214.9 888,1213.7 888.8,1212.5 889.6,1211.4 890.2,1210.4 890.7,1209.5 891.1,1208.7 891.5,1207.8 891.8,1206.9 892.1,1206 892.4,1205 892.8,1204 893.2,1203 898.8,1205 898.5,1205.9 898.3,1206.9 898,1207.8 897.7,1208.8 897.4,1209.9 896.9,1211.1 896.4,1212.3 895.8,1213.6 895.1,1214.9 894.2,1216.2 893.4,1217.5 892.5,1218.8 891.5,1220.2 890.6,1221.5 889.7,1222.8 888.8,1224ZM899,1204L898.9,1204.7 898.7,1205.3 898.3,1205.9 897.9,1206.3 897.3,1206.7 896.7,1206.9 896,1207 895.3,1206.9 894.7,1206.7 894.1,1206.3 893.7,1205.9 893.3,1205.3 893.1,1204.7 893,1204 893.1,1203.3 893.3,1202.7 893.7,1202.1 894.1,1201.7 894.7,1201.3 895.3,1201.1 896,1201 896.7,1201.1 897.3,1201.3 897.9,1201.7 898.3,1202.1 898.7,1202.7 898.9,1203.3Z" fill="#d9a8c4" stroke="#d9a8c4" stroke-width="1.8" stroke-linejoin="round" /><path d="M844.1,1227.7L843.3,1226.4 842.4,1225.1 841.5,1223.8 840.6,1222.4 839.8,1221.1 838.9,1219.9 838.1,1218.7 837.4,1217.5 836.6,1216.4 835.9,1215.2 835.4,1214.2 834.9,1213.4 834.4,1212.6 834,1212.1 833.7,1211.6 833.3,1211.2 833,1210.9 832.5,1210.7 832,1210.4 831.3,1210.1 830.5,1209.8 829.5,1209.5 828.5,1209.1 827.5,1208.7 830.5,1201.3 831.3,1201.6 832.1,1201.8 833,1202.1 834,1202.4 835.1,1202.8 836.3,1203.3 837.5,1203.9 838.7,1204.8 839.8,1205.7 840.7,1206.7 841.4,1207.8 842.1,1208.7 842.8,1209.7 843.4,1210.6 844,1211.5 844.6,1212.5 845.4,1213.5 846.3,1214.7 847.2,1215.9 848.1,1217.2 849.1,1218.5 850,1219.8 851,1221 851.9,1222.3ZM833,1205L832.9,1205.9 832.6,1206.7 832.1,1207.5 831.5,1208.1 830.7,1208.6 829.9,1208.9 829,1209 828.1,1208.9 827.3,1208.6 826.5,1208.1 825.9,1207.5 825.4,1206.7 825.1,1205.9 825,1205 825.1,1204.1 825.4,1203.3 825.9,1202.5 826.5,1201.9 827.3,1201.4 828.1,1201.1 829,1201 829.9,1201.1 830.7,1201.4 831.5,1201.9 832.1,1202.5 832.6,1203.3 832.9,1204.1ZM840.6,1256.7L838.3,1256.9 836,1257.2 833.6,1257.5 831.2,1257.7 828.9,1258 826.5,1258.2 824.3,1258.3 822.2,1258.4 820.2,1258.4 818.4,1258.4 816.6,1258.3 814.9,1258.2 813.3,1258 811.7,1257.8 810.1,1257.5 808.5,1257.1 806.8,1256.6 805.2,1256 803.7,1255.3 802.4,1254.7 801,1254 799.8,1253.3 798.6,1252.7 797.4,1252.1 800.6,1244.9 802,1245.4 803.4,1246.1 804.7,1246.7 805.9,1247.3 807.1,1247.8 808.2,1248.2 809.4,1248.6 810.5,1248.9 811.8,1249.2 813,1249.4 814.3,1249.5 815.6,1249.6 817,1249.7 818.5,1249.7 820.1,1249.6 821.8,1249.6 823.7,1249.4 825.7,1249.2 827.8,1249 830.1,1248.6 832.4,1248.3 834.8,1247.9 837.1,1247.6 839.4,1247.3ZM803,1248.5L802.9,1249.4 802.6,1250.2 802.1,1251 801.5,1251.6 800.7,1252.1 799.9,1252.4 799,1252.5 798.1,1252.4 797.3,1252.1 796.5,1251.6 795.9,1251 795.4,1250.2 795.1,1249.4 795,1248.5 795.1,1247.6 795.4,1246.8 795.9,1246 796.5,1245.4 797.3,1244.9 798.1,1244.6 799,1244.5 799.9,1244.6 800.7,1244.9 801.5,1245.4 802.1,1246 802.6,1246.8 802.9,1247.6ZM844,1280.3L841.9,1281.3 839.8,1282.2 837.7,1283.2 835.6,1284.2 833.4,1285.2 831.2,1286.2 829,1287.2 826.8,1288.1 824.6,1289 822.3,1290 819.9,1291 817.5,1292 815,1293 812.6,1293.8 810.1,1294.5 807.6,1295 805.2,1295.2 803,1295.1 800.8,1294.8 798.9,1294.5 797.1,1294 795.5,1293.6 794,1293.2 792.3,1292.9 793.7,1285.1 795.5,1285.3 797.3,1285.7 799,1286.1 800.6,1286.4 802.1,1286.7 803.5,1286.8 804.9,1286.8 806.4,1286.6 808,1286.3 809.9,1285.7 812,1284.9 814.2,1284 816.4,1283 818.7,1282 821,1280.9 823.2,1279.9 825.3,1278.9 827.4,1278 829.5,1276.9 831.6,1275.9 833.6,1274.9 835.7,1273.8 837.8,1272.8 840,1271.7ZM797,1289L796.9,1289.9 796.6,1290.7 796.1,1291.5 795.5,1292.1 794.7,1292.6 793.9,1292.9 793,1293 792.1,1292.9 791.3,1292.6 790.5,1292.1 789.9,1291.5 789.4,1290.7 789.1,1289.9 789,1289 789.1,1288.1 789.4,1287.3 789.9,1286.5 790.5,1285.9 791.3,1285.4 792.1,1285.1 793,1285 793.9,1285.1 794.7,1285.4 795.5,1285.9 796.1,1286.5 796.6,1287.3 796.9,1288.1ZM902,1228.3L903.2,1227.4 904.3,1226.6 905.4,1225.7 906.6,1224.8 907.8,1223.9 909,1223 910.3,1222.2 911.6,1221.3 913,1220.5 914.4,1219.8 915.7,1219.2 917.1,1218.5 918.4,1217.9 919.7,1217.4 920.9,1216.8 922.2,1216.2 925.8,1223.4 924.5,1224.1 923.3,1224.7 922,1225.4 920.8,1226 919.6,1226.7 918.5,1227.3 917.4,1228 916.4,1228.7 915.4,1229.4 914.4,1230.2 913.3,1231 912.3,1231.9 911.3,1232.9 910.2,1233.8 909.1,1234.8 908,1235.7ZM928,1219.8L927.9,1220.7 927.6,1221.5 927.1,1222.3 926.5,1222.9 925.7,1223.4 924.9,1223.7 924,1223.8 923.1,1223.7 922.3,1223.4 921.5,1222.9 920.9,1222.3 920.4,1221.5 920.1,1220.7 920,1219.8 920.1,1218.9 920.4,1218.1 920.9,1217.3 921.5,1216.7 922.3,1216.2 923.1,1215.9 924,1215.8 924.9,1215.9 925.7,1216.2 926.5,1216.7 927.1,1217.3 927.6,1218.1 927.9,1218.9ZM899.2,1297.8L900.2,1299.7 901.2,1301.7 902.2,1303.7 903.2,1305.6 904.2,1307.6 905.2,1309.5 906.1,1311.3 906.9,1313 907.7,1314.6 908.4,1316.2 908.9,1317.6 909.4,1318.8 909.8,1319.9 910.3,1320.8 910.7,1321.6 911.2,1322.3 911.9,1323 912.7,1323.8 913.6,1324.5 914.6,1325.3 915.7,1326.1 916.9,1327 918.2,1327.9 919.4,1328.8 914.6,1335.2 913.5,1334.4 912.4,1333.7 911.2,1332.9 909.9,1332.1 908.6,1331.1 907.3,1330.1 906,1329 904.8,1327.7 903.7,1326.3 902.8,1324.9 902.1,1323.5 901.5,1322.2 900.9,1320.9 900.4,1319.6 899.8,1318.4 899.1,1317 898.2,1315.4 897.2,1313.7 896.2,1311.9 895.1,1310 894.1,1308 893,1306.1 891.9,1304.1 890.8,1302.2ZM921,1332L920.9,1332.9 920.6,1333.7 920.1,1334.5 919.5,1335.1 918.7,1335.6 917.9,1335.9 917,1336 916.1,1335.9 915.3,1335.6 914.5,1335.1 913.9,1334.5 913.4,1333.7 913.1,1332.9 913,1332 913.1,1331.1 913.4,1330.3 913.9,1329.5 914.5,1328.9 915.3,1328.4 916.1,1328.1 917,1328 917.9,1328.1 918.7,1328.4 919.5,1328.9 920.1,1329.5 920.6,1330.3 920.9,1331.1ZM914.1,1283.7L915.3,1284.4 916.5,1285 917.7,1285.6 919,1286.2 920.3,1286.9 921.6,1287.6 922.9,1288.4 924.3,1289.2 925.6,1290.1 926.9,1291.1 928.2,1292 929.5,1293 930.7,1293.9 931.9,1294.9 933.1,1295.8 934.3,1296.7 929.7,1303.3 928.4,1302.4 927.1,1301.5 925.8,1300.6 924.5,1299.8 923.3,1298.9 922.1,1298.2 920.9,1297.4 919.7,1296.8 918.6,1296.2 917.4,1295.6 916.2,1295 915,1294.5 913.8,1294 912.5,1293.4 911.2,1292.9 909.9,1292.3ZM936,1300L935.9,1300.9 935.6,1301.7 935.1,1302.5 934.5,1303.1 933.7,1303.6 932.9,1303.9 932,1304 931.1,1303.9 930.3,1303.6 929.5,1303.1 928.9,1302.5 928.4,1301.7 928.1,1300.9 928,1300 928.1,1299.1 928.4,1298.3 928.9,1297.5 929.5,1296.9 930.3,1296.4 931.1,1296.1 932,1296 932.9,1296.1 933.7,1296.4 934.5,1296.9 935.1,1297.5 935.6,1298.3 935.9,1299.1ZM884.7,1304.6L884.8,1306.2 884.9,1307.8 885.1,1309.4 885.2,1311.1 885.3,1312.8 885.4,1314.6 885.4,1316.4 885.4,1318.1 885.2,1319.9 885,1321.5 884.7,1323.1 884.4,1324.6 884.1,1326.1 883.8,1327.5 883.5,1328.9 883.3,1330.3 875.3,1329.1 875.5,1327.6 875.8,1326.1 876,1324.6 876.2,1323.2 876.4,1321.8 876.5,1320.5 876.6,1319.2 876.6,1317.9 876.6,1316.5 876.5,1315.1 876.3,1313.6 876.1,1312 875.9,1310.4 875.7,1308.8 875.5,1307.1 875.3,1305.4ZM883.3,1329.7L883.2,1330.6 882.9,1331.4 882.4,1332.2 881.8,1332.8 881,1333.3 880.2,1333.6 879.3,1333.7 878.4,1333.6 877.6,1333.3 876.8,1332.8 876.2,1332.2 875.7,1331.4 875.4,1330.6 875.3,1329.7 875.4,1328.8 875.7,1328 876.2,1327.2 876.8,1326.6 877.6,1326.1 878.4,1325.8 879.3,1325.7 880.2,1325.8 881,1326.1 881.8,1326.6 882.4,1327.2 882.9,1328 883.2,1328.8ZM883.2,1220L884.1,1218.7 885.1,1217.4 886.1,1216.1 887,1214.9 888,1213.7 888.8,1212.5 889.6,1211.4 890.2,1210.4 890.7,1209.5 891.1,1208.7 891.5,1207.8 891.8,1206.9 892.1,1206 892.4,1205 892.8,1204 893.2,1203 898.8,1205 898.5,1205.9 898.3,1206.9 898,1207.8 897.7,1208.8 897.4,1209.9 896.9,1211.1 896.4,1212.3 895.8,1213.6 895.1,1214.9 894.2,1216.2 893.4,1217.5 892.5,1218.8 891.5,1220.2 890.6,1221.5 889.7,1222.8 888.8,1224ZM899,1204L898.9,1204.7 898.7,1205.3 898.3,1205.9 897.9,1206.3 897.3,1206.7 896.7,1206.9 896,1207 895.3,1206.9 894.7,1206.7 894.1,1206.3 893.7,1205.9 893.3,1205.3 893.1,1204.7 893,1204 893.1,1203.3 893.3,1202.7 893.7,1202.1 894.1,1201.7 894.7,1201.3 895.3,1201.1 896,1201 896.7,1201.1 897.3,1201.3 897.9,1201.7 898.3,1202.1 898.7,1202.7 898.9,1203.3Z" fill="#e7c3d5"/><path d="M922.9,1263.3L922.8,1266.8 922.4,1270.2 921.7,1273.6 920.8,1277 919.6,1280.3 918.2,1283.5 916.6,1286.5 914.7,1289.5 912.6,1292.3 910.4,1294.9 907.9,1297.4 905.2,1299.7 902.4,1301.7 899.4,1303.6 896.3,1305.2 893.1,1306.6 889.7,1307.7 886.4,1308.6 882.9,1309.3 879.4,1309.7 875.9,1309.8 872.4,1309.7 868.9,1309.3 865.4,1308.6 862.1,1307.7 858.7,1306.6 855.5,1305.2 852.4,1303.6 849.4,1301.7 846.6,1299.7 843.9,1297.4 841.4,1294.9 839.2,1292.3 837.1,1289.5 835.2,1286.5 833.6,1283.5 832.2,1280.3 831,1277 830.1,1273.6 829.4,1270.2 829,1266.8 828.9,1263.3 829,1259.8 829.4,1256.4 830.1,1253 831,1249.6 832.2,1246.3 833.6,1243.1 835.2,1240.1 837.1,1237.1 839.2,1234.3 841.4,1231.7 843.9,1229.2 846.6,1226.9 849.4,1224.9 852.4,1223 855.5,1221.4 858.7,1220 862.1,1218.9 865.4,1218 868.9,1217.3 872.4,1216.9 875.9,1216.8 879.4,1216.9 882.9,1217.3 886.4,1218 889.7,1218.9 893.1,1220 896.3,1221.4 899.4,1223 902.4,1224.9 905.2,1226.9 907.9,1229.2 910.4,1231.7 912.6,1234.3 914.7,1237.1 916.6,1240.1 918.2,1243.1 919.6,1246.3 920.8,1249.6 921.7,1253 922.4,1256.4 922.8,1259.8ZM842.1,1249.6L840.7,1248.7 839.4,1247.8 838,1246.9 836.6,1246 835.3,1245 833.9,1244.1 832.5,1243.1 831.3,1242.2 830,1241.4 828.7,1240.5 827.4,1239.6 826,1238.7 824.5,1237.7 823.1,1236.6 821.8,1235.4 820.5,1234 819.4,1232.4 818.6,1230.8 818,1229.3 817.6,1227.9 817.3,1226.6 817,1225.4 816.8,1224.4 816.5,1223.4 824.5,1220.6 825,1221.9 825.4,1223.2 825.8,1224.3 826.1,1225.4 826.4,1226.2 826.7,1227 827.1,1227.5 827.5,1228 828.1,1228.6 828.9,1229.2 829.9,1229.9 831.1,1230.6 832.4,1231.3 833.8,1232.1 835.3,1232.9 836.7,1233.8 838.1,1234.6 839.5,1235.4 840.8,1236.2 842.2,1237 843.7,1237.9 845.1,1238.7 846.5,1239.5 847.9,1240.4ZM824.8,1222L824.6,1222.9 824.3,1223.8 823.8,1224.6 823.1,1225.3 822.3,1225.8 821.4,1226.1 820.5,1226.2 819.6,1226.1 818.7,1225.8 817.9,1225.3 817.2,1224.6 816.7,1223.8 816.4,1222.9 816.2,1222 816.4,1221.1 816.7,1220.2 817.2,1219.4 817.9,1218.7 818.7,1218.2 819.6,1217.9 820.5,1217.8 821.4,1217.9 822.3,1218.2 823.1,1218.7 823.8,1219.4 824.3,1220.2 824.6,1221.1ZM906.7,1237.6L908.9,1237.2 911.2,1236.8 913.4,1236.3 915.7,1235.9 917.9,1235.4 920,1235 922,1234.6 923.8,1234.2 925.6,1233.8 927.1,1233.5 928.6,1233.2 929.8,1233 931,1232.7 932.1,1232.5 933.1,1232.2 934.1,1231.8 935.2,1231.3 936.3,1230.8 937.3,1230.2 938.5,1229.5 939.7,1228.8 940.9,1228 942.1,1227.2 943.4,1226.4 948,1233.6 946.9,1234.4 945.7,1235.2 944.6,1236 943.4,1236.9 942.1,1237.8 940.8,1238.6 939.4,1239.5 937.9,1240.2 936.3,1240.9 934.9,1241.4 933.5,1241.9 932.1,1242.3 930.7,1242.6 929.3,1243 927.8,1243.4 926.2,1243.8 924.3,1244.3 922.3,1244.9 920.2,1245.4 918.1,1246 915.8,1246.6 913.6,1247.2 911.4,1247.8 909.3,1248.4ZM950,1230L949.8,1230.9 949.5,1231.8 949,1232.6 948.3,1233.3 947.5,1233.8 946.6,1234.1 945.7,1234.2 944.8,1234.1 943.9,1233.8 943.1,1233.3 942.4,1232.6 941.9,1231.8 941.6,1230.9 941.5,1230 941.6,1229.1 941.9,1228.2 942.4,1227.4 943.1,1226.7 943.9,1226.2 944.8,1225.9 945.7,1225.8 946.6,1225.9 947.5,1226.2 948.3,1226.7 949,1227.4 949.5,1228.2 949.8,1229.1ZM915,1250.5L916.8,1250.6 918.7,1250.6 920.7,1250.7 922.6,1250.8 924.6,1250.8 926.5,1250.9 928.4,1251 930.3,1251.2 932.1,1251.4 933.8,1251.7 935.3,1251.9 936.9,1252.2 938.3,1252.5 939.8,1252.8 941.2,1253.1 942.6,1253.4 941.4,1261.8 939.9,1261.7 938.4,1261.5 936.9,1261.3 935.5,1261.2 934.1,1261 932.7,1260.9 931.2,1260.8 929.7,1260.8 928.1,1260.8 926.4,1260.9 924.6,1260.9 922.8,1261 920.8,1261.2 918.9,1261.3 916.9,1261.4 915,1261.5ZM946.2,1257.6L946.1,1258.5 945.8,1259.4 945.3,1260.2 944.6,1260.9 943.8,1261.4 942.9,1261.7 942,1261.8 941.1,1261.7 940.2,1261.4 939.4,1260.9 938.7,1260.2 938.2,1259.4 937.9,1258.5 937.8,1257.6 937.9,1256.7 938.2,1255.8 938.7,1255 939.4,1254.3 940.2,1253.8 941.1,1253.5 942,1253.3 942.9,1253.5 943.8,1253.8 944.6,1254.3 945.3,1255 945.8,1255.8 946.1,1256.7ZM915.3,1269.5L917.5,1269.7 919.6,1269.9 921.8,1270.1 924.1,1270.3 926.3,1270.4 928.4,1270.6 930.5,1270.8 932.4,1271 934.1,1271.2 935.8,1271.3 937.5,1271.5 939.2,1271.6 941,1271.8 942.8,1272.1 944.6,1272.6 946.4,1273.4 948.2,1274.4 949.7,1275.6 950.9,1276.9 951.8,1278.2 952.7,1279.4 953.4,1280.4 954,1281.3 954.7,1282.2 948.3,1287.8 947.3,1286.7 946.4,1285.6 945.6,1284.5 944.9,1283.6 944.2,1282.8 943.6,1282.3 943.1,1281.9 942.6,1281.6 941.9,1281.4 941,1281.3 939.9,1281.2 938.6,1281.1 937,1281.1 935.4,1281.1 933.5,1281 931.6,1281 929.7,1280.9 927.7,1280.8 925.7,1280.7 923.5,1280.7 921.3,1280.6 919.1,1280.6 916.9,1280.5 914.7,1280.5ZM955.8,1285L955.6,1285.9 955.3,1286.8 954.8,1287.6 954.1,1288.3 953.3,1288.8 952.4,1289.1 951.5,1289.2 950.6,1289.1 949.7,1288.8 948.9,1288.3 948.2,1287.6 947.7,1286.8 947.4,1285.9 947.2,1285 947.4,1284.1 947.7,1283.2 948.2,1282.4 948.9,1281.7 949.7,1281.2 950.6,1280.9 951.5,1280.8 952.4,1280.9 953.3,1281.2 954.1,1281.7 954.8,1282.4 955.3,1283.2 955.6,1284.1ZM858.3,1301.4L856.3,1302.8 854.4,1304.1 852.5,1305.5 850.6,1306.8 848.6,1308.1 846.7,1309.5 844.8,1310.8 842.9,1312.1 840.9,1313.4 838.9,1314.7 837,1315.8 835.1,1317 833.4,1318.1 831.8,1319.1 830.5,1320.2 829.3,1321.2 828.3,1322.2 827.5,1323.3 826.7,1324.5 826,1325.8 825.2,1327.2 824.5,1328.7 823.6,1330.3 822.7,1331.8 815.3,1327.6 816,1326.2 816.7,1324.8 817.4,1323.3 818.1,1321.7 819,1320 820,1318.3 821.2,1316.5 822.7,1314.8 824.4,1313.2 826.1,1311.7 828,1310.3 829.9,1308.9 831.7,1307.7 833.6,1306.4 835.4,1305.2 837.1,1303.9 838.8,1302.6 840.6,1301.2 842.5,1299.8 844.3,1298.3 846.2,1296.9 848,1295.4 849.9,1294 851.7,1292.6ZM823.2,1329.7L823.1,1330.6 822.8,1331.5 822.3,1332.3 821.6,1333 820.8,1333.5 819.9,1333.8 819,1334 818.1,1333.8 817.2,1333.5 816.4,1333 815.7,1332.3 815.2,1331.5 814.9,1330.6 814.8,1329.7 814.9,1328.8 815.2,1327.9 815.7,1327.1 816.4,1326.4 817.2,1325.9 818.1,1325.6 819,1325.5 819.9,1325.6 820.8,1325.9 821.6,1326.4 822.3,1327.1 822.8,1327.9 823.1,1328.8ZM867.4,1301.1L866.9,1303 866.4,1305 865.8,1306.9 865.3,1308.7 864.9,1310.5 864.4,1312.2 864.1,1313.8 863.8,1315.4 863.7,1317 863.6,1318.5 863.5,1320.1 863.6,1321.8 863.6,1323.5 863.7,1325.2 863.7,1327 863.7,1328.8 855.3,1329.2 855.1,1327.5 854.9,1325.8 854.7,1324.1 854.5,1322.4 854.3,1320.5 854.2,1318.6 854.1,1316.6 854.2,1314.6 854.3,1312.5 854.6,1310.4 854.9,1308.4 855.2,1306.4 855.6,1304.5 856,1302.6 856.3,1300.7 856.6,1298.9ZM863.8,1329L863.6,1329.9 863.3,1330.8 862.8,1331.6 862.1,1332.3 861.3,1332.8 860.4,1333.1 859.5,1333.2 858.6,1333.1 857.7,1332.8 856.9,1332.3 856.2,1331.6 855.7,1330.8 855.4,1329.9 855.2,1329 855.4,1328.1 855.7,1327.2 856.2,1326.4 856.9,1325.7 857.7,1325.2 858.6,1324.9 859.5,1324.8 860.4,1324.9 861.3,1325.2 862.1,1325.7 862.8,1326.4 863.3,1327.2 863.6,1328.1Z" fill="#a4487a" stroke="#a4487a" stroke-width="2.4" stroke-linejoin="round" /><path d="M922.9,1263.3L922.8,1266.8 922.4,1270.2 921.7,1273.6 920.8,1277 919.6,1280.3 918.2,1283.5 916.6,1286.5 914.7,1289.5 912.6,1292.3 910.4,1294.9 907.9,1297.4 905.2,1299.7 902.4,1301.7 899.4,1303.6 896.3,1305.2 893.1,1306.6 889.7,1307.7 886.4,1308.6 882.9,1309.3 879.4,1309.7 875.9,1309.8 872.4,1309.7 868.9,1309.3 865.4,1308.6 862.1,1307.7 858.7,1306.6 855.5,1305.2 852.4,1303.6 849.4,1301.7 846.6,1299.7 843.9,1297.4 841.4,1294.9 839.2,1292.3 837.1,1289.5 835.2,1286.5 833.6,1283.5 832.2,1280.3 831,1277 830.1,1273.6 829.4,1270.2 829,1266.8 828.9,1263.3 829,1259.8 829.4,1256.4 830.1,1253 831,1249.6 832.2,1246.3 833.6,1243.1 835.2,1240.1 837.1,1237.1 839.2,1234.3 841.4,1231.7 843.9,1229.2 846.6,1226.9 849.4,1224.9 852.4,1223 855.5,1221.4 858.7,1220 862.1,1218.9 865.4,1218 868.9,1217.3 872.4,1216.9 875.9,1216.8 879.4,1216.9 882.9,1217.3 886.4,1218 889.7,1218.9 893.1,1220 896.3,1221.4 899.4,1223 902.4,1224.9 905.2,1226.9 907.9,1229.2 910.4,1231.7 912.6,1234.3 914.7,1237.1 916.6,1240.1 918.2,1243.1 919.6,1246.3 920.8,1249.6 921.7,1253 922.4,1256.4 922.8,1259.8ZM842.1,1249.6L840.7,1248.7 839.4,1247.8 838,1246.9 836.6,1246 835.3,1245 833.9,1244.1 832.5,1243.1 831.3,1242.2 830,1241.4 828.7,1240.5 827.4,1239.6 826,1238.7 824.5,1237.7 823.1,1236.6 821.8,1235.4 820.5,1234 819.4,1232.4 818.6,1230.8 818,1229.3 817.6,1227.9 817.3,1226.6 817,1225.4 816.8,1224.4 816.5,1223.4 824.5,1220.6 825,1221.9 825.4,1223.2 825.8,1224.3 826.1,1225.4 826.4,1226.2 826.7,1227 827.1,1227.5 827.5,1228 828.1,1228.6 828.9,1229.2 829.9,1229.9 831.1,1230.6 832.4,1231.3 833.8,1232.1 835.3,1232.9 836.7,1233.8 838.1,1234.6 839.5,1235.4 840.8,1236.2 842.2,1237 843.7,1237.9 845.1,1238.7 846.5,1239.5 847.9,1240.4ZM824.8,1222L824.6,1222.9 824.3,1223.8 823.8,1224.6 823.1,1225.3 822.3,1225.8 821.4,1226.1 820.5,1226.2 819.6,1226.1 818.7,1225.8 817.9,1225.3 817.2,1224.6 816.7,1223.8 816.4,1222.9 816.2,1222 816.4,1221.1 816.7,1220.2 817.2,1219.4 817.9,1218.7 818.7,1218.2 819.6,1217.9 820.5,1217.8 821.4,1217.9 822.3,1218.2 823.1,1218.7 823.8,1219.4 824.3,1220.2 824.6,1221.1ZM906.7,1237.6L908.9,1237.2 911.2,1236.8 913.4,1236.3 915.7,1235.9 917.9,1235.4 920,1235 922,1234.6 923.8,1234.2 925.6,1233.8 927.1,1233.5 928.6,1233.2 929.8,1233 931,1232.7 932.1,1232.5 933.1,1232.2 934.1,1231.8 935.2,1231.3 936.3,1230.8 937.3,1230.2 938.5,1229.5 939.7,1228.8 940.9,1228 942.1,1227.2 943.4,1226.4 948,1233.6 946.9,1234.4 945.7,1235.2 944.6,1236 943.4,1236.9 942.1,1237.8 940.8,1238.6 939.4,1239.5 937.9,1240.2 936.3,1240.9 934.9,1241.4 933.5,1241.9 932.1,1242.3 930.7,1242.6 929.3,1243 927.8,1243.4 926.2,1243.8 924.3,1244.3 922.3,1244.9 920.2,1245.4 918.1,1246 915.8,1246.6 913.6,1247.2 911.4,1247.8 909.3,1248.4ZM950,1230L949.8,1230.9 949.5,1231.8 949,1232.6 948.3,1233.3 947.5,1233.8 946.6,1234.1 945.7,1234.2 944.8,1234.1 943.9,1233.8 943.1,1233.3 942.4,1232.6 941.9,1231.8 941.6,1230.9 941.5,1230 941.6,1229.1 941.9,1228.2 942.4,1227.4 943.1,1226.7 943.9,1226.2 944.8,1225.9 945.7,1225.8 946.6,1225.9 947.5,1226.2 948.3,1226.7 949,1227.4 949.5,1228.2 949.8,1229.1ZM915,1250.5L916.8,1250.6 918.7,1250.6 920.7,1250.7 922.6,1250.8 924.6,1250.8 926.5,1250.9 928.4,1251 930.3,1251.2 932.1,1251.4 933.8,1251.7 935.3,1251.9 936.9,1252.2 938.3,1252.5 939.8,1252.8 941.2,1253.1 942.6,1253.4 941.4,1261.8 939.9,1261.7 938.4,1261.5 936.9,1261.3 935.5,1261.2 934.1,1261 932.7,1260.9 931.2,1260.8 929.7,1260.8 928.1,1260.8 926.4,1260.9 924.6,1260.9 922.8,1261 920.8,1261.2 918.9,1261.3 916.9,1261.4 915,1261.5ZM946.2,1257.6L946.1,1258.5 945.8,1259.4 945.3,1260.2 944.6,1260.9 943.8,1261.4 942.9,1261.7 942,1261.8 941.1,1261.7 940.2,1261.4 939.4,1260.9 938.7,1260.2 938.2,1259.4 937.9,1258.5 937.8,1257.6 937.9,1256.7 938.2,1255.8 938.7,1255 939.4,1254.3 940.2,1253.8 941.1,1253.5 942,1253.3 942.9,1253.5 943.8,1253.8 944.6,1254.3 945.3,1255 945.8,1255.8 946.1,1256.7ZM915.3,1269.5L917.5,1269.7 919.6,1269.9 921.8,1270.1 924.1,1270.3 926.3,1270.4 928.4,1270.6 930.5,1270.8 932.4,1271 934.1,1271.2 935.8,1271.3 937.5,1271.5 939.2,1271.6 941,1271.8 942.8,1272.1 944.6,1272.6 946.4,1273.4 948.2,1274.4 949.7,1275.6 950.9,1276.9 951.8,1278.2 952.7,1279.4 953.4,1280.4 954,1281.3 954.7,1282.2 948.3,1287.8 947.3,1286.7 946.4,1285.6 945.6,1284.5 944.9,1283.6 944.2,1282.8 943.6,1282.3 943.1,1281.9 942.6,1281.6 941.9,1281.4 941,1281.3 939.9,1281.2 938.6,1281.1 937,1281.1 935.4,1281.1 933.5,1281 931.6,1281 929.7,1280.9 927.7,1280.8 925.7,1280.7 923.5,1280.7 921.3,1280.6 919.1,1280.6 916.9,1280.5 914.7,1280.5ZM955.8,1285L955.6,1285.9 955.3,1286.8 954.8,1287.6 954.1,1288.3 953.3,1288.8 952.4,1289.1 951.5,1289.2 950.6,1289.1 949.7,1288.8 948.9,1288.3 948.2,1287.6 947.7,1286.8 947.4,1285.9 947.2,1285 947.4,1284.1 947.7,1283.2 948.2,1282.4 948.9,1281.7 949.7,1281.2 950.6,1280.9 951.5,1280.8 952.4,1280.9 953.3,1281.2 954.1,1281.7 954.8,1282.4 955.3,1283.2 955.6,1284.1ZM858.3,1301.4L856.3,1302.8 854.4,1304.1 852.5,1305.5 850.6,1306.8 848.6,1308.1 846.7,1309.5 844.8,1310.8 842.9,1312.1 840.9,1313.4 838.9,1314.7 837,1315.8 835.1,1317 833.4,1318.1 831.8,1319.1 830.5,1320.2 829.3,1321.2 828.3,1322.2 827.5,1323.3 826.7,1324.5 826,1325.8 825.2,1327.2 824.5,1328.7 823.6,1330.3 822.7,1331.8 815.3,1327.6 816,1326.2 816.7,1324.8 817.4,1323.3 818.1,1321.7 819,1320 820,1318.3 821.2,1316.5 822.7,1314.8 824.4,1313.2 826.1,1311.7 828,1310.3 829.9,1308.9 831.7,1307.7 833.6,1306.4 835.4,1305.2 837.1,1303.9 838.8,1302.6 840.6,1301.2 842.5,1299.8 844.3,1298.3 846.2,1296.9 848,1295.4 849.9,1294 851.7,1292.6ZM823.2,1329.7L823.1,1330.6 822.8,1331.5 822.3,1332.3 821.6,1333 820.8,1333.5 819.9,1333.8 819,1334 818.1,1333.8 817.2,1333.5 816.4,1333 815.7,1332.3 815.2,1331.5 814.9,1330.6 814.8,1329.7 814.9,1328.8 815.2,1327.9 815.7,1327.1 816.4,1326.4 817.2,1325.9 818.1,1325.6 819,1325.5 819.9,1325.6 820.8,1325.9 821.6,1326.4 822.3,1327.1 822.8,1327.9 823.1,1328.8ZM867.4,1301.1L866.9,1303 866.4,1305 865.8,1306.9 865.3,1308.7 864.9,1310.5 864.4,1312.2 864.1,1313.8 863.8,1315.4 863.7,1317 863.6,1318.5 863.5,1320.1 863.6,1321.8 863.6,1323.5 863.7,1325.2 863.7,1327 863.7,1328.8 855.3,1329.2 855.1,1327.5 854.9,1325.8 854.7,1324.1 854.5,1322.4 854.3,1320.5 854.2,1318.6 854.1,1316.6 854.2,1314.6 854.3,1312.5 854.6,1310.4 854.9,1308.4 855.2,1306.4 855.6,1304.5 856,1302.6 856.3,1300.7 856.6,1298.9ZM863.8,1329L863.6,1329.9 863.3,1330.8 862.8,1331.6 862.1,1332.3 861.3,1332.8 860.4,1333.1 859.5,1333.2 858.6,1333.1 857.7,1332.8 856.9,1332.3 856.2,1331.6 855.7,1330.8 855.4,1329.9 855.2,1329 855.4,1328.1 855.7,1327.2 856.2,1326.4 856.9,1325.7 857.7,1325.2 858.6,1324.9 859.5,1324.8 860.4,1324.9 861.3,1325.2 862.1,1325.7 862.8,1326.4 863.3,1327.2 863.6,1328.1Z" fill="#c27898"/><ellipse cx="873" cy="1263.3" rx="23" ry="24.5" fill="#8f3b77"/><g transform="translate(846.5 1119) scale(0.724 0.732) translate(-695 -1335)"><g stroke="#265a9c" stroke-width="3.2"><line x1="705" y1="1335" x2="705" y2="1360"/><line x1="725.8" y1="1335" x2="725.8" y2="1360"/></g><line x1="705" y1="1353" x2="725.8" y2="1353" stroke="#5a86c0" stroke-width="1.2"/><rect x="696.8" y="1359" width="16.2" height="24" rx="2.5" fill="#86a8d1" stroke="#5c88c0" stroke-width="1"/><path d="M696.8,1382 h16.2 v24 l-5,-1.5 l-3,2.5 l-3,-2.5 l-5.2,1.5Z" fill="#86a8d1" stroke="#5c88c0" stroke-width="1" stroke-linejoin="round"/><rect x="717.7" y="1359" width="16.2" height="24" rx="2.5" fill="#86a8d1" stroke="#5c88c0" stroke-width="1"/><path d="M717.7,1382 h16.2 v24 l-5,-1.5 l-3,2.5 l-3,-2.5 l-5.2,1.5Z" fill="#86a8d1" stroke="#5c88c0" stroke-width="1" stroke-linejoin="round"/><g stroke="#c03a62" stroke-width="4"><line x1="704.4" y1="1454" x2="704.4" y2="1473"/><line x1="725.3" y1="1454" x2="725.3" y2="1473"/></g><path d="M695,1416 Q695,1413 698,1413 Q702,1413 703,1417 Q705,1423 710,1426 Q713,1428 713,1432 V1454.7 H695Z" fill="#e8889e" stroke="#d25474" stroke-width="1"/><path d="M734.8,1416 Q734.8,1413 731.8,1413 Q727.8,1413 726.8,1417 Q724.8,1423 719.8,1426 Q716.8,1428 716.8,1432 V1454.7 H734.8Z" fill="#e8889e" stroke="#d25474" stroke-width="1"/><line x1="745.9" y1="1333" x2="745.9" y2="1430" stroke="#5c3a7a" stroke-width="1.8"/><rect x="740.5" y="1371" width="11" height="18.5" rx="2" fill="#8a689f" stroke="#7a588f" stroke-width="0.8"/><rect x="740.5" y="1391" width="11" height="23" rx="2" fill="#8a689f" stroke="#7a588f" stroke-width="0.8"/><rect x="740" y="1425" width="10.5" height="20" rx="2" fill="#8a689f" stroke="#7a588f" stroke-width="0.8"/><path d="M738,1446 h12 l-1,22 l-14.5,-1Z" fill="#8a689f" stroke="#7a588f" stroke-width="0.8" stroke-linejoin="round"/><g stroke="#0e8e96" stroke-width="1.2"><line x1="760" y1="1335" x2="760" y2="1470"/><line x1="763.5" y1="1335" x2="763.5" y2="1473"/><line x1="767" y1="1335" x2="767" y2="1470"/></g><rect x="756.4" y="1360" width="14.2" height="13" rx="3.5" fill="#0e8e96" stroke="#0a7a84" stroke-width="0.8"/><rect x="756.4" y="1372.5" width="14.2" height="13" rx="3.5" fill="#0e8e96" stroke="#0a7a84" stroke-width="0.8"/><rect x="756.4" y="1385" width="14.2" height="13" rx="3.5" fill="#0e8e96" stroke="#0a7a84" stroke-width="0.8"/><rect x="756.4" y="1397.5" width="14.2" height="13" rx="3.5" fill="#0e8e96" stroke="#0a7a84" stroke-width="0.8"/><rect x="756.4" y="1410" width="14.2" height="13" rx="3.5" fill="#0e8e96" stroke="#0a7a84" stroke-width="0.8"/><rect x="758" y="1447" width="11.5" height="25" rx="2.5" fill="#0e8e96" stroke="#0a7a84" stroke-width="0.8"/><ellipse cx="715" cy="1413" rx="7.5" ry="5.5" fill="#fff"/><ellipse cx="715" cy="1413" rx="6" ry="4.2" fill="#d2691e" stroke="#5a2a0a" stroke-width="1.3"/></g><circle cx="536.7" cy="1067.7" r="42.5" fill="#bcc5e3" stroke="#8ba0e2" stroke-width="1.3"/><ellipse cx="529.5" cy="1071.5" rx="23.5" ry="23.5" fill="#8397d9"/><use href="#lymph" transform="translate(877 1088)"/><ellipse cx="703.7" cy="1023.5" rx="38.5" ry="39.4" fill="#b0d3ed" stroke="#6fa5e3" stroke-width="1.3"/><ellipse cx="706" cy="1028.7" rx="20" ry="21.5" fill="#78a7e3"/><ellipse cx="702" cy="1126" rx="36.6" ry="37.8" fill="#919fd3" stroke="#4b54a8" stroke-width="1.3"/><ellipse cx="704" cy="1131" rx="19.7" ry="21" fill="#5a5fb1"/><path d="M1235,1303L1234.8,1307 1234.3,1311 1233.5,1315 1232.4,1318.8 1231,1322.6 1229.3,1326.2 1227.3,1329.7 1225,1333 1222.4,1336.2 1219.6,1339.1 1216.6,1341.7 1213.4,1344.1 1210,1346.3 1206.4,1348.2 1202.7,1349.8 1198.9,1351 1195,1352 1191,1352.6 1187,1353 1183,1353 1179,1352.6 1175,1352 1171.1,1351 1167.3,1349.8 1163.6,1348.2 1160,1346.3 1156.6,1344.1 1153.4,1341.7 1150.4,1339.1 1147.6,1336.2 1145,1333 1142.7,1329.7 1140.7,1326.2 1139,1322.6 1137.6,1318.8 1136.5,1315 1135.7,1311 1135.2,1307 1135,1303 1135.2,1299 1135.7,1295 1136.5,1291 1137.6,1287.2 1139,1283.4 1140.7,1279.8 1142.7,1276.3 1145,1273 1147.6,1269.8 1150.4,1266.9 1153.4,1264.3 1156.6,1261.9 1160,1259.7 1163.6,1257.8 1167.3,1256.2 1171.1,1255 1175,1254 1179,1253.4 1183,1253 1187,1253 1191,1253.4 1195,1254 1198.9,1255 1202.7,1256.2 1206.4,1257.8 1210,1259.7 1213.4,1261.9 1216.6,1264.3 1219.6,1266.9 1222.4,1269.8 1225,1273 1227.3,1276.3 1229.3,1279.8 1231,1283.4 1232.4,1287.2 1233.5,1291 1234.3,1295 1234.8,1299ZM1173.9,1263.5L1173.5,1261.4 1173,1259.3 1172.5,1257.1 1172,1254.9 1171.5,1252.6 1171.1,1250.3 1170.7,1248 1170.4,1245.8 1170.3,1243.6 1170.1,1241.6 1170,1239.5 1170,1237.4 1170.1,1235.2 1170.3,1233.1 1170.6,1230.9 1171.1,1228.7 1171.9,1226.5 1172.8,1224.5 1173.9,1222.6 1175,1220.9 1176.1,1219.3 1177.2,1217.7 1178.2,1216.3 1179.1,1214.8 1186.9,1219.2 1186,1221 1185,1222.7 1184,1224.3 1183.1,1225.9 1182.3,1227.3 1181.7,1228.7 1181.2,1230 1180.9,1231.3 1180.7,1232.6 1180.6,1234 1180.6,1235.5 1180.6,1237.1 1180.8,1238.8 1181,1240.6 1181.3,1242.4 1181.6,1244.2 1181.9,1246.1 1182.3,1247.9 1182.9,1249.9 1183.5,1251.9 1184.1,1254 1184.8,1256.1 1185.5,1258.3 1186.1,1260.5ZM1187.5,1217L1187.4,1218 1187.1,1219 1186.5,1219.8 1185.8,1220.5 1185,1221.1 1184,1221.4 1183,1221.5 1182,1221.4 1181,1221.1 1180.2,1220.5 1179.5,1219.8 1178.9,1219 1178.6,1218 1178.5,1217 1178.6,1216 1178.9,1215 1179.5,1214.2 1180.2,1213.5 1181,1212.9 1182,1212.6 1183,1212.5 1184,1212.6 1185,1212.9 1185.8,1213.5 1186.5,1214.2 1187.1,1215 1187.4,1216ZM1151.8,1265.9L1151.6,1263.7 1151.3,1261.5 1151.1,1259.2 1150.8,1256.9 1150.6,1254.5 1150.3,1252.2 1150.2,1249.8 1150.1,1247.4 1150,1245 1150.1,1242.8 1150.2,1240.5 1150.3,1238.3 1150.5,1236.2 1150.6,1234.1 1150.8,1232.1 1150.9,1230 1159.9,1230 1160,1232.2 1160,1234.3 1160.1,1236.4 1160.2,1238.5 1160.2,1240.6 1160.3,1242.6 1160.5,1244.6 1160.7,1246.6 1161,1248.6 1161.4,1250.7 1161.8,1252.8 1162.3,1255 1162.7,1257.2 1163.2,1259.5 1163.7,1261.8 1164.2,1264.1ZM1159.9,1230L1159.8,1231 1159.5,1232 1158.9,1232.8 1158.2,1233.5 1157.4,1234.1 1156.4,1234.4 1155.4,1234.5 1154.4,1234.4 1153.4,1234.1 1152.6,1233.5 1151.9,1232.8 1151.3,1232 1151,1231 1150.9,1230 1151,1229 1151.3,1228 1151.9,1227.2 1152.6,1226.5 1153.4,1225.9 1154.4,1225.6 1155.4,1225.5 1156.4,1225.6 1157.4,1225.9 1158.2,1226.5 1158.9,1227.2 1159.5,1228 1159.8,1229ZM1197.9,1263.1L1197.6,1261 1197.2,1258.8 1196.9,1256.5 1196.6,1254.3 1196.2,1252 1196,1249.8 1195.7,1247.6 1195.6,1245.6 1195.4,1243.8 1195.3,1242.1 1195.2,1240.3 1195.1,1238.5 1195.2,1236.7 1195.4,1234.8 1195.8,1232.9 1196.5,1230.9 1197.8,1229 1199.3,1227.5 1200.8,1226.4 1202.3,1225.7 1203.6,1225.1 1204.8,1224.6 1205.7,1224.2 1206.7,1223.7 1211.3,1231.3 1210.2,1232.1 1208.9,1232.9 1207.7,1233.5 1206.7,1234 1206,1234.5 1205.6,1234.8 1205.5,1235 1205.5,1235.1 1205.4,1235.4 1205.4,1236 1205.4,1236.9 1205.5,1238 1205.7,1239.4 1205.9,1240.9 1206.2,1242.6 1206.4,1244.4 1206.7,1246.1 1207.1,1248 1207.6,1250 1208.1,1252.1 1208.6,1254.3 1209.1,1256.5 1209.7,1258.7 1210.1,1260.9ZM1213.5,1227.5L1213.4,1228.5 1213.1,1229.5 1212.5,1230.3 1211.8,1231 1211,1231.6 1210,1231.9 1209,1232 1208,1231.9 1207,1231.6 1206.2,1231 1205.5,1230.3 1204.9,1229.5 1204.6,1228.5 1204.5,1227.5 1204.6,1226.5 1204.9,1225.5 1205.5,1224.7 1206.2,1224 1207,1223.4 1208,1223.1 1209,1223 1210,1223.1 1211,1223.4 1211.8,1224 1212.5,1224.7 1213.1,1225.5 1213.4,1226.5ZM1218.6,1271.8L1220,1269.7 1221.4,1267.5 1222.8,1265.4 1224.2,1263.2 1225.6,1261.1 1226.9,1259.1 1228.1,1257.2 1229.1,1255.4 1230,1253.8 1230.8,1252.2 1231.6,1250.6 1232.3,1249 1233,1247.4 1233.8,1245.7 1234.8,1244 1235.8,1242.3 1237,1240.8 1238.1,1239.4 1239.3,1238.1 1240.5,1237 1241.6,1235.9 1242.7,1234.9 1243.7,1234 1244.7,1232.9 1251.3,1239.1 1250.3,1240.2 1249.2,1241.4 1248.2,1242.5 1247.3,1243.5 1246.4,1244.5 1245.6,1245.6 1244.9,1246.6 1244.2,1247.7 1243.6,1248.8 1243.1,1250 1242.5,1251.4 1242,1253 1241.3,1254.7 1240.6,1256.5 1239.8,1258.5 1238.9,1260.6 1237.8,1262.7 1236.7,1264.8 1235.5,1267 1234.3,1269.3 1233,1271.5 1231.8,1273.8 1230.6,1276 1229.4,1278.2ZM1252.5,1236L1252.4,1237 1252.1,1238 1251.5,1238.8 1250.8,1239.5 1250,1240.1 1249,1240.4 1248,1240.5 1247,1240.4 1246,1240.1 1245.2,1239.5 1244.5,1238.8 1243.9,1238 1243.6,1237 1243.5,1236 1243.6,1235 1243.9,1234 1244.5,1233.2 1245.2,1232.5 1246,1231.9 1247,1231.6 1248,1231.5 1249,1231.6 1250,1231.9 1250.8,1232.5 1251.5,1233.2 1252.1,1234 1252.4,1235ZM1144.7,1281.3L1143.5,1279.2 1142.3,1277.1 1141.1,1275 1139.9,1272.8 1138.7,1270.8 1137.6,1268.7 1136.4,1266.8 1135.4,1265 1134.4,1263.3 1133.4,1261.7 1132.4,1260.2 1131.3,1258.6 1130.3,1257.1 1129.4,1255.5 1128.4,1253.9 1127.6,1252.2 1126.9,1250.5 1126.4,1248.9 1125.9,1247.4 1125.6,1246 1125.4,1244.7 1125.2,1243.5 1124.9,1242.4 1124.7,1241.2 1133.3,1238.8 1133.7,1240.1 1134.1,1241.4 1134.4,1242.6 1134.8,1243.7 1135.1,1244.8 1135.4,1245.8 1135.9,1246.8 1136.4,1247.8 1137.1,1248.9 1137.8,1250 1138.8,1251.3 1139.8,1252.6 1140.9,1254.1 1142.1,1255.6 1143.4,1257.3 1144.6,1259 1145.9,1260.8 1147.2,1262.7 1148.5,1264.7 1149.9,1266.7 1151.2,1268.7 1152.6,1270.7 1154,1272.7 1155.3,1274.7ZM1133.5,1240L1133.4,1241 1133.1,1242 1132.5,1242.8 1131.8,1243.5 1131,1244.1 1130,1244.4 1129,1244.5 1128,1244.4 1127,1244.1 1126.2,1243.5 1125.5,1242.8 1124.9,1242 1124.6,1241 1124.5,1240 1124.6,1239 1124.9,1238 1125.5,1237.2 1126.2,1236.5 1127,1235.9 1128,1235.6 1129,1235.5 1130,1235.6 1131,1235.9 1131.8,1236.5 1132.5,1237.2 1133.1,1238 1133.4,1239ZM1137.6,1294.5L1136.3,1293 1135,1291.6 1133.7,1290.2 1132.3,1288.7 1130.9,1287.1 1129.5,1285.6 1128.2,1284 1126.9,1282.4 1125.8,1280.7 1124.7,1279.1 1123.9,1277.5 1123,1276 1122.3,1274.5 1121.6,1273.1 1120.9,1271.7 1120.2,1270.4 1127.8,1265.6 1128.8,1267 1129.7,1268.4 1130.6,1269.7 1131.5,1271 1132.3,1272.2 1133.2,1273.4 1134.1,1274.5 1135.1,1275.6 1136.2,1276.8 1137.4,1277.9 1138.8,1279.1 1140.2,1280.3 1141.7,1281.6 1143.3,1282.9 1144.9,1284.2 1146.4,1285.5ZM1128.5,1268L1128.4,1269 1128.1,1270 1127.5,1270.8 1126.8,1271.5 1126,1272.1 1125,1272.4 1124,1272.5 1123,1272.4 1122,1272.1 1121.2,1271.5 1120.5,1270.8 1119.9,1270 1119.6,1269 1119.5,1268 1119.6,1267 1119.9,1266 1120.5,1265.2 1121.2,1264.5 1122,1263.9 1123,1263.6 1124,1263.5 1125,1263.6 1126,1263.9 1126.8,1264.5 1127.5,1265.2 1128.1,1266 1128.4,1267ZM1226.4,1284L1228.3,1283.6 1230.3,1283.2 1232.3,1282.8 1234.3,1282.4 1236.2,1282 1238.1,1281.6 1239.9,1281.3 1241.6,1280.9 1243.2,1280.6 1244.7,1280.3 1246.1,1280 1247.5,1279.8 1248.8,1279.5 1250.1,1279.2 1251.4,1278.9 1252.8,1278.7 1255.2,1287.3 1253.9,1287.8 1252.6,1288.2 1251.3,1288.7 1250,1289.1 1248.7,1289.6 1247.4,1290 1245.9,1290.5 1244.4,1291.1 1242.7,1291.6 1240.9,1292.2 1239.1,1292.8 1237.2,1293.5 1235.3,1294.1 1233.4,1294.8 1231.5,1295.4 1229.6,1296ZM1258.5,1283L1258.4,1284 1258.1,1285 1257.5,1285.8 1256.8,1286.5 1256,1287.1 1255,1287.4 1254,1287.5 1253,1287.4 1252,1287.1 1251.2,1286.5 1250.5,1285.8 1249.9,1285 1249.6,1284 1249.5,1283 1249.6,1282 1249.9,1281 1250.5,1280.2 1251.2,1279.5 1252,1278.9 1253,1278.6 1254,1278.5 1255,1278.6 1256,1278.9 1256.8,1279.5 1257.5,1280.2 1258.1,1281 1258.4,1282ZM1229.2,1298.8L1231.1,1298.7 1233.1,1298.6 1235.1,1298.5 1237,1298.3 1238.9,1298.2 1240.8,1298.1 1242.5,1298 1244.1,1297.8 1245.6,1297.7 1247,1297.5 1248.3,1297.3 1249.6,1297.1 1250.9,1296.8 1252.2,1296.6 1253.6,1296.4 1255,1296.1 1257,1304.9 1255.7,1305.3 1254.5,1305.7 1253.2,1306.1 1251.9,1306.5 1250.5,1306.9 1249.1,1307.3 1247.5,1307.8 1245.9,1308.2 1244.1,1308.6 1242.3,1309 1240.4,1309.3 1238.5,1309.7 1236.5,1310.1 1234.6,1310.5 1232.7,1310.8 1230.8,1311.2ZM1260.5,1300.5L1260.4,1301.5 1260.1,1302.5 1259.5,1303.3 1258.8,1304 1258,1304.6 1257,1304.9 1256,1305 1255,1304.9 1254,1304.6 1253.2,1304 1252.5,1303.3 1251.9,1302.5 1251.6,1301.5 1251.5,1300.5 1251.6,1299.5 1251.9,1298.5 1252.5,1297.7 1253.2,1297 1254,1296.4 1255,1296.1 1256,1296 1257,1296.1 1258,1296.4 1258.8,1297 1259.5,1297.7 1260.1,1298.5 1260.4,1299.5ZM1228.5,1316.8L1230.3,1318.1 1232.2,1319.5 1234,1320.9 1235.8,1322.2 1237.6,1323.5 1239.4,1324.8 1241.2,1326 1243,1327.3 1244.8,1328.5 1246.6,1329.7 1248.4,1330.9 1250.2,1332.1 1252,1333.2 1253.7,1334.2 1255.3,1335.1 1256.9,1336 1258.3,1336.7 1259.8,1337.3 1261.2,1337.8 1262.6,1338.3 1264.1,1338.8 1265.7,1339.3 1267.3,1339.8 1268.9,1340.4 1266.1,1349 1264.6,1348.6 1263.1,1348.2 1261.5,1347.8 1259.9,1347.4 1258.2,1347 1256.5,1346.4 1254.6,1345.8 1252.7,1345 1250.8,1344.2 1248.8,1343.2 1246.8,1342.2 1244.9,1341.2 1242.9,1340.1 1240.9,1339 1239,1337.9 1237,1336.7 1235.1,1335.6 1233.1,1334.4 1231.1,1333.2 1229.2,1332 1227.3,1330.8 1225.3,1329.6 1223.4,1328.4 1221.5,1327.2ZM1272,1344.7L1271.9,1345.7 1271.6,1346.7 1271,1347.5 1270.3,1348.2 1269.5,1348.8 1268.5,1349.1 1267.5,1349.2 1266.5,1349.1 1265.5,1348.8 1264.7,1348.2 1264,1347.5 1263.4,1346.7 1263.1,1345.7 1263,1344.7 1263.1,1343.7 1263.4,1342.7 1264,1341.9 1264.7,1341.2 1265.5,1340.6 1266.5,1340.3 1267.5,1340.2 1268.5,1340.3 1269.5,1340.6 1270.3,1341.2 1271,1341.9 1271.6,1342.7 1271.9,1343.7ZM1215.5,1337.1L1216.5,1339 1217.4,1340.9 1218.3,1342.8 1219.3,1344.7 1220.2,1346.6 1221.1,1348.5 1222.1,1350.4 1223,1352.3 1223.9,1354 1224.8,1355.8 1225.8,1357.5 1226.8,1359.4 1227.8,1361.3 1228.8,1363.3 1229.8,1365.5 1230.6,1367.8 1231.3,1370.1 1231.8,1372.5 1232.3,1374.9 1232.6,1377.2 1233,1379.5 1233.3,1381.8 1233.6,1384 1233.9,1386.1 1225.1,1387.9 1224.6,1385.6 1224.1,1383.3 1223.6,1381.1 1223.2,1378.9 1222.7,1376.8 1222.2,1374.8 1221.6,1373 1221,1371.2 1220.3,1369.6 1219.4,1368 1218.5,1366.4 1217.5,1364.8 1216.4,1363.2 1215.3,1361.4 1214.2,1359.6 1213,1357.7 1211.9,1355.9 1210.9,1354 1209.8,1352.2 1208.8,1350.3 1207.7,1348.5 1206.6,1346.6 1205.5,1344.8 1204.5,1342.9ZM1234,1387L1233.9,1388 1233.6,1389 1233,1389.8 1232.3,1390.5 1231.5,1391.1 1230.5,1391.4 1229.5,1391.5 1228.5,1391.4 1227.5,1391.1 1226.7,1390.5 1226,1389.8 1225.4,1389 1225.1,1388 1225,1387 1225.1,1386 1225.4,1385 1226,1384.2 1226.7,1383.5 1227.5,1382.9 1228.5,1382.6 1229.5,1382.5 1230.5,1382.6 1231.5,1382.9 1232.3,1383.5 1233,1384.2 1233.6,1385 1233.9,1386ZM1192.1,1346.4L1191.5,1348.6 1190.9,1350.8 1190.2,1353 1189.6,1355.2 1189,1357.4 1188.4,1359.4 1187.9,1361.4 1187.4,1363.2 1187,1365 1186.5,1366.6 1186,1368 1185.7,1369.1 1185.4,1370.1 1185.2,1371.1 1185.1,1372 1185.1,1373.1 1185.2,1374.4 1185.5,1376 1185.9,1377.7 1186.4,1379.6 1187,1381.5 1187.6,1383.6 1188.2,1385.7 1188.7,1387.7 1180.1,1390.3 1179.4,1388.4 1178.7,1386.5 1178,1384.6 1177.2,1382.6 1176.5,1380.5 1175.8,1378.4 1175.3,1376.2 1174.9,1374.1 1174.7,1372 1174.8,1370.1 1175,1368.3 1175.3,1366.7 1175.6,1365.2 1176,1363.8 1176.3,1362.4 1176.6,1360.8 1176.9,1358.9 1177.3,1356.8 1177.7,1354.7 1178.1,1352.5 1178.6,1350.2 1179,1348 1179.5,1345.7 1179.9,1343.6ZM1188.9,1389L1188.8,1390 1188.5,1391 1187.9,1391.8 1187.2,1392.5 1186.4,1393.1 1185.4,1393.4 1184.4,1393.5 1183.4,1393.4 1182.4,1393.1 1181.6,1392.5 1180.9,1391.8 1180.3,1391 1180,1390 1179.9,1389 1180,1388 1180.3,1387 1180.9,1386.2 1181.6,1385.5 1182.4,1384.9 1183.4,1384.6 1184.4,1384.5 1185.4,1384.6 1186.4,1384.9 1187.2,1385.5 1187.9,1386.2 1188.5,1387 1188.8,1388ZM1170.4,1345.1L1169.2,1347 1167.9,1349 1166.6,1351 1165.3,1353 1164.1,1355 1162.9,1356.9 1161.7,1358.7 1160.7,1360.5 1159.7,1362.2 1158.7,1363.8 1157.8,1365.3 1157,1366.8 1156.1,1368.4 1155.3,1369.9 1154.4,1371.4 1153.5,1373 1145.5,1369 1146.2,1367.4 1146.9,1365.8 1147.5,1364.2 1148.2,1362.5 1148.9,1360.9 1149.7,1359.2 1150.5,1357.4 1151.3,1355.5 1152.3,1353.6 1153.3,1351.5 1154.3,1349.5 1155.3,1347.3 1156.4,1345.2 1157.5,1343.1 1158.5,1341 1159.6,1338.9ZM1154,1371L1153.9,1372 1153.6,1373 1153,1373.8 1152.3,1374.5 1151.5,1375.1 1150.5,1375.4 1149.5,1375.5 1148.5,1375.4 1147.5,1375.1 1146.7,1374.5 1146,1373.8 1145.4,1373 1145.1,1372 1145,1371 1145.1,1370 1145.4,1369 1146,1368.2 1146.7,1367.5 1147.5,1366.9 1148.5,1366.6 1149.5,1366.5 1150.5,1366.6 1151.5,1366.9 1152.3,1367.5 1153,1368.2 1153.6,1369 1153.9,1370ZM1147.5,1295.4L1145.3,1296.3 1143,1297.2 1140.8,1298.1 1138.6,1298.9 1136.5,1299.8 1134.4,1300.6 1132.4,1301.5 1130.5,1302.4 1128.5,1303.4 1126.6,1304.5 1124.6,1305.6 1122.6,1306.8 1120.7,1307.9 1118.9,1309.1 1117.2,1310.2 1115.5,1311.3 1114.1,1312.3 1112.8,1313.3 1111.5,1314.3 1110.3,1315.3 1109.1,1316.4 1107.9,1317.4 1106.7,1318.5 1105.4,1319.6 1100.6,1314.4 1101.8,1313.3 1102.9,1312.1 1103.9,1311 1105.1,1309.8 1106.3,1308.6 1107.5,1307.3 1108.9,1306 1110.5,1304.7 1112.1,1303.4 1113.8,1302 1115.6,1300.6 1117.5,1299.1 1119.4,1297.7 1121.4,1296.3 1123.5,1294.9 1125.5,1293.6 1127.6,1292.3 1129.8,1291.1 1131.9,1289.9 1134.1,1288.8 1136.2,1287.8 1138.4,1286.7 1140.4,1285.6 1142.5,1284.6ZM1106.5,1317L1106.4,1317.8 1106.2,1318.5 1105.7,1319.2 1105.2,1319.7 1104.5,1320.2 1103.8,1320.4 1103,1320.5 1102.2,1320.4 1101.5,1320.2 1100.8,1319.7 1100.3,1319.2 1099.8,1318.5 1099.6,1317.8 1099.5,1317 1099.6,1316.2 1099.8,1315.5 1100.3,1314.8 1100.8,1314.3 1101.5,1313.8 1102.2,1313.6 1103,1313.5 1103.8,1313.6 1104.5,1313.8 1105.2,1314.3 1105.7,1314.8 1106.2,1315.5 1106.4,1316.2ZM1151.9,1340.7L1150.1,1341.2 1148.3,1341.7 1146.4,1342.3 1144.5,1342.9 1142.5,1343.5 1140.5,1344 1138.4,1344.5 1136.2,1345 1133.9,1345.4 1131.6,1345.7 1129.3,1345.9 1127,1346.1 1124.9,1346.3 1122.8,1346.6 1120.8,1346.8 1119.1,1347.1 1117.4,1347.5 1115.8,1347.9 1114.3,1348.4 1112.7,1348.9 1111.2,1349.5 1109.6,1350.1 1108,1350.7 1106.3,1351.2 1103.7,1344.8 1105.2,1344 1106.7,1343.3 1108.2,1342.6 1109.8,1341.8 1111.4,1341.1 1113.1,1340.3 1114.9,1339.6 1116.9,1338.9 1119.1,1338.3 1121.3,1337.8 1123.5,1337.3 1125.7,1336.9 1127.9,1336.4 1130,1336 1131.9,1335.5 1133.8,1335 1135.5,1334.4 1137.3,1333.8 1139,1333.1 1140.8,1332.4 1142.5,1331.6 1144.3,1330.8 1146.2,1330.1 1148.1,1329.3ZM1108.5,1348L1108.4,1348.8 1108.2,1349.5 1107.7,1350.2 1107.2,1350.7 1106.5,1351.2 1105.8,1351.4 1105,1351.5 1104.2,1351.4 1103.5,1351.2 1102.8,1350.7 1102.3,1350.2 1101.8,1349.5 1101.6,1348.8 1101.5,1348 1101.6,1347.2 1101.8,1346.5 1102.3,1345.8 1102.8,1345.3 1103.5,1344.8 1104.2,1344.6 1105,1344.5 1105.8,1344.6 1106.5,1344.8 1107.2,1345.3 1107.7,1345.8 1108.2,1346.5 1108.4,1347.2Z" fill="#a4487a" stroke="#a4487a" stroke-width="2.4" stroke-linejoin="round" /><path d="M1235,1303L1234.8,1307 1234.3,1311 1233.5,1315 1232.4,1318.8 1231,1322.6 1229.3,1326.2 1227.3,1329.7 1225,1333 1222.4,1336.2 1219.6,1339.1 1216.6,1341.7 1213.4,1344.1 1210,1346.3 1206.4,1348.2 1202.7,1349.8 1198.9,1351 1195,1352 1191,1352.6 1187,1353 1183,1353 1179,1352.6 1175,1352 1171.1,1351 1167.3,1349.8 1163.6,1348.2 1160,1346.3 1156.6,1344.1 1153.4,1341.7 1150.4,1339.1 1147.6,1336.2 1145,1333 1142.7,1329.7 1140.7,1326.2 1139,1322.6 1137.6,1318.8 1136.5,1315 1135.7,1311 1135.2,1307 1135,1303 1135.2,1299 1135.7,1295 1136.5,1291 1137.6,1287.2 1139,1283.4 1140.7,1279.8 1142.7,1276.3 1145,1273 1147.6,1269.8 1150.4,1266.9 1153.4,1264.3 1156.6,1261.9 1160,1259.7 1163.6,1257.8 1167.3,1256.2 1171.1,1255 1175,1254 1179,1253.4 1183,1253 1187,1253 1191,1253.4 1195,1254 1198.9,1255 1202.7,1256.2 1206.4,1257.8 1210,1259.7 1213.4,1261.9 1216.6,1264.3 1219.6,1266.9 1222.4,1269.8 1225,1273 1227.3,1276.3 1229.3,1279.8 1231,1283.4 1232.4,1287.2 1233.5,1291 1234.3,1295 1234.8,1299ZM1173.9,1263.5L1173.5,1261.4 1173,1259.3 1172.5,1257.1 1172,1254.9 1171.5,1252.6 1171.1,1250.3 1170.7,1248 1170.4,1245.8 1170.3,1243.6 1170.1,1241.6 1170,1239.5 1170,1237.4 1170.1,1235.2 1170.3,1233.1 1170.6,1230.9 1171.1,1228.7 1171.9,1226.5 1172.8,1224.5 1173.9,1222.6 1175,1220.9 1176.1,1219.3 1177.2,1217.7 1178.2,1216.3 1179.1,1214.8 1186.9,1219.2 1186,1221 1185,1222.7 1184,1224.3 1183.1,1225.9 1182.3,1227.3 1181.7,1228.7 1181.2,1230 1180.9,1231.3 1180.7,1232.6 1180.6,1234 1180.6,1235.5 1180.6,1237.1 1180.8,1238.8 1181,1240.6 1181.3,1242.4 1181.6,1244.2 1181.9,1246.1 1182.3,1247.9 1182.9,1249.9 1183.5,1251.9 1184.1,1254 1184.8,1256.1 1185.5,1258.3 1186.1,1260.5ZM1187.5,1217L1187.4,1218 1187.1,1219 1186.5,1219.8 1185.8,1220.5 1185,1221.1 1184,1221.4 1183,1221.5 1182,1221.4 1181,1221.1 1180.2,1220.5 1179.5,1219.8 1178.9,1219 1178.6,1218 1178.5,1217 1178.6,1216 1178.9,1215 1179.5,1214.2 1180.2,1213.5 1181,1212.9 1182,1212.6 1183,1212.5 1184,1212.6 1185,1212.9 1185.8,1213.5 1186.5,1214.2 1187.1,1215 1187.4,1216ZM1151.8,1265.9L1151.6,1263.7 1151.3,1261.5 1151.1,1259.2 1150.8,1256.9 1150.6,1254.5 1150.3,1252.2 1150.2,1249.8 1150.1,1247.4 1150,1245 1150.1,1242.8 1150.2,1240.5 1150.3,1238.3 1150.5,1236.2 1150.6,1234.1 1150.8,1232.1 1150.9,1230 1159.9,1230 1160,1232.2 1160,1234.3 1160.1,1236.4 1160.2,1238.5 1160.2,1240.6 1160.3,1242.6 1160.5,1244.6 1160.7,1246.6 1161,1248.6 1161.4,1250.7 1161.8,1252.8 1162.3,1255 1162.7,1257.2 1163.2,1259.5 1163.7,1261.8 1164.2,1264.1ZM1159.9,1230L1159.8,1231 1159.5,1232 1158.9,1232.8 1158.2,1233.5 1157.4,1234.1 1156.4,1234.4 1155.4,1234.5 1154.4,1234.4 1153.4,1234.1 1152.6,1233.5 1151.9,1232.8 1151.3,1232 1151,1231 1150.9,1230 1151,1229 1151.3,1228 1151.9,1227.2 1152.6,1226.5 1153.4,1225.9 1154.4,1225.6 1155.4,1225.5 1156.4,1225.6 1157.4,1225.9 1158.2,1226.5 1158.9,1227.2 1159.5,1228 1159.8,1229ZM1197.9,1263.1L1197.6,1261 1197.2,1258.8 1196.9,1256.5 1196.6,1254.3 1196.2,1252 1196,1249.8 1195.7,1247.6 1195.6,1245.6 1195.4,1243.8 1195.3,1242.1 1195.2,1240.3 1195.1,1238.5 1195.2,1236.7 1195.4,1234.8 1195.8,1232.9 1196.5,1230.9 1197.8,1229 1199.3,1227.5 1200.8,1226.4 1202.3,1225.7 1203.6,1225.1 1204.8,1224.6 1205.7,1224.2 1206.7,1223.7 1211.3,1231.3 1210.2,1232.1 1208.9,1232.9 1207.7,1233.5 1206.7,1234 1206,1234.5 1205.6,1234.8 1205.5,1235 1205.5,1235.1 1205.4,1235.4 1205.4,1236 1205.4,1236.9 1205.5,1238 1205.7,1239.4 1205.9,1240.9 1206.2,1242.6 1206.4,1244.4 1206.7,1246.1 1207.1,1248 1207.6,1250 1208.1,1252.1 1208.6,1254.3 1209.1,1256.5 1209.7,1258.7 1210.1,1260.9ZM1213.5,1227.5L1213.4,1228.5 1213.1,1229.5 1212.5,1230.3 1211.8,1231 1211,1231.6 1210,1231.9 1209,1232 1208,1231.9 1207,1231.6 1206.2,1231 1205.5,1230.3 1204.9,1229.5 1204.6,1228.5 1204.5,1227.5 1204.6,1226.5 1204.9,1225.5 1205.5,1224.7 1206.2,1224 1207,1223.4 1208,1223.1 1209,1223 1210,1223.1 1211,1223.4 1211.8,1224 1212.5,1224.7 1213.1,1225.5 1213.4,1226.5ZM1218.6,1271.8L1220,1269.7 1221.4,1267.5 1222.8,1265.4 1224.2,1263.2 1225.6,1261.1 1226.9,1259.1 1228.1,1257.2 1229.1,1255.4 1230,1253.8 1230.8,1252.2 1231.6,1250.6 1232.3,1249 1233,1247.4 1233.8,1245.7 1234.8,1244 1235.8,1242.3 1237,1240.8 1238.1,1239.4 1239.3,1238.1 1240.5,1237 1241.6,1235.9 1242.7,1234.9 1243.7,1234 1244.7,1232.9 1251.3,1239.1 1250.3,1240.2 1249.2,1241.4 1248.2,1242.5 1247.3,1243.5 1246.4,1244.5 1245.6,1245.6 1244.9,1246.6 1244.2,1247.7 1243.6,1248.8 1243.1,1250 1242.5,1251.4 1242,1253 1241.3,1254.7 1240.6,1256.5 1239.8,1258.5 1238.9,1260.6 1237.8,1262.7 1236.7,1264.8 1235.5,1267 1234.3,1269.3 1233,1271.5 1231.8,1273.8 1230.6,1276 1229.4,1278.2ZM1252.5,1236L1252.4,1237 1252.1,1238 1251.5,1238.8 1250.8,1239.5 1250,1240.1 1249,1240.4 1248,1240.5 1247,1240.4 1246,1240.1 1245.2,1239.5 1244.5,1238.8 1243.9,1238 1243.6,1237 1243.5,1236 1243.6,1235 1243.9,1234 1244.5,1233.2 1245.2,1232.5 1246,1231.9 1247,1231.6 1248,1231.5 1249,1231.6 1250,1231.9 1250.8,1232.5 1251.5,1233.2 1252.1,1234 1252.4,1235ZM1144.7,1281.3L1143.5,1279.2 1142.3,1277.1 1141.1,1275 1139.9,1272.8 1138.7,1270.8 1137.6,1268.7 1136.4,1266.8 1135.4,1265 1134.4,1263.3 1133.4,1261.7 1132.4,1260.2 1131.3,1258.6 1130.3,1257.1 1129.4,1255.5 1128.4,1253.9 1127.6,1252.2 1126.9,1250.5 1126.4,1248.9 1125.9,1247.4 1125.6,1246 1125.4,1244.7 1125.2,1243.5 1124.9,1242.4 1124.7,1241.2 1133.3,1238.8 1133.7,1240.1 1134.1,1241.4 1134.4,1242.6 1134.8,1243.7 1135.1,1244.8 1135.4,1245.8 1135.9,1246.8 1136.4,1247.8 1137.1,1248.9 1137.8,1250 1138.8,1251.3 1139.8,1252.6 1140.9,1254.1 1142.1,1255.6 1143.4,1257.3 1144.6,1259 1145.9,1260.8 1147.2,1262.7 1148.5,1264.7 1149.9,1266.7 1151.2,1268.7 1152.6,1270.7 1154,1272.7 1155.3,1274.7ZM1133.5,1240L1133.4,1241 1133.1,1242 1132.5,1242.8 1131.8,1243.5 1131,1244.1 1130,1244.4 1129,1244.5 1128,1244.4 1127,1244.1 1126.2,1243.5 1125.5,1242.8 1124.9,1242 1124.6,1241 1124.5,1240 1124.6,1239 1124.9,1238 1125.5,1237.2 1126.2,1236.5 1127,1235.9 1128,1235.6 1129,1235.5 1130,1235.6 1131,1235.9 1131.8,1236.5 1132.5,1237.2 1133.1,1238 1133.4,1239ZM1137.6,1294.5L1136.3,1293 1135,1291.6 1133.7,1290.2 1132.3,1288.7 1130.9,1287.1 1129.5,1285.6 1128.2,1284 1126.9,1282.4 1125.8,1280.7 1124.7,1279.1 1123.9,1277.5 1123,1276 1122.3,1274.5 1121.6,1273.1 1120.9,1271.7 1120.2,1270.4 1127.8,1265.6 1128.8,1267 1129.7,1268.4 1130.6,1269.7 1131.5,1271 1132.3,1272.2 1133.2,1273.4 1134.1,1274.5 1135.1,1275.6 1136.2,1276.8 1137.4,1277.9 1138.8,1279.1 1140.2,1280.3 1141.7,1281.6 1143.3,1282.9 1144.9,1284.2 1146.4,1285.5ZM1128.5,1268L1128.4,1269 1128.1,1270 1127.5,1270.8 1126.8,1271.5 1126,1272.1 1125,1272.4 1124,1272.5 1123,1272.4 1122,1272.1 1121.2,1271.5 1120.5,1270.8 1119.9,1270 1119.6,1269 1119.5,1268 1119.6,1267 1119.9,1266 1120.5,1265.2 1121.2,1264.5 1122,1263.9 1123,1263.6 1124,1263.5 1125,1263.6 1126,1263.9 1126.8,1264.5 1127.5,1265.2 1128.1,1266 1128.4,1267ZM1226.4,1284L1228.3,1283.6 1230.3,1283.2 1232.3,1282.8 1234.3,1282.4 1236.2,1282 1238.1,1281.6 1239.9,1281.3 1241.6,1280.9 1243.2,1280.6 1244.7,1280.3 1246.1,1280 1247.5,1279.8 1248.8,1279.5 1250.1,1279.2 1251.4,1278.9 1252.8,1278.7 1255.2,1287.3 1253.9,1287.8 1252.6,1288.2 1251.3,1288.7 1250,1289.1 1248.7,1289.6 1247.4,1290 1245.9,1290.5 1244.4,1291.1 1242.7,1291.6 1240.9,1292.2 1239.1,1292.8 1237.2,1293.5 1235.3,1294.1 1233.4,1294.8 1231.5,1295.4 1229.6,1296ZM1258.5,1283L1258.4,1284 1258.1,1285 1257.5,1285.8 1256.8,1286.5 1256,1287.1 1255,1287.4 1254,1287.5 1253,1287.4 1252,1287.1 1251.2,1286.5 1250.5,1285.8 1249.9,1285 1249.6,1284 1249.5,1283 1249.6,1282 1249.9,1281 1250.5,1280.2 1251.2,1279.5 1252,1278.9 1253,1278.6 1254,1278.5 1255,1278.6 1256,1278.9 1256.8,1279.5 1257.5,1280.2 1258.1,1281 1258.4,1282ZM1229.2,1298.8L1231.1,1298.7 1233.1,1298.6 1235.1,1298.5 1237,1298.3 1238.9,1298.2 1240.8,1298.1 1242.5,1298 1244.1,1297.8 1245.6,1297.7 1247,1297.5 1248.3,1297.3 1249.6,1297.1 1250.9,1296.8 1252.2,1296.6 1253.6,1296.4 1255,1296.1 1257,1304.9 1255.7,1305.3 1254.5,1305.7 1253.2,1306.1 1251.9,1306.5 1250.5,1306.9 1249.1,1307.3 1247.5,1307.8 1245.9,1308.2 1244.1,1308.6 1242.3,1309 1240.4,1309.3 1238.5,1309.7 1236.5,1310.1 1234.6,1310.5 1232.7,1310.8 1230.8,1311.2ZM1260.5,1300.5L1260.4,1301.5 1260.1,1302.5 1259.5,1303.3 1258.8,1304 1258,1304.6 1257,1304.9 1256,1305 1255,1304.9 1254,1304.6 1253.2,1304 1252.5,1303.3 1251.9,1302.5 1251.6,1301.5 1251.5,1300.5 1251.6,1299.5 1251.9,1298.5 1252.5,1297.7 1253.2,1297 1254,1296.4 1255,1296.1 1256,1296 1257,1296.1 1258,1296.4 1258.8,1297 1259.5,1297.7 1260.1,1298.5 1260.4,1299.5ZM1228.5,1316.8L1230.3,1318.1 1232.2,1319.5 1234,1320.9 1235.8,1322.2 1237.6,1323.5 1239.4,1324.8 1241.2,1326 1243,1327.3 1244.8,1328.5 1246.6,1329.7 1248.4,1330.9 1250.2,1332.1 1252,1333.2 1253.7,1334.2 1255.3,1335.1 1256.9,1336 1258.3,1336.7 1259.8,1337.3 1261.2,1337.8 1262.6,1338.3 1264.1,1338.8 1265.7,1339.3 1267.3,1339.8 1268.9,1340.4 1266.1,1349 1264.6,1348.6 1263.1,1348.2 1261.5,1347.8 1259.9,1347.4 1258.2,1347 1256.5,1346.4 1254.6,1345.8 1252.7,1345 1250.8,1344.2 1248.8,1343.2 1246.8,1342.2 1244.9,1341.2 1242.9,1340.1 1240.9,1339 1239,1337.9 1237,1336.7 1235.1,1335.6 1233.1,1334.4 1231.1,1333.2 1229.2,1332 1227.3,1330.8 1225.3,1329.6 1223.4,1328.4 1221.5,1327.2ZM1272,1344.7L1271.9,1345.7 1271.6,1346.7 1271,1347.5 1270.3,1348.2 1269.5,1348.8 1268.5,1349.1 1267.5,1349.2 1266.5,1349.1 1265.5,1348.8 1264.7,1348.2 1264,1347.5 1263.4,1346.7 1263.1,1345.7 1263,1344.7 1263.1,1343.7 1263.4,1342.7 1264,1341.9 1264.7,1341.2 1265.5,1340.6 1266.5,1340.3 1267.5,1340.2 1268.5,1340.3 1269.5,1340.6 1270.3,1341.2 1271,1341.9 1271.6,1342.7 1271.9,1343.7ZM1215.5,1337.1L1216.5,1339 1217.4,1340.9 1218.3,1342.8 1219.3,1344.7 1220.2,1346.6 1221.1,1348.5 1222.1,1350.4 1223,1352.3 1223.9,1354 1224.8,1355.8 1225.8,1357.5 1226.8,1359.4 1227.8,1361.3 1228.8,1363.3 1229.8,1365.5 1230.6,1367.8 1231.3,1370.1 1231.8,1372.5 1232.3,1374.9 1232.6,1377.2 1233,1379.5 1233.3,1381.8 1233.6,1384 1233.9,1386.1 1225.1,1387.9 1224.6,1385.6 1224.1,1383.3 1223.6,1381.1 1223.2,1378.9 1222.7,1376.8 1222.2,1374.8 1221.6,1373 1221,1371.2 1220.3,1369.6 1219.4,1368 1218.5,1366.4 1217.5,1364.8 1216.4,1363.2 1215.3,1361.4 1214.2,1359.6 1213,1357.7 1211.9,1355.9 1210.9,1354 1209.8,1352.2 1208.8,1350.3 1207.7,1348.5 1206.6,1346.6 1205.5,1344.8 1204.5,1342.9ZM1234,1387L1233.9,1388 1233.6,1389 1233,1389.8 1232.3,1390.5 1231.5,1391.1 1230.5,1391.4 1229.5,1391.5 1228.5,1391.4 1227.5,1391.1 1226.7,1390.5 1226,1389.8 1225.4,1389 1225.1,1388 1225,1387 1225.1,1386 1225.4,1385 1226,1384.2 1226.7,1383.5 1227.5,1382.9 1228.5,1382.6 1229.5,1382.5 1230.5,1382.6 1231.5,1382.9 1232.3,1383.5 1233,1384.2 1233.6,1385 1233.9,1386ZM1192.1,1346.4L1191.5,1348.6 1190.9,1350.8 1190.2,1353 1189.6,1355.2 1189,1357.4 1188.4,1359.4 1187.9,1361.4 1187.4,1363.2 1187,1365 1186.5,1366.6 1186,1368 1185.7,1369.1 1185.4,1370.1 1185.2,1371.1 1185.1,1372 1185.1,1373.1 1185.2,1374.4 1185.5,1376 1185.9,1377.7 1186.4,1379.6 1187,1381.5 1187.6,1383.6 1188.2,1385.7 1188.7,1387.7 1180.1,1390.3 1179.4,1388.4 1178.7,1386.5 1178,1384.6 1177.2,1382.6 1176.5,1380.5 1175.8,1378.4 1175.3,1376.2 1174.9,1374.1 1174.7,1372 1174.8,1370.1 1175,1368.3 1175.3,1366.7 1175.6,1365.2 1176,1363.8 1176.3,1362.4 1176.6,1360.8 1176.9,1358.9 1177.3,1356.8 1177.7,1354.7 1178.1,1352.5 1178.6,1350.2 1179,1348 1179.5,1345.7 1179.9,1343.6ZM1188.9,1389L1188.8,1390 1188.5,1391 1187.9,1391.8 1187.2,1392.5 1186.4,1393.1 1185.4,1393.4 1184.4,1393.5 1183.4,1393.4 1182.4,1393.1 1181.6,1392.5 1180.9,1391.8 1180.3,1391 1180,1390 1179.9,1389 1180,1388 1180.3,1387 1180.9,1386.2 1181.6,1385.5 1182.4,1384.9 1183.4,1384.6 1184.4,1384.5 1185.4,1384.6 1186.4,1384.9 1187.2,1385.5 1187.9,1386.2 1188.5,1387 1188.8,1388ZM1170.4,1345.1L1169.2,1347 1167.9,1349 1166.6,1351 1165.3,1353 1164.1,1355 1162.9,1356.9 1161.7,1358.7 1160.7,1360.5 1159.7,1362.2 1158.7,1363.8 1157.8,1365.3 1157,1366.8 1156.1,1368.4 1155.3,1369.9 1154.4,1371.4 1153.5,1373 1145.5,1369 1146.2,1367.4 1146.9,1365.8 1147.5,1364.2 1148.2,1362.5 1148.9,1360.9 1149.7,1359.2 1150.5,1357.4 1151.3,1355.5 1152.3,1353.6 1153.3,1351.5 1154.3,1349.5 1155.3,1347.3 1156.4,1345.2 1157.5,1343.1 1158.5,1341 1159.6,1338.9ZM1154,1371L1153.9,1372 1153.6,1373 1153,1373.8 1152.3,1374.5 1151.5,1375.1 1150.5,1375.4 1149.5,1375.5 1148.5,1375.4 1147.5,1375.1 1146.7,1374.5 1146,1373.8 1145.4,1373 1145.1,1372 1145,1371 1145.1,1370 1145.4,1369 1146,1368.2 1146.7,1367.5 1147.5,1366.9 1148.5,1366.6 1149.5,1366.5 1150.5,1366.6 1151.5,1366.9 1152.3,1367.5 1153,1368.2 1153.6,1369 1153.9,1370ZM1147.5,1295.4L1145.3,1296.3 1143,1297.2 1140.8,1298.1 1138.6,1298.9 1136.5,1299.8 1134.4,1300.6 1132.4,1301.5 1130.5,1302.4 1128.5,1303.4 1126.6,1304.5 1124.6,1305.6 1122.6,1306.8 1120.7,1307.9 1118.9,1309.1 1117.2,1310.2 1115.5,1311.3 1114.1,1312.3 1112.8,1313.3 1111.5,1314.3 1110.3,1315.3 1109.1,1316.4 1107.9,1317.4 1106.7,1318.5 1105.4,1319.6 1100.6,1314.4 1101.8,1313.3 1102.9,1312.1 1103.9,1311 1105.1,1309.8 1106.3,1308.6 1107.5,1307.3 1108.9,1306 1110.5,1304.7 1112.1,1303.4 1113.8,1302 1115.6,1300.6 1117.5,1299.1 1119.4,1297.7 1121.4,1296.3 1123.5,1294.9 1125.5,1293.6 1127.6,1292.3 1129.8,1291.1 1131.9,1289.9 1134.1,1288.8 1136.2,1287.8 1138.4,1286.7 1140.4,1285.6 1142.5,1284.6ZM1106.5,1317L1106.4,1317.8 1106.2,1318.5 1105.7,1319.2 1105.2,1319.7 1104.5,1320.2 1103.8,1320.4 1103,1320.5 1102.2,1320.4 1101.5,1320.2 1100.8,1319.7 1100.3,1319.2 1099.8,1318.5 1099.6,1317.8 1099.5,1317 1099.6,1316.2 1099.8,1315.5 1100.3,1314.8 1100.8,1314.3 1101.5,1313.8 1102.2,1313.6 1103,1313.5 1103.8,1313.6 1104.5,1313.8 1105.2,1314.3 1105.7,1314.8 1106.2,1315.5 1106.4,1316.2ZM1151.9,1340.7L1150.1,1341.2 1148.3,1341.7 1146.4,1342.3 1144.5,1342.9 1142.5,1343.5 1140.5,1344 1138.4,1344.5 1136.2,1345 1133.9,1345.4 1131.6,1345.7 1129.3,1345.9 1127,1346.1 1124.9,1346.3 1122.8,1346.6 1120.8,1346.8 1119.1,1347.1 1117.4,1347.5 1115.8,1347.9 1114.3,1348.4 1112.7,1348.9 1111.2,1349.5 1109.6,1350.1 1108,1350.7 1106.3,1351.2 1103.7,1344.8 1105.2,1344 1106.7,1343.3 1108.2,1342.6 1109.8,1341.8 1111.4,1341.1 1113.1,1340.3 1114.9,1339.6 1116.9,1338.9 1119.1,1338.3 1121.3,1337.8 1123.5,1337.3 1125.7,1336.9 1127.9,1336.4 1130,1336 1131.9,1335.5 1133.8,1335 1135.5,1334.4 1137.3,1333.8 1139,1333.1 1140.8,1332.4 1142.5,1331.6 1144.3,1330.8 1146.2,1330.1 1148.1,1329.3ZM1108.5,1348L1108.4,1348.8 1108.2,1349.5 1107.7,1350.2 1107.2,1350.7 1106.5,1351.2 1105.8,1351.4 1105,1351.5 1104.2,1351.4 1103.5,1351.2 1102.8,1350.7 1102.3,1350.2 1101.8,1349.5 1101.6,1348.8 1101.5,1348 1101.6,1347.2 1101.8,1346.5 1102.3,1345.8 1102.8,1345.3 1103.5,1344.8 1104.2,1344.6 1105,1344.5 1105.8,1344.6 1106.5,1344.8 1107.2,1345.3 1107.7,1345.8 1108.2,1346.5 1108.4,1347.2Z" fill="#c27898"/><path d="M1122,1309L1123.9,1307.7 1125.8,1306.3 1127.8,1304.9 1129.9,1303.7 1132,1303 1134.2,1302.8 1136.5,1302.9 1138.8,1303.3 1141,1304 1143,1305 1144.8,1306.3 1146.4,1308 1147.9,1309.9 1149.1,1312 1150,1314 1150.6,1316.1 1150.8,1318.4 1150.8,1320.7 1150.6,1323 1150,1325 1149.1,1326.9 1148,1328.7 1146.6,1330.4 1144.9,1331.8 1143,1333 1140.8,1333.8 1138.2,1334.4 1135.4,1334.7 1132.6,1334.9 1130,1335 1127.4,1335 1124.8,1335 1122.3,1334.8 1120,1334.4 1118,1334 1116.4,1333.5 1115,1332.8 1113.8,1332 1112.8,1331.1 1112,1330 1111.2,1328.7 1110.6,1327.1 1110.2,1325.4 1110,1323.7 1110,1322 1110.4,1320.4 1111,1318.7 1111.8,1317 1112.8,1315.4 1114,1314 1115.3,1312.8 1116.8,1311.8 1118.5,1310.9 1120.2,1310Z" fill="#f3f0fa" stroke="#a4487a" stroke-width="1.2"/><path d="M1108,1316 L1122,1306 L1118,1338 L1106,1342Z" fill="#f3f0fa"/><circle cx="1161.6" cy="1269.3" r="9.5" fill="#fbf6f8" stroke="#c98aa8" stroke-width="1.2"/><use href="#virus" transform="translate(1161.6 1269.3) rotate(20) scale(0.270)"/><circle cx="1187" cy="1295.8" r="22" fill="#8f3b77"/><path d="M1529.9,1241L1529.3,1243.7 1528.1,1246.3 1526.6,1248.9 1525.1,1251.5 1524,1254.2 1523.5,1256.9 1523.3,1259.8 1523.2,1262.6 1522.8,1265.3 1522,1267.8 1520.5,1269.9 1518.5,1271.8 1516.3,1273.5 1514.2,1275.3 1512.3,1277.4 1510.9,1279.8 1509.8,1282.5 1508.7,1285.2 1507.4,1287.8 1505.8,1289.8 1503.7,1291.3 1501.2,1292.3 1498.6,1293.2 1495.9,1294.1 1493.4,1295.3 1491.1,1297 1488.9,1299.1 1486.7,1301.2 1484.4,1303 1482,1304.2 1479.4,1304.6 1476.6,1304.3 1473.7,1303.7 1470.8,1303.1 1468,1302.9 1465.1,1303.2 1462.2,1303.8 1459.4,1304.5 1456.6,1304.8 1453.9,1304.5 1451.5,1303.4 1449.2,1301.6 1447,1299.5 1444.7,1297.4 1442.4,1295.7 1439.9,1294.5 1437.2,1293.6 1434.5,1292.8 1432,1291.7 1429.9,1290.2 1428.3,1288.1 1427.1,1285.5 1426,1282.7 1424.9,1280 1423.5,1277.5 1421.7,1275.4 1419.6,1273.6 1417.5,1271.8 1415.5,1269.9 1414.1,1267.7 1413.3,1265.2 1413,1262.5 1413,1259.7 1412.9,1256.8 1412.4,1254.1 1411.3,1251.4 1409.9,1248.8 1408.4,1246.2 1407.2,1243.6 1406.6,1241 1406.8,1238.3 1407.5,1235.7 1408.6,1233 1409.6,1230.2 1410.3,1227.4 1410.4,1224.5 1410.3,1221.4 1410.1,1218.3 1410.2,1215.3 1410.9,1212.7 1412.3,1210.4 1414.4,1208.3 1416.7,1206.5 1419.1,1204.6 1421.1,1202.5 1422.7,1200.1 1424.1,1197.4 1425.5,1194.8 1427,1192.4 1428.9,1190.5 1431.3,1189.3 1434.1,1188.6 1437.1,1188.2 1440,1187.8 1442.8,1187 1445.2,1185.7 1447.5,1184.1 1449.8,1182.5 1452.1,1181.1 1454.6,1180.3 1457.1,1180.3 1459.8,1180.8 1462.5,1181.6 1465.3,1182.4 1468,1182.7 1470.7,1182.4 1473.4,1181.8 1476.1,1181.1 1478.8,1180.6 1481.4,1180.7 1483.8,1181.5 1486.1,1182.9 1488.3,1184.6 1490.6,1186.2 1493,1187.5 1495.7,1188.2 1498.7,1188.7 1501.6,1189.1 1504.4,1189.7 1506.8,1190.9 1508.7,1192.7 1510.3,1195.1 1511.7,1197.6 1513.1,1200.2 1514.7,1202.6 1516.8,1204.6 1519.2,1206.5 1521.6,1208.4 1523.7,1210.3 1525.2,1212.6 1526,1215.3 1526.1,1218.2 1526,1221.3 1525.9,1224.4 1526.1,1227.3 1526.8,1230.1 1527.9,1232.9 1529,1235.6 1529.8,1238.3Z" fill="#e5cfe1" stroke="#c99fd2" stroke-width="1.4"/><path d="M1443.1,1203.6L1445.5,1202.5 1448.2,1201.5 1451,1200.7 1453.8,1200.2 1456.5,1200 1458.9,1200.2 1461.2,1200.9 1463.4,1202 1465.5,1203.4 1467.4,1205.2 1469,1207.1 1470.3,1209.3 1471,1211.9 1471.2,1214.9 1471.2,1218.2 1471.1,1221.5 1471.1,1224.7 1471.4,1227.4 1472,1229.8 1472.7,1231.9 1473.4,1233.9 1474.4,1235.7 1475.6,1237.3 1477.1,1238.7 1478.9,1239.8 1481.1,1240.5 1483.6,1241 1486.1,1241.5 1488.5,1242.2 1490.6,1243.3 1492.7,1244.7 1494.7,1246.3 1496.7,1248.1 1498.4,1250.1 1499.8,1252.3 1500.8,1254.6 1501.4,1257.1 1501.7,1259.9 1501.6,1262.9 1501.2,1265.9 1500.6,1268.8 1499.7,1271.6 1498.5,1274.3 1496.8,1277 1495,1279.6 1492.9,1282.1 1490.6,1284.4 1488.4,1286.3 1486,1287.9 1483.4,1289.3 1480.7,1290.5 1478,1291.4 1475.2,1291.9 1472.5,1291.9 1469.9,1291.6 1467.2,1290.9 1464.6,1289.8 1462,1288.3 1459.3,1286.3 1456.7,1284 1454,1281.1 1451.2,1277.7 1448.4,1273.8 1445.7,1269.7 1443.1,1265.5 1440.8,1261.4 1438.7,1257.2 1436.6,1252.8 1434.7,1248.3 1433,1243.8 1431.6,1239.5 1430.6,1235.3 1430.1,1231.4 1429.8,1227.4 1429.9,1223.6 1430.2,1220 1430.9,1216.7 1431.8,1213.8 1433,1211.4 1434.6,1209.3 1436.5,1207.6 1438.6,1206.1 1440.8,1204.8Z" fill="#c38fc3"/><use href="#rec" transform="translate(1521.4 1211) rotate(-110) scale(-0.9 0.9)"/><rect x="635" y="1331.6" width="168.7" height="142.2" rx="25" fill="#e9f0fb" stroke="#8fa5d1" stroke-width="2.6" stroke-dasharray="2.6 3.4"/><g stroke="#265a9c" stroke-width="3.2"><line x1="705" y1="1335" x2="705" y2="1360"/><line x1="725.8" y1="1335" x2="725.8" y2="1360"/></g><line x1="705" y1="1353" x2="725.8" y2="1353" stroke="#5a86c0" stroke-width="1.2"/><rect x="696.8" y="1359" width="16.2" height="24" rx="2.5" fill="#86a8d1" stroke="#5c88c0" stroke-width="1"/><path d="M696.8,1382 h16.2 v24 l-5,-1.5 l-3,2.5 l-3,-2.5 l-5.2,1.5Z" fill="#86a8d1" stroke="#5c88c0" stroke-width="1" stroke-linejoin="round"/><rect x="717.7" y="1359" width="16.2" height="24" rx="2.5" fill="#86a8d1" stroke="#5c88c0" stroke-width="1"/><path d="M717.7,1382 h16.2 v24 l-5,-1.5 l-3,2.5 l-3,-2.5 l-5.2,1.5Z" fill="#86a8d1" stroke="#5c88c0" stroke-width="1" stroke-linejoin="round"/><g stroke="#c03a62" stroke-width="4"><line x1="704.4" y1="1454" x2="704.4" y2="1473"/><line x1="725.3" y1="1454" x2="725.3" y2="1473"/></g><path d="M695,1416 Q695,1413 698,1413 Q702,1413 703,1417 Q705,1423 710,1426 Q713,1428 713,1432 V1454.7 H695Z" fill="#e8889e" stroke="#d25474" stroke-width="1"/><path d="M734.8,1416 Q734.8,1413 731.8,1413 Q727.8,1413 726.8,1417 Q724.8,1423 719.8,1426 Q716.8,1428 716.8,1432 V1454.7 H734.8Z" fill="#e8889e" stroke="#d25474" stroke-width="1"/><line x1="745.9" y1="1333" x2="745.9" y2="1430" stroke="#5c3a7a" stroke-width="1.8"/><rect x="740.5" y="1371" width="11" height="18.5" rx="2" fill="#8a689f" stroke="#7a588f" stroke-width="0.8"/><rect x="740.5" y="1391" width="11" height="23" rx="2" fill="#8a689f" stroke="#7a588f" stroke-width="0.8"/><rect x="740" y="1425" width="10.5" height="20" rx="2" fill="#8a689f" stroke="#7a588f" stroke-width="0.8"/><path d="M738,1446 h12 l-1,22 l-14.5,-1Z" fill="#8a689f" stroke="#7a588f" stroke-width="0.8" stroke-linejoin="round"/><g stroke="#0e8e96" stroke-width="1.2"><line x1="760" y1="1335" x2="760" y2="1470"/><line x1="763.5" y1="1335" x2="763.5" y2="1473"/><line x1="767" y1="1335" x2="767" y2="1470"/></g><rect x="756.4" y="1360" width="14.2" height="13" rx="3.5" fill="#0e8e96" stroke="#0a7a84" stroke-width="0.8"/><rect x="756.4" y="1372.5" width="14.2" height="13" rx="3.5" fill="#0e8e96" stroke="#0a7a84" stroke-width="0.8"/><rect x="756.4" y="1385" width="14.2" height="13" rx="3.5" fill="#0e8e96" stroke="#0a7a84" stroke-width="0.8"/><rect x="756.4" y="1397.5" width="14.2" height="13" rx="3.5" fill="#0e8e96" stroke="#0a7a84" stroke-width="0.8"/><rect x="756.4" y="1410" width="14.2" height="13" rx="3.5" fill="#0e8e96" stroke="#0a7a84" stroke-width="0.8"/><rect x="758" y="1447" width="11.5" height="25" rx="2.5" fill="#0e8e96" stroke="#0a7a84" stroke-width="0.8"/><use href="#virus" transform="translate(262 321) rotate(10)"/><use href="#virus" transform="translate(719 354.3) rotate(25) scale(0.800)"/><use href="#virus" transform="translate(886 327) rotate(-15) scale(0.800)"/><use href="#virus" transform="translate(1345 177) rotate(5)"/><use href="#virus" transform="translate(1662 842) rotate(8)"/><use href="#virus" transform="translate(319.3 1167) rotate(20)"/><use href="#virus" transform="translate(1434.8 973) rotate(12)"/><use href="#virus" transform="translate(1588 1183) scale(0.950)"/><use href="#virus" transform="translate(602.8 1628) rotate(8)"/><use href="#virus" transform="translate(1375 1643.6) scale(0.830)"/><use href="#virus" transform="translate(1025.3 1736.7) rotate(10)"/><use href="#virus" transform="translate(1771 1759.7) rotate(15)"/><use href="#virus" transform="translate(678.7 1410) scale(0.600)"/><use href="#virus" transform="translate(1132.6 1319.8) rotate(10) scale(0.360)"/><linearGradient id="ga1" gradientUnits="userSpaceOnUse" x1="0" y1="0" x2="66.2" y2="0"><stop offset="0" stop-color="#b3daf3" stop-opacity="0"/><stop offset="0.5" stop-color="#b3daf3" stop-opacity="1.0"/></linearGradient><path d="M0,-5.5 L46.2,-5.5 L43.8,-12.5 L66.2,0 L43.8,12.5 L46.2,5.5 L0,5.5Z" fill="url(#ga1)" transform="translate(592 1041) rotate(-17.9)"/><linearGradient id="ga2" gradientUnits="userSpaceOnUse" x1="0" y1="0" x2="66.9" y2="0"><stop offset="0" stop-color="#b3daf3" stop-opacity="0"/><stop offset="0.5" stop-color="#b3daf3" stop-opacity="1.0"/></linearGradient><path d="M0,-5.5 L46.9,-5.5 L44.5,-12.5 L66.9,0 L44.5,12.5 L46.9,5.5 L0,5.5Z" fill="url(#ga2)" transform="translate(825.5 1044.7) rotate(-163.5)"/><linearGradient id="ga3" gradientUnits="userSpaceOnUse" x1="0" y1="0" x2="67.2" y2="0"><stop offset="0" stop-color="#8fa6d3" stop-opacity="0"/><stop offset="0.45" stop-color="#8fa6d3" stop-opacity="1.0"/></linearGradient><path d="M0,-6 L46.2,-6 L43.7,-13 L67.2,0 L43.7,13 L46.2,6 L0,6Z" fill="url(#ga3)" transform="translate(592 1100.8) rotate(17.8)"/><linearGradient id="ga4" gradientUnits="userSpaceOnUse" x1="0" y1="0" x2="66" y2="0"><stop offset="0" stop-color="#8fa6d3" stop-opacity="0"/><stop offset="0.45" stop-color="#8fa6d3" stop-opacity="1.0"/></linearGradient><path d="M0,-6 L45,-6 L42.5,-13 L66,0 L42.5,13 L45,6 L0,6Z" fill="url(#ga4)" transform="translate(816 1105) rotate(161.5)"/><linearGradient id="ga5" gradientUnits="userSpaceOnUse" x1="0" y1="0" x2="178.3" y2="0"><stop offset="0" stop-color="#3a6f25" stop-opacity="0"/><stop offset="0.4" stop-color="#3a6f25" stop-opacity="1.0"/></linearGradient><path d="M0,-6.5 L154.3,-6.5 L151.4,-13 L178.3,0 L151.4,13 L154.3,6.5 L0,6.5Z" fill="url(#ga5)" transform="translate(1166.3 942.4) rotate(-150.8)"/><linearGradient id="ga6" gradientUnits="userSpaceOnUse" x1="0" y1="0" x2="105.8" y2="0"><stop offset="0" stop-color="#9a4d86" stop-opacity="0"/><stop offset="0.4" stop-color="#9a4d86" stop-opacity="1.0"/></linearGradient><path d="M0,-6 L84.8,-6 L82.3,-12.5 L105.8,0 L82.3,12.5 L84.8,6 L0,6Z" fill="url(#ga6)" transform="translate(1070.5 1330) rotate(-177.8)"/><linearGradient id="ga7" gradientUnits="userSpaceOnUse" x1="0" y1="0" x2="100.3" y2="0"><stop offset="0" stop-color="#f0c9d9" stop-opacity="0"/><stop offset="0.55" stop-color="#f0c9d9" stop-opacity="1.0"/></linearGradient><path d="M0,-5.5 L78.3,-5.5 L75.7,-12 L100.3,0 L75.7,12 L78.3,5.5 L0,5.5Z" fill="url(#ga7)" transform="translate(1383 1284.6) rotate(165.6)"/><linearGradient id="ga8" gradientUnits="userSpaceOnUse" x1="1304" y1="459" x2="1241" y2="527"><stop offset="0" stop-color="#2d5f8a" stop-opacity="0"/><stop offset="0.3" stop-color="#2d5f8a" stop-opacity="1.0"/></linearGradient><path d="M1305.2,462L1303,462.9 1300.7,463.8 1298.5,464.6 1296.2,465.4 1294,466.2 1291.8,467 1289.6,467.8 1287.5,468.7 1285.5,469.6 1283.5,470.5 1281.6,471.6 1279.8,472.7 1278,474 1276.3,475.3 1274.5,476.8 1272.8,478.3 1271.1,479.9 1269.5,481.6 1267.8,483.3 1266.3,485 1264.8,486.8 1263.3,488.5 1261.9,490.2 1260.6,492 1259.4,493.7 1258.2,495.4 1257.1,497.2 1256,499.1 1254.9,500.9 1254,502.8 1253,504.7 1252.1,506.5 1251.3,508.3 1250.5,510.1 1256.5,511.9 1241.1,526.6 1238.6,505.5 1244.5,507.4 1245.4,505.6 1246.3,503.7 1247.2,501.8 1248.2,499.8 1249.2,497.8 1250.3,495.8 1251.5,493.8 1252.7,491.9 1254,489.9 1255.4,488 1256.8,486.2 1258.3,484.4 1259.8,482.5 1261.4,480.7 1263.1,478.9 1264.8,477 1266.6,475.3 1268.4,473.5 1270.3,471.9 1272.2,470.3 1274.2,468.7 1276.2,467.3 1278.3,466 1280.5,464.8 1282.7,463.7 1285,462.7 1287.2,461.8 1289.5,460.9 1291.8,460.1 1294,459.3 1296.3,458.5 1298.5,457.7 1300.6,456.9 1302.8,456Z" fill="url(#ga8)"/><linearGradient id="ga9" gradientUnits="userSpaceOnUse" x1="828" y1="1190" x2="741" y2="1321"><stop offset="0" stop-color="#bfcbe8" stop-opacity="0"/><stop offset="0.25" stop-color="#bfcbe8" stop-opacity="0.95"/></linearGradient><path d="M828.7,1196L826.3,1196.3 823.8,1196.5 821.3,1196.7 818.9,1196.8 816.6,1196.9 814.3,1197.1 812.1,1197.3 810,1197.6 807.9,1197.9 806,1198.3 804.1,1198.9 802.2,1199.6 800.3,1200.4 798.3,1201.4 796.2,1202.4 794.2,1203.6 792.3,1204.8 790.3,1206.1 788.4,1207.5 786.5,1209 784.7,1210.6 782.9,1212.2 781.2,1214 779.6,1215.9 778,1217.9 776.4,1220 774.8,1222.3 773.3,1224.7 771.8,1227.3 770.4,1229.9 768.9,1232.7 767.6,1235.5 766.2,1238.4 765,1241.3 763.8,1244.2 762.6,1247.1 761.5,1250.1 760.6,1253.1 759.6,1256.2 758.7,1259.5 757.9,1262.8 757.1,1266.2 756.3,1269.5 755.6,1272.9 754.9,1276.3 754.2,1279.7 753.5,1283 752.9,1286.2 752.2,1289.3 751.7,1292.3 751.1,1295.3 750.6,1298.3 756.6,1299.1 741.2,1320 732.8,1295.4 738.8,1296.3 739.3,1293.2 739.9,1290.1 740.5,1287 741.1,1283.8 741.8,1280.6 742.5,1277.3 743.2,1273.9 743.9,1270.5 744.6,1267 745.4,1263.5 746.2,1259.9 747.1,1256.4 748.1,1253 749.1,1249.5 750.2,1246.1 751.4,1242.9 752.6,1239.7 753.9,1236.6 755.3,1233.4 756.7,1230.4 758.2,1227.3 759.8,1224.3 761.4,1221.4 763.1,1218.5 764.8,1215.8 766.6,1213.1 768.5,1210.5 770.4,1208.1 772.4,1205.9 774.5,1203.7 776.7,1201.7 778.9,1199.8 781.1,1198 783.4,1196.3 785.8,1194.7 788.1,1193.2 790.5,1191.9 792.9,1190.6 795.3,1189.5 797.8,1188.4 800.4,1187.5 803,1186.7 805.6,1186.1 808.3,1185.7 810.8,1185.4 813.3,1185.1 815.8,1185 818.2,1184.8 820.5,1184.7 822.8,1184.5 825,1184.3 827.3,1184Z" fill="url(#ga9)"/><path d="M585.6,245.9L591.2,258.1 601.4,248.5 601.5,261.6 615.1,255.8 609.7,268.1 624.8,267 614.7,276.7 629.2,280.4 615.7,286.3 627.7,294.3 612.7,295.6 620.6,306.8 606,303.3 608.7,316.2 596.5,308.3 593.6,321.3 585.6,310.1 577.6,321.3 574.7,308.3 562.5,316.2 565.2,303.3 550.6,306.8 558.5,295.6 543.5,294.3 555.5,286.3 542,280.4 556.5,276.7 546.4,267 561.5,268.1 556.1,255.8 569.7,261.6 569.8,248.5 580,258.1Z" fill="#df7c7f" stroke="#cb565e" stroke-width="2.1" stroke-linejoin="miter"/><text x="585.6" y="289.5" text-anchor="middle" font-size="20.8" font-weight="400" fill="#ffffff" textLength="42.6" lengthAdjust="spacingAndGlyphs">PICs</text><path d="M733.6,759.3L739.2,771.5 749.4,761.9 749.5,775 763.1,769.2 757.7,781.5 772.8,780.4 762.7,790.1 777.2,793.8 763.7,799.7 775.7,807.7 760.7,809 768.6,820.2 754,816.7 756.7,829.6 744.5,821.7 741.6,834.7 733.6,823.5 725.6,834.7 722.7,821.7 710.5,829.6 713.2,816.7 698.6,820.2 706.5,809 691.5,807.7 703.5,799.7 690,793.8 704.5,790.1 694.4,780.4 709.5,781.5 704.1,769.2 717.7,775 717.8,761.9 728,771.5Z" fill="#df7c7f" stroke="#cb565e" stroke-width="2.1" stroke-linejoin="miter"/><text x="733.6" y="802.9" text-anchor="middle" font-size="20.8" font-weight="400" fill="#ffffff" textLength="42.6" lengthAdjust="spacingAndGlyphs">PICs</text><path d="M1289.3,790.4L1294.9,802.6 1305.1,793 1305.2,806.1 1318.8,800.3 1313.4,812.6 1328.5,811.5 1318.4,821.2 1332.9,824.9 1319.4,830.8 1331.4,838.8 1316.4,840.1 1324.3,851.3 1309.7,847.8 1312.4,860.7 1300.2,852.8 1297.3,865.8 1289.3,854.6 1281.3,865.8 1278.4,852.8 1266.2,860.7 1268.9,847.8 1254.3,851.3 1262.2,840.1 1247.2,838.8 1259.2,830.8 1245.7,824.9 1260.2,821.2 1250.1,811.5 1265.2,812.6 1259.8,800.3 1273.4,806.1 1273.5,793 1283.7,802.6Z" fill="#df7c7f" stroke="#cb565e" stroke-width="2.1" stroke-linejoin="miter"/><text x="1289.3" y="834" text-anchor="middle" font-size="20.8" font-weight="400" fill="#ffffff" textLength="42.6" lengthAdjust="spacingAndGlyphs">PICs</text><path d="M1615,1311L1620.6,1323.2 1630.8,1313.6 1630.9,1326.7 1644.5,1320.9 1639.1,1333.2 1654.2,1332.1 1644.1,1341.8 1658.6,1345.5 1645.1,1351.4 1657.1,1359.4 1642.1,1360.7 1650,1371.9 1635.4,1368.4 1638.1,1381.3 1625.9,1373.4 1623,1386.4 1615,1375.2 1607,1386.4 1604.1,1373.4 1591.9,1381.3 1594.6,1368.4 1580,1371.9 1587.9,1360.7 1572.9,1359.4 1584.9,1351.4 1571.4,1345.5 1585.9,1341.8 1575.8,1332.1 1590.9,1333.2 1585.5,1320.9 1599.1,1326.7 1599.2,1313.6 1609.4,1323.2Z" fill="#df7c7f" stroke="#cb565e" stroke-width="2.1" stroke-linejoin="miter"/><text x="1615" y="1354.6" text-anchor="middle" font-size="20.8" font-weight="400" fill="#ffffff" textLength="42.6" lengthAdjust="spacingAndGlyphs">PICs</text><path d="M1086.4,972L1092,984.2 1102.2,974.6 1102.3,987.7 1115.9,981.9 1110.5,994.2 1125.6,993.1 1115.5,1002.8 1130,1006.5 1116.5,1012.4 1128.5,1020.4 1113.5,1021.7 1121.4,1032.9 1106.8,1029.4 1109.5,1042.3 1097.3,1034.4 1094.4,1047.4 1086.4,1036.2 1078.4,1047.4 1075.5,1034.4 1063.3,1042.3 1066,1029.4 1051.4,1032.9 1059.3,1021.7 1044.3,1020.4 1056.3,1012.4 1042.8,1006.5 1057.3,1002.8 1047.2,993.1 1062.3,994.2 1056.9,981.9 1070.5,987.7 1070.6,974.6 1080.8,984.2Z" fill="#df7c7f" stroke="#cb565e" stroke-width="2.1" stroke-linejoin="miter"/><text x="1086.4" y="1015.6" text-anchor="middle" font-size="20.8" font-weight="400" fill="#ffffff" textLength="29" lengthAdjust="spacingAndGlyphs">NO</text><path d="M621,316L624.6,320.3 628.1,324.5 631.7,328.5 635.2,332.6 638.8,336.7 642.3,340.9 645.9,345.3 649.5,349.9 653.2,354.7 657,360 660.9,365.7 665,371.7 669.2,378.1 673.4,384.7 677.7,391.5 681.9,398.4 686,405.2 689.9,412 693.6,418.6 697,425 700.1,431.2 703,437.4 705.8,443.5 708.3,449.6 710.8,455.6 713.1,461.6 715.3,467.5 717.6,473.4 719.8,479.2 722,485 724.2,490.8 726.5,496.7 728.7,502.6 730.8,508.4 732.9,514.2 734.9,519.8 736.8,525.3 738.7,530.5 740.4,535.4 742,540 743.5,544.2 744.8,548 746,551.5 747,554.8 748.1,557.9 749,560.9 750,563.8 750.9,566.8 751.9,569.8 753,573" fill="none" stroke="#8a86c4" stroke-width="4.5" stroke-dasharray="7.8 8.6"/><path d="M755.5,580.6 L744.6,568.9 L757.4,564.7Z" fill="#8a86c4"/><path d="M703,275L701.7,273.5 700.4,272 699.1,270.4 697.8,268.9 696.5,267.4 695.1,266 693.6,264.7 692,263.5 690.2,262.5 688.3,261.5 686.3,260.6 684.2,259.9 682.1,259.2 680,258.7 677.9,258.3 676,258 674.1,257.9 672.3,258 670.5,258.2 668.7,258.6 666.9,259 665.2,259.5 663.6,260 662,260.5 660.5,261 659,261.6 657.7,262.2 656.3,262.8 655,263.5 653.7,264.2 652.4,264.9 651,265.5" fill="none" stroke="#8a86c4" stroke-width="4.5" stroke-dasharray="7.8 8.6"/><path d="M643.9,269 L653.8,256.6 L659.8,268.6Z" fill="#8a86c4"/><path d="M355,1080L357.4,1076 359.8,1072 362,1068 364.3,1064 366.6,1060 368.9,1056 371.4,1052 374,1048 376.9,1044 380,1040 383.3,1036 386.7,1032 390.3,1027.9 394,1023.9 397.8,1019.9 401.8,1015.9 406.1,1011.9 410.5,1007.9 415.1,1003.9 420,1000 425.1,996.1 430.4,992.2 435.9,988.3 441.6,984.4 447.5,980.5 453.6,976.7 459.9,972.9 466.4,969.2 473.1,965.5 480,962 487.2,958.5 494.7,955.1 502.5,951.7 510.6,948.4 518.8,945.2 527,942 535.4,938.9 543.7,935.9 551.9,932.9 560,930 568.1,927.1 576.3,924.3 584.5,921.5 592.8,918.7 601,916.1 609.2,913.5 617.2,911.1 625,908.9 632.6,906.8 640,905 647.1,903.4 654,902 660.6,900.8 667.1,899.8 673.5,898.9 679.7,898.2 685.9,897.5 692,897 698,896.5 704,896 710,895.6 715.8,895.3 721.6,895.1 727.3,895 732.9,895 738.4,895.1 743.9,895.2 749.3,895.4 754.7,895.7 760,896 765.2,896.4 770.3,896.8 775.3,897.2 780.1,897.8 785,898.4 789.9,899.1 794.7,899.9 799.7,900.8 804.8,901.8 810,903 815.2,904.3 820.3,905.6 825.4,907 830.4,908.5 835.6,910.1 841,911.8 846.7,913.8 852.7,915.9 859.1,918.2 866,920.7 873.6,923.6 881.9,926.8 890.7,930.2 900,933.9 909.4,937.7 918.8,941.6 928.2,945.4 937.3,949.1 945.9,952.7 954,956 961.5,959.1 968.6,962.1 975.4,964.9 982,967.7 988.4,970.5 994.7,973.2 1000.9,975.8 1007.2,978.5 1013.5,981.2 1020,984" fill="none" stroke="#8a86c4" stroke-width="4.5" stroke-dasharray="7.8 8.6"/><path d="M1027.3,987.1 L1011.3,987.6 L1016.7,975.2Z" fill="#8a86c4"/><path d="M655,900L656.6,899.4 658.3,898.8 660,898.3 661.6,897.8 663.3,897.2 664.9,896.5 666.5,895.8 668,895 669.5,894.1 670.9,893.1 672.3,892.1 673.7,891 675,889.8 676.4,888.6 677.7,887.3 679,886 680.3,884.6 681.6,883 682.9,881.4 684.1,879.8 685.4,878.1 686.6,876.3 687.8,874.7 689,873 690.2,871.4 691.4,869.7 692.6,868 693.8,866.3 694.9,864.7 696,863 697,861.5 698,860 698.9,858.6 699.7,857.3 700.5,856 701.2,854.8 701.9,853.6 702.6,852.4 703.3,851.2 704,850" fill="none" stroke="#8a86c4" stroke-width="4.5" stroke-dasharray="7.8 8.6"/><path d="M708,843.1 L706.5,859 L694.9,852.2Z" fill="#8a86c4"/><path d="M723,940L723.2,933.4 723.3,926.7 723.4,920.1 723.6,913.5 723.8,906.8 724,900 724.3,893.1 724.6,886.1 724.9,879.1 725.3,872.1 725.7,865 726,858" fill="none" stroke="#8a86c4" stroke-width="4.5" stroke-dasharray="7.8 8.6"/><path d="M726.4,850 L732.4,864.9 L718.9,864.2Z" fill="#8a86c4"/><path d="M730.6,753L730.7,749.3 730.8,745.7 730.9,742 730.9,738.3 731,734.6 731.2,731 731.5,727.3 732,723.6 732.6,719.8 733.4,715.9 734.2,711.9 735.1,707.9 736.1,704 737.2,700.4 738.3,697 739.5,694 740.7,691.4 742.1,689.1 743.5,687.1 744.9,685.3 746.4,683.7 747.9,682.2 749.5,680.8 751,679.4 752.6,678.1 754.1,677 755.8,676.1 757.4,675.2 759.1,674.5 760.7,673.7 762.4,672.9 764,672" fill="none" stroke="#8a86c4" stroke-width="4.5" stroke-dasharray="7.8 8.6"/><path d="M771.1,668.4 L761.2,681 L755.2,668.9Z" fill="#8a86c4"/><path d="M1054,968L1052.9,965.8 1051.8,963.5 1050.6,961.3 1049.4,959.1 1048.3,956.9 1047.3,954.6 1046.5,952.3 1046,950 1045.7,947.6 1045.7,945 1045.8,942.4 1046,939.8 1046.4,937.2 1046.8,934.7 1047.4,932.3 1048,930 1048.7,927.9 1049.6,925.8 1050.6,923.8 1051.7,921.9 1052.8,920 1053.9,918.3 1055,916.6 1056,915 1056.9,913.5 1057.8,912.1 1058.7,910.9 1059.6,909.7 1060.4,908.5 1061.3,907.4 1062.1,906.2 1063,905" fill="none" stroke="#8a86c4" stroke-width="4.5" stroke-dasharray="7.8 8.6"/><line x1="1069.5" y1="909.7" x2="1056.5" y2="900.3" stroke="#8a86c4" stroke-width="4"/><path d="M1346,1008L1342,1008 1337.9,1008 1333.7,1008.1 1329.5,1008.1 1325.5,1008.1 1321.6,1008.1 1318.1,1008.1 1315,1008 1312.3,1007.7 1309.9,1007 1307.8,1006.3 1305.9,1005.5 1304.3,1004.9 1302.7,1004.7 1301.3,1005 1300,1006 1298.8,1007.8 1298,1010.2 1297.3,1013.2 1296.7,1016.5 1296.1,1020 1295.6,1023.5 1294.9,1026.9 1294,1030 1293,1032.9 1292.1,1035.7 1291.1,1038.6 1290,1041.4 1288.8,1044.1 1287.4,1046.8 1285.9,1049.5 1284,1052 1281.9,1054.5 1279.5,1057 1276.8,1059.4 1274.1,1061.8 1271.1,1064 1268.1,1066.2 1265.1,1068.2 1262,1070 1258.9,1071.7 1255.8,1073.3 1252.6,1074.9 1249.3,1076.2 1245.9,1077.5 1242.4,1078.5 1238.8,1079.4 1235,1080 1231,1080.4 1226.7,1080.6 1222.3,1080.7 1217.8,1080.5 1213.3,1080.2 1208.7,1079.6 1204.3,1078.9 1200,1078 1195.8,1076.8 1191.6,1075.4 1187.4,1073.7 1183.2,1071.9 1179.2,1069.9 1175.3,1067.9 1171.5,1065.9 1168,1064 1164.7,1062.1 1161.6,1060.1 1158.7,1058.1 1155.9,1056.1 1153.2,1054.1 1150.5,1052 1147.8,1050 1145,1048" fill="none" stroke="#8a86c4" stroke-width="4.5" stroke-dasharray="7.8 8.6"/><path d="M1138.6,1043.3 L1154.3,1046.5 L1146.2,1057.3Z" fill="#8a86c4"/><path d="M1300,1004L1298.3,1002.3 1296.6,1000.5 1294.8,998.8 1293.1,997.1 1291.4,995.3 1289.8,993.6 1288.3,991.8 1287,990 1285.9,988.3 1284.9,986.8 1284,985.3 1283.3,983.8 1282.6,982.1 1281.9,980.2 1281.3,977.8 1280.6,975 1279.9,971.6 1279.2,967.6 1278.5,963.2 1277.8,958.5 1277.2,953.7 1276.7,949 1276.3,944.3 1276,940 1275.9,935.8 1275.9,931.7 1276,927.5 1276.3,923.5 1276.6,919.5 1276.9,915.7 1277.2,912.1 1277.5,908.7 1277.8,905.6 1278.1,902.8 1278.5,900.2 1278.9,897.7 1279.3,895.3 1279.7,892.9 1280.1,890.5 1280.5,888" fill="none" stroke="#8a86c4" stroke-width="4.5" stroke-dasharray="7.8 8.6"/><path d="M1281.8,880.1 L1286.1,895.5 L1272.8,893.4Z" fill="#8a86c4"/><path d="M1272,782L1271.2,776.2 1270.4,770.3 1269.5,764.4 1268.7,758.6 1267.9,753.1 1267,748 1266.1,743.3 1265.2,738.8 1264.2,734.6 1263.3,730.7 1262.4,727.2 1261.5,724 1260.7,721.3 1259.9,719.1 1259.2,717.2 1258.5,715.6 1257.7,713.9 1257,712" fill="none" stroke="#8a86c4" stroke-width="4.5" stroke-dasharray="7.8 8.6"/><path d="M1253.9,704.6 L1265.7,715.4 L1253.3,720.6Z" fill="#8a86c4"/><path d="M1650,1290L1652.8,1285.7 1655.8,1281.4 1658.8,1277.1 1661.8,1272.8 1664.6,1268.5 1667.3,1264.1 1669.8,1259.6 1672,1255 1673.9,1250.3 1675.6,1245.5 1677.2,1240.6 1678.5,1235.6 1679.7,1230.6 1680.6,1225.5 1681.4,1220.3 1682,1215 1682.4,1209.6 1682.6,1204.2 1682.7,1198.7 1682.6,1193.1 1682.2,1187.5 1681.7,1181.7 1681,1175.9 1680,1170 1678.8,1163.9 1677.4,1157.5 1675.8,1151 1673.9,1144.4 1671.9,1137.9 1669.8,1131.6 1667.4,1125.6 1665,1120 1662.4,1115 1659.7,1110.5 1656.8,1106.4 1653.8,1102.5 1650.5,1098.6 1647.2,1094.5 1643.7,1090 1640,1085 1636.2,1079.5 1632.2,1073.6 1628,1067.4 1623.8,1061 1619.3,1054.5 1614.7,1047.9 1609.9,1041.4 1605,1035 1599.8,1028.6 1594.4,1022.2 1588.7,1015.6 1582.9,1009.1 1577,1002.7 1571.2,996.3 1565.5,990 1560,984 1554.7,978.2 1549.6,972.6 1544.6,967.1 1539.6,961.8 1534.6,956.4 1529.6,951 1524.4,945.6 1519,940 1513.4,934.3 1507.7,928.4 1501.8,922.5 1495.9,916.5 1489.9,910.6 1483.9,904.6 1477.9,898.8 1472,893 1466.1,887.3 1460.2,881.7 1454.2,876.2 1448.3,870.6 1442.3,865.1 1436.4,859.6 1430.4,854.1 1424.5,848.6 1418.6,843 1412.6,837.4 1406.7,831.7 1400.7,826.1 1394.8,820.5 1388.9,815 1382.9,809.6 1377,804.4 1371,799.3 1364.9,794.3 1358.8,789.4 1352.7,784.6 1346.7,779.9 1340.8,775.3 1335.1,770.8 1329.6,766.4 1324.4,762.1 1319.4,757.9 1314.6,753.8 1310,749.8 1305.4,745.9 1300.8,742.1 1296.3,738.4 1291.7,734.8 1287,731.2 1282.1,727.7 1277.3,724.2 1272.5,720.8 1267.8,717.5 1263.3,714.5 1259.2,711.6 1255.4,709 1252.2,706.7 1249.4,704.7 1247,703 1244.8,701.4 1242.7,699.9 1240.4,698.5 1237.8,697 1234.8,695.3 1231.3,693.5 1227.4,691.6 1223.2,689.6 1218.9,687.6 1214.6,685.7 1210.5,684 1206.5,682.4 1203,681 1199.8,679.9 1196.8,678.9 1193.9,678.1 1191.3,677.5 1188.7,676.9 1186.4,676.4 1184.1,676 1182,675.5 1180.1,675.1 1178.4,674.8 1176.8,674.5 1175.4,674.3 1174.1,674.1 1172.8,673.9 1171.4,673.7 1170,673.5" fill="none" stroke="#8a86c4" stroke-width="4.5" stroke-dasharray="7.8 8.6"/><path d="M1162.1,672.4 L1177.4,667.8 L1175.5,681.1Z" fill="#8a86c4"/><path d="M1522,1234.5L1525.3,1234.1 1528.5,1233.7 1531.8,1233.2 1535.1,1232.7 1538.4,1232.3 1541.6,1232 1544.8,1231.9 1548,1232 1551.1,1232.3 1554.2,1232.7 1557.3,1233.3 1560.4,1234 1563.4,1234.8 1566.3,1235.7 1569.2,1236.8 1572,1238 1574.8,1239.3 1577.5,1240.8 1580.3,1242.4 1582.9,1244.1 1585.5,1246 1587.9,1247.9 1590.1,1249.9 1592,1252 1593.7,1254.2 1595.2,1256.7 1596.5,1259.3 1597.6,1261.9 1598.6,1264.6 1599.5,1267.2 1600.3,1269.7 1601,1272 1601.6,1274.1 1602,1276.1 1602.3,1278 1602.4,1279.8 1602.6,1281.6 1602.7,1283.4 1602.8,1285.2 1603,1287" fill="none" stroke="#8a86c4" stroke-width="4.5" stroke-dasharray="7.8 8.6"/><path d="M1603.7,1294.9 L1595.7,1281 L1609.2,1279.9Z" fill="#8a86c4"/><path d="M1253,1365L1253.3,1366.9 1253.4,1368.8 1253.4,1370.8 1253.5,1372.7 1253.7,1374.6 1254.1,1376.5 1254.9,1378.3 1256,1380 1257.4,1381.7 1259,1383.4 1260.8,1385.1 1262.9,1386.7 1265.3,1388.2 1268,1389.6 1271.3,1390.9 1275,1392 1279.1,1392.9 1283.6,1393.7 1288.4,1394.3 1293.7,1394.8 1299.4,1395.2 1305.7,1395.5 1312.5,1395.8 1320,1396 1328.4,1396.1 1337.8,1396.2 1347.9,1396.2 1358.4,1396.1 1369.2,1395.9 1379.9,1395.6 1390.2,1395.4 1400,1395 1409.4,1394.6 1418.7,1394.1 1427.9,1393.6 1436.9,1393 1445.7,1392.3 1454.1,1391.6 1462.3,1390.8 1470,1390 1477.3,1389.1 1484.3,1388 1491,1386.9 1497.4,1385.7 1503.4,1384.5 1509.2,1383.3 1514.7,1382.1 1520,1381 1524.9,1380 1529.3,1378.9 1533.3,1377.9 1537.1,1376.9 1540.8,1376 1544.4,1375 1548.1,1374 1552,1373" fill="none" stroke="#8a86c4" stroke-width="4.5" stroke-dasharray="7.8 8.6"/><path d="M1559.7,1371 L1547.4,1381.2 L1544,1368.1Z" fill="#8a86c4"/><path d="M1378,1570L1377.6,1565 1377.2,1560 1376.7,1554.9 1376.2,1549.9 1375.9,1544.9 1375.6,1540 1375.5,1535.3 1375.6,1530.8 1375.9,1526.5 1376.4,1522.4 1377.1,1518.5 1377.8,1514.7 1378.7,1511 1379.7,1507.3 1380.8,1503.7 1382,1500 1383.2,1496.4 1384.5,1492.8 1385.9,1489.3 1387.3,1485.8 1389,1482.3 1390.8,1478.9 1392.8,1475.4 1395,1472 1397.5,1468.6 1400.2,1465.1 1403.1,1461.7 1406.1,1458.3 1409.4,1454.9 1412.8,1451.6 1416.3,1448.3 1420,1445 1423.8,1441.8 1427.8,1438.6 1432,1435.4 1436.2,1432.3 1440.7,1429.2 1445.3,1426.1 1450.1,1423.1 1455,1420 1460.1,1416.9 1465.4,1413.9 1470.8,1410.8 1476.4,1407.8 1482.2,1404.7 1488,1401.8 1494,1398.8 1500,1396 1506.2,1393.2 1512.5,1390.5 1519,1387.9 1525.6,1385.3 1532.2,1382.7 1538.8,1380.2 1545.5,1377.6 1552,1375" fill="none" stroke="#8a86c4" stroke-width="4.5" stroke-dasharray="7.8 8.6"/><path d="M1559.4,1372.1 L1548.4,1383.7 L1543.5,1371.1Z" fill="#8a86c4"/><rect x="384.9" y="166.6" width="35.5" height="36" rx="4.5" fill="#353535" stroke="#0a0a0a" stroke-width="1.6"/><text x="402.6" y="192" text-anchor="middle" font-size="23.6" font-weight="700" fill="#ffffff" style="font-family:'Liberation Sans',sans-serif">6</text><text x="447" y="175.8" font-size="24" font-weight="700" fill="#c1312d" textLength="103" lengthAdjust="spacingAndGlyphs">Activated</text><text x="434.5" y="207.8" font-size="24" font-weight="700" fill="#c1312d" textLength="135" lengthAdjust="spacingAndGlyphs">macrophage</text><rect x="1025" y="175" width="35.5" height="36" rx="4.5" fill="#353535" stroke="#0a0a0a" stroke-width="1.6"/><text x="1042.8" y="200.4" text-anchor="middle" font-size="23.6" font-weight="700" fill="#ffffff" style="font-family:'Liberation Sans',sans-serif" textLength="27" lengthAdjust="spacingAndGlyphs">10</text><text x="897" y="176" font-size="24" font-weight="700" fill="#e8892b" textLength="103" lengthAdjust="spacingAndGlyphs">Activated</text><text x="900" y="208" font-size="24" font-weight="700" fill="#e8892b" textLength="102" lengthAdjust="spacingAndGlyphs">microglia</text><text x="1268" y="233" font-size="24" font-weight="700" fill="#e8965c" textLength="158" lengthAdjust="spacingAndGlyphs">pHERV-W ENV</text><text x="1297" y="334" font-size="24" font-weight="700" fill="#1b5a8c" textLength="125" lengthAdjust="spacingAndGlyphs">Plasma cell</text><text x="780" y="533" font-size="21" font-weight="700" fill="#151515" textLength="66" lengthAdjust="spacingAndGlyphs">Myelin</text><text x="778" y="561" font-size="21" font-weight="700" fill="#151515" textLength="77" lengthAdjust="spacingAndGlyphs">leakage</text><text x="990" y="556" font-size="21" font-weight="700" fill="#151515" textLength="140" lengthAdjust="spacingAndGlyphs">Demyelination</text><text x="857" y="776.5" font-size="21.5" font-weight="700" fill="#6e9470" textLength="160" lengthAdjust="spacingAndGlyphs">Oligodendrocyte</text><text x="1077.8" y="849.3" font-size="22" font-weight="700" fill="#2f5f28" textLength="139" lengthAdjust="spacingAndGlyphs" transform="rotate(27.4 1077.8 849.3)">Differentiation</text><text x="683.6" y="967.6" font-size="25" font-weight="700" fill="#92a8d3" textLength="40" lengthAdjust="spacingAndGlyphs">Th1</text><text x="673.8" y="1196.5" font-size="25" font-weight="700" fill="#5560a2" textLength="56" lengthAdjust="spacingAndGlyphs">Th17</text><rect x="571" y="1219.8" width="35.5" height="36" rx="4.5" fill="#353535" stroke="#0a0a0a" stroke-width="1.6"/><text x="588.8" y="1245.2" text-anchor="middle" font-size="23.6" font-weight="700" fill="#ffffff" style="font-family:'Liberation Sans',sans-serif">3</text><text x="644" y="1237" font-size="24" font-weight="700" fill="#55589f" textLength="104" lengthAdjust="spacingAndGlyphs">Specific T</text><text x="623" y="1266.8" font-size="24" font-weight="700" fill="#55589f" textLength="146.4" lengthAdjust="spacingAndGlyphs">cell activation</text><rect x="401.3" y="1372" width="35.5" height="36" rx="4.5" fill="#353535" stroke="#0a0a0a" stroke-width="1.6"/><text x="419.1" y="1397.4" text-anchor="middle" font-size="23.6" font-weight="700" fill="#ffffff" style="font-family:'Liberation Sans',sans-serif">7</text><text x="459" y="1375.7" font-size="24" font-weight="700" fill="#55589f" textLength="134.3" lengthAdjust="spacingAndGlyphs">Non-specific</text><text x="475.6" y="1406" font-size="24" font-weight="700" fill="#55589f" textLength="106.7" lengthAdjust="spacingAndGlyphs">polyclonal</text><text x="448.7" y="1437.5" font-size="24" font-weight="700" fill="#55589f" textLength="166.7" lengthAdjust="spacingAndGlyphs">T cell activation</text><rect x="214.7" y="1241.6" width="35.5" height="36" rx="4.5" fill="#353535" stroke="#0a0a0a" stroke-width="1.6"/><text x="232.4" y="1267" text-anchor="middle" font-size="23.6" font-weight="700" fill="#ffffff" style="font-family:'Liberation Sans',sans-serif">1</text><text x="267.8" y="1252" font-size="24" font-weight="700" fill="#e8892b" textLength="99.6" lengthAdjust="spacingAndGlyphs">Activated</text><text x="271.7" y="1282.8" font-size="24" font-weight="700" fill="#e8892b" textLength="97.3" lengthAdjust="spacingAndGlyphs">microglia</text><rect x="352" y="1586.7" width="35.5" height="36" rx="4.5" fill="#353535" stroke="#0a0a0a" stroke-width="1.6"/><text x="369.8" y="1612.1" text-anchor="middle" font-size="23.6" font-weight="700" fill="#ffffff" style="font-family:'Liberation Sans',sans-serif">2</text><text x="406.3" y="1601" font-size="24" font-weight="700" fill="#9c2326" textLength="128.7" lengthAdjust="spacingAndGlyphs">Immune cell</text><text x="416.6" y="1631.7" font-size="24" font-weight="700" fill="#9c2326" textLength="108.4" lengthAdjust="spacingAndGlyphs">infiltration</text><rect x="1057.8" y="1424.6" width="35.5" height="36" rx="4.5" fill="#353535" stroke="#0a0a0a" stroke-width="1.6"/><text x="1075.5" y="1450" text-anchor="middle" font-size="23.6" font-weight="700" fill="#ffffff" style="font-family:'Liberation Sans',sans-serif">5</text><text x="1135" y="1438.3" font-size="24" font-weight="700" fill="#8e3a78" textLength="103" lengthAdjust="spacingAndGlyphs">Activated</text><text x="1119" y="1469.6" font-size="24" font-weight="700" fill="#8e3a78" textLength="135" lengthAdjust="spacingAndGlyphs">dentritic cell</text><rect x="1042.5" y="1624" width="35.5" height="36" rx="4.5" fill="#353535" stroke="#0a0a0a" stroke-width="1.6"/><text x="1060.2" y="1649.4" text-anchor="middle" font-size="23.6" font-weight="700" fill="#ffffff" style="font-family:'Liberation Sans',sans-serif">8</text><text x="1101.6" y="1628" font-size="24" font-weight="700" fill="#9c2326" textLength="201.4" lengthAdjust="spacingAndGlyphs">Activated vascular</text><text x="1119.6" y="1659.6" font-size="24" font-weight="700" fill="#9c2326" textLength="165.2" lengthAdjust="spacingAndGlyphs">endothelial cell</text><rect x="1336.8" y="1332" width="35.5" height="36" rx="4.5" fill="#353535" stroke="#0a0a0a" stroke-width="1.6"/><text x="1354.5" y="1357.4" text-anchor="middle" font-size="23.6" font-weight="700" fill="#ffffff" style="font-family:'Liberation Sans',sans-serif">4</text><text x="1399.7" y="1338.4" font-size="24" font-weight="700" fill="#a668a6" textLength="102.3" lengthAdjust="spacingAndGlyphs">Activated</text><text x="1400.5" y="1369.5" font-size="24" font-weight="700" fill="#a668a6" textLength="106.9" lengthAdjust="spacingAndGlyphs">monocyte</text><rect x="1488" y="969" width="35.5" height="36" rx="4.5" fill="#353535" stroke="#0a0a0a" stroke-width="1.6"/><text x="1505.8" y="994.4" text-anchor="middle" font-size="23.6" font-weight="700" fill="#ffffff" style="font-family:'Liberation Sans',sans-serif">9</text><text x="1448" y="1040" font-size="21.5" font-weight="700" fill="#2f5a30" textLength="92" lengthAdjust="spacingAndGlyphs">Activated</text><text x="1476" y="1068" font-size="21.5" font-weight="700" fill="#2f5a30" textLength="42" lengthAdjust="spacingAndGlyphs">OPC</text><text x="975" y="1301" font-size="22" font-weight="700" fill="#8e3a78" textLength="106" lengthAdjust="spacingAndGlyphs" transform="rotate(2 975 1301)">Maturation</text><text x="1676.5" y="1472" font-size="35" font-weight="700" fill="#8a87c0" textLength="72.5" lengthAdjust="spacingAndGlyphs">CNS</text><text x="1673" y="1632.8" font-size="36" font-weight="700" fill="#c4535b" textLength="96.7" lengthAdjust="spacingAndGlyphs">Blood</text></svg></body></html>
